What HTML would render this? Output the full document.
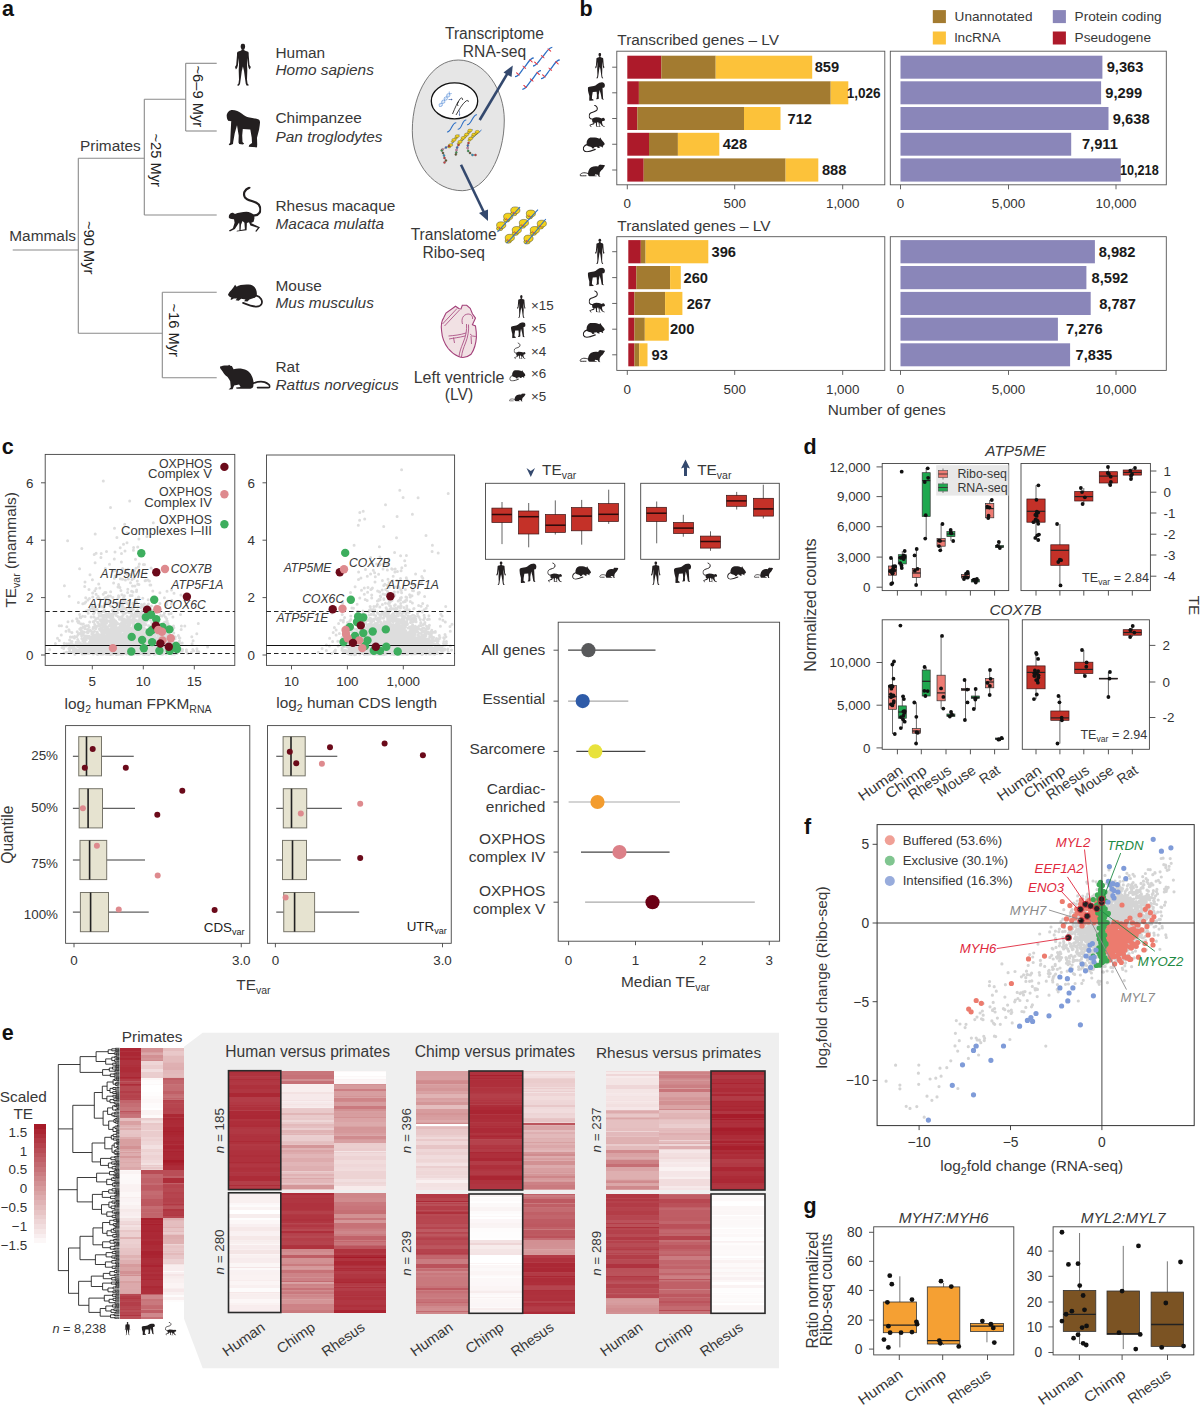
<!DOCTYPE html>
<html><head><meta charset="utf-8"><title>Figure</title>
<style>html,body{margin:0;padding:0;background:#fff;width:1200px;height:1407px;overflow:hidden}
svg{display:block;font-family:"Liberation Sans", sans-serif}</style></head>
<body><svg width="1200" height="1407" viewBox="0 0 1200 1407">
<defs><symbol id="human" viewBox="0 0 16.5 42.7" preserveAspectRatio="none"><ellipse cx="8.4" cy="3" rx="2.2" ry="3" fill="#231F20"/>
<path fill="#231F20" d="M8.4,5.5 L9.8,6 L10,7.2 L13.6,8.3 C14.2,8.8 14.3,10 14.2,11.5 L15,21.5 L16.3,23.5 L15.3,26 L14.2,24.5 L13.5,22 L12.7,14.5 L12.5,21 L12.8,27 L12.5,36 L13,40 L14.5,41.8 L12.3,42.3 L11.3,40.5 L10.5,35 L9.5,27.5 L8.4,23 L7.3,27.5 L6.3,35 L5.5,40.5 L4.3,42.3 L2.5,41.8 L4,40 L4.5,36 L4.2,27 L4.5,21 L4.2,14.5 L3.4,22 L2.6,24.5 L1.4,26 L0.5,23.5 L1.7,21.5 L2.5,11.5 C2.4,10 2.6,8.8 3.2,8.3 L6.8,7.2 L7,6 Z"/></symbol>
<symbol id="humanR" viewBox="0 0 16.5 42.7" preserveAspectRatio="none"><g transform="translate(16.5,0) scale(-1,1)"><ellipse cx="8.4" cy="3" rx="2.2" ry="3" fill="#231F20"/>
<path fill="#231F20" d="M8.4,5.5 L9.8,6 L10,7.2 L13.6,8.3 C14.2,8.8 14.3,10 14.2,11.5 L15,21.5 L16.3,23.5 L15.3,26 L14.2,24.5 L13.5,22 L12.7,14.5 L12.5,21 L12.8,27 L12.5,36 L13,40 L14.5,41.8 L12.3,42.3 L11.3,40.5 L10.5,35 L9.5,27.5 L8.4,23 L7.3,27.5 L6.3,35 L5.5,40.5 L4.3,42.3 L2.5,41.8 L4,40 L4.5,36 L4.2,27 L4.5,21 L4.2,14.5 L3.4,22 L2.6,24.5 L1.4,26 L0.5,23.5 L1.7,21.5 L2.5,11.5 C2.4,10 2.6,8.8 3.2,8.3 L6.8,7.2 L7,6 Z"/></g></symbol>
<symbol id="chimp" viewBox="0 0 34 38.3" preserveAspectRatio="none"><path fill="#231F20" d="M0.4,5.8 C1,2.5 3.5,0.4 5.8,0.4 C9,0.3 13,2 15.8,4.2 C18,6 20,7.3 22,7.8 C26,8.6 30,9 32.5,10 C34,11 34,13 33.5,16 L32.9,20 L30.8,28.3 L31,35 L30.8,37.9 L22.5,37.2 L23,35.5 L25.8,33.6 L25.5,28 L24.1,20 L16.6,19.6 L16,26 L16.3,32.5 L18,34.2 L16.6,35 L13,34.5 L12.3,33 L12.5,26 L10.8,15.8 L8.5,24 L7,32.4 L6.8,34.5 L3.7,35.8 L2.5,35.3 L4,33 L4.2,28.3 L5,11.6 C3.5,11.8 2,11.5 1.5,10.5 C0.8,9.5 0.5,8 0.4,5.8 Z"/></symbol>
<symbol id="chimpR" viewBox="0 0 34 38.3" preserveAspectRatio="none"><g transform="translate(34.0,0) scale(-1,1)"><path fill="#231F20" d="M0.4,5.8 C1,2.5 3.5,0.4 5.8,0.4 C9,0.3 13,2 15.8,4.2 C18,6 20,7.3 22,7.8 C26,8.6 30,9 32.5,10 C34,11 34,13 33.5,16 L32.9,20 L30.8,28.3 L31,35 L30.8,37.9 L22.5,37.2 L23,35.5 L25.8,33.6 L25.5,28 L24.1,20 L16.6,19.6 L16,26 L16.3,32.5 L18,34.2 L16.6,35 L13,34.5 L12.3,33 L12.5,26 L10.8,15.8 L8.5,24 L7,32.4 L6.8,34.5 L3.7,35.8 L2.5,35.3 L4,33 L4.2,28.3 L5,11.6 C3.5,11.8 2,11.5 1.5,10.5 C0.8,9.5 0.5,8 0.4,5.8 Z"/></g></symbol>
<symbol id="rhesus" viewBox="0 0 32.8 45.2" preserveAspectRatio="none"><path fill="#231F20" d="M0.2,30.5 C0.5,28 1.5,26.2 3.8,25.9 C5,25.9 5.8,26.5 6.5,27.2 C10,26 14,25 18,25 C21,25.2 23.5,26 26,28.6 L26,31.6 L25.2,35 L22.6,36.3 L31.6,40.4 L28,45 L26.8,44.4 L29.5,41 L22,38.8 L20.6,35.5 L18.5,36.3 L18.2,43.5 L8.2,44.8 L8.5,44 L16.5,42.5 L16,36 L14.1,34.2 L12.6,38 L12.2,43.5 L11,43.8 L11,38 L10.7,35.8 L6.5,42.2 L1.5,44.8 L0.5,43.6 L4.5,41.4 L6.2,36 L5.6,32.4 C3,32.5 1,32 0.2,30.5 Z"/>
<path fill="none" stroke="#231F20" stroke-width="2.2" stroke-linecap="round" d="M21,0.8 C16,2.5 14.5,7 16.5,10.5 C18.5,13.5 24,14 28,16 C32,18 33,23 31,26 C29.5,28.2 27.5,28.8 25.5,28.5"/></symbol>
<symbol id="rhesusR" viewBox="0 0 32.8 45.2" preserveAspectRatio="none"><g transform="translate(32.8,0) scale(-1,1)"><path fill="#231F20" d="M0.2,30.5 C0.5,28 1.5,26.2 3.8,25.9 C5,25.9 5.8,26.5 6.5,27.2 C10,26 14,25 18,25 C21,25.2 23.5,26 26,28.6 L26,31.6 L25.2,35 L22.6,36.3 L31.6,40.4 L28,45 L26.8,44.4 L29.5,41 L22,38.8 L20.6,35.5 L18.5,36.3 L18.2,43.5 L8.2,44.8 L8.5,44 L16.5,42.5 L16,36 L14.1,34.2 L12.6,38 L12.2,43.5 L11,43.8 L11,38 L10.7,35.8 L6.5,42.2 L1.5,44.8 L0.5,43.6 L4.5,41.4 L6.2,36 L5.6,32.4 C3,32.5 1,32 0.2,30.5 Z"/>
<path fill="none" stroke="#231F20" stroke-width="2.2" stroke-linecap="round" d="M21,0.8 C16,2.5 14.5,7 16.5,10.5 C18.5,13.5 24,14 28,16 C32,18 33,23 31,26 C29.5,28.2 27.5,28.8 25.5,28.5"/></g></symbol>
<symbol id="mouse" viewBox="0 0 36.5 24.5" preserveAspectRatio="none"><path fill="#231F20" d="M0.5,11 C1.5,9 2.5,7.5 4,6.2 L6.2,3.5 L7.8,0.8 L9.4,2.8 C12,1 18,0.2 24,0.9 C28,2 30.3,6 30.2,10.5 C30,12.8 28.8,14 27,14.5 L22.5,15.8 L20.5,18 L17,17.6 L18.5,16 L14,15.2 L11.5,17.2 L8.3,16.8 L9.8,15 L6.5,14.8 L4.2,16.3 L3,15.8 L4,14 C2.8,13.6 1.6,12.8 0.5,11 Z"/>
<path fill="none" stroke="#231F20" stroke-width="1.8" stroke-linecap="round" d="M29.5,12 C34,13 36.5,17 35,20.5 C33.5,24 27,24 16,19.4"/></symbol>
<symbol id="mouseR" viewBox="0 0 36.5 24.5" preserveAspectRatio="none"><g transform="translate(36.5,0) scale(-1,1)"><path fill="#231F20" d="M0.5,11 C1.5,9 2.5,7.5 4,6.2 L6.2,3.5 L7.8,0.8 L9.4,2.8 C12,1 18,0.2 24,0.9 C28,2 30.3,6 30.2,10.5 C30,12.8 28.8,14 27,14.5 L22.5,15.8 L20.5,18 L17,17.6 L18.5,16 L14,15.2 L11.5,17.2 L8.3,16.8 L9.8,15 L6.5,14.8 L4.2,16.3 L3,15.8 L4,14 C2.8,13.6 1.6,12.8 0.5,11 Z"/>
<path fill="none" stroke="#231F20" stroke-width="1.8" stroke-linecap="round" d="M29.5,12 C34,13 36.5,17 35,20.5 C33.5,24 27,24 16,19.4"/></g></symbol>
<symbol id="rat" viewBox="0 0 51 25.5" preserveAspectRatio="none"><path fill="#231F20" d="M0.5,2 C2.5,0.8 6,0.6 8.8,0.9 L9.4,0 L10.6,1.1 L12.3,1.4 C13,2.5 13.5,4 14,4.6 C18,3.6 23,3.6 27.5,6 C31.5,8.5 33.5,13 34.1,18.5 L33.6,22.2 C33,23.6 31.5,24.2 29.5,24.2 L17,24.2 L16.4,23 L21,22.5 L19.5,20 L14.5,21 L13,24.6 L9,24.8 L11.2,23 L10.6,16.6 C9.5,14.5 8.5,13 7.4,12 C5.5,10.5 4,9 3.2,7.2 C2.2,5.6 1.2,4.5 0.9,4.1 C0.4,3.4 0.3,2.5 0.5,2 Z"/>
<path fill="none" stroke="#231F20" stroke-width="1.8" stroke-linecap="round" d="M34,18.5 C38,17 42,16.5 45,17.5 C48,18.5 51,21 50,22.5 C49,23.5 43,23 38,23"/></symbol>
<symbol id="ratR" viewBox="0 0 51 25.5" preserveAspectRatio="none"><g transform="translate(51.0,0) scale(-1,1)"><path fill="#231F20" d="M0.5,2 C2.5,0.8 6,0.6 8.8,0.9 L9.4,0 L10.6,1.1 L12.3,1.4 C13,2.5 13.5,4 14,4.6 C18,3.6 23,3.6 27.5,6 C31.5,8.5 33.5,13 34.1,18.5 L33.6,22.2 C33,23.6 31.5,24.2 29.5,24.2 L17,24.2 L16.4,23 L21,22.5 L19.5,20 L14.5,21 L13,24.6 L9,24.8 L11.2,23 L10.6,16.6 C9.5,14.5 8.5,13 7.4,12 C5.5,10.5 4,9 3.2,7.2 C2.2,5.6 1.2,4.5 0.9,4.1 C0.4,3.4 0.3,2.5 0.5,2 Z"/>
<path fill="none" stroke="#231F20" stroke-width="1.8" stroke-linecap="round" d="M34,18.5 C38,17 42,16.5 45,17.5 C48,18.5 51,21 50,22.5 C49,23.5 43,23 38,23"/></g></symbol></defs>
<text x="2" y="16" font-size="21.5" fill="#111" font-weight="bold">a</text>
<line x1="12.7" y1="250" x2="78.3" y2="250" stroke="#8a8a8a" stroke-width="1.1"/>
<line x1="78.3" y1="158.3" x2="78.3" y2="333.3" stroke="#8a8a8a" stroke-width="1.1"/>
<line x1="78.3" y1="158.3" x2="144.3" y2="158.3" stroke="#8a8a8a" stroke-width="1.1"/>
<line x1="144.3" y1="99.3" x2="144.3" y2="215" stroke="#8a8a8a" stroke-width="1.1"/>
<line x1="144.3" y1="99.3" x2="185.7" y2="99.3" stroke="#8a8a8a" stroke-width="1.1"/>
<line x1="185.7" y1="63.3" x2="185.7" y2="131" stroke="#8a8a8a" stroke-width="1.1"/>
<line x1="185.7" y1="63.3" x2="216.7" y2="63.3" stroke="#8a8a8a" stroke-width="1.1"/>
<line x1="185.7" y1="131" x2="216.7" y2="131" stroke="#8a8a8a" stroke-width="1.1"/>
<line x1="144.3" y1="215" x2="216.7" y2="215" stroke="#8a8a8a" stroke-width="1.1"/>
<line x1="78.3" y1="333.3" x2="162.3" y2="333.3" stroke="#8a8a8a" stroke-width="1.1"/>
<line x1="162.3" y1="292.3" x2="162.3" y2="377.7" stroke="#8a8a8a" stroke-width="1.1"/>
<line x1="162.3" y1="292.3" x2="216.7" y2="292.3" stroke="#8a8a8a" stroke-width="1.1"/>
<line x1="162.3" y1="377.7" x2="216.7" y2="377.7" stroke="#8a8a8a" stroke-width="1.1"/>
<text x="9.3" y="240.5" font-size="15.4" fill="#383838">Mammals</text>
<text x="80" y="151" font-size="15.4" fill="#383838">Primates</text>
<text x="0" y="0" font-size="14.7" fill="#222" transform="translate(84,221) rotate(90)">~90 Myr</text>
<text x="0" y="0" font-size="14.7" fill="#222" transform="translate(150.5,133.5) rotate(90)">~25 Myr</text>
<text x="0" y="0" font-size="14.7" fill="#222" transform="translate(192.5,65.5) rotate(90)">~6–9 Myr</text>
<text x="0" y="0" font-size="14.7" fill="#222" transform="translate(168.5,303.5) rotate(90)">~16 Myr</text>
<use href="#human" x="234.5" y="43.4" width="16.5" height="42.7"/>
<use href="#chimp" x="226.2" y="109.5" width="34" height="38.3"/>
<use href="#rhesus" x="228.4" y="186.8" width="32.8" height="45.2"/>
<use href="#mouse" x="227.5" y="283.9" width="35.5" height="24"/>
<use href="#rat" x="219.6" y="364.6" width="51" height="25.5"/>
<text x="275.5" y="57.6" font-size="15.4" fill="#383838">Human</text>
<text x="275.5" y="75.2" font-size="15.4" fill="#383838" font-style="italic">Homo sapiens</text>
<text x="275.5" y="123.3" font-size="15.4" fill="#383838">Chimpanzee</text>
<text x="275.5" y="141.7" font-size="15.4" fill="#383838" font-style="italic">Pan troglodytes</text>
<text x="275.5" y="211" font-size="15.4" fill="#383838">Rhesus macaque</text>
<text x="275.5" y="229.3" font-size="15.4" fill="#383838" font-style="italic">Macaca mulatta</text>
<text x="275.5" y="290.7" font-size="15.4" fill="#383838">Mouse</text>
<text x="275.5" y="308.3" font-size="15.4" fill="#383838" font-style="italic">Mus musculus</text>
<text x="275.5" y="371.7" font-size="15.4" fill="#383838">Rat</text>
<text x="275.5" y="390" font-size="15.4" fill="#383838" font-style="italic">Rattus norvegicus</text>
<text x="494.5" y="38.8" font-size="15.6" fill="#383838" text-anchor="middle">Transcriptome</text>
<text x="494.5" y="56.7" font-size="15.6" fill="#383838" text-anchor="middle">RNA-seq</text>
<path d="M458.3,60 C485,60 504.3,90 504.3,120 C504.3,158 485,190.7 462.3,190.7 C435,190.7 412.3,165 412.3,130.7 C412.3,92 432,60 458.3,60 Z" fill="#E6E6E6" stroke="#6a6a6a" stroke-width="0.9"/>
<ellipse cx="454.5" cy="100.9" rx="23.2" ry="18" fill="#fff" stroke="#111" stroke-width="1.3"/>
<path d="M439.50,106.50 L440.20,106.48 L440.85,106.43 L441.41,106.30 L441.84,106.07 L442.12,105.73 L442.25,105.27 L442.26,104.70 L442.16,104.06 L442.01,103.38 L441.86,102.69 L441.75,102.04 L441.74,101.47 L441.85,100.99 L442.10,100.62 L442.50,100.37 L443.04,100.22 L443.68,100.16 L444.37,100.14 L445.08,100.13 L445.74,100.08 L446.32,99.97 L446.77,99.76 L447.08,99.43 L447.24,98.99 L447.26,98.45 L447.19,97.82 L447.04,97.14 L446.89,96.45 L446.77,95.79 L446.73,95.20 L446.82,94.70 L447.04,94.31 L447.42,94.04 L447.93,93.88 L448.55,93.80 L449.24,93.78 L449.95,93.77 L450.62,93.73 L451.22,93.63 L451.70,93.44" fill="none" stroke="#3b7bd0" stroke-width="0.6"/>
<path d="M439.50,106.50 L439.35,105.82 L439.25,105.17 L439.24,104.60 L439.36,104.13 L439.63,103.77 L440.05,103.53 L440.59,103.40 L441.24,103.34 L441.94,103.32 L442.64,103.31 L443.30,103.26 L443.86,103.13 L444.30,102.91 L444.60,102.58 L444.75,102.13 L444.76,101.58 L444.67,100.94 L444.53,100.26 L444.37,99.57 L444.26,98.92 L444.23,98.33 L444.33,97.84 L444.57,97.47 L444.96,97.21 L445.49,97.05 L446.11,96.98 L446.81,96.96 L447.51,96.95 L448.18,96.91 L448.77,96.80 L449.23,96.60 L449.56,96.29 L449.73,95.86 L449.77,95.32 L449.70,94.70 L449.56,94.02 L449.40,93.33 L449.28,92.67 L449.23,92.07 L449.30,91.56" fill="none" stroke="#3b7bd0" stroke-width="0.6"/>
<line x1="441.98" y1="105.93" x2="439.46" y2="103.96" stroke="#6a9ae0" stroke-width="0.4"/>
<line x1="442.03" y1="103.46" x2="441.86" y2="103.32" stroke="#6a9ae0" stroke-width="0.4"/>
<line x1="441.92" y1="100.85" x2="444.42" y2="102.82" stroke="#6a9ae0" stroke-width="0.4"/>
<line x1="444.21" y1="100.14" x2="444.56" y2="100.42" stroke="#6a9ae0" stroke-width="0.4"/>
<line x1="446.85" y1="99.7" x2="444.37" y2="97.75" stroke="#6a9ae0" stroke-width="0.4"/>
<line x1="447.09" y1="97.37" x2="446.57" y2="96.96" stroke="#6a9ae0" stroke-width="0.4"/>
<line x1="446.83" y1="94.65" x2="449.28" y2="96.57" stroke="#6a9ae0" stroke-width="0.4"/>
<line x1="448.93" y1="93.78" x2="449.62" y2="94.33" stroke="#6a9ae0" stroke-width="0.4"/>
<path d="M448.5,99.5 L452,99.5" fill="none" stroke="#3b5ba0" stroke-width="0.6"/>
<path d="M451.2,98.6 L452.6,99.5 L451.2,100.4 Z" fill="#3b5ba0"/>
<path d="M452.5,114 C455,108 457,103 460,99 C461,97.5 463,97.5 462.5,100 M456,115 C459,110 462,104 466,101 C467.5,100 469,100.5 468,102 M458,106 C457,104 457.5,102 459,101.5" fill="none" stroke="#111" stroke-width="0.8"/>
<path d="M459.5,110.5 L459.5,115.5" fill="none" stroke="#3b5ba0" stroke-width="0.6"/>
<path d="M458.7,114.5 L459.5,116 L460.3,114.5 Z" fill="#3b5ba0"/>
<path d="M447,132 C451.5,132.5 451.8,122.2 456.3,122.7" fill="none" stroke="#2e6fc4" stroke-width="1.1"/>
<path d="M457.7,129.3 C462.2,129.8 461.8,119.5 466.3,120" fill="none" stroke="#2e6fc4" stroke-width="1.1"/>
<path d="M467,124.7 C471.5,125.2 472.5,114.2 477,114.7" fill="none" stroke="#2e6fc4" stroke-width="1.1"/>
<path d="M449.5,147 L459,134.5" fill="none" stroke="#2e6fc4" stroke-width="0.9"/>
<ellipse cx="449.3" cy="146.9" rx="1.5" ry="1" fill="#f0d020" stroke="#5a4a10" stroke-width="0.35"/>
<ellipse cx="450.6" cy="145.1" rx="2.2" ry="1.4" fill="#f0d020" stroke="#5a4a10" stroke-width="0.35"/>
<ellipse cx="452.7" cy="141.6" rx="1.5" ry="1" fill="#f0d020" stroke="#5a4a10" stroke-width="0.35"/>
<ellipse cx="454.0" cy="139.8" rx="2.2" ry="1.4" fill="#f0d020" stroke="#5a4a10" stroke-width="0.35"/>
<ellipse cx="456.0" cy="137.9" rx="1.5" ry="1" fill="#f0d020" stroke="#5a4a10" stroke-width="0.35"/>
<ellipse cx="457.3" cy="136.1" rx="2.2" ry="1.4" fill="#f0d020" stroke="#5a4a10" stroke-width="0.35"/>
<path d="M449,146 L446,147.5 L442.5,149.5 L441.7,150.5 L443,153 L444,155.5 L444.5,158 L446,160.5 L444.5,162.5" fill="none" stroke="#555" stroke-width="0.4"/>
<circle cx="449" cy="146" r="1.05" fill="#d43a3a" stroke="#333" stroke-width="0.3"/>
<circle cx="446" cy="147.5" r="1.05" fill="#3a6fd0" stroke="#333" stroke-width="0.3"/>
<circle cx="442.5" cy="149.5" r="1.05" fill="#e67fb0" stroke="#333" stroke-width="0.3"/>
<circle cx="441.7" cy="150.5" r="1.05" fill="#3aa050" stroke="#333" stroke-width="0.3"/>
<circle cx="443" cy="153" r="1.05" fill="#6b5a2a" stroke="#333" stroke-width="0.3"/>
<circle cx="444" cy="155.5" r="1.05" fill="#2a9fd0" stroke="#333" stroke-width="0.3"/>
<circle cx="444.5" cy="158" r="1.05" fill="#d43a3a" stroke="#333" stroke-width="0.3"/>
<circle cx="446" cy="160.5" r="1.05" fill="#6b5a2a" stroke="#333" stroke-width="0.3"/>
<circle cx="444.5" cy="162.5" r="1.05" fill="#d43a3a" stroke="#333" stroke-width="0.3"/>
<path d="M458.5,144.5 L472.5,129.5" fill="none" stroke="#2e6fc4" stroke-width="0.9"/>
<ellipse cx="458.7" cy="143.6" rx="1.5" ry="1" fill="#f0d020" stroke="#5a4a10" stroke-width="0.35"/>
<ellipse cx="460.0" cy="141.8" rx="2.2" ry="1.4" fill="#f0d020" stroke="#5a4a10" stroke-width="0.35"/>
<ellipse cx="462.0" cy="139.6" rx="1.5" ry="1" fill="#f0d020" stroke="#5a4a10" stroke-width="0.35"/>
<ellipse cx="463.3" cy="137.8" rx="2.2" ry="1.4" fill="#f0d020" stroke="#5a4a10" stroke-width="0.35"/>
<ellipse cx="465.3" cy="136.3" rx="1.5" ry="1" fill="#f0d020" stroke="#5a4a10" stroke-width="0.35"/>
<ellipse cx="466.6" cy="134.5" rx="2.2" ry="1.4" fill="#f0d020" stroke="#5a4a10" stroke-width="0.35"/>
<ellipse cx="468.7" cy="132.3" rx="1.5" ry="1" fill="#f0d020" stroke="#5a4a10" stroke-width="0.35"/>
<ellipse cx="470.0" cy="130.5" rx="2.2" ry="1.4" fill="#f0d020" stroke="#5a4a10" stroke-width="0.35"/>
<path d="M458.5,145 L457.2,147.5 L456.5,150 L456.3,152.5 L455.8,154.5" fill="none" stroke="#555" stroke-width="0.4"/>
<circle cx="458.5" cy="145" r="1.05" fill="#d43a3a" stroke="#333" stroke-width="0.3"/>
<circle cx="457.2" cy="147.5" r="1.05" fill="#3a6fd0" stroke="#333" stroke-width="0.3"/>
<circle cx="456.5" cy="150" r="1.05" fill="#e67fb0" stroke="#333" stroke-width="0.3"/>
<circle cx="456.3" cy="152.5" r="1.05" fill="#3aa050" stroke="#333" stroke-width="0.3"/>
<circle cx="455.8" cy="154.5" r="1.05" fill="#6b5a2a" stroke="#333" stroke-width="0.3"/>
<path d="M469,141 L481.5,130" fill="none" stroke="#2e6fc4" stroke-width="0.9"/>
<ellipse cx="469.3" cy="140.3" rx="1.5" ry="1" fill="#f0d020" stroke="#5a4a10" stroke-width="0.35"/>
<ellipse cx="470.6" cy="138.5" rx="2.2" ry="1.4" fill="#f0d020" stroke="#5a4a10" stroke-width="0.35"/>
<ellipse cx="472.7" cy="136.3" rx="1.5" ry="1" fill="#f0d020" stroke="#5a4a10" stroke-width="0.35"/>
<ellipse cx="474.0" cy="134.5" rx="2.2" ry="1.4" fill="#f0d020" stroke="#5a4a10" stroke-width="0.35"/>
<ellipse cx="476.0" cy="133.6" rx="1.5" ry="1" fill="#f0d020" stroke="#5a4a10" stroke-width="0.35"/>
<ellipse cx="477.3" cy="131.8" rx="2.2" ry="1.4" fill="#f0d020" stroke="#5a4a10" stroke-width="0.35"/>
<path d="M468.5,143 L467.8,145.5 L467.6,148 L468.2,151 L470,153 L472.5,155 L475.5,155" fill="none" stroke="#555" stroke-width="0.4"/>
<circle cx="468.5" cy="143" r="1.05" fill="#d43a3a" stroke="#333" stroke-width="0.3"/>
<circle cx="467.8" cy="145.5" r="1.05" fill="#3a6fd0" stroke="#333" stroke-width="0.3"/>
<circle cx="467.6" cy="148" r="1.05" fill="#e67fb0" stroke="#333" stroke-width="0.3"/>
<circle cx="468.2" cy="151" r="1.05" fill="#3aa050" stroke="#333" stroke-width="0.3"/>
<circle cx="470" cy="153" r="1.05" fill="#6b5a2a" stroke="#333" stroke-width="0.3"/>
<circle cx="472.5" cy="155" r="1.05" fill="#2a9fd0" stroke="#333" stroke-width="0.3"/>
<circle cx="475.5" cy="155" r="1.05" fill="#d43a3a" stroke="#333" stroke-width="0.3"/>
<line x1="479.7" y1="120" x2="509" y2="71" stroke="#34496E" stroke-width="2.6"/>
<path d="M512.8,65.5 L503.5,72.5 L511.5,77 Z" fill="#34496E"/>
<line x1="461" y1="164.7" x2="484.5" y2="213.5" stroke="#34496E" stroke-width="2.6"/>
<path d="M488,221 L479,213 L488,209.5 Z" fill="#34496E"/>
<path d="M515,76.7 C519,76.7 521.35,70.35 524.35,67.35 C527.35,64.35 529.7,58 533.7,58" fill="none" stroke="#2e6fc4" stroke-width="1.3"/>
<line x1="516.11" y1="72.8" x2="519.51" y2="74.99" stroke="#e8404a" stroke-width="1"/>
<line x1="516.71" y1="72.39" x2="518.91" y2="75.39" stroke="#e8404a" stroke-width="0.8"/>
<line x1="522.65" y1="66.25" x2="526.05" y2="68.45" stroke="#e8404a" stroke-width="1"/>
<line x1="523.25" y1="65.85" x2="525.45" y2="68.85" stroke="#e8404a" stroke-width="0.8"/>
<line x1="529.19" y1="59.7" x2="532.6" y2="61.91" stroke="#e8404a" stroke-width="1"/>
<line x1="529.79" y1="59.3" x2="532" y2="62.3" stroke="#e8404a" stroke-width="0.8"/>
<path d="M533,66 C537,66 539.65,59.65 542.65,56.65 C545.65,53.65 548.3,47.3 552.3,47.3" fill="none" stroke="#2e6fc4" stroke-width="1.3"/>
<line x1="534.19" y1="62.09" x2="537.6" y2="64.3" stroke="#e8404a" stroke-width="1"/>
<line x1="534.79" y1="61.7" x2="537" y2="64.69" stroke="#e8404a" stroke-width="0.8"/>
<line x1="540.95" y1="55.55" x2="544.35" y2="57.75" stroke="#e8404a" stroke-width="1"/>
<line x1="541.55" y1="55.15" x2="543.75" y2="58.15" stroke="#e8404a" stroke-width="0.8"/>
<line x1="547.7" y1="49" x2="551.11" y2="51.2" stroke="#e8404a" stroke-width="1"/>
<line x1="548.3" y1="48.6" x2="550.5" y2="51.6" stroke="#e8404a" stroke-width="0.8"/>
<path d="M522.3,89.3 C526.3,89.3 528.65,83.0 531.65,80.0 C534.65,77.0 537,70.7 541,70.7" fill="none" stroke="#2e6fc4" stroke-width="1.3"/>
<line x1="523.4" y1="85.41" x2="526.81" y2="87.61" stroke="#e8404a" stroke-width="1"/>
<line x1="524" y1="85.01" x2="526.21" y2="88.01" stroke="#e8404a" stroke-width="0.8"/>
<line x1="529.95" y1="78.9" x2="533.35" y2="81.1" stroke="#e8404a" stroke-width="1"/>
<line x1="530.55" y1="78.5" x2="532.75" y2="81.5" stroke="#e8404a" stroke-width="0.8"/>
<line x1="536.49" y1="72.39" x2="539.89" y2="74.59" stroke="#e8404a" stroke-width="1"/>
<line x1="537.09" y1="71.99" x2="539.29" y2="74.99" stroke="#e8404a" stroke-width="0.8"/>
<path d="M541,78.7 C545,78.7 547.35,72.35 550.35,69.35 C553.35,66.35 555.7,60 559.7,60" fill="none" stroke="#2e6fc4" stroke-width="1.3"/>
<line x1="542.11" y1="74.8" x2="545.51" y2="76.99" stroke="#e8404a" stroke-width="1"/>
<line x1="542.71" y1="74.39" x2="544.91" y2="77.39" stroke="#e8404a" stroke-width="0.8"/>
<line x1="548.65" y1="68.25" x2="552.05" y2="70.45" stroke="#e8404a" stroke-width="1"/>
<line x1="549.25" y1="67.85" x2="551.45" y2="70.85" stroke="#e8404a" stroke-width="0.8"/>
<line x1="555.19" y1="61.7" x2="558.6" y2="63.91" stroke="#e8404a" stroke-width="1"/>
<line x1="555.79" y1="61.3" x2="558" y2="64.31" stroke="#e8404a" stroke-width="0.8"/>
<text x="453.7" y="240.3" font-size="15.6" fill="#383838" text-anchor="middle">Translatome</text>
<text x="453.7" y="258.2" font-size="15.6" fill="#383838" text-anchor="middle">Ribo-seq</text>
<ellipse cx="499.7" cy="228.5" rx="3.2" ry="2.2" fill="#F3D21C" stroke="#4a4a2a" stroke-width="0.5"/>
<ellipse cx="501.2" cy="225.2" rx="4.6" ry="3.4" fill="#F3D21C" stroke="#4a4a2a" stroke-width="0.5"/>
<ellipse cx="506.7" cy="219.9" rx="3.2" ry="2.2" fill="#F3D21C" stroke="#4a4a2a" stroke-width="0.5"/>
<ellipse cx="508.2" cy="216.6" rx="4.6" ry="3.4" fill="#F3D21C" stroke="#4a4a2a" stroke-width="0.5"/>
<ellipse cx="513.8" cy="213.6" rx="3.2" ry="2.2" fill="#F3D21C" stroke="#4a4a2a" stroke-width="0.5"/>
<ellipse cx="515.3" cy="210.3" rx="4.6" ry="3.4" fill="#F3D21C" stroke="#4a4a2a" stroke-width="0.5"/>
<path d="M497.5,232 L520,207" fill="none" stroke="#2e6fc4" stroke-width="1.1"/>
<line x1="498.7" y1="226.7" x2="500.7" y2="228.5" stroke="#e8404a" stroke-width="1"/>
<line x1="505.7" y1="218.1" x2="507.7" y2="219.9" stroke="#e8404a" stroke-width="1"/>
<line x1="512.8" y1="211.8" x2="514.8" y2="213.6" stroke="#e8404a" stroke-width="1"/>
<ellipse cx="508.3" cy="241.0" rx="3.2" ry="2.2" fill="#F3D21C" stroke="#4a4a2a" stroke-width="0.5"/>
<ellipse cx="509.8" cy="237.7" rx="4.6" ry="3.4" fill="#F3D21C" stroke="#4a4a2a" stroke-width="0.5"/>
<ellipse cx="515.3" cy="233.2" rx="3.2" ry="2.2" fill="#F3D21C" stroke="#4a4a2a" stroke-width="0.5"/>
<ellipse cx="516.8" cy="229.9" rx="4.6" ry="3.4" fill="#F3D21C" stroke="#4a4a2a" stroke-width="0.5"/>
<ellipse cx="522.4" cy="226.1" rx="3.2" ry="2.2" fill="#F3D21C" stroke="#4a4a2a" stroke-width="0.5"/>
<ellipse cx="523.9" cy="222.8" rx="4.6" ry="3.4" fill="#F3D21C" stroke="#4a4a2a" stroke-width="0.5"/>
<ellipse cx="529.4" cy="216.8" rx="3.2" ry="2.2" fill="#F3D21C" stroke="#4a4a2a" stroke-width="0.5"/>
<ellipse cx="530.9" cy="213.5" rx="4.6" ry="3.4" fill="#F3D21C" stroke="#4a4a2a" stroke-width="0.5"/>
<path d="M506.6,243.2 L538,209.6" fill="none" stroke="#2e6fc4" stroke-width="1.1"/>
<line x1="507.3" y1="239.2" x2="509.3" y2="241" stroke="#e8404a" stroke-width="1"/>
<line x1="514.3" y1="231.4" x2="516.3" y2="233.2" stroke="#e8404a" stroke-width="1"/>
<line x1="521.4" y1="224.3" x2="523.4" y2="226.1" stroke="#e8404a" stroke-width="1"/>
<line x1="528.4" y1="215" x2="530.4" y2="216.8" stroke="#e8404a" stroke-width="1"/>
<ellipse cx="527.0" cy="241.8" rx="3.2" ry="2.2" fill="#F3D21C" stroke="#4a4a2a" stroke-width="0.5"/>
<ellipse cx="528.5" cy="238.5" rx="4.6" ry="3.4" fill="#F3D21C" stroke="#4a4a2a" stroke-width="0.5"/>
<ellipse cx="533.3" cy="233.2" rx="3.2" ry="2.2" fill="#F3D21C" stroke="#4a4a2a" stroke-width="0.5"/>
<ellipse cx="534.8" cy="229.9" rx="4.6" ry="3.4" fill="#F3D21C" stroke="#4a4a2a" stroke-width="0.5"/>
<ellipse cx="540.3" cy="226.9" rx="3.2" ry="2.2" fill="#F3D21C" stroke="#4a4a2a" stroke-width="0.5"/>
<ellipse cx="541.8" cy="223.6" rx="4.6" ry="3.4" fill="#F3D21C" stroke="#4a4a2a" stroke-width="0.5"/>
<path d="M525.4,244 L545.8,219" fill="none" stroke="#2e6fc4" stroke-width="1.1"/>
<line x1="526" y1="240" x2="528" y2="241.8" stroke="#e8404a" stroke-width="1"/>
<line x1="532.3" y1="231.4" x2="534.3" y2="233.2" stroke="#e8404a" stroke-width="1"/>
<line x1="539.3" y1="225.1" x2="541.3" y2="226.9" stroke="#e8404a" stroke-width="1"/>
<path d="M443.8,317.6 C441.5,321 441,327 441.6,331 C442,337 444,343 448.2,348.5 C451,352 455,355 458.5,356.5 C462,358 467,357.5 471.1,354.2 C474,350 476,343 476.4,337.4 C476.6,333 476,329 475.5,326 L472.4,324.7 L475.5,318.1 L472.4,313.7 L470.2,308.4 L466.7,305.3 L462.3,305.3 L461,309 L459.2,308.8 L455.5,306.2 L446,313 Z" fill="#F1E1E4" stroke="#A3407A" stroke-width="1.1"/>
<path d="M442.5,324 L457,308.5 M444.5,326 L459.5,310 M462.5,324 C461,319 463,314.5 468,314 C471,314 473,316 472.5,319 M466.5,324 C467,330 466,336 463,343 C461,348 459.5,352 459,356.5 M468.5,324.5 C469,330 468,337 465.5,343 C463.5,348 462,352 461.5,357 M448.5,336 C454,335.5 460,335 466,333 M449,339 C454,338 459,337.5 465,336 M453.5,337.5 L454.5,343 M470,334 L472.5,336 L475.8,336.5 M471,336 L471.5,344" fill="none" stroke="#A3407A" stroke-width="0.8"/>
<text x="459" y="383" font-size="16" fill="#383838" text-anchor="middle">Left ventricle</text>
<text x="459" y="399.8" font-size="15.6" fill="#383838" text-anchor="middle">(LV)</text>
<use href="#human" x="516.8" y="295.1" width="8.9" height="23"/>
<use href="#chimpR" x="510.9" y="322.2" width="14.8" height="16.1"/>
<use href="#rhesusR" x="513.7" y="342.5" width="12" height="16.7"/>
<use href="#mouseR" x="509.3" y="369.9" width="16.4" height="11.7"/>
<use href="#ratR" x="509" y="393.3" width="16.7" height="8.4"/>
<text x="531" y="310.4" font-size="13.4" fill="#383838">×15</text>
<text x="531" y="333.1" font-size="13.4" fill="#383838">×5</text>
<text x="531" y="355.5" font-size="13.4" fill="#383838">×4</text>
<text x="531" y="377.7" font-size="13.4" fill="#383838">×6</text>
<text x="531" y="401.2" font-size="13.4" fill="#383838">×5</text>
<text x="579.5" y="16" font-size="21.5" fill="#111" font-weight="bold">b</text>
<rect x="932.8" y="10.1" width="13.1" height="13" fill="#A37B30"/>
<text x="954.6" y="20.6" font-size="13.6" fill="#383838">Unannotated</text>
<rect x="932.8" y="31.5" width="13.1" height="13" fill="#FCC23A"/>
<text x="954.6" y="42" font-size="13.6" fill="#383838">lncRNA</text>
<rect x="1052.8" y="10.1" width="13.1" height="13" fill="#8A86B9"/>
<text x="1074.6" y="20.6" font-size="13.6" fill="#383838">Protein coding</text>
<rect x="1052.8" y="31.5" width="13.1" height="13" fill="#AD1A2A"/>
<text x="1074.6" y="42" font-size="13.6" fill="#383838">Pseudogene</text>
<text x="617.3" y="45.3" font-size="15.4" fill="#383838">Transcribed genes – LV</text>
<rect x="616.8" y="51.2" width="268" height="133.6" fill="none" stroke="#555" stroke-width="0.9"/>
<rect x="890.3" y="51.2" width="276" height="133.6" fill="none" stroke="#555" stroke-width="0.9"/>
<rect x="627.3" y="55.7" width="34" height="23" fill="#AD1A2A"/>
<rect x="661.3" y="55.7" width="54.4" height="23" fill="#A37B30"/>
<rect x="715.7" y="55.7" width="96.5" height="23" fill="#FCC23A"/>
<rect x="900.5" y="55.7" width="201.9" height="23" fill="#8A86B9"/>
<text x="814.7" y="72.3" font-size="14.7" fill="#1a1a1a" font-weight="bold">859</text>
<text x="1106.7" y="72.3" font-size="14.7" fill="#1a1a1a" font-weight="bold">9,363</text>
<line x1="612.2" y1="67.2" x2="616.8" y2="67.2" stroke="#555" stroke-width="0.9"/>
<rect x="627.3" y="81.3" width="11.6" height="23" fill="#AD1A2A"/>
<rect x="638.9" y="81.3" width="191.8" height="23" fill="#A37B30"/>
<rect x="830.7" y="81.3" width="17.6" height="23" fill="#FCC23A"/>
<rect x="900.5" y="81.3" width="200.6" height="23" fill="#8A86B9"/>
<text x="846.7" y="97.9" font-size="14.7" fill="#1a1a1a" font-weight="bold" textLength="34" lengthAdjust="spacingAndGlyphs">1,026</text>
<text x="1105.3" y="97.9" font-size="14.7" fill="#1a1a1a" font-weight="bold">9,299</text>
<line x1="612.2" y1="92.8" x2="616.8" y2="92.8" stroke="#555" stroke-width="0.9"/>
<rect x="627.3" y="107" width="10" height="23" fill="#AD1A2A"/>
<rect x="637.3" y="107" width="106.7" height="23" fill="#A37B30"/>
<rect x="744" y="107" width="36.5" height="23" fill="#FCC23A"/>
<rect x="900.5" y="107" width="208" height="23" fill="#8A86B9"/>
<text x="787.5" y="123.6" font-size="14.7" fill="#1a1a1a" font-weight="bold">712</text>
<text x="1112.8" y="123.6" font-size="14.7" fill="#1a1a1a" font-weight="bold">9,638</text>
<line x1="612.2" y1="118.5" x2="616.8" y2="118.5" stroke="#555" stroke-width="0.9"/>
<rect x="627.3" y="132.8" width="21.7" height="22.9" fill="#AD1A2A"/>
<rect x="649" y="132.8" width="28.9" height="22.9" fill="#A37B30"/>
<rect x="677.9" y="132.8" width="41.4" height="22.9" fill="#FCC23A"/>
<rect x="900.5" y="132.8" width="170.7" height="22.9" fill="#8A86B9"/>
<text x="722.7" y="149.4" font-size="14.7" fill="#1a1a1a" font-weight="bold">428</text>
<text x="1081.9" y="149.4" font-size="14.7" fill="#1a1a1a" font-weight="bold">7,911</text>
<line x1="612.2" y1="144.25" x2="616.8" y2="144.25" stroke="#555" stroke-width="0.9"/>
<rect x="627.3" y="158.4" width="16.4" height="23.2" fill="#AD1A2A"/>
<rect x="643.7" y="158.4" width="141.9" height="23.2" fill="#A37B30"/>
<rect x="785.6" y="158.4" width="32.7" height="23.2" fill="#FCC23A"/>
<rect x="900.5" y="158.4" width="220.3" height="23.2" fill="#8A86B9"/>
<text x="821.9" y="175" font-size="14.7" fill="#1a1a1a" font-weight="bold">888</text>
<text x="1120" y="175" font-size="14.7" fill="#1a1a1a" font-weight="bold" textLength="38.7" lengthAdjust="spacingAndGlyphs">10,218</text>
<line x1="612.2" y1="170" x2="616.8" y2="170" stroke="#555" stroke-width="0.9"/>
<line x1="627.3" y1="184.8" x2="627.3" y2="189.3" stroke="#555" stroke-width="0.9"/>
<text x="627.3" y="208.3" font-size="13.4" fill="#333" text-anchor="middle">0</text>
<line x1="734.7" y1="184.8" x2="734.7" y2="189.3" stroke="#555" stroke-width="0.9"/>
<text x="734.7" y="208.3" font-size="13.4" fill="#333" text-anchor="middle">500</text>
<line x1="842.7" y1="184.8" x2="842.7" y2="189.3" stroke="#555" stroke-width="0.9"/>
<text x="842.7" y="208.3" font-size="13.4" fill="#333" text-anchor="middle">1,000</text>
<line x1="900.5" y1="184.8" x2="900.5" y2="189.3" stroke="#555" stroke-width="0.9"/>
<text x="900.5" y="208.3" font-size="13.4" fill="#333" text-anchor="middle">0</text>
<line x1="1008.5" y1="184.8" x2="1008.5" y2="189.3" stroke="#555" stroke-width="0.9"/>
<text x="1008.5" y="208.3" font-size="13.4" fill="#333" text-anchor="middle">5,000</text>
<line x1="1116" y1="184.8" x2="1116" y2="189.3" stroke="#555" stroke-width="0.9"/>
<text x="1116" y="208.3" font-size="13.4" fill="#333" text-anchor="middle">10,000</text>
<use href="#humanR" x="595" y="52.9" width="9.8" height="25.8"/>
<use href="#chimpR" x="587.7" y="82.1" width="17.4" height="18.9"/>
<use href="#rhesusR" x="588.7" y="104.9" width="16.4" height="22.4"/>
<use href="#mouseR" x="582.7" y="137" width="22.4" height="15.6"/>
<use href="#ratR" x="579.5" y="164.3" width="25.6" height="12.7"/>
<text x="617.3" y="231.3" font-size="15.4" fill="#383838">Translated genes – LV</text>
<rect x="616.8" y="236.7" width="268" height="133.7" fill="none" stroke="#555" stroke-width="0.9"/>
<rect x="890.3" y="236.7" width="276" height="133.7" fill="none" stroke="#555" stroke-width="0.9"/>
<rect x="628.3" y="240.1" width="12.5" height="23.2" fill="#AD1A2A"/>
<rect x="640.8" y="240.1" width="4.8" height="23.2" fill="#A37B30"/>
<rect x="645.6" y="240.1" width="62.7" height="23.2" fill="#FCC23A"/>
<rect x="900.5" y="240.1" width="194.4" height="23.2" fill="#8A86B9"/>
<text x="711.5" y="256.7" font-size="14.7" fill="#1a1a1a" font-weight="bold">396</text>
<text x="1098.7" y="256.7" font-size="14.7" fill="#1a1a1a" font-weight="bold">8,982</text>
<line x1="612.2" y1="251.7" x2="616.8" y2="251.7" stroke="#555" stroke-width="0.9"/>
<rect x="628.3" y="266" width="8" height="23.2" fill="#AD1A2A"/>
<rect x="636.3" y="266" width="33.8" height="23.2" fill="#A37B30"/>
<rect x="670.1" y="266" width="10.7" height="23.2" fill="#FCC23A"/>
<rect x="900.5" y="266" width="185.9" height="23.2" fill="#8A86B9"/>
<text x="683.5" y="282.6" font-size="14.7" fill="#1a1a1a" font-weight="bold">260</text>
<text x="1091.5" y="282.6" font-size="14.7" fill="#1a1a1a" font-weight="bold">8,592</text>
<line x1="612.2" y1="277.6" x2="616.8" y2="277.6" stroke="#555" stroke-width="0.9"/>
<rect x="628.3" y="291.9" width="6.1" height="23.1" fill="#AD1A2A"/>
<rect x="634.4" y="291.9" width="30.7" height="23.1" fill="#A37B30"/>
<rect x="665.1" y="291.9" width="17.3" height="23.1" fill="#FCC23A"/>
<rect x="900.5" y="291.9" width="190.2" height="23.1" fill="#8A86B9"/>
<text x="686.7" y="308.5" font-size="14.7" fill="#1a1a1a" font-weight="bold">267</text>
<text x="1099.2" y="308.5" font-size="14.7" fill="#1a1a1a" font-weight="bold">8,787</text>
<line x1="612.2" y1="303.45" x2="616.8" y2="303.45" stroke="#555" stroke-width="0.9"/>
<rect x="628.3" y="317.7" width="6.1" height="23" fill="#AD1A2A"/>
<rect x="634.4" y="317.7" width="10.4" height="23" fill="#A37B30"/>
<rect x="644.8" y="317.7" width="24" height="23" fill="#FCC23A"/>
<rect x="900.5" y="317.7" width="157.4" height="23" fill="#8A86B9"/>
<text x="669.9" y="334.3" font-size="14.7" fill="#1a1a1a" font-weight="bold">200</text>
<text x="1065.9" y="334.3" font-size="14.7" fill="#1a1a1a" font-weight="bold">7,276</text>
<line x1="612.2" y1="329.2" x2="616.8" y2="329.2" stroke="#555" stroke-width="0.9"/>
<rect x="628.3" y="343.3" width="6.1" height="23" fill="#AD1A2A"/>
<rect x="634.4" y="343.3" width="4.8" height="23" fill="#A37B30"/>
<rect x="639.2" y="343.3" width="8.3" height="23" fill="#FCC23A"/>
<rect x="900.5" y="343.3" width="169.6" height="23" fill="#8A86B9"/>
<text x="651.5" y="359.9" font-size="14.7" fill="#1a1a1a" font-weight="bold">93</text>
<text x="1075.5" y="359.9" font-size="14.7" fill="#1a1a1a" font-weight="bold">7,835</text>
<line x1="612.2" y1="354.8" x2="616.8" y2="354.8" stroke="#555" stroke-width="0.9"/>
<line x1="627.3" y1="370.4" x2="627.3" y2="374.9" stroke="#555" stroke-width="0.9"/>
<text x="627.3" y="393.9" font-size="13.4" fill="#333" text-anchor="middle">0</text>
<line x1="734.7" y1="370.4" x2="734.7" y2="374.9" stroke="#555" stroke-width="0.9"/>
<text x="734.7" y="393.9" font-size="13.4" fill="#333" text-anchor="middle">500</text>
<line x1="842.7" y1="370.4" x2="842.7" y2="374.9" stroke="#555" stroke-width="0.9"/>
<text x="842.7" y="393.9" font-size="13.4" fill="#333" text-anchor="middle">1,000</text>
<line x1="900.5" y1="370.4" x2="900.5" y2="374.9" stroke="#555" stroke-width="0.9"/>
<text x="900.5" y="393.9" font-size="13.4" fill="#333" text-anchor="middle">0</text>
<line x1="1008.5" y1="370.4" x2="1008.5" y2="374.9" stroke="#555" stroke-width="0.9"/>
<text x="1008.5" y="393.9" font-size="13.4" fill="#333" text-anchor="middle">5,000</text>
<line x1="1116" y1="370.4" x2="1116" y2="374.9" stroke="#555" stroke-width="0.9"/>
<text x="1116" y="393.9" font-size="13.4" fill="#333" text-anchor="middle">10,000</text>
<use href="#humanR" x="595" y="238.4" width="9.8" height="25.8"/>
<use href="#chimpR" x="587.7" y="267.6" width="17.4" height="18.9"/>
<use href="#rhesusR" x="588.7" y="290.4" width="16.4" height="22.4"/>
<use href="#mouseR" x="582.7" y="322.5" width="22.4" height="15.6"/>
<use href="#ratR" x="579.5" y="349.8" width="25.6" height="12.7"/>
<text x="886.7" y="415" font-size="15.4" fill="#383838" text-anchor="middle">Number of genes</text>
<text x="1.8" y="454" font-size="21.5" fill="#111" font-weight="bold">c</text>
<path d="M119.2 638.8h0M119.9 647.5h0M104.1 646.8h0M149.9 640.1h0M148.2 642.3h0M133.8 643.1h0M87.6 632.8h0M136.3 639.0h0M87.0 653.0h0M105.0 648.5h0M131.8 645.4h0M136.6 649.5h0M131.9 640.5h0M110.1 605.4h0M137.4 624.4h0M111.0 650.0h0M117.2 645.9h0M139.1 642.3h0M114.9 650.9h0M113.3 623.7h0M106.8 642.4h0M134.5 652.5h0M126.0 621.2h0M79.7 647.6h0M122.6 650.3h0M136.1 645.5h0M92.1 633.3h0M140.0 630.8h0M157.3 640.9h0M127.6 652.0h0M138.8 649.3h0M114.8 651.9h0M103.2 648.9h0M153.9 653.5h0M92.2 642.5h0M157.3 637.8h0M82.3 654.0h0M133.0 649.9h0M99.8 630.1h0M149.7 643.4h0M130.5 640.0h0M160.7 637.1h0M136.6 638.3h0M89.7 621.9h0M146.4 638.6h0M80.6 649.4h0M143.8 653.1h0M120.8 629.1h0M95.5 610.1h0M137.3 646.3h0M132.2 636.6h0M127.6 625.9h0M110.1 648.2h0M148.3 644.7h0M105.2 630.8h0M157.8 648.4h0M94.0 646.1h0M121.6 647.4h0M156.5 651.1h0M153.2 651.9h0M107.3 636.9h0M150.3 632.7h0M132.7 643.5h0M128.4 637.9h0M121.0 642.0h0M137.8 644.9h0M142.1 638.0h0M170.1 641.4h0M115.3 647.9h0M124.6 631.3h0M117.4 640.6h0M166.2 654.1h0M99.7 642.4h0M133.9 642.5h0M115.3 636.5h0M131.3 648.8h0M179.5 641.0h0M112.5 645.8h0M119.9 645.5h0M63.7 648.6h0M147.6 651.6h0M123.4 630.6h0M144.2 614.8h0M86.8 647.8h0M117.3 637.1h0M149.4 654.2h0M149.4 652.4h0M140.3 652.5h0M128.9 624.5h0M121.6 643.0h0M142.8 643.5h0M123.0 613.2h0M148.5 647.4h0M186.5 651.5h0M145.5 647.2h0M127.9 635.7h0M129.9 636.8h0M90.7 652.5h0M138.7 650.9h0M101.9 652.4h0M153.4 634.9h0M158.0 650.8h0M125.0 651.5h0M142.1 611.0h0M105.0 612.1h0M147.1 646.5h0M80.7 617.8h0M122.8 649.3h0M133.9 640.3h0M158.6 651.1h0M150.4 614.9h0M157.5 646.5h0M108.2 629.1h0M127.5 643.7h0M156.9 647.1h0M73.4 648.0h0M83.3 633.5h0M132.1 649.3h0M124.7 633.2h0M126.7 620.5h0M123.6 628.6h0M158.4 610.1h0M109.9 632.2h0M82.8 651.3h0M80.9 627.9h0M97.3 645.1h0M120.6 645.2h0M111.7 642.5h0M165.1 644.5h0M136.9 629.5h0M120.5 651.9h0M112.5 627.7h0M88.0 649.2h0M147.5 634.0h0M125.1 633.8h0M128.7 651.6h0M89.8 649.5h0M145.6 649.1h0M104.7 650.1h0M90.6 646.0h0M98.5 640.9h0M72.0 641.4h0M110.5 653.4h0M141.2 647.2h0M74.9 650.5h0M131.5 648.4h0M142.4 634.9h0M139.9 641.4h0M154.9 636.4h0M135.1 653.6h0M145.1 621.1h0M118.3 648.5h0M168.5 653.0h0M135.5 559.3h0M104.1 635.9h0M167.3 646.0h0M137.5 631.8h0M104.6 645.8h0M131.5 633.4h0M124.2 646.6h0M102.1 647.8h0M144.9 644.0h0M105.8 650.4h0M184.8 626.0h0M139.2 654.1h0M138.9 639.3h0M162.7 640.0h0M123.4 638.7h0M81.3 628.7h0M132.2 649.8h0M154.7 601.0h0M93.5 649.6h0M131.5 643.1h0M116.0 650.9h0M172.5 628.6h0M98.1 652.1h0M163.2 629.8h0M165.8 633.7h0M105.4 642.2h0M76.5 650.0h0M123.6 638.7h0M108.6 646.1h0M135.2 640.7h0M139.3 642.8h0M117.7 634.1h0M126.0 650.3h0M110.9 645.0h0M122.5 643.4h0M124.9 643.2h0M121.9 651.9h0M134.4 628.2h0M134.7 646.6h0M135.0 650.9h0M82.4 644.4h0M104.1 635.0h0M100.6 654.1h0M101.6 611.4h0M116.4 652.2h0M107.8 638.7h0M136.1 643.2h0M158.2 635.6h0M124.5 637.5h0M162.1 630.2h0M147.9 651.3h0M121.6 635.2h0M118.3 627.9h0M138.3 631.6h0M120.2 547.8h0M152.8 646.8h0M127.0 542.8h0M117.2 632.4h0M146.9 644.9h0M98.7 643.0h0M133.0 626.3h0M142.5 644.7h0M144.1 638.4h0M129.6 644.4h0M119.5 636.0h0M101.3 649.4h0M125.1 652.4h0M115.2 653.4h0M109.6 638.0h0M137.6 645.5h0M119.7 652.3h0M166.0 638.8h0M149.5 650.6h0M120.8 653.2h0M142.5 631.0h0M82.4 645.4h0M139.1 653.0h0M84.0 651.3h0M110.8 652.3h0M125.6 642.3h0M139.2 635.7h0M158.7 625.3h0M95.5 648.7h0M101.2 651.3h0M123.1 644.9h0M135.9 652.7h0M97.2 645.2h0M120.5 647.5h0M123.5 650.0h0M140.7 641.0h0M123.0 649.6h0M121.0 654.2h0M102.9 644.6h0M91.2 642.9h0M128.2 652.2h0M119.3 647.5h0M135.3 637.3h0M124.1 650.4h0M121.7 645.5h0M141.4 641.8h0M108.7 652.2h0M116.6 650.0h0M100.0 646.0h0M113.9 643.9h0M136.7 648.2h0M177.1 647.6h0M149.7 643.8h0M150.0 653.9h0M108.1 642.4h0M138.5 566.8h0M132.2 622.0h0M142.1 630.8h0M136.4 646.3h0M136.4 651.3h0M151.4 651.1h0M130.5 582.8h0M119.9 644.8h0M151.0 644.7h0M106.8 642.2h0M138.0 635.6h0M107.6 603.7h0M162.3 644.8h0M131.0 648.3h0M156.7 649.8h0M140.1 648.6h0M109.4 635.4h0M154.9 645.1h0M109.7 633.6h0M123.8 641.6h0M159.1 626.2h0M113.3 571.0h0M125.0 634.1h0M110.4 645.4h0M85.7 602.1h0M155.6 651.8h0M91.2 652.8h0M151.3 648.4h0M123.6 647.5h0M122.2 651.3h0M125.5 652.4h0M123.3 641.6h0M135.4 646.9h0M104.7 643.4h0M114.1 611.9h0M142.2 646.0h0M114.4 649.8h0M103.9 647.8h0M131.6 638.8h0M137.7 584.3h0M109.1 644.8h0M187.7 653.2h0M113.2 643.2h0M128.4 640.3h0M119.6 640.9h0M126.1 634.4h0M82.5 650.6h0M124.9 651.2h0M101.5 637.0h0M110.4 636.9h0M141.7 641.6h0M136.3 645.9h0M93.3 645.2h0M135.1 648.9h0M122.7 634.8h0M105.2 636.8h0M166.7 649.0h0M128.2 646.3h0M159.5 641.5h0M145.1 649.7h0M124.6 645.0h0M85.1 616.6h0M145.1 653.0h0M141.6 646.1h0M135.0 640.9h0M91.3 646.8h0M158.4 649.1h0M102.0 652.2h0M97.5 641.3h0M162.9 640.0h0M130.4 574.8h0M113.3 649.6h0M136.8 638.3h0M102.2 651.6h0M131.5 642.4h0M95.6 646.7h0M112.8 639.6h0M122.3 645.7h0M117.0 628.2h0M156.1 647.9h0M143.9 650.0h0M126.6 634.8h0M158.9 648.0h0M123.3 642.9h0M91.3 644.8h0M109.8 640.8h0M99.6 653.4h0M125.8 642.2h0M112.6 632.0h0M118.8 649.3h0M135.7 652.7h0M109.7 645.1h0M144.0 646.4h0M131.9 649.5h0M131.7 607.8h0M109.5 564.3h0M110.5 644.8h0M128.8 629.0h0M97.2 653.6h0M138.5 634.0h0M138.9 539.0h0M129.5 642.3h0M145.8 640.8h0M162.3 651.8h0M116.5 654.6h0M143.2 647.9h0M145.7 580.5h0M124.8 647.1h0M113.7 650.4h0M110.8 636.8h0M125.8 644.3h0M121.1 631.5h0M136.0 646.2h0M139.9 646.3h0M99.1 616.1h0M135.4 650.9h0M149.1 641.2h0M89.8 610.1h0M132.4 632.0h0M129.4 646.3h0M90.2 630.2h0M125.6 647.3h0M132.8 644.2h0M140.1 647.9h0M124.1 653.6h0M115.4 636.2h0M154.9 647.8h0M122.2 611.2h0M117.6 635.1h0M162.6 644.6h0M152.5 649.8h0M129.6 645.7h0M127.5 626.3h0M178.6 649.6h0M112.0 639.0h0M101.3 639.1h0M137.8 647.2h0M136.9 652.6h0M142.0 652.6h0M109.3 649.0h0M115.9 632.7h0M126.8 648.1h0M137.1 611.3h0M125.1 640.9h0M152.8 642.1h0M96.1 553.2h0M174.5 653.4h0M124.1 640.2h0M146.6 636.3h0M118.8 651.2h0M127.3 628.7h0M100.5 651.1h0M124.4 653.3h0M119.1 648.3h0M135.1 649.8h0M105.1 648.0h0M123.8 649.6h0M125.2 634.8h0M151.5 606.0h0M107.4 648.2h0M69.2 596.3h0M108.7 645.3h0M136.7 652.2h0M135.4 645.2h0M84.0 641.8h0M151.7 653.2h0M143.1 642.8h0M135.6 639.9h0M154.2 646.8h0M144.5 648.1h0M141.3 650.3h0M122.5 604.8h0M134.9 646.3h0M99.3 650.2h0M129.3 630.9h0M134.5 638.6h0M124.0 619.7h0M116.2 649.0h0M144.9 644.3h0M118.7 649.1h0M119.2 637.1h0M132.9 651.7h0M134.5 643.1h0M102.5 634.4h0M118.6 647.6h0M142.8 620.7h0M109.5 639.9h0M105.3 568.6h0M113.9 624.5h0M110.4 633.6h0M174.7 654.1h0M115.2 639.0h0M122.9 649.6h0M173.2 644.2h0M88.0 632.8h0M86.3 625.7h0M112.0 643.5h0M153.2 643.8h0M93.7 652.9h0M151.5 635.0h0M106.6 632.7h0M136.1 636.7h0M74.3 647.4h0M145.1 635.1h0M144.7 654.0h0M128.7 639.1h0M182.2 650.9h0M117.6 644.6h0M144.8 648.4h0M150.7 650.2h0M130.9 648.9h0M128.5 649.7h0M89.1 627.2h0M131.7 649.0h0M129.4 629.8h0M103.0 645.9h0M137.0 638.6h0M117.4 653.6h0M152.8 641.4h0M125.2 647.2h0M130.9 648.2h0M101.9 650.0h0M111.5 649.3h0M98.9 636.8h0M95.5 636.5h0M102.2 641.1h0M155.8 642.9h0M108.5 644.5h0M128.3 653.0h0M111.3 643.3h0M114.4 644.2h0M141.4 634.5h0M145.3 637.6h0M118.5 645.1h0M118.9 647.5h0M120.9 653.0h0M117.5 645.2h0M103.1 645.2h0M136.5 646.4h0M171.5 654.1h0M120.3 653.2h0M146.9 536.5h0M68.8 643.7h0M136.6 647.4h0M137.3 653.8h0M144.1 640.8h0M125.5 649.2h0M139.3 648.6h0M129.9 648.8h0M74.5 645.2h0M129.5 634.7h0M105.3 645.3h0M138.8 643.5h0M152.8 591.0h0M104.6 653.3h0M144.2 613.4h0M145.6 633.6h0M111.1 649.8h0M144.9 650.7h0M84.2 651.0h0M180.9 594.9h0M109.5 649.9h0M130.1 650.0h0M154.3 645.7h0M100.6 621.1h0M111.9 642.7h0M124.7 647.5h0M132.2 649.7h0M83.5 653.7h0M96.5 650.0h0M124.4 644.4h0M137.4 643.8h0M107.1 649.8h0M77.4 646.4h0M135.8 638.6h0M122.2 646.5h0M146.0 644.8h0M141.5 637.7h0M129.7 621.2h0M112.1 647.8h0M106.8 650.2h0M159.9 603.4h0M125.5 638.0h0M151.3 633.7h0M152.0 651.9h0M110.6 639.7h0M157.1 643.9h0M105.7 647.8h0M110.1 650.5h0M158.6 649.4h0M125.4 580.0h0M151.5 641.3h0M111.2 640.3h0M161.3 637.1h0M153.2 644.0h0M136.5 646.7h0M134.5 621.3h0M92.8 645.5h0M130.3 649.1h0M118.0 634.1h0M169.9 637.0h0M132.3 652.6h0M168.2 644.2h0M124.2 651.5h0M123.7 651.4h0M126.5 639.5h0M125.6 642.0h0M105.8 617.0h0M110.3 653.1h0M120.7 650.1h0M102.3 647.8h0M131.5 651.7h0M121.9 617.1h0M140.3 646.3h0M127.8 646.0h0M123.9 635.2h0M122.9 653.9h0M124.5 650.6h0M139.6 649.3h0M128.3 578.9h0M101.4 651.5h0M93.3 653.9h0M82.8 640.9h0M110.6 653.2h0M91.7 637.2h0M107.5 647.9h0M132.4 619.5h0M168.5 628.8h0M128.2 643.1h0M165.4 617.1h0M118.0 639.6h0M131.4 644.5h0M113.7 652.1h0M113.0 652.6h0M152.4 638.5h0M97.9 618.2h0M145.0 653.3h0M166.3 633.7h0M171.3 651.8h0M136.8 640.1h0M129.5 643.2h0M148.6 652.5h0M97.1 652.3h0M112.4 649.3h0M133.2 642.1h0M125.6 649.6h0M115.0 630.6h0M142.1 644.0h0M117.7 612.4h0M111.6 636.6h0M150.8 647.2h0M143.5 651.4h0M147.7 642.9h0M89.3 636.3h0M104.9 621.9h0M109.7 646.4h0M131.3 647.6h0M130.8 649.0h0M140.0 644.9h0M129.7 654.2h0M151.0 644.7h0M84.9 644.0h0M135.4 627.8h0M100.6 612.7h0M121.4 561.9h0M121.7 636.1h0M116.7 651.4h0M149.5 631.7h0M159.5 632.7h0M112.1 652.9h0M110.3 649.6h0M106.6 637.7h0M132.3 647.2h0M128.8 646.2h0M129.7 634.8h0M146.5 649.7h0M91.1 617.1h0M127.5 626.9h0M88.1 647.6h0M125.5 652.4h0M113.4 635.3h0M149.1 610.8h0M105.6 652.3h0M136.6 630.9h0M129.3 652.0h0M142.5 634.0h0M137.4 648.6h0M131.8 634.0h0M112.4 653.2h0M132.3 639.3h0M125.2 632.0h0M111.8 645.7h0M118.1 637.9h0M160.7 647.0h0M171.1 613.4h0M142.7 637.7h0M164.7 646.5h0M122.4 651.3h0M135.6 619.9h0M136.9 640.1h0M120.4 643.2h0M93.0 628.4h0M115.7 651.4h0M108.1 650.3h0M144.1 628.1h0M94.5 631.2h0M144.9 649.1h0M91.6 650.0h0M110.7 641.2h0M116.9 653.5h0M130.2 652.6h0M145.3 651.7h0M109.4 650.5h0M112.8 621.4h0M144.1 637.4h0M132.1 652.6h0M113.3 649.0h0M103.0 638.9h0M108.3 649.8h0M101.5 653.5h0M138.3 620.4h0M128.9 651.0h0M64.2 643.2h0M152.2 641.8h0M145.7 615.3h0M150.2 648.3h0M148.6 634.3h0M90.4 648.1h0M93.0 645.9h0M137.9 651.3h0M78.8 621.4h0M133.4 615.5h0M95.2 628.1h0M171.5 590.1h0M120.2 642.1h0M121.5 629.6h0M148.2 644.1h0M94.4 635.0h0M114.4 637.0h0M130.8 609.5h0M150.5 648.4h0M132.8 603.2h0M112.9 640.0h0M151.7 622.7h0M136.6 652.1h0M96.6 642.4h0M133.6 547.6h0M105.6 626.1h0M142.2 652.9h0M106.6 643.3h0M113.9 646.3h0M135.5 650.3h0M135.4 649.4h0M112.7 638.5h0M112.1 641.9h0M160.8 644.7h0M121.7 635.1h0M116.7 627.5h0M96.2 637.1h0M113.4 650.2h0M164.7 650.4h0M164.4 636.5h0M157.5 651.0h0M151.8 616.1h0M122.3 646.1h0M180.1 643.2h0M115.5 649.4h0M134.9 641.3h0M128.9 605.2h0M117.6 639.4h0M157.7 651.1h0M148.2 599.8h0M94.5 651.4h0M101.6 653.2h0M135.1 653.2h0M136.1 616.2h0M88.7 647.5h0M81.9 634.3h0M108.4 647.2h0M126.2 638.3h0M117.2 644.8h0M112.7 643.8h0M98.6 644.3h0M81.6 648.6h0M167.9 644.2h0M96.7 642.2h0M103.1 652.8h0M108.4 635.1h0M133.6 645.8h0M104.1 651.3h0M155.2 642.4h0M103.6 653.6h0M94.2 554.6h0M99.2 645.6h0M129.7 646.3h0M118.7 652.2h0M101.4 606.7h0M108.0 633.0h0M86.9 647.2h0M130.8 628.7h0M99.7 637.5h0M133.6 649.9h0M135.6 650.6h0M107.1 645.1h0M64.0 645.9h0M102.5 652.4h0M115.4 634.6h0M115.9 622.4h0M98.9 652.0h0M159.7 640.4h0M146.1 650.3h0M143.0 642.2h0M139.5 644.7h0M152.0 649.5h0M103.3 652.5h0M151.0 649.9h0M101.5 650.8h0M115.0 651.9h0M118.4 649.4h0M112.6 650.9h0M125.8 648.5h0M127.5 642.3h0M132.6 653.7h0M112.9 650.2h0M142.3 652.7h0M108.9 647.4h0M117.4 629.8h0M115.0 630.4h0M92.1 653.1h0M152.3 639.9h0M135.9 643.7h0M135.8 651.8h0M146.2 648.9h0M147.1 644.1h0M80.6 652.0h0M150.2 646.2h0M116.1 642.4h0M115.4 648.9h0M127.2 643.5h0M159.0 644.5h0M167.1 601.3h0M163.5 628.0h0M127.9 643.6h0M121.7 649.9h0M123.4 649.5h0M161.7 638.5h0M114.9 653.3h0M123.7 648.2h0M100.6 651.5h0M74.4 638.0h0M123.5 544.3h0M124.2 646.3h0M157.3 643.6h0M128.7 647.9h0M111.4 614.5h0M147.4 605.5h0M117.1 644.7h0M105.2 630.3h0M93.7 638.0h0M149.5 617.7h0M103.9 627.3h0M108.9 650.0h0M95.3 625.6h0M161.9 649.2h0M107.9 647.7h0M181.2 629.4h0M112.8 653.1h0M109.8 624.7h0M166.9 647.2h0M109.4 648.7h0M82.6 631.6h0M100.6 628.0h0M86.6 651.9h0M131.4 650.1h0M142.5 644.9h0M98.6 637.1h0M143.8 653.3h0M165.9 639.1h0M142.0 653.2h0M108.8 647.7h0M149.1 652.4h0M105.1 653.5h0M119.5 641.1h0M87.1 649.2h0M136.4 611.1h0M139.8 647.4h0M98.5 650.8h0M110.0 643.5h0M123.8 607.7h0M131.4 651.3h0M159.6 630.7h0M127.2 649.9h0M83.0 651.1h0M145.4 650.2h0M95.3 643.0h0M130.4 637.3h0M139.7 617.8h0M106.1 630.0h0M102.8 635.9h0M129.0 642.4h0M146.7 645.1h0M149.9 632.3h0M128.0 649.1h0M108.0 648.9h0M120.4 645.2h0M191.8 636.8h0M142.2 650.5h0M109.0 647.5h0M129.3 651.2h0M161.1 649.1h0M149.1 653.9h0M124.8 642.0h0M129.2 637.4h0M131.2 643.3h0M82.5 649.8h0M72.4 637.0h0M131.8 646.6h0M106.5 649.2h0M166.4 604.8h0M123.6 621.7h0M89.3 653.3h0M114.1 650.5h0M112.4 643.0h0M192.8 649.6h0M126.1 642.0h0M124.2 631.1h0M164.8 651.8h0M128.6 647.2h0M132.9 652.6h0M85.5 653.8h0M136.7 643.0h0M126.6 653.9h0M116.6 650.0h0M93.2 650.7h0M140.6 638.3h0M124.4 638.8h0M111.4 644.3h0M125.8 638.2h0M123.4 646.2h0M121.9 649.5h0M175.1 638.8h0M134.6 570.4h0M156.4 652.6h0M140.5 633.1h0M167.2 620.9h0M142.2 651.6h0M105.4 642.1h0M136.3 651.1h0M116.3 648.1h0M126.3 641.3h0M118.5 651.8h0M152.8 610.7h0M122.6 629.0h0M134.9 636.5h0M135.7 650.1h0M137.8 629.3h0M104.8 592.5h0M171.8 600.3h0M169.6 635.0h0M117.3 649.3h0M106.7 643.8h0M124.2 636.3h0M79.6 568.8h0M176.0 645.2h0M140.1 639.4h0M131.1 646.7h0M122.2 650.3h0M128.9 645.2h0M132.1 650.5h0M125.8 644.5h0M138.5 651.3h0M134.4 629.9h0M138.3 647.9h0M113.9 646.9h0M141.3 612.4h0M121.4 649.5h0M133.4 642.9h0M104.6 649.9h0M122.7 636.2h0M98.2 651.1h0M136.1 651.8h0M127.4 641.1h0M122.4 651.1h0M123.6 647.6h0M132.5 650.4h0M149.4 652.9h0M121.0 644.9h0M146.5 649.3h0M137.2 649.1h0M141.5 604.5h0M115.9 639.8h0M104.1 630.2h0M152.1 644.6h0M99.5 640.4h0M150.7 627.3h0M143.2 653.2h0M109.7 617.3h0M97.4 626.2h0M167.2 634.6h0M150.1 647.6h0M97.4 645.9h0M120.5 645.4h0M140.6 646.2h0M129.2 640.1h0M124.8 599.2h0M134.9 644.1h0M120.3 649.4h0M155.1 643.5h0M100.7 649.0h0M121.9 648.4h0M149.3 651.6h0M136.0 643.5h0M98.5 644.5h0M122.8 639.0h0M114.8 641.7h0M87.6 651.3h0M142.6 628.5h0M124.7 649.2h0M149.2 653.6h0M107.0 636.2h0M139.6 651.2h0M82.6 616.2h0M128.4 650.6h0M126.2 631.8h0M66.8 626.8h0M141.5 653.6h0M142.2 653.1h0M150.5 640.5h0M175.5 649.3h0M125.0 628.4h0M110.6 649.8h0M116.6 645.6h0M100.7 639.2h0M137.1 644.3h0M163.1 647.6h0M154.3 649.0h0M141.9 653.3h0M129.4 646.5h0M113.8 649.3h0M117.1 649.9h0M75.7 649.2h0M112.6 648.8h0M101.2 646.1h0M142.5 647.0h0M113.9 619.5h0M146.9 631.3h0M150.9 647.6h0M122.0 626.7h0M112.5 646.0h0M133.4 640.8h0M118.7 629.9h0M120.9 635.3h0M149.0 636.5h0M141.4 651.6h0M95.5 649.4h0M135.6 614.4h0M97.5 641.6h0M105.8 649.9h0M118.7 635.9h0M129.7 624.9h0M102.8 632.0h0M145.8 644.3h0M135.6 649.1h0M100.5 648.1h0M110.5 507.4h0M114.1 608.4h0M129.5 641.6h0M141.6 650.1h0M145.5 640.7h0M90.9 637.4h0M137.3 639.7h0M160.5 648.2h0M136.4 634.9h0M104.7 624.3h0M92.4 652.0h0M136.7 651.4h0M122.3 652.8h0M126.5 651.5h0M132.6 652.6h0M135.0 647.2h0M126.4 645.6h0M127.9 652.1h0M67.4 644.6h0M103.9 648.4h0M134.5 653.4h0M107.8 649.3h0M101.2 641.4h0M121.8 650.3h0M102.8 633.7h0M110.1 637.7h0M135.0 653.3h0M100.6 644.9h0M132.6 634.3h0M142.9 628.7h0M116.5 646.7h0M142.3 648.2h0M148.7 652.7h0M139.6 646.5h0M80.8 630.0h0M131.9 644.8h0M100.8 648.5h0M158.9 650.3h0M98.0 646.1h0M116.1 650.7h0M106.1 628.4h0M92.6 593.0h0M112.7 651.4h0M142.6 638.0h0M101.5 634.8h0M83.7 650.7h0M150.2 647.1h0M95.7 638.8h0M145.5 645.2h0M84.4 647.7h0M134.3 634.5h0M166.5 647.1h0M114.1 645.3h0M152.0 650.8h0M154.2 654.2h0M142.8 649.6h0M135.2 635.9h0M98.4 645.7h0M130.3 637.7h0M104.1 651.0h0M81.8 548.5h0M120.6 646.8h0M91.4 631.2h0M112.9 616.8h0M144.1 644.8h0M141.3 651.4h0M117.6 649.1h0M96.5 644.8h0M121.7 616.8h0M49.7 649.6h0M104.3 648.5h0M134.4 640.4h0M125.6 648.5h0M136.0 641.0h0M83.6 647.1h0M94.1 651.7h0M128.2 644.4h0M127.5 650.6h0M120.4 650.7h0M133.5 635.9h0M164.3 622.4h0M106.9 648.4h0M103.9 641.7h0M169.4 635.6h0M75.6 651.9h0M95.9 638.8h0M125.0 641.7h0M164.9 650.3h0M105.9 592.5h0M132.6 650.1h0M79.4 652.6h0M70.1 644.3h0M125.9 629.7h0M121.8 649.7h0M108.3 596.1h0M85.3 643.2h0M125.5 637.2h0M115.9 639.0h0M143.2 646.2h0M114.7 646.6h0M103.3 646.7h0M118.2 642.8h0M154.9 621.1h0M114.9 637.4h0M131.6 634.6h0M125.4 642.1h0M114.4 650.2h0M144.5 621.4h0M139.8 639.9h0M130.9 648.4h0M84.9 636.4h0M129.4 649.0h0M103.3 622.0h0M84.5 603.3h0M139.3 563.9h0M108.8 645.2h0M113.6 643.4h0M120.2 650.0h0M149.1 650.2h0M113.5 638.2h0M112.9 648.3h0M132.9 647.9h0M97.0 645.9h0M120.0 606.0h0M100.3 630.3h0M107.3 647.8h0M117.6 642.1h0M144.3 603.9h0M110.7 620.4h0M147.3 633.6h0M107.9 631.8h0M122.5 641.0h0M118.9 636.4h0M150.0 626.2h0M120.3 629.7h0M157.5 650.8h0M158.0 652.1h0M137.1 637.6h0M158.2 642.0h0M114.2 650.2h0M96.9 634.5h0M119.6 649.8h0M136.9 650.1h0M115.1 648.4h0M162.1 615.9h0M121.4 652.7h0M131.1 644.3h0M132.8 638.0h0M117.7 631.3h0M143.7 642.8h0M115.8 648.6h0M140.5 651.4h0M121.4 650.0h0M93.7 637.4h0M124.4 644.6h0M144.6 652.5h0M123.4 641.9h0M143.6 651.3h0M141.0 642.7h0M155.4 626.0h0M137.3 580.9h0M124.9 648.2h0M117.3 650.8h0M124.3 653.2h0M123.0 640.1h0M147.2 647.7h0M156.1 649.5h0M121.9 653.2h0M107.9 650.2h0M157.7 638.7h0M100.7 638.7h0M135.5 646.9h0M125.4 647.4h0M113.1 653.0h0M123.0 622.8h0M156.3 647.2h0M108.6 646.7h0M144.6 641.2h0M112.2 641.0h0M120.4 639.0h0M116.0 652.4h0M126.2 635.0h0M100.7 645.9h0M144.1 647.8h0M110.7 591.7h0M143.1 629.5h0M104.3 610.9h0M88.7 648.7h0M141.1 621.5h0M104.6 649.5h0M129.2 653.2h0M138.9 638.3h0M115.2 638.7h0M141.9 641.7h0M136.3 615.6h0M114.5 643.4h0M113.6 629.5h0M116.1 639.6h0M127.9 644.3h0M162.3 645.7h0M155.8 633.9h0M153.6 646.3h0M145.1 635.2h0M111.6 642.2h0M122.1 645.3h0M153.2 649.7h0M88.5 652.9h0M115.1 649.4h0M125.2 638.3h0M163.1 641.7h0M135.0 649.8h0M137.5 621.0h0M154.0 653.3h0M144.2 613.4h0M142.8 652.4h0M118.3 638.0h0M133.9 650.1h0M105.7 631.1h0M96.1 618.7h0M125.4 641.9h0M96.1 649.1h0M139.8 652.3h0M169.7 652.1h0M98.6 644.6h0M135.3 635.6h0M116.9 646.7h0M119.8 649.0h0M69.3 631.3h0M130.4 643.4h0M111.4 642.4h0M124.7 645.6h0M148.8 652.8h0M130.4 651.1h0M118.1 616.7h0M101.6 645.8h0M112.2 631.5h0M103.8 652.8h0M136.0 647.7h0M118.1 628.6h0M105.8 647.8h0M128.1 640.5h0M113.8 629.7h0M173.2 648.0h0M165.2 653.5h0M155.3 647.6h0M127.9 647.6h0M111.2 651.8h0M116.4 623.0h0M149.5 647.6h0M113.6 649.6h0M99.1 604.7h0M139.2 643.8h0M114.4 651.0h0M153.3 634.8h0M104.4 630.7h0M101.1 637.2h0M104.2 648.1h0M135.6 640.2h0M146.7 650.2h0M159.0 621.6h0M124.7 639.8h0M108.2 646.2h0M96.5 644.1h0M129.2 621.7h0M145.4 634.2h0M117.1 646.8h0M117.6 642.8h0M83.4 635.0h0M91.2 648.7h0M125.4 648.7h0M160.8 645.8h0M158.8 626.4h0M114.2 640.6h0M152.9 647.5h0M126.8 648.9h0M126.2 647.7h0M126.7 630.4h0M154.9 643.7h0M129.3 633.4h0M118.7 651.1h0M148.9 650.6h0M145.0 650.8h0M164.4 651.0h0M143.2 616.7h0M104.2 617.2h0M107.2 652.9h0M140.5 636.2h0M120.6 653.9h0M123.8 647.4h0M116.8 647.2h0M86.4 648.9h0M163.7 615.0h0M117.2 649.7h0M133.5 629.1h0M140.5 651.5h0M128.4 643.6h0M155.9 625.8h0M136.2 625.3h0M116.4 615.4h0M115.8 640.7h0M144.7 650.6h0M109.8 652.9h0M128.5 645.4h0M117.9 639.3h0M79.4 645.2h0M126.8 647.1h0M142.0 607.0h0M115.3 650.7h0M111.9 644.1h0M137.6 650.3h0M146.5 651.0h0M142.8 640.3h0M134.9 586.1h0M119.3 646.3h0M135.2 633.3h0M96.1 642.2h0M109.0 637.4h0M154.4 644.5h0M122.6 643.2h0M61.3 635.0h0M137.0 643.4h0M116.4 649.8h0M121.1 625.3h0M122.7 621.6h0M69.5 648.3h0M130.8 645.1h0M89.2 649.5h0M151.9 651.8h0M103.6 651.2h0M113.1 637.2h0M137.7 653.4h0M156.4 649.1h0M112.3 610.5h0M123.2 651.7h0M111.2 649.8h0M103.2 647.5h0M143.8 641.3h0M95.2 534.0h0M103.6 643.9h0M125.6 635.2h0M117.9 639.9h0M170.3 644.1h0M101.6 641.5h0M107.6 647.8h0M129.0 641.4h0M118.8 633.6h0M120.8 651.9h0M143.9 647.7h0M151.1 649.4h0M137.3 641.7h0M66.8 652.4h0M100.8 619.7h0M84.3 632.3h0M148.5 639.4h0M139.5 648.5h0M124.7 642.7h0M134.0 636.1h0M120.5 649.6h0M112.8 640.5h0M89.2 651.7h0M116.1 648.9h0M119.1 654.1h0M117.6 647.0h0M141.7 653.3h0M118.3 639.7h0M135.5 625.8h0M147.7 651.1h0M138.7 647.6h0M107.6 615.5h0M111.4 650.3h0M116.1 650.3h0M146.7 640.9h0M155.1 640.5h0M111.7 629.4h0M110.8 648.4h0M121.3 644.6h0M150.7 649.2h0M132.5 645.2h0M97.8 651.2h0M120.2 640.6h0M131.9 639.6h0M126.0 648.3h0M134.2 650.9h0M95.9 647.5h0M94.0 648.7h0M108.8 648.9h0M124.0 650.1h0M115.8 652.8h0M128.1 650.4h0M133.7 654.2h0M107.6 642.5h0M72.1 647.7h0M127.0 644.0h0M92.6 642.7h0M128.2 650.8h0M141.1 645.4h0M125.3 648.3h0M136.8 644.0h0M149.6 639.9h0M111.6 646.8h0M144.8 647.8h0M133.2 639.0h0M121.0 653.8h0M127.8 642.8h0M127.9 649.9h0M151.2 646.1h0M111.4 649.7h0M132.7 651.2h0M103.2 594.3h0M153.4 629.1h0M154.6 637.8h0M88.4 625.6h0M151.8 639.4h0M82.5 624.3h0M154.6 648.6h0M127.7 634.8h0M123.1 628.0h0M126.7 636.3h0M126.8 652.3h0M103.3 480.9h0M131.0 622.3h0M149.7 607.9h0M137.0 649.1h0M125.3 653.2h0M120.8 632.3h0M77.9 643.0h0M142.9 621.7h0M104.8 649.4h0M84.1 651.0h0M136.6 590.0h0M100.0 620.1h0M134.2 648.6h0M172.7 654.0h0M123.5 642.8h0M171.4 604.1h0M174.3 643.7h0M146.3 620.6h0M136.1 641.1h0M120.9 648.1h0M98.1 596.5h0M115.2 653.5h0M130.7 645.3h0M128.8 603.2h0M122.6 647.1h0M108.7 645.2h0M115.4 642.9h0M193.1 640.7h0M106.2 597.5h0M143.8 634.0h0M140.5 633.9h0M139.7 619.0h0M146.9 621.0h0M114.0 645.0h0M109.0 631.1h0M143.1 648.4h0M137.7 546.9h0M152.0 651.3h0M122.9 637.2h0M124.2 640.7h0M150.7 641.5h0M101.0 635.8h0M122.8 643.9h0M112.6 652.1h0M97.7 647.7h0M101.6 654.1h0M150.0 651.5h0M109.1 638.7h0M72.3 621.1h0M108.1 636.7h0M114.4 641.8h0M127.2 645.0h0M85.0 652.3h0M124.0 619.0h0M113.0 638.7h0M128.5 639.4h0M146.6 652.4h0M130.9 646.5h0M118.1 650.4h0M107.8 651.0h0M100.9 557.4h0M162.1 644.9h0M141.2 650.9h0M64.1 653.1h0M128.0 618.0h0M124.0 650.9h0M119.7 650.9h0M94.4 646.9h0M116.2 650.2h0M105.6 650.7h0M130.1 619.5h0M120.3 578.8h0M89.6 642.1h0M99.6 646.3h0M127.2 638.3h0M149.6 648.9h0M97.8 646.5h0M131.4 649.7h0M144.5 608.8h0M93.8 641.1h0M147.2 653.2h0M129.4 646.8h0M93.8 621.9h0M129.7 648.5h0M134.6 637.0h0M141.8 638.0h0M133.9 651.5h0M115.7 643.7h0M64.4 585.7h0M116.6 651.1h0M85.2 642.4h0M125.6 649.1h0M115.8 650.5h0M108.5 645.8h0M110.9 636.4h0M121.8 643.7h0M133.8 623.2h0M138.1 642.6h0M121.4 650.2h0M117.5 636.4h0M129.9 647.9h0M95.8 652.5h0M132.0 629.5h0M133.1 652.1h0M120.3 642.7h0M104.9 641.2h0M120.6 650.3h0M97.8 634.1h0M132.7 650.5h0M102.8 632.5h0M138.0 647.4h0M159.8 647.3h0M101.8 628.0h0M120.8 641.3h0M125.8 650.9h0M99.0 646.6h0M155.7 651.0h0M154.6 642.7h0M100.6 642.2h0M137.3 650.6h0M78.4 641.1h0M100.7 640.0h0M83.2 646.2h0M107.3 652.4h0M119.7 643.3h0M112.8 651.6h0M129.6 652.9h0M136.6 639.3h0M161.6 632.7h0M132.7 642.3h0M125.5 652.0h0M156.9 638.8h0M118.7 651.4h0M157.3 638.8h0M99.1 636.6h0M166.3 645.2h0M133.7 648.1h0M111.2 628.5h0M192.1 643.8h0M122.2 634.4h0M118.3 635.6h0M143.0 651.0h0M101.6 645.6h0M143.1 642.1h0M152.0 652.1h0M135.7 649.3h0M127.1 641.6h0M103.8 646.8h0M99.6 642.2h0M106.4 648.6h0M129.7 649.4h0M149.9 649.3h0M143.4 642.0h0M102.4 646.8h0M106.7 647.8h0M119.0 603.2h0M115.8 613.7h0M134.7 651.9h0M74.6 636.5h0M81.6 635.8h0M147.3 640.7h0M120.4 647.0h0M130.6 647.4h0M113.3 647.8h0M150.4 649.3h0M133.2 651.4h0M109.5 652.1h0M120.6 636.4h0M131.6 648.6h0M138.2 647.7h0M133.0 642.2h0M136.7 653.9h0M96.6 634.8h0M122.6 579.3h0M119.8 648.9h0M157.4 638.4h0M166.2 639.1h0M120.5 635.7h0M107.8 648.3h0M112.9 646.8h0M141.8 648.5h0M131.9 648.6h0M144.1 654.2h0M120.4 643.3h0M101.5 630.0h0M129.6 623.2h0M145.8 637.1h0M121.7 651.2h0M120.2 648.4h0M130.4 648.4h0M191.2 652.6h0M150.4 648.4h0M119.7 631.9h0M125.0 651.6h0M133.9 646.6h0M80.3 643.0h0M102.1 649.9h0M135.4 641.9h0M118.6 584.5h0M134.0 649.2h0M130.1 646.0h0M77.2 652.6h0M94.8 590.8h0M121.0 647.2h0M112.7 630.8h0M125.5 608.6h0M142.0 611.0h0M122.4 640.9h0M115.6 646.4h0M87.5 649.0h0M104.3 649.4h0M151.3 642.3h0M151.5 633.3h0M144.9 630.3h0M111.8 634.4h0M118.0 648.8h0M150.8 585.1h0M103.8 607.3h0M142.9 650.3h0M130.8 641.0h0M133.1 647.7h0M97.1 644.7h0M143.6 634.7h0M139.2 628.0h0M103.5 645.3h0M132.3 630.4h0M128.3 639.0h0M127.8 589.2h0M77.7 645.2h0M178.5 642.6h0M85.3 643.7h0M93.9 649.5h0M129.8 608.4h0M134.9 636.7h0M147.0 643.0h0M106.4 645.8h0M132.2 647.2h0M110.5 647.7h0M92.5 651.0h0M123.0 647.7h0M125.8 619.7h0M131.4 645.2h0M99.6 651.2h0M133.1 650.4h0M134.2 651.2h0M127.8 645.6h0M146.5 647.9h0M116.9 642.5h0M126.1 609.4h0M119.4 648.8h0M118.0 639.6h0M130.0 636.3h0M95.1 562.8h0M164.7 645.2h0M98.8 643.5h0M133.9 653.6h0M125.2 652.3h0M134.8 620.4h0M147.3 652.4h0M154.8 632.4h0M117.1 639.3h0M157.7 647.5h0M124.6 648.9h0M149.9 653.5h0M155.6 650.8h0M144.9 652.7h0M104.7 649.1h0M142.8 652.6h0M138.0 649.3h0M151.8 647.4h0M135.4 646.4h0M163.7 647.7h0M124.4 595.7h0M126.6 636.4h0M109.0 643.0h0M76.0 644.0h0M111.0 652.4h0M94.4 627.1h0M134.1 652.4h0M164.1 649.6h0M117.0 642.5h0M100.4 652.6h0M108.8 626.1h0M145.5 652.6h0M150.9 644.6h0M135.7 644.5h0M133.9 650.9h0M105.3 649.6h0M117.0 637.5h0M98.7 613.2h0M111.3 649.1h0M140.1 640.2h0M117.6 651.1h0M103.3 652.6h0M149.6 628.5h0M165.3 639.3h0M132.1 635.2h0M145.5 647.0h0M132.5 586.0h0M88.4 652.1h0M104.1 635.3h0M150.6 647.6h0M139.4 645.4h0M131.4 648.8h0M124.4 645.0h0M149.4 580.9h0M85.7 638.8h0M124.8 631.1h0M147.9 634.8h0M142.4 650.7h0M88.1 610.2h0M151.1 650.7h0M152.8 636.8h0M71.9 632.5h0M103.6 626.5h0M110.2 649.8h0M91.6 646.7h0M146.9 649.5h0M84.7 586.4h0M164.8 636.4h0M113.3 651.6h0M89.5 638.4h0M153.0 651.1h0M124.9 647.2h0M119.4 639.3h0M170.2 649.3h0M143.3 628.4h0M118.8 646.2h0M95.9 628.6h0M113.5 649.4h0M126.4 650.3h0M102.4 647.3h0M157.1 646.6h0M136.3 652.3h0M82.8 603.8h0M116.3 652.5h0M122.6 637.7h0M87.6 650.4h0M130.6 650.6h0M142.2 631.2h0M134.5 648.2h0M123.9 649.3h0M122.1 641.6h0M118.4 630.9h0M181.1 648.9h0M132.4 634.0h0M138.9 646.9h0M114.6 630.3h0M138.5 639.2h0M107.5 637.3h0M142.2 646.5h0M138.9 584.4h0M84.3 637.7h0M99.6 652.1h0M119.8 638.6h0M126.1 651.5h0M93.7 648.9h0M125.2 650.2h0M92.3 606.4h0M106.7 646.3h0M113.0 649.1h0M125.8 647.3h0M138.4 651.5h0M92.7 597.0h0M123.3 635.0h0M150.6 638.5h0M125.7 652.5h0M90.2 630.8h0M139.6 638.2h0M88.9 653.5h0M102.0 651.5h0M128.4 651.0h0M159.3 649.3h0M112.7 633.1h0M132.1 650.5h0M142.8 598.2h0M98.2 647.0h0M101.5 653.3h0M138.6 636.2h0M146.1 640.2h0M81.1 645.2h0M110.4 651.5h0M100.8 635.0h0M118.5 595.7h0M135.2 653.2h0M144.4 624.0h0M125.6 651.6h0M163.5 651.9h0M123.1 653.2h0M97.6 652.8h0M148.7 625.8h0M116.1 652.1h0M123.6 640.8h0M91.6 651.5h0M122.7 636.0h0M126.6 639.9h0M97.6 653.9h0M131.8 650.6h0M122.2 647.9h0M135.5 650.0h0M156.5 644.7h0M136.5 637.2h0M147.7 640.5h0M86.6 649.3h0M165.7 639.6h0M137.2 639.6h0M110.9 649.6h0M110.8 626.2h0M132.9 604.3h0M135.9 598.9h0M135.0 651.6h0M163.2 641.3h0M151.1 642.8h0M117.7 643.3h0M100.3 651.6h0M105.4 648.8h0M95.1 645.9h0M131.6 591.2h0M165.4 645.4h0M144.4 646.8h0M133.5 645.3h0M113.0 644.2h0M92.4 640.0h0M118.6 651.3h0M117.0 638.3h0M110.0 639.5h0M137.5 613.2h0M101.0 645.9h0M136.2 615.4h0M130.7 635.0h0M92.5 649.1h0M161.6 647.3h0M172.7 649.8h0M118.8 652.7h0M139.0 642.2h0M169.6 643.3h0M119.4 652.2h0M123.1 631.1h0M141.3 624.0h0M144.1 645.4h0M138.3 643.2h0M95.4 606.7h0M133.2 651.2h0M133.5 641.9h0M147.0 617.1h0M57.5 638.3h0M158.9 650.8h0M83.7 642.0h0M132.4 641.1h0M100.3 648.5h0M129.3 635.1h0M173.6 641.8h0M111.6 653.9h0M148.8 646.1h0M122.5 651.0h0M141.3 653.1h0M127.3 643.8h0M131.6 621.6h0M122.7 644.0h0M144.0 652.6h0M118.4 644.3h0M146.2 650.2h0M142.8 640.7h0M91.8 652.4h0M93.0 643.6h0M129.5 635.4h0M143.2 649.0h0M148.8 633.6h0M135.5 639.4h0M96.3 641.0h0M101.9 651.7h0M117.1 643.6h0M123.7 647.6h0M102.6 643.1h0M108.4 652.3h0M127.0 616.5h0M115.9 651.2h0M155.8 606.1h0M118.4 646.7h0M129.7 501.0h0M127.9 629.8h0M134.8 653.1h0M100.3 651.8h0M134.6 643.9h0M164.9 647.2h0M131.8 644.2h0M128.0 569.2h0M131.3 615.7h0M153.9 649.3h0M140.3 647.9h0M127.4 643.4h0M125.4 648.5h0M159.7 647.1h0M140.7 607.4h0M138.9 629.0h0M156.0 627.5h0M163.4 652.3h0M168.8 644.7h0M85.8 649.5h0M93.7 645.2h0M91.6 651.1h0M131.6 643.4h0M107.1 646.9h0M122.7 644.2h0M124.8 646.8h0M144.6 652.7h0M113.9 643.6h0M116.0 649.0h0M115.1 642.8h0M152.8 646.5h0M119.0 641.0h0M119.5 653.3h0M131.0 647.9h0M112.1 637.0h0M125.9 649.1h0M76.1 653.0h0M125.3 646.0h0M134.8 642.6h0M114.2 651.9h0M100.4 646.2h0M99.2 634.7h0M95.2 653.1h0M120.6 653.1h0M161.4 651.0h0M123.8 647.0h0M106.5 653.1h0M83.2 632.6h0M147.8 579.9h0M92.1 638.1h0M124.6 633.0h0M113.4 635.4h0M145.0 637.3h0M157.4 646.5h0M159.6 649.8h0M162.3 654.2h0M125.2 650.2h0M125.0 628.8h0M141.1 644.0h0M163.1 652.5h0M106.7 614.1h0M132.3 653.5h0M132.6 651.7h0M158.1 625.9h0M112.7 621.6h0M106.2 631.4h0M137.9 646.1h0M93.0 647.3h0M73.6 649.1h0M83.4 623.9h0M103.3 654.0h0M138.1 640.8h0M113.6 583.0h0M142.3 644.3h0M110.5 654.4h0M135.7 630.5h0M111.7 652.3h0M124.0 652.9h0M125.1 634.4h0M158.8 642.1h0M129.3 634.8h0M156.4 647.5h0M97.4 650.2h0M96.7 650.6h0M122.2 641.2h0M128.4 644.3h0M116.9 640.1h0M144.8 634.6h0M158.5 647.3h0M119.3 606.4h0M129.5 640.3h0M117.4 630.3h0M115.9 651.1h0M123.6 648.3h0M143.7 647.9h0M127.7 646.8h0M132.6 649.4h0M149.7 652.3h0M116.3 649.8h0M139.5 644.6h0M135.8 647.6h0M108.8 651.5h0M117.4 648.9h0M131.2 641.0h0M146.9 645.9h0M108.1 651.3h0M126.3 641.0h0M168.7 643.1h0M164.4 597.7h0M101.4 624.0h0M150.4 619.9h0M124.7 630.6h0M114.1 645.6h0M125.4 602.3h0M120.1 630.6h0M126.4 649.8h0M130.4 636.4h0M109.0 636.9h0M109.0 650.6h0M129.9 646.9h0M102.9 652.8h0M125.5 642.4h0M114.6 643.0h0M90.7 640.5h0M134.3 642.0h0M111.2 644.2h0M127.9 627.8h0M131.1 642.3h0M108.7 632.6h0M151.3 648.7h0M139.3 641.6h0M123.9 652.0h0M164.4 653.2h0M131.7 647.9h0M150.6 648.2h0M125.8 637.3h0M135.2 648.8h0M140.2 640.5h0M147.1 648.8h0M123.9 648.0h0M106.2 642.3h0M134.1 617.5h0M117.6 640.6h0M150.5 646.0h0M126.4 643.6h0M109.5 651.0h0M149.9 643.2h0M123.3 651.8h0M127.6 625.2h0M99.2 650.6h0M149.7 617.2h0M159.7 649.0h0M138.4 650.0h0M136.6 647.8h0M129.3 620.2h0M132.5 647.0h0M126.2 642.2h0M113.5 642.8h0M138.3 612.5h0M78.9 651.7h0M97.3 632.4h0M179.4 643.0h0M127.6 626.2h0M70.5 646.5h0M55.4 643.4h0M113.6 648.6h0M132.5 649.1h0M149.7 645.0h0M133.4 550.3h0M114.9 631.4h0M106.5 623.2h0M146.4 643.6h0M147.0 610.6h0M155.6 644.9h0M123.7 627.1h0M92.2 649.2h0M135.7 638.0h0M166.4 604.1h0M132.2 639.9h0M95.6 646.5h0M130.8 646.8h0M126.3 637.4h0M103.8 649.0h0M85.4 626.2h0M101.5 652.9h0M142.1 646.8h0M146.4 647.8h0M172.1 635.6h0M128.3 643.8h0M120.4 633.9h0M169.3 648.2h0M100.8 637.6h0M148.6 652.5h0M109.6 651.0h0M137.4 639.0h0M108.7 651.4h0M140.1 653.5h0M139.2 646.3h0M167.5 630.0h0M112.1 647.2h0M118.8 649.8h0M126.7 630.7h0M91.6 646.9h0M158.0 635.2h0M106.9 650.2h0M106.0 652.7h0M150.4 644.3h0M109.5 652.3h0M116.4 648.7h0M163.0 648.4h0M127.5 628.2h0M139.7 646.5h0M76.7 618.8h0M138.2 648.3h0M123.0 650.8h0M105.1 652.4h0M136.0 638.9h0M128.8 634.5h0M136.8 643.8h0M105.4 637.8h0M151.1 637.1h0M152.5 648.5h0M103.3 623.5h0M112.1 642.5h0M120.7 644.8h0M119.0 648.9h0M85.7 597.8h0M129.4 653.3h0M105.0 651.4h0M108.6 654.0h0M137.6 610.2h0M119.5 635.2h0M138.2 651.8h0M151.8 652.8h0M112.3 647.8h0M152.6 643.8h0M122.2 650.2h0M126.9 644.6h0M141.0 619.2h0M141.2 644.8h0M121.6 611.8h0M129.4 645.1h0M164.4 613.1h0M137.4 645.9h0M111.0 628.5h0M115.0 630.9h0M107.7 644.0h0M133.8 643.5h0M130.1 640.8h0M100.3 651.3h0M121.7 603.1h0M122.2 650.7h0M110.5 644.6h0M150.9 649.0h0M137.2 643.1h0M117.1 650.7h0M121.6 649.8h0M136.7 653.0h0M149.7 635.0h0M137.6 615.8h0M138.2 652.9h0M126.1 639.9h0M110.0 651.4h0M134.4 639.0h0M115.6 646.9h0M113.8 649.0h0M123.7 628.4h0M89.7 647.6h0M160.3 641.6h0M128.3 633.6h0M103.0 651.6h0M88.6 652.3h0M130.4 633.3h0M115.8 649.6h0M133.8 637.5h0M130.6 653.2h0M113.0 654.0h0M130.3 650.3h0M110.6 615.8h0M153.8 639.5h0M131.0 643.3h0M112.1 645.4h0M166.7 650.5h0M110.5 643.4h0M144.4 633.6h0M103.8 646.1h0M119.2 651.7h0M126.6 648.5h0M145.0 640.1h0M107.9 644.2h0M117.2 649.3h0M114.3 628.7h0M115.9 652.9h0M108.0 634.2h0M171.9 651.1h0M117.2 647.5h0M94.2 640.6h0M123.8 642.1h0M173.8 647.1h0M142.3 633.6h0M111.1 649.1h0M158.9 635.8h0M128.1 651.3h0M144.2 638.8h0M172.9 616.9h0M142.5 642.2h0M126.3 648.9h0M131.7 642.5h0M139.2 628.2h0M131.8 648.9h0M142.6 614.1h0M106.7 640.3h0M136.9 638.7h0M136.0 645.7h0M122.7 608.8h0M162.7 652.2h0M69.6 640.1h0M110.2 648.7h0M90.2 641.2h0M123.8 648.8h0M144.5 564.5h0M157.1 626.0h0M116.0 636.8h0M124.1 626.4h0M137.6 645.3h0M137.0 649.7h0M142.2 615.9h0M117.1 638.4h0M88.6 631.6h0M144.1 651.0h0M163.0 643.9h0M87.2 652.1h0M144.0 647.1h0M149.0 652.5h0M122.8 630.7h0M110.2 636.4h0M117.1 641.3h0M132.0 579.5h0M97.9 634.7h0M153.6 651.4h0M126.7 574.1h0M147.8 654.3h0M119.8 652.9h0M131.6 649.8h0M112.7 650.3h0M131.4 648.4h0M105.2 646.8h0M133.8 650.4h0M149.2 652.8h0M133.8 647.9h0M159.2 649.4h0M110.5 652.0h0M168.2 637.4h0M101.3 647.6h0M104.1 615.2h0M134.1 653.4h0M129.5 632.0h0M125.0 639.6h0M122.5 642.9h0M129.6 649.7h0M132.5 643.3h0M124.1 649.6h0M102.8 642.5h0M142.9 653.9h0M113.3 620.9h0M144.9 649.7h0M154.4 650.9h0M107.7 597.0h0M115.4 646.7h0M89.0 651.0h0M99.3 646.1h0M84.9 628.7h0M117.2 649.2h0M111.1 635.3h0M158.4 648.1h0M160.1 611.9h0M154.2 641.8h0M92.4 636.5h0M116.0 643.0h0M83.8 647.2h0M130.0 650.7h0M131.4 609.4h0M130.0 649.6h0M177.0 653.6h0M104.9 640.5h0M112.0 653.7h0M130.6 633.7h0M107.6 617.1h0M135.9 625.5h0M91.6 645.0h0M159.9 592.7h0M153.7 645.0h0M128.9 649.3h0M148.9 649.6h0M127.6 653.5h0M92.0 604.6h0M126.2 642.8h0M76.9 645.3h0M170.2 652.4h0M72.9 646.3h0M113.3 646.7h0M97.4 652.1h0M97.9 637.0h0M123.9 633.8h0M101.3 637.8h0M115.3 644.1h0M145.4 644.6h0M117.2 652.8h0M126.3 634.5h0M111.1 645.5h0M86.2 652.0h0M133.8 622.4h0M118.1 652.8h0M116.6 652.6h0M118.9 596.8h0M131.5 646.3h0M147.7 647.9h0M132.2 642.9h0M134.7 652.4h0M140.6 632.6h0M74.8 654.2h0M105.2 615.9h0M125.4 636.3h0M137.1 632.4h0M110.9 649.1h0M133.2 637.5h0M137.6 641.3h0M114.3 627.4h0M135.3 628.5h0M68.9 629.7h0M71.1 642.8h0M110.3 643.8h0M114.4 647.4h0M129.2 641.2h0M107.3 654.0h0M107.7 638.5h0M106.3 640.1h0M116.8 650.8h0M150.8 609.1h0M122.7 645.4h0M146.1 652.0h0M105.6 626.6h0M144.9 648.6h0M107.7 641.1h0M93.8 648.6h0M119.8 654.0h0M138.0 634.7h0M148.6 652.3h0M96.4 650.3h0M96.0 588.5h0M103.3 647.5h0M129.5 639.7h0M157.2 651.3h0M144.5 643.5h0M98.9 643.5h0M93.8 610.2h0M108.7 629.6h0M153.9 649.3h0M105.0 643.7h0M101.6 632.0h0M128.8 650.0h0M109.7 635.4h0M92.7 607.2h0M107.4 646.6h0M104.3 610.0h0M143.3 621.6h0M139.5 644.1h0M162.7 636.4h0M134.7 637.9h0M141.4 642.0h0M121.2 652.7h0M170.9 652.0h0M76.8 649.8h0M168.1 623.9h0M111.5 642.2h0M124.4 653.4h0M117.5 641.8h0M151.1 651.7h0M74.5 652.7h0M132.3 644.2h0M128.3 643.5h0M116.7 652.2h0M135.1 640.6h0M137.9 623.1h0M97.2 653.9h0M85.0 581.9h0M104.5 640.5h0M124.6 635.2h0M196.9 648.8h0M121.1 649.2h0M130.4 638.7h0M103.2 620.8h0M150.7 639.8h0M122.5 646.9h0M88.1 636.5h0M103.1 648.7h0M147.3 650.7h0M113.2 632.7h0M166.6 649.7h0M149.7 649.5h0M133.6 639.2h0M99.4 628.9h0M165.3 644.5h0M131.0 651.6h0M165.1 644.4h0M96.3 634.6h0M92.1 649.7h0M77.1 618.9h0M174.5 649.4h0M110.3 649.1h0M112.3 638.2h0M157.7 651.1h0M134.8 653.1h0M159.1 645.7h0M109.2 613.3h0M122.6 619.1h0M149.0 608.1h0M107.0 644.4h0M133.2 646.6h0M159.1 649.8h0M147.4 619.3h0M81.1 650.9h0M104.7 649.0h0M133.7 646.5h0M126.7 648.4h0M123.1 639.2h0M141.7 650.1h0M122.4 650.1h0M120.9 652.4h0M146.4 636.2h0M122.2 649.7h0M114.7 649.6h0M90.3 609.1h0M198.8 651.8h0M98.8 637.8h0M138.5 652.7h0M81.8 638.4h0M80.2 617.3h0M113.8 644.1h0M124.9 649.0h0M121.8 647.4h0M152.9 645.8h0M124.2 648.9h0M110.7 649.9h0M125.2 599.6h0M150.0 642.5h0M162.4 629.2h0M129.6 646.4h0M100.3 642.3h0M117.9 652.7h0M96.1 594.2h0M129.7 639.0h0M129.4 648.5h0M135.3 627.5h0M118.0 638.8h0M147.9 648.6h0M128.7 650.0h0M138.5 647.9h0M150.7 650.1h0M162.8 647.5h0M106.1 650.7h0M139.8 650.5h0M165.4 621.9h0M136.6 652.3h0M124.4 649.9h0M84.3 640.1h0M174.3 648.9h0M143.1 621.9h0M103.4 647.7h0M131.0 639.4h0M99.2 642.7h0M122.5 630.7h0M89.1 649.1h0M113.6 647.5h0M141.2 649.4h0M186.4 649.8h0M143.8 629.1h0M146.6 646.7h0M106.3 647.1h0M139.9 643.8h0M138.0 637.9h0M105.1 650.8h0M157.3 648.6h0M89.4 598.4h0M106.2 650.8h0M146.6 651.5h0M105.4 628.4h0M106.5 551.5h0M127.1 533.1h0M127.8 644.4h0M110.5 646.8h0M113.7 645.2h0M142.3 651.9h0M104.3 653.6h0M158.7 645.6h0M124.6 645.5h0M147.5 641.5h0M144.0 646.4h0M122.2 645.5h0M83.1 627.3h0M89.5 651.0h0M140.0 644.4h0M143.2 605.9h0M166.7 618.7h0M119.9 587.5h0M105.2 645.7h0M147.3 646.8h0M122.2 647.8h0M155.6 654.0h0M153.5 628.1h0M123.3 638.1h0M103.2 626.8h0M193.6 650.7h0M156.3 645.5h0M117.4 648.6h0M120.7 651.9h0M94.5 607.9h0M124.5 638.2h0M131.9 639.4h0M90.7 650.8h0M139.1 629.6h0M99.3 649.1h0M101.0 636.6h0M132.7 644.6h0M110.4 641.2h0M125.7 650.0h0M132.4 649.6h0M146.3 637.0h0M109.5 637.7h0M126.4 649.8h0M104.4 652.9h0M99.6 641.1h0M152.0 649.4h0M128.5 641.2h0M142.5 639.8h0M152.5 634.5h0M107.8 640.5h0M72.4 646.5h0M125.4 637.8h0M118.2 633.2h0M154.6 650.4h0M112.7 642.2h0M135.9 643.5h0M143.6 651.7h0M142.4 625.3h0M149.8 640.1h0M119.6 640.4h0M123.3 652.7h0M111.4 645.3h0M113.4 650.8h0M119.7 647.9h0M126.5 645.4h0M128.8 629.7h0M128.0 640.3h0M97.5 654.4h0M116.0 636.1h0M117.3 649.4h0M97.1 632.0h0M113.1 642.4h0M150.3 638.5h0M175.3 646.1h0M146.4 635.9h0M110.2 644.5h0M112.3 651.1h0M131.7 650.1h0M162.6 650.0h0M112.7 644.1h0M113.3 644.4h0M111.3 652.3h0M70.8 652.0h0M159.1 639.8h0M128.4 648.5h0M121.7 641.7h0M93.8 650.2h0M105.0 622.6h0M101.2 625.1h0M114.5 528.3h0M123.2 644.7h0M155.3 632.3h0M146.0 651.3h0M150.4 607.1h0M122.6 648.6h0M100.4 629.1h0M131.5 644.9h0M97.2 609.6h0M144.6 645.1h0M158.1 650.9h0M144.7 651.0h0M156.6 647.2h0M152.4 648.2h0M133.9 626.0h0M104.7 644.0h0M106.1 632.8h0M111.4 647.9h0M120.4 625.3h0M101.6 645.2h0M117.6 649.0h0M107.3 646.3h0M129.3 652.6h0M130.2 651.7h0M125.3 571.3h0M103.2 645.6h0M119.2 630.0h0M114.3 653.1h0M88.8 643.2h0M130.6 627.9h0M112.9 636.3h0M101.1 621.5h0M123.3 649.7h0M128.9 604.2h0M105.9 651.8h0M102.2 651.6h0M123.8 641.1h0M121.3 642.9h0M151.5 647.3h0M96.8 653.8h0M130.4 649.7h0M119.4 640.3h0M135.3 652.7h0M103.5 644.2h0M121.7 625.8h0M113.7 653.5h0M151.2 652.8h0M103.2 640.6h0M101.2 553.4h0M130.3 638.5h0M115.1 576.1h0M137.1 649.8h0M153.1 652.9h0M111.8 641.9h0M128.0 650.9h0M160.4 615.5h0M104.0 640.8h0M110.7 648.3h0M147.1 643.7h0M122.5 644.0h0M98.6 623.7h0M108.1 621.1h0M114.7 648.4h0M158.3 643.0h0M110.6 648.9h0M138.5 597.8h0M138.7 648.0h0M99.8 649.6h0M122.3 642.4h0M110.2 622.0h0M103.4 649.8h0M136.1 639.3h0M116.2 630.4h0M93.3 609.1h0M174.0 593.3h0M127.6 592.4h0M126.1 620.4h0M120.5 643.0h0M136.7 653.0h0M120.3 605.4h0M59.4 640.6h0M145.6 641.4h0M129.3 618.5h0M132.5 653.3h0M103.7 647.4h0M128.2 648.4h0M122.6 607.6h0M59.2 625.7h0M146.0 637.4h0M125.3 644.3h0M133.1 642.4h0M108.7 634.2h0M106.4 645.3h0M116.9 651.6h0M138.5 645.6h0M98.8 645.7h0M94.0 616.9h0M136.5 591.5h0M112.2 635.7h0M103.2 650.4h0M122.9 640.3h0M145.6 647.2h0M149.6 630.4h0M105.4 646.5h0M104.4 606.1h0M112.6 632.2h0M145.4 647.1h0M114.0 641.2h0M107.6 651.9h0M103.3 641.3h0M129.2 603.6h0M84.1 639.0h0M99.1 625.7h0M140.5 643.7h0M157.9 647.9h0M113.1 651.2h0M110.3 643.8h0M140.0 622.1h0M118.9 649.9h0M117.5 648.2h0M114.5 648.1h0M105.5 645.4h0M113.5 646.4h0M94.0 643.5h0M137.7 636.7h0M112.7 651.5h0M95.9 651.6h0M110.6 647.5h0M85.4 636.4h0M90.7 649.7h0M108.9 633.4h0M165.9 647.8h0M118.8 648.0h0M120.5 646.4h0M179.9 651.3h0M122.5 650.1h0M132.9 648.8h0M137.7 651.3h0M171.9 642.8h0M85.6 635.9h0M114.5 651.5h0M134.8 648.8h0M141.3 648.9h0M145.0 643.5h0M132.9 643.4h0M116.8 647.8h0M135.0 635.7h0M115.9 576.5h0M162.5 651.5h0M149.1 645.6h0M130.1 650.1h0M161.6 650.3h0M123.1 649.8h0M167.8 623.2h0M95.7 648.3h0M133.0 648.2h0M117.1 651.3h0M130.5 651.3h0M143.4 564.5h0M117.7 609.6h0M133.2 649.6h0M117.3 650.8h0M127.5 635.9h0M145.6 647.2h0M98.5 645.6h0M162.0 642.0h0M123.5 653.5h0M115.4 638.5h0M104.0 620.5h0M112.4 650.5h0M112.1 645.8h0M147.0 649.0h0M85.5 645.6h0M136.5 613.9h0M100.1 616.0h0M139.9 639.8h0M108.0 650.5h0M103.8 631.4h0M129.8 628.3h0M165.1 644.8h0M123.9 597.1h0M96.1 648.3h0M116.8 647.9h0M128.1 650.3h0M150.6 652.1h0M107.0 652.8h0M94.0 637.8h0M138.8 646.6h0M143.6 637.3h0M112.2 645.3h0M133.0 592.0h0M115.2 640.9h0M137.0 624.4h0M134.3 628.2h0M101.5 647.1h0M82.2 645.4h0M176.4 642.4h0M126.9 642.1h0M128.1 652.0h0M109.7 646.4h0M128.7 650.4h0M122.6 649.8h0M95.8 649.5h0M107.2 633.4h0M154.5 637.9h0M120.3 648.9h0M90.3 648.7h0M159.5 626.2h0M129.9 646.9h0M125.0 640.2h0M124.8 640.1h0M107.9 644.5h0M117.2 628.1h0M97.6 622.2h0M123.1 648.6h0M125.4 643.7h0M119.8 640.2h0M112.2 652.8h0M140.3 645.1h0M161.7 640.6h0M80.8 623.8h0M109.8 638.4h0M173.9 627.8h0M100.8 645.7h0M89.5 636.5h0M137.3 651.0h0M134.9 631.4h0M142.8 649.5h0M109.7 651.3h0M96.5 641.5h0M125.8 622.1h0M131.0 647.4h0M93.5 614.0h0M128.6 645.2h0M102.8 651.1h0M138.9 650.8h0M137.8 637.1h0M116.5 652.7h0M134.0 618.9h0M106.8 651.8h0M148.9 643.5h0M111.2 624.3h0M118.8 639.8h0M116.1 649.9h0M129.8 650.3h0M85.8 648.8h0M152.1 627.7h0M172.8 630.1h0M160.5 642.3h0M115.4 639.6h0M104.0 635.3h0M115.1 642.2h0M106.2 646.0h0M146.5 646.7h0M110.1 641.9h0M144.3 646.4h0M99.2 652.5h0M95.5 628.5h0M123.0 639.4h0M148.6 641.9h0M135.6 648.6h0M89.5 637.1h0M122.8 638.0h0M101.5 646.1h0M169.3 650.2h0M127.1 622.0h0M119.8 643.6h0M78.1 634.6h0M115.2 622.7h0M122.9 647.7h0M134.5 646.8h0M113.6 614.3h0M146.6 643.8h0M142.7 633.7h0M137.7 644.4h0M126.5 640.3h0M137.4 641.0h0M112.8 645.5h0M135.0 650.8h0M124.7 635.0h0M128.7 647.1h0M124.4 648.4h0M146.5 647.7h0M88.3 651.5h0M131.5 642.7h0M114.6 651.9h0M121.7 650.2h0M110.5 644.8h0M108.1 641.6h0M108.7 648.3h0M119.9 617.5h0M159.6 631.4h0M108.8 644.8h0M145.0 634.1h0M89.2 645.3h0M108.7 635.1h0M139.0 648.7h0M172.0 647.0h0M178.6 646.2h0M123.1 599.8h0M113.4 648.3h0M157.3 645.2h0M135.4 651.7h0M164.2 630.6h0M132.8 635.9h0M114.0 648.3h0M90.4 640.8h0M152.1 633.2h0M145.1 635.9h0M104.7 651.8h0M139.0 643.2h0M146.6 647.0h0M105.6 639.9h0M112.7 652.6h0M111.6 650.3h0M100.5 648.7h0M145.8 572.9h0M162.9 647.9h0M150.0 645.4h0M133.8 649.4h0M123.3 652.7h0M164.3 649.8h0M137.8 648.9h0M130.9 651.4h0M116.7 632.1h0M138.0 653.2h0M143.6 651.8h0M131.2 638.9h0M110.8 647.3h0M119.5 640.5h0M145.0 620.9h0M132.1 595.4h0M104.1 605.8h0M119.2 634.9h0M122.2 644.0h0M104.8 640.6h0M169.4 643.4h0M124.5 644.8h0M140.6 646.5h0M124.8 642.7h0M153.6 631.4h0M101.8 649.2h0M125.4 633.4h0M146.2 646.5h0M171.7 646.2h0M155.8 619.1h0M160.0 642.8h0M137.6 652.4h0M85.9 649.1h0M140.7 628.9h0M122.7 629.4h0M137.6 615.8h0M90.0 650.1h0M103.9 650.9h0M161.2 650.5h0M106.7 647.8h0M144.4 648.2h0M141.1 638.4h0M110.9 653.7h0M104.8 651.6h0M160.9 649.6h0M101.4 640.8h0M126.1 650.5h0M149.0 632.1h0M131.1 649.8h0M105.8 653.3h0M133.4 640.6h0M104.7 644.6h0M197.0 651.2h0M87.4 637.5h0M115.6 648.4h0M138.6 645.9h0M146.8 638.9h0M150.5 643.7h0M77.5 621.2h0M87.5 629.4h0M130.5 652.0h0M126.4 632.9h0M102.5 644.4h0M108.7 650.8h0M111.4 623.6h0M140.0 645.1h0M123.1 643.6h0M131.2 643.0h0M87.1 632.1h0M106.1 654.0h0M140.4 651.5h0M121.8 645.6h0M111.9 638.7h0M118.9 647.1h0M103.9 647.1h0M102.1 644.5h0M154.1 630.2h0M134.4 652.0h0M147.6 631.8h0M170.4 653.6h0M125.3 647.4h0M148.9 651.1h0M116.6 576.1h0M146.9 653.3h0M125.4 621.0h0M111.3 637.8h0M127.1 652.2h0M111.1 627.3h0M151.1 649.0h0M149.8 649.6h0M130.4 645.1h0M97.4 641.5h0M116.4 654.1h0M106.7 650.2h0M106.5 650.7h0M109.8 653.8h0M144.6 644.2h0M130.6 647.0h0M126.3 647.0h0M100.9 652.4h0M126.6 630.1h0M130.1 612.7h0M94.8 647.0h0M111.3 624.8h0M162.4 648.6h0M141.1 646.9h0M102.9 645.8h0M102.0 615.0h0M138.0 626.0h0M132.9 653.8h0M142.6 644.1h0M72.3 644.0h0M147.3 608.9h0M102.4 634.7h0M132.3 646.3h0M118.7 638.8h0M137.7 636.9h0M115.9 651.9h0M154.0 623.0h0M112.5 645.2h0M142.8 652.9h0M136.0 568.3h0M130.9 649.6h0M170.0 644.8h0M129.6 648.1h0M128.9 653.0h0M96.6 652.3h0M144.8 645.7h0M150.4 653.4h0M111.7 618.2h0M107.5 653.1h0M108.5 647.6h0M124.6 622.9h0M154.3 614.9h0M137.8 648.6h0M114.0 652.3h0M153.0 624.3h0M126.9 650.4h0M139.8 639.4h0M128.3 651.4h0M130.2 648.9h0M141.2 637.9h0M134.7 648.1h0M158.5 634.9h0M152.9 633.8h0M139.6 640.7h0M101.4 653.0h0M104.3 637.6h0M145.0 643.2h0M126.9 603.3h0M116.2 652.9h0M90.8 647.5h0M140.4 635.6h0M120.1 634.2h0M123.9 649.7h0M116.6 635.3h0M146.0 651.3h0M103.2 643.8h0M171.8 651.5h0M97.4 640.4h0M136.2 649.2h0M124.4 639.5h0M86.6 645.2h0M138.2 632.1h0M150.6 645.6h0M93.2 621.7h0M141.9 649.3h0M147.7 629.6h0M121.9 653.8h0M114.6 649.9h0M106.5 645.7h0M101.2 640.8h0M166.5 651.5h0M147.8 648.7h0M136.9 646.0h0M153.2 649.7h0M141.1 650.0h0M130.0 645.1h0M148.9 652.5h0M95.3 620.2h0M133.4 609.4h0M102.3 642.9h0M138.2 606.5h0M123.8 648.3h0M140.7 645.8h0M108.5 635.2h0M83.1 650.9h0M154.9 648.6h0M117.8 641.0h0M149.6 638.9h0M103.8 648.9h0M148.0 646.0h0M111.1 633.1h0M150.0 585.1h0M101.3 649.6h0M109.7 641.2h0M114.5 627.8h0M66.0 631.3h0M110.8 647.1h0M137.4 643.0h0M102.7 616.7h0M137.6 648.5h0M129.5 651.3h0M98.0 647.3h0M132.9 644.0h0M108.0 652.1h0M88.2 613.3h0M133.0 650.1h0M150.9 638.7h0M115.9 649.2h0M149.9 641.5h0M160.8 641.1h0M112.1 649.1h0M109.5 642.4h0M130.5 637.7h0M134.8 651.1h0M120.5 650.7h0M135.5 651.9h0M112.2 650.3h0M111.4 647.0h0M158.0 647.0h0M93.6 647.3h0M141.3 638.5h0M130.2 595.6h0M149.2 644.1h0M151.5 652.0h0M121.2 650.4h0M128.8 612.5h0M114.1 613.4h0M102.6 619.2h0M88.0 650.3h0M146.7 645.7h0M128.1 645.1h0M128.9 646.4h0M103.6 647.2h0M127.4 650.5h0M135.1 606.6h0M89.1 648.8h0M118.8 644.8h0M127.0 649.7h0M124.2 644.9h0M123.1 615.3h0M127.8 652.3h0M90.8 638.0h0M117.5 649.2h0M95.4 647.4h0M123.0 649.6h0M117.3 632.8h0M142.1 638.6h0M121.2 652.0h0M141.9 616.8h0M152.7 626.6h0M131.0 641.0h0M124.6 624.3h0M119.1 586.8h0M141.9 647.5h0M124.9 652.6h0M109.0 647.3h0M178.3 650.1h0M145.0 644.2h0M118.5 637.5h0M81.5 631.7h0M167.1 641.9h0M123.6 643.4h0M139.4 648.5h0M127.6 639.2h0M117.3 640.8h0M132.2 636.0h0M103.4 648.8h0M115.6 625.7h0M130.4 652.7h0M97.1 598.3h0M132.3 651.8h0M105.1 643.6h0M156.0 612.4h0M117.0 647.3h0M166.8 650.8h0M159.0 641.4h0M127.0 623.3h0M135.5 650.2h0M91.7 644.8h0M136.1 621.0h0M68.0 621.7h0M138.4 616.1h0M142.3 642.8h0M134.4 640.7h0M111.3 645.9h0M127.7 648.3h0M93.0 652.2h0M135.9 639.0h0M127.3 651.5h0M143.5 647.9h0M79.7 614.4h0M92.4 579.8h0M136.6 648.2h0M73.7 649.6h0M157.2 621.1h0M130.6 652.8h0M116.6 647.2h0M135.0 646.0h0M132.5 652.7h0M110.9 618.6h0M93.3 632.1h0M175.3 637.0h0M94.7 624.4h0M84.5 641.4h0M116.0 624.6h0M150.6 643.1h0M164.0 630.8h0M114.5 650.8h0M178.6 648.0h0M133.9 645.9h0M114.6 652.6h0M121.8 645.9h0M146.3 648.7h0M90.9 651.2h0M124.1 642.4h0M140.7 647.9h0M136.7 643.6h0M161.7 645.4h0M128.1 638.3h0M151.5 650.6h0M114.6 647.1h0M78.5 622.8h0M148.3 644.8h0M198.3 623.6h0M169.0 614.0h0M144.7 652.2h0M158.3 640.4h0M98.9 644.5h0M141.4 630.8h0M128.8 648.7h0M141.6 649.9h0M123.3 635.1h0M93.6 640.9h0M82.3 650.6h0M98.1 645.7h0M140.5 645.4h0M144.9 644.1h0M120.5 639.4h0M119.8 643.7h0M147.6 649.0h0M150.1 651.3h0M120.2 652.9h0M113.4 613.3h0M132.7 623.6h0M92.9 650.9h0M135.1 633.9h0M143.2 652.8h0M136.1 645.6h0M127.6 639.6h0M118.8 652.8h0M101.6 652.3h0M96.2 646.1h0M153.5 649.7h0M108.3 651.4h0M87.2 644.3h0M114.4 646.9h0M104.0 639.5h0M98.7 638.6h0M110.5 634.6h0M105.6 640.1h0M134.6 645.6h0M160.6 643.2h0M105.6 636.3h0M107.0 648.8h0M125.2 643.2h0M162.2 652.9h0M119.3 627.3h0M121.5 641.6h0M158.3 651.7h0M125.9 634.5h0M112.1 652.9h0M103.1 643.0h0M129.1 602.4h0M154.0 652.5h0M147.6 632.2h0M160.4 646.2h0M112.8 643.5h0M158.7 637.4h0M162.0 634.6h0M112.1 651.0h0M165.4 652.4h0M117.3 647.4h0M105.0 649.0h0M125.1 569.9h0M123.5 648.7h0M127.7 631.6h0M107.1 648.0h0M86.7 636.1h0M139.8 616.3h0M98.7 584.0h0M144.0 647.2h0M116.4 647.4h0M98.4 634.9h0M111.7 649.8h0M136.2 643.9h0M112.2 646.9h0M114.2 621.3h0M146.9 649.8h0M124.1 620.5h0M118.7 605.1h0M134.7 636.7h0M79.5 633.4h0M132.4 638.0h0M135.5 638.9h0M113.8 632.4h0M126.3 651.1h0M102.7 643.4h0M132.3 653.6h0M79.8 629.1h0M124.7 524.2h0M91.4 647.0h0M111.8 638.4h0M155.8 612.1h0M102.9 624.5h0M98.3 641.7h0M128.7 637.4h0M107.4 621.5h0M123.4 645.1h0M119.1 651.2h0M140.7 641.4h0M134.9 601.1h0M106.0 647.2h0M125.1 633.3h0M121.0 631.7h0M134.9 652.9h0M110.0 653.4h0M118.7 648.1h0M137.9 643.3h0M123.5 623.6h0M138.0 651.7h0M109.8 641.5h0M162.2 646.6h0M121.2 642.2h0M142.1 645.7h0M131.4 648.1h0M112.9 650.1h0M139.4 648.9h0M137.0 640.5h0M146.3 654.1h0M103.8 651.7h0M121.4 634.2h0M180.5 614.5h0M154.7 640.8h0M116.5 638.7h0M77.2 631.7h0M125.1 637.5h0M102.4 651.3h0M110.9 645.3h0M132.6 647.7h0M132.6 636.4h0M99.5 645.8h0M90.8 648.9h0M144.8 649.7h0M165.8 639.1h0M144.4 644.0h0M143.9 628.0h0M127.3 648.8h0M112.9 597.5h0M120.9 648.4h0M109.4 652.8h0M114.0 641.5h0M114.3 649.9h0M133.9 639.8h0M115.4 641.7h0M103.6 633.1h0M103.3 647.6h0M127.9 648.1h0M99.8 588.0h0M158.2 652.9h0M127.6 651.8h0M131.8 651.9h0M137.7 638.8h0M162.4 625.1h0M114.9 631.4h0M114.9 645.9h0M114.0 653.0h0M138.2 653.4h0M119.8 638.8h0M127.4 652.6h0M110.7 636.4h0M149.1 612.4h0M85.2 639.8h0M114.4 634.9h0M87.9 646.2h0M140.5 649.4h0M117.0 650.9h0M149.4 652.0h0M104.9 647.6h0M118.0 587.0h0M131.0 650.3h0M137.7 641.3h0M131.1 645.5h0M135.1 651.5h0M98.6 648.2h0M100.7 636.1h0M167.5 624.2h0M134.7 641.4h0M109.9 651.9h0M137.0 652.4h0M131.6 646.2h0M141.4 644.5h0M127.3 649.1h0M87.2 647.6h0M140.2 629.1h0M155.2 650.9h0M104.4 636.0h0M115.0 551.9h0M131.8 652.5h0M112.8 613.4h0M84.9 643.5h0M94.5 612.2h0M115.1 651.1h0M87.5 649.7h0M68.9 648.5h0M172.8 644.0h0M119.1 651.5h0M132.4 648.4h0M106.4 619.8h0M134.6 650.5h0M157.4 645.4h0M136.0 643.5h0M150.8 637.5h0M117.3 635.7h0M116.4 643.7h0M160.9 651.2h0M102.2 648.0h0M114.0 622.3h0M90.0 574.7h0M159.7 648.3h0M129.0 647.8h0M139.7 636.7h0M141.4 634.9h0M167.3 646.4h0M140.3 646.5h0M125.8 642.7h0M123.8 641.3h0M106.3 646.3h0M111.7 651.5h0M109.4 648.6h0M121.7 652.6h0M119.3 651.4h0M107.0 643.1h0M149.3 642.0h0M114.2 648.3h0M154.3 652.7h0M150.0 652.4h0M111.0 644.5h0M120.1 609.6h0M135.8 645.4h0M145.9 644.6h0M107.3 627.2h0M157.9 622.9h0M99.1 598.3h0M115.8 634.8h0M151.1 568.1h0M89.5 651.0h0M150.8 639.3h0M118.1 654.3h0M134.6 646.5h0M67.6 540.8h0M70.0 649.0h0M124.8 642.6h0M141.5 647.1h0M105.2 647.8h0M78.7 651.4h0M168.3 649.6h0M123.2 598.7h0M148.1 643.8h0M141.1 647.1h0M105.0 630.1h0M127.9 612.0h0M119.2 647.9h0M132.5 646.5h0M118.1 650.5h0M130.5 641.5h0M165.2 645.2h0M86.3 639.7h0M175.3 648.3h0M107.3 646.4h0M62.0 647.6h0M120.8 652.5h0M137.6 650.5h0M84.3 649.8h0M138.9 597.4h0M152.5 643.0h0M113.7 647.1h0M146.2 648.7h0M134.1 630.8h0M105.0 649.1h0M134.8 644.9h0M122.2 648.8h0M123.5 600.7h0M154.8 652.7h0M126.0 644.1h0M125.8 652.1h0M122.1 643.5h0M109.9 641.6h0M71.3 652.5h0M127.2 640.7h0M121.3 648.4h0M129.0 628.1h0M144.7 645.7h0M114.7 628.6h0M136.9 632.6h0M118.8 650.4h0M129.1 649.3h0M150.3 633.1h0M76.9 636.6h0M154.3 629.2h0M114.5 650.4h0M146.3 629.7h0M126.3 651.5h0M91.3 642.2h0M106.7 649.6h0M134.7 628.9h0M79.5 649.5h0M153.6 645.3h0M117.4 637.0h0M99.9 651.7h0M125.4 613.3h0M147.3 645.0h0M147.2 648.1h0M99.0 652.8h0M130.9 632.2h0M133.1 645.3h0M116.1 627.9h0M123.9 652.3h0M155.1 649.4h0M133.6 644.9h0M148.2 642.4h0M152.0 642.8h0M114.8 648.7h0M139.3 650.3h0M145.4 646.9h0M104.5 650.5h0M121.8 604.6h0M141.9 644.8h0M105.0 598.0h0M118.8 645.0h0M115.6 621.1h0M128.8 648.4h0M129.0 651.0h0M101.7 646.3h0M61.5 625.7h0M168.8 651.4h0M121.8 652.6h0M128.7 642.8h0M141.3 652.0h0M111.7 649.4h0M119.5 574.4h0M120.5 645.3h0M113.7 634.2h0M181.4 626.0h0M158.7 651.2h0M148.3 644.7h0M152.5 628.6h0M139.4 652.8h0M127.9 648.6h0M134.8 644.6h0M148.1 652.7h0M108.6 645.6h0M132.0 648.1h0M124.3 644.4h0M148.0 645.9h0M130.3 653.1h0M67.2 652.4h0M132.8 653.8h0M134.0 645.8h0M125.0 649.8h0M115.7 633.6h0M132.8 645.2h0M114.2 642.8h0M151.2 645.1h0M116.8 651.6h0M127.1 650.7h0M93.2 632.8h0M111.2 653.4h0M109.1 601.0h0M122.6 652.0h0M100.6 635.6h0M133.9 642.8h0M120.6 639.4h0M158.9 639.3h0M121.3 652.2h0M134.8 613.0h0M139.2 651.8h0M129.0 622.1h0M110.9 639.2h0M151.7 610.2h0M89.8 653.0h0M133.2 635.9h0M117.1 645.1h0M115.9 624.9h0M76.1 642.3h0M96.7 649.6h0M91.1 650.6h0M124.4 644.7h0M164.4 646.8h0M132.6 641.1h0M130.6 616.6h0M128.0 643.5h0M122.5 644.9h0M123.7 630.0h0M125.4 644.3h0M123.9 634.9h0M114.5 631.3h0M112.3 636.1h0M167.4 642.6h0M123.0 651.6h0M141.3 644.8h0M145.1 649.5h0M136.5 602.5h0M133.8 647.6h0M96.1 645.0h0M139.5 637.6h0M100.2 651.1h0M103.3 651.1h0M118.8 642.2h0M167.5 643.0h0M157.1 652.8h0M159.1 634.1h0M134.7 633.6h0M138.6 596.9h0M142.8 653.0h0M86.2 611.0h0M123.1 621.2h0M117.4 649.5h0M117.3 641.6h0M129.1 649.3h0M136.8 637.3h0M104.6 651.4h0M81.5 647.4h0M125.2 649.7h0M111.6 646.1h0M125.6 638.0h0M143.4 640.0h0M149.7 650.9h0M138.4 640.9h0M101.8 649.6h0M134.8 644.2h0M97.1 649.0h0M158.8 633.2h0M126.8 620.4h0M104.8 646.4h0M146.2 647.6h0M100.2 637.8h0M160.5 654.0h0M128.4 651.8h0M118.3 652.3h0M182.6 649.6h0M125.9 649.7h0M103.0 648.4h0M129.5 604.7h0M131.3 612.7h0M101.3 644.3h0M115.2 652.6h0M207.6 647.0h0M130.4 650.0h0M112.2 651.1h0M147.7 648.1h0M121.7 643.1h0M97.8 642.6h0M121.2 639.9h0M116.4 644.6h0M136.4 630.6h0M109.7 630.5h0M103.1 646.6h0M127.8 643.5h0M69.6 650.9h0M120.9 631.5h0M109.3 614.7h0M85.0 644.2h0M136.9 644.8h0M130.8 631.3h0M107.1 637.7h0M148.5 646.9h0M73.6 651.6h0M106.0 651.2h0M134.5 650.2h0M179.9 638.0h0M96.0 647.3h0M158.8 636.2h0M102.3 629.0h0M114.4 578.2h0M112.7 637.6h0M137.5 648.3h0M121.5 625.9h0M136.0 645.5h0M134.8 604.9h0M145.6 639.4h0M132.2 652.6h0M127.9 648.6h0M141.2 649.2h0M134.9 651.2h0M144.8 649.9h0M124.3 637.9h0M117.8 644.9h0M148.5 604.0h0M84.9 650.6h0M139.9 631.2h0M114.4 644.0h0M120.7 573.6h0M120.5 651.6h0M90.5 651.9h0M153.8 648.0h0M168.2 636.9h0M133.4 636.8h0M142.5 631.6h0M103.3 649.0h0M112.8 643.9h0M119.4 651.8h0M109.6 603.1h0M172.0 650.4h0M133.4 645.3h0M106.2 635.7h0M123.4 608.5h0M135.1 647.5h0M66.2 645.9h0M143.7 649.8h0M144.5 636.2h0M85.8 646.6h0M132.0 634.9h0M128.4 645.1h0M117.3 647.3h0M125.0 651.2h0M139.2 647.5h0M136.5 648.7h0M134.0 643.7h0M144.7 639.6h0M145.6 646.4h0M123.7 647.1h0M97.1 646.0h0M149.1 634.6h0M106.1 641.8h0M141.6 652.1h0M132.7 641.4h0M141.5 642.3h0M86.4 653.4h0M168.9 648.0h0M153.2 622.9h0M126.9 651.5h0M155.3 645.3h0M136.5 639.4h0M146.1 629.6h0M93.4 652.2h0M128.1 644.9h0M142.2 646.1h0M120.9 590.5h0M155.4 625.9h0M147.9 650.1h0M123.0 645.6h0M100.7 650.5h0M128.5 651.7h0M137.0 639.5h0M119.7 647.6h0M138.3 639.4h0M133.0 651.7h0M89.0 589.5h0M110.5 647.8h0M84.5 650.2h0M108.7 634.2h0M66.4 652.2h0M115.8 648.6h0M107.8 648.3h0M90.0 642.2h0M151.4 643.4h0M113.0 623.1h0M135.8 651.1h0M112.2 649.3h0M123.9 624.5h0M109.3 646.2h0M127.4 651.6h0M114.4 637.4h0M150.0 653.2h0M140.6 647.3h0M153.5 637.3h0M168.6 641.7h0M116.2 650.3h0M93.2 638.3h0M136.4 633.8h0M132.7 652.4h0M115.9 647.0h0M128.5 634.8h0M156.4 642.0h0M79.2 651.0h0M77.6 650.0h0M98.4 642.5h0M120.0 627.2h0M148.9 648.4h0M145.9 644.8h0M135.0 620.6h0M99.5 645.6h0M159.1 650.0h0M129.7 643.7h0M115.7 652.0h0M109.7 650.9h0M148.9 642.4h0M140.5 651.6h0M136.1 643.5h0M148.2 649.8h0M142.9 619.9h0M164.9 650.7h0M100.1 652.4h0M146.3 637.7h0M132.5 650.4h0M152.7 611.6h0M124.2 646.0h0M151.3 639.1h0M154.8 648.0h0M132.5 647.6h0M112.3 647.3h0M118.7 639.1h0M118.2 644.3h0M107.0 651.7h0M156.6 650.9h0M165.2 631.3h0M74.2 649.4h0M115.7 644.8h0M121.0 649.2h0M152.7 646.1h0M146.3 649.6h0M109.7 621.1h0M118.7 651.3h0M121.2 628.8h0M121.4 649.8h0M139.1 630.4h0M120.4 647.5h0M116.9 537.5h0M120.8 605.8h0M121.7 640.5h0M79.8 643.2h0M126.1 647.5h0M115.9 652.1h0M92.0 643.3h0M110.8 645.7h0M121.0 648.7h0M108.8 600.6h0M100.5 648.7h0M118.4 651.5h0M103.7 633.0h0M145.6 643.7h0M196.8 633.7h0M152.3 650.2h0M149.0 608.5h0M116.6 603.0h0M107.1 651.4h0M124.0 650.2h0M139.1 651.3h0M126.8 653.3h0M124.3 628.9h0M119.1 641.7h0M149.2 651.3h0M96.8 644.2h0M131.2 647.1h0M103.5 624.7h0M99.2 647.1h0M124.1 635.6h0M115.1 650.2h0M169.6 650.3h0M142.7 646.3h0M114.4 645.3h0M119.3 641.7h0M68.7 645.2h0M126.6 650.8h0M116.4 571.0h0M165.9 637.0h0M130.2 647.4h0M155.8 648.3h0M106.8 636.2h0M103.6 650.1h0M157.1 652.7h0M123.6 643.8h0M130.7 652.3h0M120.0 647.6h0M167.6 630.0h0M108.3 632.8h0M139.5 645.9h0M119.7 647.2h0M90.9 649.3h0M145.8 617.7h0M166.1 647.9h0M138.7 653.9h0M119.1 651.8h0M143.3 652.8h0M102.0 651.3h0M133.8 633.5h0M104.7 603.4h0M128.6 650.3h0M132.8 645.1h0M143.5 641.3h0M173.5 626.0h0M110.9 634.5h0M141.9 650.9h0M108.5 650.2h0M70.4 637.1h0M120.3 624.3h0M112.7 644.2h0M141.1 630.8h0M132.1 651.1h0M173.8 632.9h0M155.2 611.4h0M156.1 640.4h0M135.5 637.2h0M91.8 634.0h0M103.5 640.3h0M102.7 635.8h0M114.3 559.0h0M129.3 639.1h0M105.0 647.3h0M123.8 647.3h0M115.4 650.5h0M142.0 647.9h0M107.0 641.0h0M107.1 646.4h0M113.8 650.7h0M120.1 650.2h0M97.4 641.2h0M118.5 652.3h0M116.4 643.1h0M134.6 640.9h0M130.7 637.7h0M114.2 650.1h0M138.7 648.1h0M125.3 636.9h0M145.9 624.5h0M109.9 647.8h0M137.4 652.3h0M97.3 637.6h0M111.5 650.6h0M142.9 638.7h0M145.4 647.6h0M118.7 647.6h0M131.7 653.4h0M109.8 635.9h0M107.9 645.5h0M127.9 638.9h0M114.6 651.4h0M180.3 649.7h0M162.9 653.0h0M127.6 646.6h0M167.0 591.3h0M146.7 651.0h0M107.4 649.9h0M113.7 642.3h0M107.8 647.0h0M157.6 618.0h0M84.0 650.7h0M116.9 622.5h0M117.8 598.5h0M133.2 618.2h0M106.2 647.4h0M147.6 638.1h0M83.9 647.2h0M129.1 637.2h0M111.1 606.5h0M128.5 617.8h0M134.0 644.2h0M118.1 651.5h0M144.2 635.1h0M145.8 647.8h0M103.0 647.9h0M118.3 645.1h0M146.8 650.6h0M114.4 636.3h0M145.1 580.8h0M136.8 650.3h0M102.3 650.1h0M126.7 642.4h0M123.7 649.2h0M121.1 645.6h0M138.3 644.2h0M107.3 651.5h0M157.9 645.7h0M121.3 645.2h0M150.0 647.4h0M129.1 646.9h0M137.9 651.0h0M129.7 629.6h0M151.3 637.5h0M131.7 613.5h0M140.8 619.5h0M98.8 651.3h0M142.8 647.1h0M115.7 650.7h0M157.9 651.6h0M127.5 652.1h0M121.4 578.9h0M178.8 648.6h0M103.0 611.4h0M106.4 653.0h0M132.9 651.2h0M93.3 627.3h0M109.2 651.1h0M128.9 646.5h0M149.9 644.0h0M160.2 627.0h0M164.4 627.4h0M126.8 638.6h0M125.7 652.5h0M99.4 635.4h0M73.3 650.2h0M97.0 645.5h0M102.5 642.4h0M120.9 648.4h0M106.7 653.6h0M126.9 651.9h0M118.8 641.0h0M148.3 636.1h0M157.8 652.2h0M140.1 613.7h0M134.0 651.3h0M134.0 648.7h0M111.1 628.8h0M121.4 651.3h0M110.4 596.1h0M106.7 636.5h0M129.2 626.2h0M119.2 650.7h0M111.2 651.0h0M182.2 643.0h0M118.3 623.8h0M139.7 646.5h0M138.9 642.1h0M150.0 610.5h0M118.4 645.2h0M121.3 624.8h0M133.7 634.6h0M145.0 649.3h0M128.1 620.0h0M145.6 634.1h0M119.1 647.7h0M106.5 647.1h0M123.9 652.2h0M150.8 649.9h0M130.8 637.7h0M113.2 653.0h0M146.5 640.5h0M119.8 627.1h0M144.9 650.7h0M123.5 652.9h0M119.5 619.2h0M106.9 633.8h0M92.3 647.3h0M146.0 607.8h0M135.3 635.1h0M163.0 653.9h0M87.9 599.9h0M179.3 637.8h0M126.8 642.3h0M125.9 649.2h0M125.0 646.0h0M140.0 636.4h0M146.8 637.9h0M104.1 619.8h0M66.8 643.8h0M132.6 648.7h0M166.3 651.2h0M99.7 648.6h0M134.5 634.4h0M127.7 636.6h0M110.0 649.2h0M128.2 652.0h0M129.4 647.9h0M140.3 650.9h0M113.8 648.9h0M117.3 650.9h0M119.6 652.0h0M137.0 636.6h0M125.0 646.5h0M105.9 650.8h0M120.5 650.5h0M99.7 643.3h0M124.9 648.0h0M107.6 645.4h0M110.2 648.2h0M129.4 635.8h0M141.8 649.2h0M151.6 651.4h0M121.6 622.5h0M177.0 643.7h0M117.5 647.8h0M98.9 646.2h0M116.1 649.9h0M151.4 650.0h0M162.2 633.6h0M139.2 649.1h0M114.2 653.3h0M131.3 647.1h0M133.7 649.5h0M135.9 652.4h0M77.7 639.6h0M148.7 654.4h0M153.2 647.6h0M121.8 652.5h0M103.6 635.9h0M109.3 645.3h0M121.9 594.8h0M144.6 651.9h0M114.8 651.4h0M95.1 649.5h0M149.2 644.5h0M139.9 646.1h0M116.1 644.2h0M123.6 598.2h0M164.3 640.9h0M138.4 653.3h0M122.6 568.6h0M107.9 634.1h0M151.7 648.0h0M120.4 648.3h0M142.5 644.7h0M157.9 625.8h0M125.0 550.9h0M118.6 649.2h0M120.1 650.4h0M116.2 645.6h0M144.6 652.6h0M94.9 650.0h0M118.7 639.9h0M108.2 615.9h0M113.8 646.7h0M126.4 626.2h0M131.7 644.7h0M113.5 643.3h0M134.0 647.7h0M124.8 653.1h0M113.7 625.9h0M156.0 645.6h0M78.4 602.5h0M121.5 553.4h0M116.3 630.2h0M111.9 620.4h0M150.3 651.1h0M153.3 522.8h0M120.4 651.6h0M131.2 648.0h0M92.8 651.1h0M130.5 652.5h0M148.6 639.9h0M121.3 619.5h0M105.2 636.3h0M95.9 647.5h0M139.0 648.8h0M122.7 636.9h0M158.1 622.5h0M135.1 647.0h0M93.9 607.7h0M165.7 653.6h0M144.0 645.3h0M140.5 641.6h0M121.0 645.0h0M124.4 626.2h0M119.5 648.8h0M139.3 637.0h0M134.6 642.0h0M157.0 627.5h0M129.7 646.7h0M139.4 653.1h0M113.9 649.7h0M128.9 647.9h0M178.4 635.4h0M133.9 578.3h0M125.1 647.5h0M151.8 633.7h0M145.1 625.0h0M117.3 649.5h0M109.6 644.0h0M146.8 651.1h0M113.6 652.0h0M168.3 634.3h0M129.9 651.7h0M102.9 649.4h0M125.9 651.8h0M120.3 624.7h0M125.4 644.0h0M80.0 647.1h0M122.0 649.6h0M95.3 645.6h0M103.1 648.9h0M90.7 645.8h0M144.8 650.3h0" stroke="#bcbcbc" stroke-width="3" stroke-linecap="round" stroke-opacity="0.5" fill="none"/>
<rect x="45.2" y="454.4" width="189.6" height="211" fill="none" stroke="#444" stroke-width="0.9"/>
<line x1="45.2" y1="611.5" x2="234.8" y2="611.5" stroke="#222" stroke-width="1.2" stroke-dasharray="4.5,3"/>
<line x1="45.2" y1="653.5" x2="234.8" y2="653.5" stroke="#222" stroke-width="1.2" stroke-dasharray="4.5,3"/>
<line x1="45.2" y1="645.5" x2="234.8" y2="645.5" stroke="#111" stroke-width="1.2"/>
<circle cx="141.3" cy="553.3" r="4.2" fill="#3DAE5E"/>
<circle cx="156.3" cy="572.3" r="4.2" fill="#6B0A1A"/>
<circle cx="165" cy="569" r="4.2" fill="#DE8A8E"/>
<circle cx="186.9" cy="596.7" r="4.2" fill="#6B0A1A"/>
<circle cx="154.2" cy="599.8" r="4.2" fill="#3DAE5E"/>
<circle cx="147.1" cy="609.6" r="4.2" fill="#6B0A1A"/>
<circle cx="157.3" cy="609.2" r="4.2" fill="#DE8A8E"/>
<circle cx="145.8" cy="617.1" r="4.2" fill="#3DAE5E"/>
<circle cx="151" cy="614.8" r="4.2" fill="#3DAE5E"/>
<circle cx="156.3" cy="619.2" r="4.2" fill="#3DAE5E"/>
<circle cx="138.1" cy="626.9" r="4.2" fill="#3DAE5E"/>
<circle cx="162.5" cy="626.9" r="4.2" fill="#3DAE5E"/>
<circle cx="169.4" cy="629.4" r="4.2" fill="#3DAE5E"/>
<circle cx="149.6" cy="632.1" r="4.2" fill="#3DAE5E"/>
<circle cx="152" cy="630" r="4.2" fill="#3DAE5E"/>
<circle cx="131.7" cy="636.9" r="4.2" fill="#3DAE5E"/>
<circle cx="142.1" cy="640" r="4.2" fill="#3DAE5E"/>
<circle cx="152.1" cy="642.1" r="4.2" fill="#3DAE5E"/>
<circle cx="143.8" cy="648.3" r="4.2" fill="#3DAE5E"/>
<circle cx="131.3" cy="651.5" r="4.2" fill="#3DAE5E"/>
<circle cx="159.4" cy="650.8" r="4.2" fill="#3DAE5E"/>
<circle cx="169.8" cy="650.8" r="4.2" fill="#3DAE5E"/>
<circle cx="176" cy="646" r="4.2" fill="#3DAE5E"/>
<circle cx="177" cy="649" r="4.2" fill="#3DAE5E"/>
<circle cx="155.8" cy="625.8" r="4.2" fill="#6B0A1A"/>
<circle cx="158.3" cy="630" r="4.2" fill="#DE8A8E"/>
<circle cx="162" cy="631.7" r="4.2" fill="#DE8A8E"/>
<circle cx="162.5" cy="640.4" r="4.2" fill="#DE8A8E"/>
<circle cx="170.8" cy="638.3" r="4.2" fill="#DE8A8E"/>
<circle cx="160.4" cy="643.5" r="4.2" fill="#6B0A1A"/>
<circle cx="168.8" cy="646.7" r="4.2" fill="#6B0A1A"/>
<circle cx="112.9" cy="648.1" r="4.2" fill="#DE8A8E"/>
<circle cx="224.4" cy="466.9" r="4.2" fill="#6B0A1A"/>
<circle cx="224.4" cy="494.2" r="4.2" fill="#DE8A8E"/>
<circle cx="224.4" cy="524.2" r="4.2" fill="#3DAE5E"/>
<text x="212" y="467.5" font-size="12.4" fill="#383838" text-anchor="end">OXPHOS</text>
<text x="212" y="478.3" font-size="13.1" fill="#383838" text-anchor="end">Complex V</text>
<text x="212" y="496.3" font-size="12.4" fill="#383838" text-anchor="end">OXPHOS</text>
<text x="212" y="507" font-size="13.1" fill="#383838" text-anchor="end">Complex IV</text>
<text x="212" y="524.2" font-size="12.4" fill="#383838" text-anchor="end">OXPHOS</text>
<text x="212" y="535.2" font-size="13.1" fill="#383838" text-anchor="end">Complexes I–III</text>
<text x="148.3" y="577.9" font-size="12.2" fill="#383838" text-anchor="end" font-style="italic">ATP5ME</text>
<text x="212" y="572.7" font-size="12.2" fill="#383838" text-anchor="end" font-style="italic">COX7B</text>
<text x="223.3" y="589.4" font-size="12.2" fill="#383838" text-anchor="end" font-style="italic">ATP5F1A</text>
<text x="140.6" y="607.7" font-size="12.2" fill="#383838" text-anchor="end" font-style="italic">ATP5F1E</text>
<text x="205.8" y="608.5" font-size="12.2" fill="#383838" text-anchor="end" font-style="italic">COX6C</text>
<line x1="41" y1="655" x2="45.2" y2="655" stroke="#444" stroke-width="0.9"/>
<text x="33.5" y="659.7" font-size="13.4" fill="#333" text-anchor="end">0</text>
<line x1="41" y1="597.6" x2="45.2" y2="597.6" stroke="#444" stroke-width="0.9"/>
<text x="33.5" y="602.3" font-size="13.4" fill="#333" text-anchor="end">2</text>
<line x1="41" y1="540.2" x2="45.2" y2="540.2" stroke="#444" stroke-width="0.9"/>
<text x="33.5" y="544.9" font-size="13.4" fill="#333" text-anchor="end">4</text>
<line x1="41" y1="482.8" x2="45.2" y2="482.8" stroke="#444" stroke-width="0.9"/>
<text x="33.5" y="487.5" font-size="13.4" fill="#333" text-anchor="end">6</text>
<line x1="92.3" y1="665.4" x2="92.3" y2="669.4" stroke="#444" stroke-width="0.9"/>
<text x="92.3" y="686.3" font-size="13.4" fill="#333" text-anchor="middle">5</text>
<line x1="143.3" y1="665.4" x2="143.3" y2="669.4" stroke="#444" stroke-width="0.9"/>
<text x="143.3" y="686.3" font-size="13.4" fill="#333" text-anchor="middle">10</text>
<line x1="194.3" y1="665.4" x2="194.3" y2="669.4" stroke="#444" stroke-width="0.9"/>
<text x="194.3" y="686.3" font-size="13.4" fill="#333" text-anchor="middle">15</text>
<text font-size="15.4" fill="#383838" transform="translate(15.6,549.8) rotate(-90)" text-anchor="middle">TE<tspan font-size="10.5" dy="4">var</tspan><tspan dy="-4"> (mammals)</tspan></text>
<text x="64.6" y="709" font-size="15.4" fill="#383838">log<tspan font-size="10.5" dy="4">2</tspan><tspan dy="-4"> human FPKM</tspan><tspan font-size="10.5" dy="4">RNA</tspan></text>
<path d="M398.8 652.5h0M403.8 638.6h0M384.6 632.6h0M374.9 644.5h0M425.8 645.2h0M370.0 626.5h0M403.0 647.2h0M356.2 653.2h0M362.1 616.5h0M398.1 650.4h0M415.2 617.1h0M375.6 639.5h0M359.6 640.9h0M428.4 652.2h0M393.4 649.3h0M390.5 644.1h0M397.9 632.5h0M402.5 629.1h0M412.5 627.8h0M378.9 640.4h0M384.9 650.3h0M431.2 641.9h0M393.2 653.5h0M387.7 634.8h0M388.3 648.9h0M421.6 647.4h0M385.7 645.8h0M387.6 628.9h0M403.6 645.6h0M385.1 646.8h0M425.9 647.4h0M405.3 652.6h0M398.7 636.2h0M417.5 641.6h0M403.8 641.5h0M413.5 590.7h0M396.3 650.2h0M404.1 645.9h0M405.0 634.7h0M395.3 648.3h0M398.4 651.8h0M397.7 650.5h0M401.2 643.8h0M388.0 651.6h0M393.3 649.6h0M389.5 636.1h0M411.2 651.9h0M410.8 620.4h0M414.6 642.1h0M390.5 606.2h0M386.0 652.5h0M394.1 642.0h0M371.8 651.7h0M431.5 643.9h0M407.8 649.1h0M362.3 646.5h0M418.9 649.5h0M356.9 646.4h0M386.8 644.8h0M371.7 647.4h0M381.6 632.6h0M395.3 632.8h0M391.3 653.6h0M353.6 638.7h0M409.7 632.8h0M390.9 653.0h0M382.6 640.5h0M419.6 647.6h0M381.2 650.0h0M412.5 632.9h0M356.2 624.8h0M374.1 652.4h0M360.8 649.8h0M438.2 553.0h0M367.7 649.5h0M395.5 640.3h0M382.9 652.6h0M384.2 649.6h0M356.9 643.5h0M363.3 652.9h0M422.4 631.4h0M421.0 643.8h0M384.2 645.7h0M365.3 635.3h0M397.7 647.4h0M355.3 645.9h0M424.6 617.5h0M409.7 647.7h0M395.1 638.4h0M396.2 629.0h0M379.2 653.8h0M344.4 650.6h0M365.0 636.6h0M413.7 644.9h0M403.0 644.2h0M395.8 648.5h0M384.4 625.4h0M387.0 645.3h0M416.0 630.4h0M384.6 642.4h0M372.3 643.7h0M398.6 645.0h0M395.6 641.0h0M342.2 650.2h0M393.9 648.6h0M373.2 646.9h0M424.2 646.8h0M379.5 648.5h0M368.8 639.4h0M372.8 632.0h0M410.4 638.1h0M412.9 645.7h0M357.5 645.5h0M405.0 652.5h0M368.2 627.8h0M401.0 620.8h0M405.6 644.3h0M400.9 633.3h0M391.8 646.7h0M398.6 647.5h0M440.1 650.0h0M362.3 651.9h0M413.1 648.0h0M395.5 646.7h0M397.9 652.3h0M394.1 649.0h0M413.9 637.3h0M367.4 650.8h0M403.7 625.2h0M407.6 646.3h0M414.5 653.8h0M381.7 650.9h0M371.9 638.2h0M397.9 642.0h0M389.7 637.3h0M408.0 649.0h0M411.0 650.7h0M427.4 651.9h0M386.7 651.2h0M393.2 621.7h0M377.4 604.4h0M420.5 640.7h0M380.7 632.1h0M335.4 650.0h0M411.5 645.3h0M441.9 649.6h0M365.8 646.7h0M403.9 607.6h0M357.2 643.4h0M417.6 649.6h0M383.3 651.7h0M407.7 633.6h0M404.2 642.4h0M412.2 646.0h0M406.7 633.8h0M418.4 639.0h0M394.1 635.9h0M361.4 653.0h0M424.8 643.6h0M371.3 649.1h0M389.4 644.3h0M377.1 630.1h0M358.3 525.3h0M370.7 609.2h0M405.8 652.8h0M367.8 644.4h0M397.9 648.2h0M392.6 643.4h0M369.4 644.4h0M438.1 649.4h0M372.0 636.6h0M419.5 628.9h0M379.7 645.6h0M396.5 646.7h0M400.4 627.9h0M403.4 645.1h0M388.3 603.4h0M367.6 592.2h0M407.3 644.1h0M377.4 601.1h0M416.9 631.9h0M434.5 653.1h0M394.4 647.4h0M377.7 644.2h0M403.2 638.7h0M389.6 652.0h0M403.7 637.5h0M435.3 631.4h0M392.7 651.5h0M447.6 649.6h0M396.4 635.1h0M402.6 621.0h0M371.4 649.7h0M395.9 651.8h0M380.0 619.3h0M398.4 645.9h0M380.8 644.5h0M391.7 651.3h0M408.4 651.9h0M418.5 647.6h0M345.9 652.6h0M398.3 650.5h0M429.3 619.2h0M435.3 632.2h0M419.9 649.2h0M419.0 648.3h0M391.4 652.1h0M393.6 640.4h0M391.1 651.4h0M410.9 631.7h0M390.6 634.3h0M412.6 650.9h0M391.7 653.2h0M371.2 640.1h0M374.4 640.6h0M399.8 653.5h0M382.4 614.3h0M392.7 643.7h0M377.9 652.7h0M359.8 512.4h0M388.6 650.5h0M394.7 653.3h0M421.1 606.2h0M376.9 641.5h0M373.9 632.8h0M375.1 646.2h0M419.3 638.7h0M385.7 652.5h0M359.6 624.5h0M402.9 644.4h0M418.2 643.5h0M377.4 645.9h0M390.4 645.1h0M443.7 637.8h0M398.0 647.0h0M378.4 651.0h0M353.6 648.4h0M361.1 653.2h0M373.0 653.5h0M420.7 623.1h0M372.4 588.0h0M406.0 654.0h0M392.8 651.0h0M356.4 647.1h0M416.2 639.8h0M362.2 649.6h0M376.7 625.9h0M390.3 651.0h0M373.5 653.4h0M374.9 631.9h0M352.8 643.0h0M390.0 633.6h0M368.7 631.6h0M424.5 570.8h0M358.6 645.2h0M388.0 643.7h0M371.9 632.7h0M440.9 614.3h0M372.5 649.1h0M407.4 643.6h0M376.5 623.3h0M403.1 629.0h0M388.7 622.0h0M382.6 651.4h0M392.2 652.3h0M418.3 635.1h0M357.4 643.2h0M409.9 647.8h0M400.9 649.2h0M390.8 645.7h0M402.3 650.9h0M368.8 641.4h0M381.7 638.7h0M381.8 652.0h0M407.6 642.1h0M407.5 647.7h0M384.8 622.4h0M357.1 604.2h0M402.9 645.5h0M394.1 637.4h0M376.2 642.0h0M372.4 653.2h0M396.4 644.0h0M405.7 638.1h0M406.8 634.0h0M370.3 623.8h0M447.9 649.1h0M366.1 636.0h0M411.3 629.2h0M424.1 652.2h0M400.1 639.5h0M418.2 650.6h0M392.7 647.9h0M388.8 646.2h0M389.1 653.1h0M391.4 644.3h0M384.2 654.6h0M377.8 649.5h0M374.1 610.2h0M411.5 646.6h0M372.0 639.4h0M379.7 614.8h0M415.3 646.0h0M404.9 650.2h0M359.3 632.9h0M426.2 647.4h0M381.2 653.1h0M436.9 651.7h0M372.0 646.6h0M417.4 644.4h0M391.8 644.8h0M409.8 645.3h0M395.5 645.6h0M369.1 619.8h0M377.8 652.1h0M383.1 644.6h0M409.2 652.5h0M365.8 643.1h0M400.1 651.4h0M368.6 643.2h0M389.2 652.8h0M373.9 614.8h0M370.2 628.2h0M360.3 614.8h0M425.5 649.4h0M378.0 636.9h0M366.4 638.2h0M417.5 642.2h0M398.9 646.3h0M413.0 650.3h0M425.3 645.2h0M385.4 652.8h0M383.0 642.5h0M418.0 652.8h0M389.5 649.7h0M367.3 644.9h0M376.4 632.4h0M336.1 635.0h0M352.6 653.4h0M403.0 647.7h0M394.8 650.9h0M370.3 649.9h0M391.0 650.4h0M383.4 650.5h0M397.0 651.5h0M348.9 654.1h0M391.7 644.0h0M412.1 650.0h0M368.5 652.5h0M407.9 649.4h0M412.6 645.7h0M386.4 653.2h0M378.1 634.0h0M379.5 636.1h0M358.0 629.1h0M450.0 626.5h0M398.8 651.8h0M381.2 649.6h0M396.0 653.5h0M374.2 634.0h0M395.2 634.9h0M409.9 651.5h0M364.2 639.5h0M392.8 644.2h0M375.2 629.0h0M402.4 625.9h0M384.8 635.8h0M390.9 650.8h0M390.5 652.9h0M388.4 643.1h0M406.5 651.2h0M364.6 649.9h0M349.1 649.5h0M446.4 643.5h0M376.4 649.7h0M428.8 651.6h0M389.8 645.7h0M376.9 649.9h0M357.3 650.4h0M419.1 617.3h0M386.3 635.6h0M401.7 643.9h0M389.3 623.8h0M403.9 646.9h0M387.3 631.0h0M379.8 649.9h0M386.4 648.7h0M418.3 641.0h0M390.3 648.9h0M421.5 639.8h0M435.3 631.5h0M387.7 649.0h0M386.2 643.1h0M408.5 639.2h0M424.7 652.6h0M392.7 652.3h0M370.8 649.3h0M378.6 650.9h0M360.6 626.0h0M385.5 630.3h0M369.2 653.8h0M379.8 632.2h0M380.5 640.5h0M369.8 618.2h0M401.1 628.2h0M386.4 621.9h0M393.6 648.6h0M378.8 644.4h0M373.3 651.7h0M394.8 635.5h0M386.1 633.0h0M425.0 651.9h0M397.4 650.9h0M378.8 643.1h0M342.9 637.3h0M409.5 638.4h0M405.6 600.5h0M384.5 627.2h0M422.1 639.1h0M355.1 646.3h0M386.0 652.8h0M390.9 634.7h0M386.7 646.5h0M422.6 649.3h0M372.5 644.6h0M415.4 637.5h0M393.6 648.7h0M417.7 632.1h0M356.1 641.3h0M342.2 614.5h0M404.8 649.4h0M365.3 647.4h0M355.8 638.0h0M381.5 653.1h0M391.7 624.8h0M365.8 647.8h0M429.8 643.1h0M380.6 643.0h0M408.3 651.1h0M390.1 652.8h0M359.3 652.6h0M409.6 641.6h0M407.3 623.8h0M393.1 642.5h0M400.5 639.5h0M370.0 647.2h0M389.0 644.6h0M376.6 646.1h0M398.1 643.1h0M404.3 633.4h0M403.7 630.3h0M409.5 618.2h0M405.1 649.4h0M440.4 626.3h0M418.0 635.2h0M393.1 651.5h0M401.2 647.8h0M383.8 653.6h0M424.2 651.6h0M369.3 639.5h0M403.9 650.2h0M391.9 642.3h0M395.4 638.6h0M408.2 647.9h0M358.5 579.6h0M384.1 651.0h0M407.7 637.7h0M379.3 565.2h0M343.3 621.9h0M391.3 641.6h0M398.7 646.9h0M398.7 652.0h0M383.8 598.7h0M338.6 623.4h0M345.8 650.5h0M410.3 648.1h0M380.1 652.5h0M389.6 646.5h0M378.8 652.7h0M395.3 640.2h0M415.8 638.8h0M423.7 624.3h0M333.5 607.6h0M389.9 651.2h0M401.1 630.4h0M360.0 651.8h0M406.4 649.0h0M422.4 642.7h0M380.7 652.1h0M404.5 653.0h0M365.1 652.0h0M427.4 605.7h0M387.5 648.0h0M406.6 622.9h0M375.3 576.7h0M387.8 626.2h0M343.1 645.4h0M377.6 591.0h0M387.6 651.9h0M432.6 649.7h0M392.0 651.9h0M406.2 643.0h0M386.1 648.1h0M380.2 649.9h0M362.9 624.1h0M410.6 652.3h0M367.9 640.3h0M439.1 646.7h0M385.6 647.1h0M397.3 646.5h0M414.6 629.9h0M403.6 611.4h0M387.3 649.0h0M359.7 653.9h0M399.5 651.3h0M414.1 653.6h0M389.2 648.0h0M369.7 626.5h0M383.8 639.7h0M381.1 643.5h0M382.8 644.3h0M390.0 649.7h0M401.2 646.6h0M372.0 651.2h0M401.3 620.3h0M364.9 648.2h0M401.5 628.5h0M406.9 651.7h0M392.9 631.8h0M397.1 646.9h0M367.5 643.3h0M390.8 644.7h0M423.3 624.6h0M375.6 642.5h0M385.6 644.0h0M426.0 631.4h0M393.0 649.6h0M388.7 640.9h0M381.7 626.9h0M392.5 651.7h0M434.6 654.3h0M386.5 646.0h0M412.6 626.6h0M422.4 612.0h0M398.7 643.8h0M413.2 645.2h0M365.9 648.4h0M405.9 637.2h0M369.1 624.3h0M398.5 652.5h0M401.8 629.3h0M403.2 647.5h0M375.5 626.4h0M396.8 645.0h0M383.8 651.2h0M353.1 647.7h0M415.1 634.5h0M377.9 613.3h0M387.4 651.1h0M412.4 618.5h0M384.0 651.8h0M390.8 654.0h0M393.2 613.4h0M397.8 649.9h0M406.8 648.7h0M418.4 647.8h0M434.5 647.8h0M396.1 650.8h0M365.5 641.2h0M399.4 650.9h0M403.8 648.2h0M380.6 645.6h0M400.3 635.2h0M417.8 640.7h0M377.0 649.7h0M399.8 651.7h0M388.6 648.0h0M390.1 643.1h0M413.7 608.7h0M410.5 629.2h0M369.9 628.6h0M419.0 652.2h0M444.6 649.1h0M342.7 602.9h0M393.4 650.2h0M380.2 627.8h0M397.5 647.9h0M416.0 650.8h0M374.5 649.1h0M376.6 635.9h0M387.3 651.2h0M382.6 653.4h0M395.6 644.0h0M404.8 646.9h0M400.4 650.8h0M392.6 643.4h0M366.9 637.7h0M395.1 644.5h0M382.2 590.1h0M392.1 650.1h0M374.5 637.6h0M387.8 650.2h0M377.1 631.0h0M393.9 628.2h0M391.8 651.7h0M410.1 641.5h0M378.5 647.5h0M372.0 633.3h0M383.5 639.3h0M397.5 647.1h0M399.8 647.0h0M367.6 648.2h0M367.7 634.7h0M405.6 649.2h0M405.0 642.4h0M412.3 650.8h0M392.6 651.0h0M378.0 619.1h0M350.5 650.7h0M402.2 634.3h0M375.9 653.5h0M356.5 640.9h0M414.9 631.6h0M376.9 619.7h0M388.2 637.2h0M388.1 610.9h0M381.4 653.6h0M385.6 643.0h0M397.9 649.8h0M387.3 651.5h0M387.3 644.1h0M397.1 608.7h0M350.7 638.8h0M401.1 651.6h0M393.6 645.0h0M371.4 635.4h0M431.6 636.2h0M408.2 628.0h0M389.4 630.2h0M375.4 643.1h0M406.7 621.2h0M386.2 647.3h0M401.8 645.7h0M394.9 633.8h0M376.3 632.4h0M400.0 647.1h0M366.3 649.4h0M391.2 631.0h0M351.5 635.6h0M396.1 651.5h0M409.8 640.5h0M401.1 650.9h0M369.3 631.7h0M421.0 640.9h0M388.1 648.4h0M356.8 630.0h0M390.2 623.6h0M377.3 628.4h0M377.4 637.8h0M420.4 649.8h0M410.8 645.0h0M372.8 642.9h0M405.4 649.8h0M386.6 649.1h0M376.3 646.7h0M409.0 648.7h0M417.7 647.9h0M377.9 628.0h0M421.0 649.5h0M404.2 651.6h0M383.8 647.9h0M406.7 651.8h0M381.6 649.7h0M394.2 651.8h0M364.7 519.0h0M396.5 652.5h0M409.2 652.0h0M353.5 608.3h0M417.7 650.4h0M369.8 639.5h0M433.7 637.6h0M405.6 651.6h0M355.6 640.7h0M412.8 643.6h0M392.0 619.1h0M374.9 627.5h0M409.1 649.3h0M394.6 643.9h0M404.0 650.9h0M387.4 644.1h0M392.7 644.8h0M397.2 646.6h0M381.9 629.1h0M379.0 647.5h0M374.1 651.5h0M401.2 645.3h0M389.4 639.8h0M388.6 636.3h0M429.0 641.2h0M386.7 609.2h0M406.5 652.8h0M419.3 642.8h0M409.5 651.5h0M374.8 649.5h0M403.4 651.4h0M377.7 631.0h0M379.0 643.8h0M373.8 652.9h0M390.4 646.0h0M362.9 630.5h0M408.8 632.4h0M381.7 651.5h0M390.3 643.3h0M388.6 649.1h0M371.8 649.9h0M390.4 648.6h0M426.0 647.2h0M401.3 648.4h0M388.4 650.9h0M382.3 652.4h0M349.9 620.8h0M370.6 640.1h0M389.5 649.0h0M406.9 649.0h0M400.9 647.8h0M411.8 631.0h0M393.4 627.7h0M402.3 613.4h0M389.6 652.6h0M396.4 642.5h0M384.7 646.7h0M386.6 651.8h0M426.9 650.1h0M370.4 652.6h0M375.0 645.3h0M422.0 637.7h0M377.3 651.8h0M369.4 645.7h0M409.7 648.5h0M424.6 596.6h0M395.3 653.6h0M414.2 645.8h0M405.6 630.4h0M371.7 644.4h0M395.7 649.9h0M406.2 646.1h0M383.9 599.4h0M395.5 610.6h0M389.0 629.2h0M376.8 643.5h0M414.0 653.6h0M403.0 647.2h0M414.1 643.2h0M390.5 651.9h0M451.5 649.9h0M385.5 649.8h0M385.9 642.8h0M365.0 628.8h0M386.8 637.7h0M349.4 648.8h0M386.0 648.0h0M378.6 641.7h0M400.3 650.9h0M352.4 635.5h0M385.6 628.5h0M409.7 645.9h0M363.1 647.8h0M377.3 624.0h0M357.8 631.9h0M360.9 649.0h0M363.5 649.7h0M383.1 641.0h0M380.1 636.3h0M427.4 643.4h0M368.7 646.5h0M390.0 647.8h0M415.3 626.3h0M432.5 638.9h0M338.2 646.1h0M405.5 650.2h0M379.9 632.1h0M394.9 651.4h0M380.2 654.4h0M391.9 651.7h0M390.9 651.6h0M373.2 648.7h0M448.2 651.6h0M368.0 648.9h0M413.4 634.3h0M406.0 647.5h0M394.6 650.0h0M388.3 650.2h0M362.6 650.9h0M430.9 640.6h0M376.8 645.9h0M382.9 624.6h0M391.4 649.4h0M405.7 641.6h0M378.2 650.0h0M394.8 652.7h0M373.5 629.9h0M409.4 627.4h0M383.0 649.2h0M386.5 648.5h0M417.8 646.8h0M419.3 649.8h0M399.5 611.2h0M377.0 649.5h0M379.8 652.7h0M385.9 649.4h0M436.4 648.5h0M348.8 631.4h0M411.1 645.3h0M397.7 635.8h0M380.6 644.6h0M394.8 609.8h0M420.4 643.3h0M364.9 632.6h0M390.8 626.0h0M393.0 643.2h0M405.1 649.9h0M378.6 574.2h0M374.4 631.6h0M405.6 633.9h0M419.5 652.0h0M411.1 653.5h0M392.9 641.4h0M412.6 628.1h0M373.1 647.2h0M388.7 649.7h0M375.4 649.5h0M415.0 620.5h0M407.0 608.7h0M393.7 651.3h0M378.7 643.0h0M412.6 624.7h0M373.8 631.1h0M381.1 637.8h0M410.3 616.4h0M381.3 642.5h0M400.5 648.2h0M393.7 637.8h0M358.7 649.4h0M438.3 639.9h0M380.6 653.1h0M372.6 638.9h0M405.5 640.0h0M403.8 649.2h0M423.9 651.4h0M402.1 647.1h0M357.5 632.2h0M386.3 635.8h0M417.4 643.4h0M378.6 646.8h0M390.5 617.6h0M409.1 612.4h0M407.1 650.0h0M410.5 630.7h0M389.4 639.7h0M385.4 651.8h0M390.0 634.9h0M384.6 653.7h0M375.8 628.0h0M396.4 627.1h0M376.7 648.2h0M371.7 650.1h0M402.1 643.6h0M382.1 641.8h0M365.5 648.0h0M361.7 652.4h0M364.5 651.3h0M423.6 619.8h0M417.1 649.1h0M404.4 651.4h0M380.9 642.5h0M359.7 643.0h0M404.2 653.5h0M342.6 647.2h0M389.3 643.6h0M369.0 638.1h0M394.3 649.9h0M424.8 642.3h0M406.7 600.3h0M381.9 646.8h0M356.8 646.9h0M400.6 555.7h0M403.1 642.9h0M366.4 650.4h0M354.6 652.2h0M394.0 641.8h0M373.4 646.8h0M375.6 637.3h0M404.6 649.0h0M382.6 651.7h0M382.4 580.6h0M391.5 633.0h0M403.5 616.2h0M385.2 650.6h0M412.7 631.7h0M378.5 627.6h0M391.5 645.4h0M428.8 638.7h0M398.1 647.5h0M395.8 628.6h0M401.0 650.0h0M400.8 646.0h0M398.0 646.6h0M347.8 652.7h0M384.0 653.7h0M361.5 590.3h0M405.7 648.4h0M398.4 653.7h0M396.8 630.2h0M395.6 652.0h0M411.3 648.8h0M380.3 643.0h0M385.7 589.6h0M389.0 582.6h0M400.9 651.8h0M391.8 644.5h0M420.8 622.4h0M443.3 649.6h0M383.0 569.1h0M373.7 641.1h0M424.3 651.1h0M384.8 650.0h0M402.4 640.5h0M391.0 636.6h0M375.9 647.9h0M401.2 590.5h0M391.0 644.4h0M418.3 644.2h0M418.1 642.5h0M415.1 643.1h0M373.2 650.4h0M400.5 598.0h0M429.5 647.5h0M442.4 651.4h0M374.7 631.3h0M361.0 631.7h0M399.4 637.1h0M367.4 640.7h0M410.8 645.4h0M412.6 644.7h0M398.8 647.5h0M364.3 646.3h0M401.9 650.0h0M352.2 652.6h0M418.4 646.8h0M376.3 623.4h0M388.3 652.5h0M382.9 650.6h0M388.1 650.7h0M393.2 639.7h0M380.2 646.7h0M388.6 633.4h0M377.2 634.9h0M417.1 646.6h0M372.2 647.5h0M355.9 648.9h0M367.6 646.4h0M384.3 638.8h0M394.2 640.1h0M390.8 642.0h0M368.8 636.5h0M418.2 626.9h0M364.5 640.2h0M358.8 634.7h0M387.6 648.4h0M376.7 646.9h0M391.7 650.9h0M393.0 642.2h0M402.5 645.4h0M391.7 568.8h0M412.3 641.4h0M363.6 637.1h0M403.4 654.1h0M388.5 640.7h0M392.6 644.0h0M388.7 618.7h0M399.6 647.3h0M387.2 585.2h0M374.3 648.8h0M398.4 643.5h0M398.0 619.6h0M415.0 640.1h0M392.7 645.5h0M387.1 629.4h0M366.1 651.2h0M382.5 650.9h0M376.9 624.5h0M346.0 637.8h0M365.1 647.0h0M380.2 651.0h0M361.6 644.3h0M331.5 653.6h0M383.9 627.1h0M429.6 647.3h0M375.5 647.3h0M401.4 631.1h0M372.4 639.4h0M391.2 625.9h0M383.5 646.7h0M374.5 652.1h0M397.4 635.5h0M414.8 642.1h0M382.5 650.7h0M368.2 649.9h0M398.7 644.1h0M345.1 645.9h0M386.0 651.2h0M391.5 638.5h0M370.8 652.1h0M385.3 642.2h0M386.6 612.8h0M394.9 651.0h0M407.7 649.5h0M406.0 644.0h0M417.1 651.0h0M406.7 640.1h0M373.4 635.7h0M438.2 641.0h0M376.2 646.3h0M418.5 642.3h0M422.2 649.5h0M418.7 652.7h0M388.5 647.4h0M381.9 623.6h0M379.6 641.1h0M429.9 633.3h0M383.4 649.9h0M350.9 640.7h0M410.1 626.9h0M396.9 580.4h0M407.8 653.8h0M373.9 633.9h0M383.8 633.1h0M444.5 650.1h0M437.3 645.7h0M361.8 644.0h0M410.5 649.1h0M424.4 650.5h0M388.0 631.3h0M387.6 649.0h0M391.6 636.5h0M427.5 619.5h0M430.4 645.2h0M357.9 645.3h0M383.5 651.0h0M381.4 645.6h0M393.1 631.4h0M373.2 625.8h0M392.9 635.1h0M417.6 651.8h0M424.8 649.8h0M400.2 627.4h0M411.0 652.7h0M395.4 626.1h0M389.5 645.7h0M393.5 608.7h0M380.9 650.8h0M369.3 648.9h0M387.2 641.1h0M390.3 653.0h0M359.6 636.1h0M407.0 652.2h0M411.4 654.0h0M439.9 637.6h0M357.9 638.8h0M391.4 648.4h0M384.5 646.8h0M390.0 650.7h0M380.3 638.1h0M403.0 652.1h0M381.9 611.8h0M406.8 608.3h0M364.2 651.2h0M347.3 653.3h0M384.3 651.2h0M369.6 649.7h0M388.2 633.2h0M403.7 653.0h0M422.9 647.6h0M371.4 645.2h0M383.8 652.2h0M424.3 649.1h0M379.7 638.4h0M426.7 639.2h0M373.5 639.9h0M415.0 640.7h0M405.5 648.6h0M390.7 652.9h0M377.2 651.5h0M392.2 614.5h0M345.6 652.1h0M372.9 645.8h0M416.2 650.1h0M375.8 623.9h0M399.8 638.6h0M409.3 650.0h0M396.7 649.6h0M377.2 643.6h0M401.1 651.9h0M376.1 637.3h0M395.5 636.3h0M385.6 650.3h0M408.3 637.4h0M333.2 632.5h0M376.3 636.3h0M424.7 647.3h0M372.0 642.2h0M394.0 638.0h0M363.0 642.4h0M410.6 635.7h0M405.1 624.3h0M375.0 623.6h0M396.4 651.0h0M385.9 642.1h0M399.0 619.6h0M396.1 648.8h0M437.4 647.6h0M375.0 631.1h0M383.5 650.2h0M370.0 624.6h0M370.1 643.9h0M382.6 646.6h0M375.1 643.4h0M404.6 628.1h0M384.7 651.6h0M361.3 644.9h0M340.6 620.2h0M392.7 643.7h0M363.1 649.5h0M376.7 636.1h0M383.6 637.1h0M402.8 653.3h0M387.3 622.3h0M381.5 643.6h0M389.5 651.8h0M437.4 646.1h0M405.4 648.4h0M421.2 625.5h0M416.6 630.5h0M406.7 618.2h0M400.5 643.5h0M408.9 650.6h0M339.4 633.5h0M395.3 649.8h0M386.5 650.8h0M374.7 643.0h0M394.6 633.1h0M390.2 636.8h0M406.3 649.7h0M357.1 649.7h0M386.9 648.8h0M438.0 649.6h0M402.0 650.0h0M406.5 651.9h0M411.9 643.0h0M383.8 651.7h0M426.7 649.1h0M422.0 653.9h0M367.2 600.4h0M429.1 644.7h0M412.8 637.2h0M384.7 643.6h0M368.3 652.1h0M394.7 635.0h0M395.4 651.8h0M409.7 644.0h0M407.7 647.2h0M386.6 628.0h0M420.6 651.7h0M369.1 630.0h0M399.6 644.3h0M371.8 629.0h0M396.0 642.6h0M400.1 648.8h0M400.4 643.5h0M407.0 640.6h0M365.5 649.7h0M386.6 625.1h0M378.6 625.9h0M414.5 632.1h0M438.9 644.9h0M398.8 623.5h0M400.6 629.4h0M389.4 617.2h0M399.4 653.3h0M414.6 646.5h0M373.8 647.3h0M386.3 625.5h0M399.0 645.5h0M391.8 650.6h0M378.8 648.4h0M387.4 651.5h0M383.8 629.2h0M401.5 644.8h0M399.3 646.9h0M367.5 632.0h0M438.7 638.7h0M406.4 555.5h0M367.0 638.4h0M385.0 647.1h0M357.7 645.5h0M400.4 652.7h0M387.5 648.5h0M371.4 636.7h0M426.2 640.0h0M413.5 634.4h0M390.8 637.6h0M419.6 648.1h0M389.1 652.2h0M353.5 650.2h0M410.7 640.7h0M397.5 620.7h0M355.4 618.5h0M393.9 634.1h0M420.8 650.2h0M374.1 640.2h0M390.9 649.1h0M389.5 649.8h0M394.9 647.9h0M427.4 651.1h0M404.2 644.1h0M425.0 650.8h0M382.4 604.6h0M378.5 647.8h0M384.0 650.9h0M417.5 613.7h0M389.0 649.9h0M364.0 636.3h0M381.1 638.1h0M342.1 648.1h0M405.2 640.0h0M332.6 641.6h0M394.8 645.0h0M385.0 648.2h0M395.1 638.7h0M326.4 644.9h0M411.5 646.7h0M417.5 650.7h0M431.8 630.3h0M383.7 526.4h0M422.0 611.2h0M367.3 645.8h0M401.9 628.2h0M393.7 651.9h0M417.5 646.3h0M401.2 647.4h0M389.8 652.1h0M406.0 649.3h0M355.3 640.1h0M391.4 630.4h0M409.2 651.7h0M388.5 644.8h0M394.0 651.2h0M393.7 629.9h0M417.9 616.1h0M407.9 654.0h0M386.5 648.8h0M331.9 613.0h0M411.0 644.9h0M399.6 639.1h0M387.6 619.0h0M430.0 633.4h0M380.6 642.2h0M412.4 635.3h0M377.9 630.5h0M407.2 637.7h0M383.4 645.1h0M352.5 645.1h0M382.9 647.3h0M386.3 647.4h0M393.9 643.9h0M379.4 646.0h0M390.2 639.0h0M401.3 647.7h0M375.0 652.8h0M366.2 640.2h0M373.0 610.5h0M388.8 647.9h0M388.9 648.9h0M379.0 644.2h0M362.1 643.5h0M390.2 650.6h0M413.4 640.9h0M414.6 649.5h0M366.4 651.6h0M359.5 653.2h0M424.6 648.5h0M396.1 648.8h0M389.1 611.8h0M356.1 650.9h0M394.9 650.6h0M406.5 621.7h0M410.7 634.8h0M388.8 629.6h0M375.5 651.6h0M386.7 646.9h0M417.5 650.9h0M415.9 650.0h0M365.9 652.9h0M391.4 652.3h0M396.5 644.4h0M383.8 653.3h0M381.4 639.7h0M355.1 635.9h0M392.5 648.9h0M396.3 636.6h0M391.7 650.0h0M408.4 649.6h0M399.6 630.2h0M419.3 611.2h0M413.4 643.4h0M387.9 643.0h0M403.1 497.5h0M405.8 650.3h0M423.7 652.7h0M412.9 651.9h0M369.5 648.6h0M386.2 652.1h0M405.0 645.9h0M420.0 651.0h0M354.6 636.0h0M387.5 630.2h0M343.6 651.8h0M394.0 594.2h0M366.6 653.2h0M382.7 617.9h0M424.9 652.1h0M379.5 653.1h0M374.7 650.8h0M401.0 626.3h0M441.6 647.7h0M409.1 642.7h0M394.8 595.3h0M406.7 612.5h0M398.4 632.7h0M402.7 645.8h0M377.7 648.0h0M392.4 647.9h0M385.1 649.7h0M409.9 646.9h0M389.7 646.7h0M419.3 648.8h0M421.4 650.4h0M423.8 637.3h0M382.0 639.7h0M415.7 650.8h0M387.5 641.6h0M387.8 647.3h0M392.6 641.5h0M408.2 615.8h0M385.5 504.8h0M385.4 603.3h0M389.5 652.3h0M383.1 647.7h0M414.3 653.4h0M379.1 646.1h0M405.8 640.5h0M409.9 646.3h0M387.3 624.4h0M427.8 640.7h0M395.4 650.4h0M435.7 640.4h0M405.0 652.7h0M404.7 560.8h0M388.8 646.6h0M423.9 646.5h0M409.6 594.8h0M368.0 650.3h0M406.2 643.8h0M393.0 646.4h0M394.8 641.0h0M382.3 647.2h0M397.0 651.3h0M401.3 653.7h0M405.4 646.0h0M367.9 620.2h0M368.0 587.5h0M377.2 624.3h0M390.9 610.5h0M387.6 629.0h0M385.6 653.2h0M400.2 639.4h0M400.5 608.0h0M377.0 652.3h0M397.5 649.7h0M390.1 644.9h0M375.3 627.4h0M389.7 602.6h0M397.4 628.3h0M386.2 649.5h0M381.3 650.5h0M401.4 643.5h0M370.0 652.6h0M374.5 653.1h0M374.0 652.5h0M406.7 651.5h0M380.1 646.0h0M392.9 640.1h0M407.9 636.8h0M385.1 623.1h0M399.9 649.8h0M423.0 651.6h0M401.9 623.0h0M394.6 641.1h0M394.7 636.4h0M396.8 644.9h0M406.7 653.2h0M397.4 647.4h0M432.5 641.8h0M378.7 636.6h0M384.4 651.6h0M386.5 639.0h0M416.6 628.5h0M396.9 646.3h0M396.3 624.3h0M389.6 625.7h0M375.9 645.0h0M408.1 635.7h0M396.3 648.7h0M355.5 648.3h0M374.9 648.0h0M424.6 650.0h0M409.6 645.1h0M369.6 643.9h0M407.6 651.6h0M368.5 647.9h0M407.1 649.2h0M400.9 639.6h0M392.5 639.8h0M418.2 646.6h0M398.9 651.2h0M377.5 645.8h0M408.8 649.6h0M363.8 631.4h0M440.6 654.1h0M370.5 643.7h0M402.1 650.8h0M399.1 627.3h0M386.6 635.3h0M394.8 650.7h0M379.7 649.3h0M419.3 625.8h0M397.1 652.6h0M382.3 648.0h0M353.0 645.1h0M398.0 652.0h0M383.5 648.4h0M429.7 636.5h0M407.8 644.1h0M366.2 631.5h0M378.5 653.3h0M407.0 647.7h0M392.2 638.9h0M387.5 640.3h0M418.4 647.5h0M385.0 644.8h0M405.3 648.0h0M393.8 649.6h0M390.7 638.4h0M375.6 646.5h0M362.6 649.7h0M393.8 638.6h0M371.3 645.8h0M373.4 641.5h0M397.5 639.9h0M387.9 652.3h0M380.9 652.1h0M378.5 645.5h0M414.0 649.4h0M376.6 642.9h0M350.5 592.6h0M361.1 629.5h0M412.0 630.7h0M390.1 635.3h0M385.2 630.7h0M379.0 650.2h0M399.8 648.4h0M405.7 650.4h0M397.6 650.9h0M390.1 583.0h0M370.5 651.7h0M359.9 646.8h0M424.8 648.3h0M410.9 646.5h0M379.4 591.7h0M413.9 653.1h0M372.5 640.3h0M405.3 646.8h0M398.5 638.5h0M385.1 629.9h0M375.1 634.9h0M410.6 642.9h0M385.2 645.1h0M347.5 642.3h0M363.6 653.4h0M407.5 650.6h0M399.3 644.5h0M356.8 650.6h0M386.7 639.6h0M393.6 651.8h0M381.5 643.9h0M366.6 648.3h0M381.2 653.6h0M426.8 632.6h0M382.8 631.1h0M371.2 614.2h0M384.7 643.6h0M380.6 644.1h0M398.8 644.7h0M375.6 634.9h0M403.3 644.9h0M413.3 649.9h0M417.8 646.3h0M422.5 648.3h0M387.1 642.8h0M414.1 617.4h0M383.0 649.8h0M407.4 623.7h0M406.3 647.6h0M417.7 645.2h0M395.5 637.2h0M380.8 653.7h0M396.5 635.6h0M400.9 638.5h0M395.4 628.9h0M394.5 615.6h0M393.2 634.2h0M381.1 641.8h0M400.7 643.6h0M423.1 644.5h0M414.6 641.1h0M414.0 650.6h0M384.9 630.7h0M375.8 640.6h0M403.5 643.0h0M400.9 638.5h0M387.4 640.3h0M381.8 648.4h0M360.4 645.9h0M358.1 644.7h0M396.4 651.3h0M393.6 641.9h0M385.2 650.6h0M389.9 640.4h0M410.7 595.8h0M352.6 641.2h0M400.8 649.4h0M398.6 586.6h0M394.4 619.9h0M413.5 648.3h0M345.8 625.9h0M423.0 653.0h0M388.2 649.7h0M396.2 644.4h0M415.0 649.2h0M430.7 652.9h0M396.5 537.8h0M390.2 637.1h0M410.0 647.7h0M353.8 642.8h0M406.8 653.5h0M382.4 638.2h0M344.0 646.6h0M360.3 652.1h0M400.3 626.5h0M415.5 649.5h0M402.3 653.0h0M362.5 638.4h0M384.2 651.1h0M354.7 646.9h0M436.9 653.4h0M371.2 626.8h0M353.7 649.3h0M393.5 626.6h0M390.7 601.3h0M391.5 645.9h0M401.0 641.1h0M362.1 650.8h0M387.4 641.2h0M367.6 649.8h0M377.2 641.3h0M383.5 637.5h0M399.9 650.7h0M386.2 651.8h0M394.3 633.8h0M372.3 653.0h0M402.5 647.3h0M391.6 639.6h0M399.7 631.4h0M383.0 653.7h0M382.4 647.4h0M383.9 640.6h0M387.1 621.8h0M379.4 645.0h0M384.9 584.2h0M373.0 651.0h0M384.5 634.7h0M392.4 646.5h0M362.7 653.5h0M387.8 646.9h0M427.6 640.8h0M400.7 630.4h0M374.1 651.8h0M384.7 615.5h0M412.0 649.1h0M367.1 631.3h0M414.2 651.4h0M424.5 650.1h0M407.2 646.7h0M385.5 649.3h0M406.1 637.2h0M408.4 647.3h0M375.0 582.0h0M426.7 646.6h0M369.0 614.9h0M394.8 644.4h0M409.3 641.1h0M394.4 591.9h0M354.0 636.8h0M372.2 644.2h0M388.7 642.2h0M343.4 635.9h0M439.3 648.1h0M410.4 637.1h0M398.1 648.7h0M405.0 642.1h0M421.4 633.3h0M377.7 654.3h0M422.7 639.2h0M395.6 649.3h0M442.9 620.3h0M394.1 647.9h0M403.8 619.6h0M402.7 630.9h0M397.5 641.0h0M366.4 643.7h0M393.2 645.6h0M387.2 641.7h0M380.4 646.6h0M365.5 569.4h0M374.0 651.7h0M381.2 648.2h0M370.3 654.0h0M425.6 629.1h0M384.4 638.1h0M369.5 652.8h0M398.9 637.9h0M378.1 645.0h0M329.4 646.1h0M413.7 643.2h0M395.8 637.8h0M349.5 652.0h0M366.1 642.4h0M379.3 653.3h0M410.3 646.6h0M412.5 590.5h0M358.3 651.9h0M414.2 617.9h0M400.2 641.0h0M406.3 636.6h0M366.0 635.0h0M412.4 648.1h0M373.4 648.6h0M380.1 638.6h0M408.0 644.7h0M385.8 653.1h0M383.4 651.0h0M380.8 641.2h0M374.2 648.9h0M368.6 647.1h0M386.3 629.5h0M352.1 631.7h0M405.3 648.8h0M378.0 643.0h0M402.8 646.3h0M388.9 644.8h0M369.9 642.1h0M403.9 644.5h0M368.7 644.9h0M389.8 641.5h0M383.5 633.4h0M414.4 633.5h0M396.9 624.1h0M391.2 646.4h0M362.7 644.8h0M417.0 650.8h0M408.1 651.9h0M398.2 601.0h0M393.0 651.6h0M398.0 646.2h0M408.4 648.8h0M356.5 648.5h0M404.2 629.2h0M397.7 644.7h0M406.1 646.6h0M382.7 642.6h0M414.5 648.6h0M402.2 649.4h0M377.0 643.2h0M364.7 650.4h0M367.6 649.2h0M373.3 570.2h0M404.5 644.2h0M364.6 653.9h0M401.1 649.3h0M413.5 648.0h0M365.2 649.4h0M360.6 652.2h0M406.6 648.8h0M406.2 649.0h0M387.2 648.9h0M380.8 649.5h0M422.7 645.4h0M351.9 607.9h0M417.8 627.1h0M389.8 646.3h0M382.2 643.7h0M401.6 645.0h0M375.1 650.8h0M426.2 608.3h0M366.5 649.4h0M391.1 637.8h0M389.6 642.5h0M399.4 626.6h0M365.1 627.8h0M401.0 638.6h0M360.9 646.8h0M386.6 637.0h0M406.0 636.2h0M365.3 623.5h0M393.3 631.6h0M391.7 649.7h0M445.9 636.7h0M407.6 648.4h0M387.3 627.4h0M401.1 606.1h0M416.6 651.2h0M360.2 626.3h0M404.3 647.0h0M385.9 648.9h0M428.8 646.3h0M363.4 632.2h0M390.1 641.1h0M384.0 645.3h0M353.1 638.6h0M377.7 647.9h0M398.4 623.1h0M347.5 646.1h0M403.1 629.9h0M373.1 641.6h0M400.1 631.7h0M379.0 646.5h0M381.3 626.9h0M414.2 648.2h0M389.0 642.7h0M373.2 645.9h0M409.6 634.8h0M377.8 649.4h0M389.4 652.3h0M398.2 643.7h0M364.3 646.8h0M378.1 647.1h0M373.7 620.8h0M371.9 635.0h0M396.1 618.2h0M390.6 644.9h0M393.2 653.1h0M441.4 646.6h0M385.3 651.3h0M388.9 612.5h0M376.2 640.0h0M413.1 631.5h0M383.4 652.9h0M400.2 638.2h0M385.0 648.1h0M427.9 652.5h0M381.2 649.1h0M359.5 649.5h0M375.3 624.4h0M355.7 652.0h0M397.1 652.4h0M350.4 649.2h0M366.9 650.7h0M388.5 639.8h0M378.4 647.1h0M406.5 646.1h0M406.9 649.0h0M401.8 623.6h0M363.2 511.3h0M385.1 647.5h0M388.4 639.7h0M366.8 644.5h0M379.7 619.1h0M356.1 637.0h0M385.2 649.8h0M394.6 646.8h0M392.6 642.5h0M416.6 647.9h0M426.2 654.1h0M429.4 625.3h0M424.0 642.9h0M397.6 650.8h0M419.3 651.3h0M375.3 644.8h0M396.6 641.3h0M367.7 647.5h0M401.8 626.1h0M407.5 640.4h0M386.4 648.7h0M381.2 645.7h0M402.6 648.5h0M434.2 650.8h0M408.6 646.5h0M388.8 647.7h0M423.4 647.2h0M403.1 643.7h0M407.2 637.9h0M425.8 649.7h0M374.8 609.8h0M418.0 644.1h0M385.8 642.3h0M418.6 649.8h0M421.7 645.3h0M384.3 647.8h0M348.5 641.5h0M364.6 648.8h0M373.3 642.5h0M406.6 644.5h0M395.6 640.4h0M424.8 638.1h0M424.1 645.4h0M399.0 649.3h0M404.0 650.2h0M401.4 649.2h0M384.5 625.3h0M394.8 634.6h0M386.8 653.0h0M422.1 646.3h0M378.4 631.6h0M368.3 649.7h0M415.4 649.5h0M415.0 647.2h0M387.4 644.2h0M381.5 628.9h0M414.3 644.2h0M404.3 638.6h0M426.4 652.5h0M412.8 632.3h0M385.3 644.7h0M384.6 624.9h0M368.2 637.7h0M418.2 638.2h0M381.9 648.2h0M348.1 650.9h0M414.3 650.6h0M358.0 646.8h0M361.1 639.8h0M373.8 631.5h0M389.3 652.1h0M375.9 649.2h0M374.4 624.9h0M371.1 641.0h0M379.7 637.9h0M362.3 652.4h0M402.3 619.3h0M363.2 647.3h0M381.3 650.5h0M411.7 644.4h0M363.2 646.6h0M419.3 649.5h0M381.1 650.1h0M395.1 648.7h0M410.1 650.1h0M361.7 639.8h0M326.3 650.6h0M397.6 642.3h0M379.9 648.1h0M375.2 646.3h0M382.4 638.4h0M392.0 638.4h0M425.5 647.0h0M385.8 640.8h0M435.1 647.5h0M426.6 626.2h0M335.3 650.7h0M371.5 640.6h0M419.2 644.3h0M395.1 586.9h0M399.1 587.8h0M373.3 611.8h0M381.3 653.8h0M374.7 648.3h0M390.9 635.2h0M406.0 638.9h0M376.4 606.3h0M416.5 644.5h0M380.0 645.2h0M387.2 649.5h0M391.6 649.3h0M405.0 649.2h0M401.9 641.5h0M395.2 638.9h0M370.6 557.4h0M377.5 635.6h0M392.3 648.0h0M427.7 628.2h0M386.2 638.3h0M405.9 614.2h0M412.8 646.2h0M386.6 651.3h0M397.3 633.2h0M383.8 636.7h0M394.6 648.2h0M366.7 627.9h0M444.2 638.5h0M369.6 650.9h0M397.1 637.0h0M423.2 653.8h0M430.1 643.2h0M394.7 640.7h0M384.5 647.1h0M413.7 652.8h0M389.5 638.3h0M357.8 646.1h0M423.5 640.9h0M406.5 636.0h0M396.5 641.0h0M375.1 646.5h0M430.1 651.5h0M388.4 651.7h0M380.9 649.8h0M366.6 642.4h0M372.4 638.8h0M429.3 653.9h0M388.5 653.4h0M389.4 640.8h0M396.3 625.5h0M395.2 652.8h0M423.1 650.6h0M390.0 641.5h0M373.7 644.0h0M422.8 652.7h0M357.5 648.1h0M388.5 651.7h0M344.3 632.2h0M400.0 651.8h0M403.8 645.4h0M395.3 651.9h0M387.4 639.5h0M355.7 651.0h0M412.0 595.7h0M405.7 645.4h0M369.6 647.9h0M386.8 640.0h0M386.7 564.1h0M419.4 653.5h0M367.8 644.9h0M412.3 640.5h0M335.0 652.6h0M419.9 637.9h0M445.0 634.4h0M401.6 615.6h0M382.8 648.7h0M371.0 642.3h0M401.1 631.7h0M422.0 637.3h0M417.5 646.9h0M372.1 635.6h0M413.0 621.7h0M388.6 648.3h0M384.5 641.0h0M391.0 646.4h0M397.3 647.2h0M399.0 649.0h0M360.0 647.3h0M431.2 650.1h0M411.0 621.5h0M380.8 642.2h0M344.8 638.1h0M423.9 643.0h0M350.8 648.9h0M376.7 643.8h0M398.0 648.0h0M385.6 650.1h0M403.9 642.9h0M399.2 648.5h0M402.3 647.2h0M398.2 646.2h0M378.3 651.2h0M353.4 652.0h0M401.6 469.7h0M358.0 650.1h0M387.8 651.4h0M400.8 589.8h0M334.1 651.4h0M417.7 651.4h0M389.9 649.2h0M407.9 652.2h0M398.5 642.7h0M403.8 640.2h0M395.3 652.9h0M385.4 650.7h0M403.1 646.8h0M395.2 627.9h0M389.9 609.3h0M409.4 652.3h0M380.0 624.9h0M381.8 625.5h0M380.4 645.9h0M413.4 652.5h0M393.7 648.3h0M395.6 608.2h0M402.3 652.0h0M412.0 648.3h0M395.5 626.5h0M385.7 631.2h0M395.8 650.5h0M385.7 652.0h0M416.6 643.3h0M412.2 651.3h0M409.7 651.5h0M397.9 645.0h0M379.9 641.7h0M392.8 650.4h0M376.7 651.9h0M420.5 643.5h0M384.6 636.3h0M374.3 651.5h0M399.5 613.1h0M398.3 643.4h0M428.2 652.5h0M390.6 652.0h0M367.0 646.9h0M442.7 650.7h0M379.3 642.2h0M371.0 647.0h0M409.1 653.6h0M385.9 647.3h0M381.5 646.0h0M354.9 648.2h0M381.3 651.0h0M418.3 594.1h0M408.7 650.4h0M421.5 639.2h0M375.2 637.7h0M380.1 638.2h0M411.2 626.5h0M370.3 646.0h0M392.2 651.7h0M400.7 636.2h0M363.5 648.9h0M369.2 651.8h0M370.0 620.4h0M378.4 648.0h0M412.6 629.7h0M421.2 653.5h0M407.8 652.9h0M379.0 648.1h0M380.3 595.9h0M388.7 626.0h0M388.4 645.5h0M402.7 640.0h0M402.5 652.9h0M402.6 641.6h0M404.5 645.4h0M400.6 651.9h0M415.6 651.6h0M421.1 629.9h0M390.8 647.3h0M408.2 647.4h0M367.5 642.1h0M366.9 648.3h0M429.3 634.1h0M382.8 645.6h0M378.7 645.1h0M362.1 636.4h0M392.4 649.2h0M379.4 546.8h0M383.0 648.5h0M380.1 648.6h0M419.2 636.5h0M400.8 641.0h0M368.6 653.9h0M423.4 635.8h0M396.6 642.1h0M396.3 644.8h0M386.7 653.7h0M403.9 644.5h0M412.3 641.7h0M386.2 637.7h0M396.0 648.3h0M384.4 648.1h0M385.9 648.3h0M412.4 514.3h0M389.8 627.3h0M351.3 654.5h0M382.3 646.3h0M376.8 652.1h0M374.5 648.7h0M395.3 647.6h0M367.3 647.8h0M423.4 650.5h0M393.5 630.0h0M375.5 649.0h0M452.0 624.2h0M381.2 643.4h0M394.2 643.5h0M401.7 647.3h0M346.2 650.8h0M395.2 652.1h0M385.4 615.9h0M397.0 649.5h0M395.0 629.1h0M356.7 651.8h0M378.4 648.2h0M390.3 649.1h0M394.3 644.1h0M368.0 649.3h0M366.5 642.0h0M397.5 636.9h0M374.0 648.8h0M346.2 644.9h0M358.7 641.3h0M414.4 640.0h0M405.1 642.7h0M399.8 631.5h0M418.2 592.7h0M386.6 633.7h0M410.0 640.2h0M397.7 651.8h0M414.6 650.5h0M378.6 650.4h0M403.7 650.8h0M401.6 638.3h0M394.2 647.6h0M404.4 622.2h0M382.6 651.1h0M379.7 650.5h0M387.2 646.3h0M344.6 617.5h0M375.3 648.2h0M351.7 653.3h0M371.2 642.6h0M409.7 653.0h0M396.7 615.6h0M386.3 632.0h0M398.5 650.6h0M412.6 649.2h0M399.4 648.0h0M387.6 643.5h0M419.4 652.8h0M369.1 644.0h0M412.2 646.5h0M388.2 638.9h0M424.6 650.6h0M359.2 647.2h0M407.9 651.9h0M415.4 631.6h0M408.4 650.3h0M365.4 636.9h0M397.5 636.4h0M364.3 654.3h0M415.2 630.3h0M386.4 645.0h0M401.4 635.3h0M388.2 648.7h0M372.0 629.7h0M394.1 654.5h0M399.2 649.0h0M365.8 648.7h0M365.7 648.3h0M380.8 639.1h0M371.2 653.1h0M379.6 652.1h0M407.4 646.7h0M357.6 650.4h0M391.5 645.3h0M354.1 646.1h0M398.2 630.6h0M414.7 646.0h0M365.2 647.8h0M405.5 650.6h0M418.1 650.8h0M368.9 633.8h0M390.0 641.6h0M385.8 644.7h0M380.1 599.7h0M405.6 646.0h0M401.9 633.7h0M381.2 643.2h0M396.3 649.0h0M376.1 646.6h0M385.9 648.0h0M352.0 644.3h0M405.6 644.3h0M427.5 633.2h0M384.8 649.5h0M402.4 647.8h0M358.7 643.8h0M386.0 646.8h0M404.7 643.1h0M433.8 649.8h0M390.1 641.8h0M383.0 648.7h0M428.2 652.3h0M399.3 652.9h0M399.1 653.2h0M368.0 627.1h0M423.9 643.7h0M336.1 630.0h0M397.1 651.3h0M384.8 651.9h0M390.2 645.7h0M394.6 634.6h0M378.8 653.6h0M368.0 651.8h0M384.5 648.2h0M391.2 620.7h0M392.7 651.2h0M385.8 650.4h0M387.1 638.1h0M368.8 636.1h0M428.9 615.7h0M425.6 644.1h0M364.3 594.3h0M391.0 642.7h0M384.8 650.7h0M404.8 652.1h0M363.8 638.5h0M384.4 650.3h0M402.3 619.1h0M386.3 646.1h0M403.7 631.7h0M413.4 636.6h0M378.4 638.8h0M392.3 652.8h0M417.6 638.2h0M420.3 645.5h0M407.1 645.6h0M395.5 632.3h0M393.3 637.7h0M391.4 624.9h0M405.6 652.7h0M426.3 640.1h0M381.6 649.3h0M433.1 644.1h0M402.6 637.9h0M379.8 607.0h0M435.4 650.0h0M415.5 652.7h0M385.2 644.4h0M393.2 638.3h0M400.4 641.0h0M389.3 641.8h0M380.7 596.9h0M393.4 624.6h0M394.3 646.2h0M388.4 651.8h0M434.9 640.5h0M394.8 648.4h0M418.5 647.5h0M382.7 648.8h0M423.9 641.7h0M389.1 649.3h0M418.5 642.0h0M385.4 632.7h0M410.2 650.9h0M415.8 628.4h0M387.2 651.9h0M414.6 647.6h0M388.0 647.2h0M386.6 633.8h0M369.7 638.8h0M415.9 629.3h0M407.0 642.3h0M388.2 646.0h0M374.2 610.4h0M389.8 650.9h0M409.3 616.5h0M397.9 647.4h0M369.4 637.2h0M387.3 649.4h0M404.5 651.8h0M407.3 653.8h0M379.6 652.2h0M387.3 634.6h0M365.7 621.3h0M378.4 648.4h0M412.5 649.7h0M422.0 646.6h0M390.3 650.7h0M415.7 645.5h0M382.4 650.7h0M379.4 645.8h0M377.7 634.6h0M391.6 649.2h0M401.7 619.4h0M350.0 641.2h0M414.3 643.6h0M409.1 652.4h0M377.1 630.4h0M390.5 644.4h0M405.1 641.1h0M401.5 648.5h0M386.3 623.0h0M382.4 652.2h0M385.3 632.8h0M428.8 643.5h0M379.8 637.8h0M398.5 626.4h0M402.9 635.4h0M402.7 640.4h0M374.0 646.3h0M424.9 622.4h0M412.0 640.7h0M390.2 641.3h0M385.8 628.7h0M386.1 649.9h0M359.8 615.3h0M377.2 650.3h0M400.7 605.9h0M406.0 647.5h0M404.0 650.1h0M387.4 644.7h0M392.8 635.0h0M403.4 602.0h0M409.4 647.2h0M397.8 650.2h0M380.2 647.5h0M413.1 649.5h0M361.1 650.9h0M368.4 646.4h0M386.5 651.4h0M376.7 648.0h0M400.6 637.7h0M419.3 647.0h0M405.4 644.2h0M370.7 649.2h0M436.7 646.3h0M425.9 634.2h0M426.2 646.5h0M411.5 647.3h0M370.5 651.4h0M401.6 652.6h0M400.1 650.3h0M399.9 652.0h0M409.9 646.8h0M362.1 652.2h0M394.1 652.6h0M399.4 639.6h0M379.7 620.7h0M421.8 641.7h0M402.0 639.8h0M387.6 623.1h0M382.2 653.9h0M393.3 640.2h0M409.4 651.2h0M420.8 650.1h0M405.5 635.9h0M396.5 627.7h0M383.0 594.0h0M402.7 648.0h0M445.1 645.0h0M360.5 620.0h0M423.9 648.9h0M373.1 627.9h0M394.1 650.7h0M383.3 644.3h0M412.6 615.2h0M380.5 616.2h0M362.7 636.2h0M390.2 640.2h0M384.2 649.6h0M398.6 627.8h0M348.6 644.5h0M384.9 651.1h0M366.0 639.1h0M404.1 637.3h0M353.2 652.4h0M380.7 648.1h0M428.2 647.8h0M395.5 630.8h0M426.4 641.0h0M399.8 599.7h0M384.9 652.9h0M377.9 647.4h0M419.2 641.7h0M417.1 644.0h0M393.8 648.9h0M368.3 639.3h0M400.2 638.3h0M382.3 648.0h0M400.5 637.8h0M432.8 650.3h0M412.8 633.1h0M387.7 643.6h0M391.9 616.3h0M443.9 641.6h0M387.9 631.8h0M402.9 646.4h0M408.1 633.3h0M385.1 633.7h0M348.2 651.8h0M386.8 643.4h0M363.9 618.0h0M385.4 643.5h0M392.2 635.4h0M381.4 635.6h0M376.4 652.3h0M403.3 643.4h0M410.6 653.2h0M395.2 649.3h0M389.2 647.9h0M385.5 649.4h0M413.4 652.8h0M359.6 641.4h0M433.2 649.9h0M374.9 651.4h0M372.6 624.7h0M406.6 632.7h0M399.9 642.6h0M381.3 650.7h0M405.4 565.5h0M385.6 624.2h0M378.9 644.6h0M427.0 645.6h0M405.7 648.9h0M430.6 651.6h0M404.2 646.8h0M396.9 641.1h0M419.3 633.2h0M414.1 641.1h0M371.6 622.1h0M423.8 639.6h0M408.9 646.8h0M364.2 631.0h0M378.5 600.5h0M406.8 645.1h0M380.7 643.9h0M372.8 647.8h0M424.9 647.2h0M429.8 645.8h0M401.3 650.6h0M387.0 648.2h0M365.2 599.4h0M404.8 645.7h0M371.1 644.6h0M371.9 650.7h0M389.2 587.2h0M358.1 638.5h0M382.0 654.2h0M364.7 646.1h0M394.2 649.8h0M428.5 638.8h0M380.3 652.7h0M396.4 649.4h0M413.4 651.0h0M416.9 648.3h0M396.8 647.1h0M405.4 627.2h0M382.0 650.5h0M430.9 631.6h0M431.2 631.5h0M395.6 612.3h0M379.5 648.1h0M384.9 636.5h0M375.8 646.4h0M375.9 646.8h0M415.4 628.1h0M388.4 558.8h0M378.8 639.9h0M383.3 653.6h0M369.1 624.8h0M359.6 520.3h0M390.4 642.2h0M418.0 644.7h0M380.1 649.1h0M373.9 638.6h0M383.4 639.1h0M362.7 648.1h0M434.2 641.1h0M390.7 626.2h0M398.3 615.8h0M369.4 635.1h0M371.5 636.6h0M442.1 615.9h0M375.6 640.4h0M402.0 649.7h0M397.7 651.1h0M412.2 632.4h0M389.5 636.5h0M440.7 646.3h0M355.2 641.4h0M383.6 650.0h0M410.9 630.5h0M404.7 612.1h0M380.1 648.0h0M401.2 654.1h0M337.8 641.3h0M388.4 644.4h0M373.4 642.7h0M414.0 649.3h0M404.1 646.2h0M389.5 643.8h0M423.0 639.0h0M406.5 643.5h0M349.4 631.7h0M392.3 644.0h0M382.5 652.4h0M422.7 603.6h0M424.3 653.0h0M403.7 651.5h0M388.9 648.6h0M380.1 649.9h0M382.9 634.9h0M425.1 632.0h0M392.4 646.2h0M387.7 645.1h0M380.1 646.4h0M409.7 646.8h0M376.2 646.0h0M394.3 645.6h0M387.3 636.2h0M391.7 650.9h0M404.0 649.7h0M408.1 634.2h0M402.3 641.8h0M365.4 646.6h0M395.1 637.2h0M369.9 646.2h0M361.5 643.2h0M394.1 643.8h0M425.9 635.7h0M388.6 649.0h0M383.5 634.8h0M411.0 648.6h0M390.2 648.2h0M406.4 643.1h0M377.9 650.4h0M418.8 652.1h0M355.8 654.3h0M433.6 648.8h0M409.8 638.4h0M409.5 627.3h0M383.0 645.1h0M412.4 638.5h0M377.2 649.9h0M363.2 642.3h0M381.7 652.5h0M381.2 641.6h0M396.2 646.7h0M395.8 637.0h0M368.2 650.1h0M412.2 635.6h0M364.0 649.7h0M421.9 635.3h0M389.5 630.1h0M420.3 619.6h0M364.2 651.8h0M382.2 645.4h0M385.3 642.5h0M422.6 628.3h0M412.7 645.0h0M426.1 639.9h0M397.4 645.1h0M355.1 586.8h0M392.0 632.6h0M438.6 646.5h0M368.8 630.1h0M397.4 650.7h0M412.1 644.8h0M373.2 653.9h0M372.3 640.8h0M371.4 631.1h0M437.4 641.6h0M397.1 645.6h0M410.1 644.6h0M413.7 619.4h0M409.9 650.7h0M406.1 647.0h0M398.9 631.2h0M379.0 642.9h0M422.4 650.2h0M388.6 635.8h0M387.8 630.0h0M371.9 652.3h0M400.2 646.1h0M398.9 631.3h0M414.0 647.6h0M384.6 653.2h0M372.6 642.5h0M396.9 652.3h0M408.5 645.3h0M415.0 647.6h0M412.2 651.2h0M354.7 650.1h0M406.8 640.5h0M354.0 643.5h0M406.2 610.5h0M408.4 639.2h0M360.2 641.0h0M352.3 647.2h0M384.9 650.7h0M371.8 646.1h0M404.4 649.3h0M398.7 636.1h0M392.0 600.4h0M386.1 649.7h0M353.7 629.0h0M406.4 646.4h0M398.8 646.0h0M410.3 645.0h0M397.1 645.6h0M374.4 653.6h0M403.6 651.6h0M400.6 637.3h0M431.0 649.8h0M395.5 631.7h0M378.8 649.0h0M401.6 592.7h0M414.5 631.6h0M372.8 637.0h0M415.8 651.7h0M392.7 646.5h0M405.7 652.8h0M406.9 644.9h0M387.0 653.4h0M350.1 648.8h0M405.8 640.3h0M407.8 652.7h0M396.6 622.0h0M360.8 637.1h0M377.6 638.7h0M394.5 652.6h0M371.0 624.1h0M390.2 625.0h0M399.4 632.9h0M384.4 642.8h0M384.8 632.6h0M380.7 628.3h0M424.6 651.5h0M389.0 638.8h0M428.8 627.3h0M394.2 652.8h0M409.7 649.0h0M396.4 640.6h0M363.6 629.3h0M411.2 638.3h0M404.6 641.2h0M363.8 648.6h0M409.1 647.5h0M392.9 641.0h0M394.2 642.4h0M402.4 644.9h0M369.9 647.1h0M412.0 649.4h0M402.0 641.8h0M374.4 654.2h0M392.1 649.9h0M379.6 632.1h0M376.7 641.3h0M394.8 643.0h0M433.1 653.2h0M412.2 646.1h0M386.7 649.4h0M393.2 644.5h0M373.7 612.6h0M377.3 646.1h0M366.5 643.5h0M399.7 628.9h0M412.5 648.5h0M425.2 645.8h0M424.1 609.7h0M384.2 651.1h0M403.5 619.5h0M400.5 628.7h0M404.5 633.1h0M419.5 647.2h0M363.5 645.9h0M376.3 651.5h0M389.0 636.2h0M354.8 652.3h0M408.7 650.4h0M384.4 622.0h0M415.3 641.2h0M403.4 654.1h0M403.7 640.9h0M364.0 643.2h0M401.7 645.9h0M408.6 633.2h0M393.5 646.9h0M368.3 627.7h0M380.7 641.7h0M423.7 635.2h0M366.5 645.7h0M377.9 652.6h0M376.0 638.2h0M399.3 646.6h0M396.0 651.4h0M376.7 646.3h0M408.6 647.4h0M389.0 641.5h0M422.3 651.7h0M403.2 643.2h0M390.9 642.5h0M352.0 644.7h0M387.5 651.6h0M409.6 645.9h0M385.4 635.5h0M373.6 649.6h0M409.2 633.4h0M433.5 648.3h0M362.7 652.3h0M368.0 644.0h0M387.5 649.4h0M371.8 649.5h0M384.9 626.5h0M405.1 621.7h0M409.0 635.4h0M416.3 640.1h0M423.7 627.9h0M429.4 642.8h0M376.6 564.1h0M386.6 639.1h0M384.6 649.5h0M401.2 651.2h0M389.1 620.4h0M394.9 634.4h0M405.4 640.9h0M394.5 637.8h0M372.6 638.3h0M370.4 649.8h0M380.4 651.9h0M352.2 641.0h0M402.6 637.1h0M437.4 643.3h0M407.6 649.8h0M406.7 651.3h0M432.5 650.7h0M383.9 635.6h0M347.5 622.5h0M372.9 643.0h0M412.3 643.5h0M411.3 648.5h0M404.4 653.5h0M423.1 649.4h0M374.7 644.8h0M426.9 649.6h0M391.8 647.7h0M373.2 651.8h0M404.3 636.3h0M376.9 642.7h0M401.4 641.0h0M388.9 644.5h0M397.9 651.0h0M389.3 634.9h0M380.8 623.3h0M387.3 651.2h0M386.2 651.9h0M404.7 652.5h0M392.6 646.8h0M386.0 640.4h0M398.1 648.8h0M408.9 648.2h0M410.5 622.5h0M399.9 632.4h0M364.9 638.5h0M361.8 646.4h0M406.4 654.0h0M376.3 649.9h0M373.0 644.8h0M405.2 651.3h0M379.5 653.0h0M377.8 653.4h0M361.5 639.9h0M410.1 650.1h0M399.3 649.9h0M414.0 608.6h0M342.0 650.3h0M379.1 648.4h0M424.1 615.2h0M391.9 637.4h0M359.7 647.3h0M386.3 646.2h0M398.2 652.4h0M370.9 589.6h0M356.8 644.4h0M407.0 639.5h0M393.3 652.5h0M382.6 652.4h0M432.2 641.2h0M407.0 643.0h0M384.2 626.7h0M410.2 637.5h0M404.0 635.8h0M386.4 640.3h0M393.8 646.9h0M405.4 589.6h0M350.8 619.6h0M383.3 626.2h0M371.4 646.5h0M413.1 645.6h0M399.3 651.5h0M368.8 611.7h0M395.4 645.7h0M363.9 650.9h0M371.1 645.4h0M389.8 649.1h0M378.5 643.9h0M416.0 652.1h0M363.2 628.0h0M363.0 648.0h0M394.5 605.5h0M350.5 654.2h0M390.5 629.3h0M395.0 650.1h0M396.0 653.3h0M408.9 618.3h0M388.0 634.4h0M370.6 618.4h0M379.0 650.0h0M376.6 652.9h0M405.9 596.9h0M363.0 646.6h0M401.3 648.9h0M360.3 641.5h0M412.6 644.0h0M370.3 647.3h0M352.7 645.5h0M417.0 628.4h0M390.4 640.3h0M381.6 643.7h0M380.0 643.4h0M381.6 643.1h0M406.3 645.1h0M365.7 639.4h0M387.1 648.5h0M403.6 650.2h0M411.2 638.6h0M378.0 649.6h0M389.7 650.5h0M411.5 653.6h0M395.1 647.6h0M369.8 637.5h0M382.3 640.0h0M383.3 647.2h0M402.8 631.7h0M412.5 645.1h0M422.3 647.5h0M364.4 653.1h0M362.7 650.3h0M355.8 641.6h0M392.8 645.3h0M397.0 645.9h0M387.0 647.4h0M393.0 651.3h0M418.1 616.1h0M392.8 580.8h0M372.4 632.8h0M359.2 637.9h0M377.0 630.7h0M394.5 631.8h0M404.5 639.0h0M386.6 614.3h0M399.4 639.6h0M421.3 647.0h0M427.6 628.9h0M393.8 652.2h0M416.9 647.4h0M394.1 643.8h0M411.6 637.5h0M355.1 649.4h0M399.3 643.3h0M408.3 638.5h0M425.3 649.7h0M418.7 640.9h0M398.3 636.7h0M385.4 636.1h0M387.9 636.0h0M376.7 626.8h0M361.2 649.3h0M391.2 642.6h0M376.0 647.9h0M397.4 629.7h0M418.5 648.4h0M390.8 647.4h0M361.2 648.2h0M415.2 651.9h0M450.3 631.2h0M427.4 643.2h0M345.4 640.2h0M424.5 648.9h0M418.0 635.4h0M408.2 635.6h0M404.1 637.2h0M416.5 640.4h0M405.1 640.3h0M395.1 650.3h0M355.8 650.9h0M367.1 652.3h0M406.3 647.5h0M418.1 497.7h0M408.0 648.3h0M400.0 646.6h0M398.0 592.0h0M424.7 624.0h0M398.1 606.7h0M409.1 632.9h0M368.5 649.1h0M395.7 646.7h0M381.7 653.3h0M377.1 645.8h0M398.5 651.1h0M389.6 605.4h0M395.5 653.2h0M388.5 644.9h0M418.0 643.0h0M420.2 641.5h0M416.1 621.8h0M423.5 643.0h0M367.5 643.0h0M402.0 649.6h0M409.1 646.3h0M408.4 643.1h0M373.4 629.6h0M433.1 632.2h0M398.0 652.8h0M398.9 645.2h0M376.2 653.1h0M401.4 631.2h0M406.8 579.6h0M353.8 641.2h0M391.7 619.5h0M391.7 650.7h0M391.1 640.2h0M377.4 650.0h0M397.7 633.1h0M387.6 639.5h0M382.1 647.5h0M396.2 631.3h0M424.5 646.0h0M401.4 597.5h0M409.3 647.7h0M400.7 652.1h0M349.8 649.9h0M377.8 651.9h0M413.2 648.2h0M394.1 644.2h0M388.2 651.4h0M431.6 653.3h0M391.7 636.3h0M388.3 645.8h0M398.7 642.5h0M385.6 628.8h0M402.6 616.7h0M394.3 653.3h0M358.9 648.6h0M401.6 652.6h0M381.0 624.5h0M399.2 649.6h0M390.2 643.8h0M383.9 647.4h0M379.6 642.7h0M424.4 618.4h0M367.3 576.3h0M390.1 652.1h0M362.3 643.5h0M397.1 649.3h0M376.3 646.7h0M397.7 636.7h0M403.7 653.8h0M380.4 642.3h0M400.0 634.5h0M362.4 614.5h0M368.4 646.6h0M383.1 648.4h0M376.8 634.2h0M408.3 641.2h0M366.8 649.2h0M391.3 640.6h0M381.3 647.0h0M445.3 644.3h0M386.5 653.9h0M377.3 612.2h0M409.5 651.5h0M408.3 643.3h0M376.5 634.6h0M380.2 647.3h0M392.9 642.8h0M383.7 641.9h0M392.5 643.0h0M400.3 649.3h0M365.0 645.5h0M417.3 641.5h0M397.0 649.8h0M369.5 651.6h0M374.1 647.7h0M361.5 645.9h0M360.9 637.0h0M392.0 652.9h0M381.5 642.6h0M400.1 634.9h0M385.4 646.1h0M387.8 638.6h0M378.6 646.2h0M395.4 647.6h0M370.8 621.4h0M402.5 650.5h0M431.9 649.9h0M375.0 647.7h0M403.2 617.0h0M420.0 638.5h0M393.8 636.8h0M376.8 649.6h0M403.1 642.9h0M397.2 650.9h0M397.5 652.2h0M411.0 644.8h0M379.6 648.3h0M448.2 493.5h0M378.5 621.1h0M334.4 627.6h0M392.9 642.3h0M373.3 651.8h0M397.2 648.2h0M402.6 629.2h0M390.2 638.7h0M396.0 642.6h0M382.1 642.5h0M401.2 644.2h0M383.4 652.2h0M371.2 614.6h0M412.8 641.9h0M398.4 646.1h0M406.1 631.4h0M387.5 641.7h0M411.6 652.5h0M373.7 648.9h0M369.3 648.1h0M375.6 647.9h0M402.1 651.4h0M394.5 620.7h0M396.3 651.6h0M380.4 626.6h0M387.3 649.2h0M408.2 649.6h0M370.3 637.6h0M392.9 649.3h0M401.8 628.1h0M414.1 643.9h0M401.7 639.3h0M362.9 610.9h0M379.3 648.8h0M376.1 650.7h0M414.4 644.8h0M381.0 653.0h0M395.9 645.3h0M372.0 645.7h0M356.1 637.0h0M368.2 639.3h0M394.5 653.5h0M370.2 649.3h0M408.3 637.8h0M405.1 610.4h0M386.8 648.5h0M355.1 650.9h0M403.8 650.2h0M375.1 631.5h0M343.4 620.3h0M418.2 652.9h0M401.9 645.0h0M410.6 647.5h0M390.1 619.7h0M380.7 640.3h0M405.1 645.8h0M410.0 639.0h0M409.1 652.8h0M371.9 641.9h0M415.8 619.0h0M392.8 649.8h0M370.8 653.2h0M382.6 638.1h0M391.1 652.3h0M390.6 644.4h0M377.7 618.2h0M401.2 628.2h0M394.5 650.7h0M414.0 628.0h0M380.9 651.9h0M408.8 648.9h0M369.5 645.6h0M403.5 649.8h0M393.3 630.5h0M407.4 652.4h0M406.8 606.1h0M410.8 645.6h0M399.9 652.5h0M380.9 648.6h0M433.8 644.8h0M373.2 609.6h0M417.0 652.7h0M388.6 652.7h0M413.2 653.7h0M429.4 651.0h0M371.8 588.8h0M403.2 641.1h0M409.6 650.8h0M409.9 647.1h0M402.9 642.6h0M420.0 651.8h0M365.0 636.9h0M439.5 638.6h0M389.3 636.6h0M368.6 644.0h0M359.3 643.7h0M406.9 609.2h0M382.6 631.8h0M419.2 651.0h0M387.1 653.0h0M375.2 640.0h0M352.4 647.2h0M406.9 618.7h0M343.0 640.7h0M380.4 653.7h0M372.4 637.8h0M392.2 636.1h0M386.6 636.8h0M373.3 650.7h0M389.3 652.9h0M417.0 646.9h0M373.1 650.3h0M373.4 643.7h0M385.3 633.1h0M369.7 645.5h0M362.7 648.3h0M419.4 645.9h0M410.1 645.4h0M370.9 650.4h0M370.3 641.3h0M397.1 516.5h0M425.5 633.4h0M373.2 643.8h0M374.6 572.7h0M378.2 626.3h0M365.8 635.0h0M368.3 648.3h0M395.9 643.5h0M391.3 645.4h0M375.5 645.8h0M391.1 650.6h0M403.7 643.2h0M377.6 622.7h0M381.2 653.1h0M417.5 647.8h0M421.4 640.1h0M374.9 627.5h0M401.6 631.9h0M393.3 614.3h0M410.8 647.5h0M362.7 645.3h0M393.8 650.8h0M388.7 616.4h0M383.1 627.3h0M374.0 650.8h0M411.0 646.3h0M396.8 629.6h0M424.7 651.6h0M404.0 642.6h0M395.3 604.7h0M387.7 649.0h0M402.5 653.3h0M399.7 650.4h0M398.9 649.8h0M402.5 646.9h0M378.3 638.6h0M407.2 652.6h0M366.9 647.0h0M384.9 621.9h0M423.8 639.5h0M414.1 647.4h0M365.4 641.7h0M357.6 611.5h0M397.5 626.4h0M379.7 652.6h0M388.4 639.3h0M388.2 648.6h0M394.0 646.5h0M419.9 651.9h0M348.7 645.7h0M397.7 652.4h0M391.6 640.0h0M399.0 641.7h0M377.5 652.2h0M411.3 647.6h0M365.3 614.4h0M407.0 654.2h0M443.5 643.5h0M360.5 631.2h0M398.9 624.2h0M392.6 652.7h0M389.1 648.1h0M398.1 646.4h0M403.5 651.6h0M381.5 648.6h0M400.6 652.8h0M392.4 569.3h0M356.7 629.5h0M394.3 630.4h0M393.4 642.2h0M399.6 639.8h0M368.5 646.0h0M428.4 618.9h0M375.6 650.7h0M388.9 628.9h0M410.5 649.0h0M345.4 645.3h0M359.5 625.5h0M421.7 636.6h0M404.1 638.2h0M428.8 628.2h0M420.9 651.4h0M382.1 644.9h0M348.2 647.2h0M391.9 645.5h0M442.4 646.6h0M388.4 645.9h0M385.5 652.2h0M414.5 644.7h0M399.5 644.6h0M376.9 652.6h0M386.6 638.7h0M389.9 635.5h0M376.6 647.2h0M395.2 645.8h0M395.8 618.5h0M384.0 643.6h0M379.4 638.6h0M396.7 649.8h0M372.3 651.6h0M386.7 643.4h0M382.5 645.9h0M394.9 572.0h0M415.6 574.1h0M395.0 642.8h0M430.9 640.8h0M405.2 648.6h0M381.5 634.7h0M380.4 649.4h0M362.7 641.9h0M390.4 638.5h0M375.0 651.7h0M414.1 644.7h0M407.9 651.4h0M366.5 654.0h0M398.2 630.5h0M418.6 605.6h0M356.1 651.2h0M381.8 650.1h0M388.0 650.1h0M363.1 645.3h0M394.7 650.0h0M392.8 651.9h0M385.7 647.6h0M383.1 645.6h0M367.0 652.0h0M375.7 635.5h0M373.3 650.7h0M431.5 647.0h0M384.6 650.5h0M421.4 638.9h0M397.4 612.9h0M368.5 652.8h0M414.2 640.2h0M382.0 634.4h0M390.3 596.8h0M367.0 641.1h0M411.6 632.7h0M385.0 648.0h0M383.5 636.3h0M384.2 646.1h0M412.5 645.9h0M397.0 646.0h0M392.3 653.6h0M373.5 641.0h0M379.4 649.2h0M393.2 576.3h0M377.0 650.7h0M356.4 639.8h0M391.0 650.3h0M384.0 630.7h0M412.4 641.0h0M415.1 630.0h0M383.0 634.4h0M395.2 634.9h0M397.7 586.4h0M367.2 641.1h0M370.6 573.9h0M381.8 647.8h0M391.7 645.3h0M426.1 645.4h0M397.1 628.8h0M422.2 650.8h0M398.2 652.0h0M401.9 619.0h0M381.7 647.2h0M415.8 640.1h0M408.1 648.3h0M385.8 647.8h0M423.3 652.4h0M381.8 614.0h0M390.7 651.3h0M396.8 646.7h0M389.7 639.2h0M407.8 652.4h0M396.1 616.1h0M365.4 645.8h0M369.0 636.7h0M375.3 647.6h0M383.8 639.8h0M366.0 652.2h0M395.8 620.7h0M382.0 640.4h0M397.4 643.9h0M391.7 648.9h0M387.2 625.2h0M400.9 623.0h0M377.6 643.8h0M379.3 652.0h0M409.9 647.2h0M396.9 652.2h0M387.0 646.0h0M384.3 629.8h0M401.2 643.7h0M396.6 648.3h0M377.9 647.2h0M371.8 646.4h0M389.8 627.1h0M383.4 564.1h0M381.7 643.7h0M391.5 649.2h0M390.8 653.0h0M414.2 649.1h0M391.5 653.1h0M403.3 651.9h0M419.0 651.1h0M377.5 636.7h0M417.5 653.3h0M358.5 611.4h0M400.8 652.5h0M383.4 636.1h0M384.3 615.4h0M377.8 643.3h0M415.0 616.3h0M396.7 637.9h0M385.3 645.5h0M380.6 640.7h0M408.7 651.0h0M368.9 644.5h0M431.7 642.7h0M394.6 645.4h0M358.8 649.7h0M421.9 653.5h0M427.6 651.6h0M432.4 545.2h0M421.7 646.2h0M403.7 648.9h0M383.1 642.9h0M329.6 638.3h0M385.8 651.3h0M386.4 636.9h0M376.7 641.1h0M365.3 644.1h0M369.1 634.8h0M371.3 637.4h0M352.5 643.2h0M413.8 650.3h0M393.0 650.4h0M401.5 635.0h0M414.7 621.2h0M417.8 649.9h0M394.3 638.7h0M395.7 652.0h0M432.1 551.6h0M393.2 654.1h0M428.1 646.5h0M436.8 651.2h0M402.4 634.3h0M363.4 647.6h0M401.7 636.6h0M399.6 654.1h0M344.7 641.0h0M423.6 652.6h0M399.7 631.5h0M372.6 652.7h0M397.3 648.3h0M390.0 646.7h0M389.6 641.7h0M381.4 645.3h0M380.7 650.5h0M398.8 650.3h0M402.5 645.2h0M413.3 637.8h0M352.2 645.2h0M405.0 643.9h0M392.7 627.9h0M405.3 652.1h0M393.8 629.8h0M395.0 651.9h0M407.3 637.6h0M414.7 643.3h0M394.2 633.0h0M370.1 606.5h0M399.9 642.7h0M406.9 634.3h0M348.2 631.5h0M389.7 650.2h0M409.8 631.2h0M399.4 649.4h0M394.0 650.8h0M441.9 649.6h0M409.3 610.1h0M374.9 648.9h0M347.5 647.0h0M365.6 643.4h0M387.5 644.9h0M392.7 648.5h0M394.1 645.6h0M377.7 647.5h0M380.6 652.0h0M391.3 653.2h0M402.4 645.3h0M395.2 626.0h0M410.8 648.3h0M398.8 625.0h0M388.8 640.8h0M400.2 651.2h0M397.5 648.0h0M386.7 640.1h0M404.8 650.6h0M386.9 646.7h0M373.0 640.9h0M387.8 649.8h0M410.5 645.7h0M368.9 645.8h0M388.2 641.9h0M436.5 638.4h0M420.4 646.5h0M401.2 639.2h0M389.8 642.5h0M382.9 636.1h0M373.9 606.5h0M318.2 652.2h0M389.4 641.0h0M394.7 652.8h0M400.3 650.6h0M395.9 648.2h0M386.5 652.5h0M366.0 649.0h0M370.8 642.5h0M364.2 642.8h0M402.8 650.0h0M372.9 647.7h0M407.4 618.9h0M434.5 644.2h0M404.1 643.1h0M391.5 651.3h0M384.8 627.0h0M419.2 649.3h0M359.8 598.0h0M392.5 639.8h0M388.4 653.1h0M398.0 650.9h0M386.2 649.4h0M386.6 563.7h0M421.7 653.3h0M361.3 648.7h0M378.6 634.5h0M422.8 649.9h0M403.1 646.8h0M352.6 625.5h0M426.4 650.3h0M404.3 648.8h0M389.9 648.5h0M389.0 644.6h0M379.7 642.1h0M366.2 633.8h0M372.9 653.2h0M408.3 647.7h0M381.3 631.8h0M391.2 594.8h0M400.3 652.3h0M381.9 649.6h0M386.1 607.7h0M445.7 606.4h0M400.8 638.4h0M395.1 653.7h0M419.4 592.4h0M381.5 645.3h0M377.7 646.7h0M374.7 651.5h0M415.8 653.3h0M412.2 651.5h0M386.8 653.4h0M404.7 651.0h0M441.3 650.8h0M396.8 636.6h0M372.6 650.3h0M370.7 638.3h0M397.7 629.5h0M363.3 650.8h0M389.5 648.4h0M398.1 626.7h0M394.5 650.2h0M391.0 649.9h0M378.9 599.4h0M405.3 601.0h0M387.6 645.6h0M366.8 642.5h0M406.3 636.0h0M368.8 643.9h0M410.1 648.5h0M405.8 648.7h0M391.8 649.1h0M362.5 650.4h0M395.3 647.3h0M391.7 649.1h0M409.3 646.5h0M399.6 648.6h0M417.7 645.9h0M400.5 578.5h0M400.4 652.6h0M378.6 641.5h0M365.8 652.4h0M389.5 652.7h0M413.4 640.1h0M385.6 624.5h0M378.4 651.6h0M409.8 644.8h0M387.4 629.0h0M389.2 636.8h0M396.2 625.9h0M402.8 648.5h0M421.7 647.8h0M426.3 651.9h0M393.0 653.7h0M402.2 620.5h0M384.1 639.5h0M387.5 617.2h0M398.6 641.1h0M413.7 652.5h0M405.7 643.7h0M417.6 644.7h0M403.9 645.5h0M372.4 648.7h0M388.4 652.1h0M391.0 648.5h0M428.0 647.0h0M394.4 644.1h0M405.7 652.7h0M357.4 611.8h0M375.4 650.6h0M415.2 641.8h0M376.0 635.1h0M369.5 610.1h0M385.8 641.3h0M391.8 596.1h0M373.0 645.8h0M434.4 653.5h0M382.3 642.1h0M387.7 639.9h0M415.0 651.5h0M379.1 621.3h0M430.6 654.1h0M402.7 629.9h0M378.6 650.5h0M369.6 646.7h0M369.4 635.7h0M378.4 638.8h0M361.0 632.3h0M405.3 631.0h0M397.4 571.4h0M411.2 644.5h0M423.9 647.8h0M395.1 609.5h0M382.9 645.0h0M397.0 643.1h0M387.5 629.5h0M434.8 648.0h0M363.0 648.5h0M364.7 651.9h0M371.6 628.3h0M395.2 635.7h0M389.9 629.3h0M384.1 621.6h0M409.6 642.7h0M363.0 651.4h0M397.3 651.2h0M388.8 646.3h0M419.4 649.6h0M394.7 648.4h0M377.2 640.0h0M411.3 652.3h0M421.8 576.5h0M395.2 638.8h0M371.5 648.1h0M398.2 645.7h0M419.4 650.5h0M387.2 638.7h0M390.7 647.0h0M389.8 640.4h0M354.1 545.3h0M406.9 651.2h0M374.2 651.4h0M400.7 653.2h0M440.7 648.9h0M364.3 588.0h0M392.1 639.1h0M388.4 647.1h0M432.9 653.4h0M397.2 649.9h0M385.4 645.5h0M355.8 637.2h0M396.1 638.2h0M380.3 635.1h0M383.0 634.5h0M418.9 637.2h0M363.7 644.2h0M371.7 594.9h0M396.1 651.9h0M362.0 621.1h0M372.3 640.3h0M385.7 646.2h0M383.5 644.9h0M424.1 650.5h0M402.4 639.3h0M378.9 651.3h0M374.6 637.9h0M395.4 629.2h0M399.4 643.8h0M392.6 642.5h0M393.1 636.4h0M375.2 628.1h0M424.4 645.7h0M403.4 651.6h0M394.2 652.3h0M411.9 644.5h0M413.6 626.7h0M377.6 633.8h0M422.8 578.3h0M390.2 638.4h0M379.6 636.9h0M404.1 617.0h0M389.3 644.3h0M402.1 646.4h0M433.2 653.7h0M358.3 648.6h0M406.0 644.7h0M400.6 652.5h0M404.0 638.4h0M424.7 633.6h0M380.0 649.9h0M369.8 648.5h0M390.3 623.3h0M425.0 644.2h0M404.1 646.3h0M366.6 638.6h0M377.8 652.7h0M375.7 615.7h0M369.3 620.0h0M365.2 645.5h0M402.3 648.0h0M373.0 644.9h0M425.4 636.6h0M396.2 638.0h0M415.8 621.1h0M386.9 650.5h0M372.7 644.3h0M386.3 644.8h0M380.0 557.0h0M378.4 617.9h0M375.2 650.1h0M369.0 651.3h0M359.8 650.2h0M387.5 636.0h0M356.8 639.9h0M390.0 644.9h0M349.3 639.3h0M405.5 626.3h0M386.5 623.8h0M393.6 650.6h0M402.7 630.4h0M396.9 645.2h0M387.3 636.4h0M356.3 641.7h0M366.6 648.7h0M396.3 623.9h0M392.0 650.6h0M446.4 641.5h0M338.4 645.7h0M377.6 649.2h0M413.2 584.7h0M394.2 652.0h0M409.5 644.0h0M384.1 642.8h0M369.2 642.9h0M399.3 625.2h0M432.3 649.3h0M399.8 650.1h0M394.7 626.2h0M405.2 647.3h0M428.1 632.3h0M416.8 644.1h0M419.0 646.2h0M409.7 644.5h0M392.2 652.5h0M411.9 637.9h0M379.8 644.3h0M404.3 636.9h0M350.8 615.9h0M371.7 597.9h0M415.1 643.5h0M396.4 641.9h0M384.1 614.8h0M378.8 648.8h0M387.6 652.6h0M413.1 651.5h0M422.6 631.0h0M432.8 649.1h0M386.2 648.3h0M408.2 650.5h0M385.8 653.8h0M393.2 642.8h0M432.3 650.3h0M411.8 638.0h0M410.0 651.3h0M322.1 648.5h0M411.7 643.2h0M421.4 582.2h0M378.2 648.0h0M423.2 652.8h0M341.7 642.0h0M399.0 614.6h0M407.1 645.2h0M380.8 653.1h0M402.9 649.2h0M384.5 641.4h0M351.0 645.6h0M379.7 592.1h0M389.9 626.5h0M372.2 652.6h0M410.2 647.7h0M365.1 627.9h0M402.6 652.9h0M387.6 591.5h0M394.6 652.1h0M375.3 618.6h0M422.9 635.9h0M361.6 633.2h0M375.5 648.7h0M382.1 627.6h0M402.7 637.7h0M383.3 648.7h0M414.3 649.2h0M386.6 638.1h0M388.7 629.8h0M403.8 636.6h0M439.5 648.9h0M435.1 651.9h0M376.3 654.0h0M378.6 650.2h0M406.8 622.3h0M439.7 648.8h0M414.2 646.5h0M354.5 654.8h0M385.0 653.3h0M410.1 650.8h0M405.7 649.6h0M402.2 650.8h0M400.5 599.9h0M400.0 652.2h0M376.3 643.5h0M408.9 651.8h0M373.6 652.8h0M428.4 641.8h0M399.0 648.3h0M431.7 637.7h0M390.3 623.4h0M404.4 647.3h0M384.9 644.8h0M420.7 652.3h0M358.3 635.9h0M414.0 615.5h0M404.1 652.5h0M409.1 643.2h0M371.6 652.8h0M360.6 644.3h0M365.8 640.9h0M389.1 636.5h0M410.2 650.7h0M384.6 634.8h0M379.1 628.8h0M404.5 631.5h0M380.0 633.9h0M387.9 642.6h0M405.3 649.1h0M391.4 653.9h0M378.1 636.9h0M370.1 653.6h0M362.9 647.4h0M406.0 638.3h0M363.3 640.3h0M367.2 626.8h0M400.3 649.5h0M382.7 645.6h0M380.5 624.7h0M398.5 649.1h0M401.6 652.3h0M395.5 647.6h0M380.6 645.5h0M396.9 652.5h0M399.8 490.3h0M408.5 649.3h0M399.6 606.8h0M370.3 606.8h0M385.1 594.6h0M375.5 628.0h0M380.7 622.1h0M410.4 641.2h0M375.4 628.0h0M399.9 651.4h0M403.6 646.4h0M389.9 651.0h0M396.5 632.3h0M375.3 633.4h0M355.5 643.9h0M397.6 650.9h0M395.4 652.1h0M430.0 640.4h0M414.2 650.8h0M346.9 645.7h0M419.2 646.4h0M415.6 640.3h0M398.9 627.8h0M380.4 648.2h0M414.3 639.5h0M381.4 651.4h0M422.0 654.5h0M410.6 646.3h0M366.3 640.2h0M401.8 567.8h0M398.1 654.1h0M373.7 634.3h0M382.6 645.5h0M390.6 615.9h0M398.8 646.4h0M379.5 628.9h0M378.5 640.1h0M400.5 634.6h0M407.9 641.9h0M431.4 633.9h0M377.3 650.8h0M378.5 619.6h0M370.5 610.6h0M400.7 649.3h0M372.6 645.9h0M407.2 645.7h0M406.4 643.2h0M419.0 648.7h0M389.7 651.6h0M386.0 651.1h0M362.5 646.9h0M405.6 653.8h0M367.2 652.3h0M399.5 637.9h0M398.6 646.6h0M377.2 643.0h0M375.3 646.9h0M400.1 647.1h0M415.7 653.7h0M361.1 629.2h0M381.2 648.6h0M381.4 645.5h0M389.2 640.9h0M410.3 597.0h0M350.8 646.0h0M374.9 642.7h0M372.6 644.3h0M397.6 645.3h0M396.8 636.3h0M371.6 645.4h0M412.7 630.8h0M411.3 650.4h0M379.3 629.6h0M392.3 641.8h0M385.4 631.2h0M395.6 651.1h0M399.4 647.8h0M387.1 637.9h0M395.1 649.2h0M369.5 648.4h0M389.6 651.8h0M380.1 564.5h0M379.8 644.4h0M368.2 647.6h0M397.0 643.3h0M359.3 644.6h0M373.2 626.9h0M390.2 610.2h0M399.2 651.7h0M410.7 648.7h0M390.1 644.0h0M367.0 624.7h0M395.1 651.2h0M365.5 639.5h0M415.8 640.3h0M398.3 648.2h0M413.5 638.2h0M376.6 649.4h0M350.2 625.2h0M450.4 646.0h0M400.7 634.4h0M388.0 579.2h0M372.5 650.5h0M423.6 631.2h0M406.9 645.9h0M391.3 643.5h0M400.5 649.3h0M412.4 602.9h0M381.9 650.9h0M394.6 552.5h0M373.5 619.2h0M379.1 650.1h0M413.3 646.4h0M391.4 635.4h0M414.2 642.4h0M422.4 649.7h0M382.1 635.8h0M404.9 653.0h0M386.1 635.7h0M389.1 600.3h0M361.4 642.8h0M375.8 652.7h0M387.6 645.5h0M384.1 649.4h0M408.9 651.2h0M380.1 652.3h0M414.8 652.5h0M425.7 650.7h0M391.3 608.2h0M371.5 620.0h0M366.8 648.5h0M403.0 641.1h0M398.6 641.4h0M422.7 652.8h0M378.7 632.0h0M363.6 649.7h0M439.8 619.1h0M402.1 644.0h0M389.0 650.6h0M375.1 651.0h0M367.3 643.5h0M400.4 650.8h0M394.8 652.1h0M399.5 647.5h0M390.8 642.8h0M417.6 642.6h0M379.5 643.2h0M399.9 638.2h0M412.7 650.3h0M368.9 636.7h0M370.1 639.4h0M445.3 622.1h0M363.5 650.3h0M399.8 647.2h0M405.8 642.2h0M398.6 637.8h0M361.6 625.1h0M364.5 650.6h0M345.0 644.8h0M400.0 647.8h0M368.8 653.7h0M403.1 651.6h0M385.0 642.2h0M390.9 640.0h0M424.6 635.1h0M372.3 645.2h0M387.7 650.4h0M405.0 647.9h0M396.8 636.3h0M433.3 649.2h0M406.3 577.7h0M423.4 641.4h0M377.8 643.1h0M380.0 648.1h0M358.4 647.2h0M352.9 629.0h0M402.5 648.0h0M392.9 643.5h0M387.2 641.5h0M388.7 639.3h0M376.3 644.1h0M425.2 650.2h0M376.4 630.0h0M398.5 643.1h0M395.9 648.0h0M381.9 638.4h0M395.7 636.1h0M401.1 570.7h0M394.0 616.4h0M395.2 569.1h0M411.6 649.9h0M423.4 648.9h0M412.2 649.9h0M399.3 643.0h0M420.4 653.6h0M354.4 628.9h0M407.1 648.6h0M394.2 653.0h0M384.8 649.4h0M409.7 641.9h0M389.2 624.1h0M379.5 633.7h0M387.7 639.0h0M386.5 616.1h0M383.7 585.6h0M408.0 650.2h0M383.5 618.2h0M421.3 651.7h0M395.6 636.2h0M439.3 635.4h0M388.3 630.0h0M393.9 650.3h0M391.5 646.5h0M388.1 643.7h0M399.4 650.0h0M405.7 652.6h0M405.5 638.4h0M400.7 652.4h0M382.5 642.3h0M401.5 633.7h0M362.1 644.3h0M413.7 651.5h0M368.3 648.2h0M387.0 646.8h0M417.1 641.2h0M354.6 632.8h0M394.2 631.4h0M391.8 616.1h0M395.2 648.3h0M368.6 629.7h0M389.6 653.0h0M409.0 619.0h0M351.0 636.9h0M405.3 601.4h0M416.6 649.7h0M401.4 633.7h0M363.2 613.7h0M402.1 631.5h0M374.8 631.8h0M391.4 647.0h0M393.0 640.3h0M362.3 644.3h0M399.6 652.7h0M426.0 535.6h0M405.7 644.3h0M371.8 651.2h0M368.0 630.4h0M375.0 642.2h0M383.6 630.1h0M417.6 629.6h0M405.4 625.8h0M426.1 650.3h0M397.6 649.2h0M393.2 646.3h0M394.6 634.0h0M366.5 654.1h0M397.7 625.9h0M384.5 612.1h0M437.0 643.5h0M388.1 637.5h0M407.5 652.4h0M402.2 653.4h0M371.1 641.7h0M398.5 651.5h0M393.2 618.8h0M359.7 636.7h0M417.5 651.9h0M415.9 638.5h0M386.1 644.0h0M391.5 643.8h0M388.2 649.6h0M410.3 601.4h0M388.4 614.0h0M377.0 651.8h0M404.9 641.4h0M401.3 650.6h0M384.4 626.8h0M423.9 641.2h0M399.9 654.1h0M379.4 618.0h0M430.1 650.0h0M342.0 637.6h0M366.4 647.7h0M380.3 647.4h0M373.1 634.9h0M398.2 651.9h0M360.9 577.9h0M403.5 641.8h0M358.6 572.1h0M371.6 642.8h0M398.8 649.5h0M394.7 647.9h0M351.4 652.1h0M379.8 648.4h0M400.7 603.4h0M387.4 570.1h0M383.5 642.9h0M387.7 652.8h0M390.7 646.1h0M375.6 633.0h0M400.0 646.9h0M374.7 640.6h0M376.1 650.1h0M382.2 628.5h0M386.4 645.7h0M385.4 635.9h0M388.8 631.2h0M388.9 630.8h0M386.1 649.6h0M400.1 646.0h0M382.9 612.7h0M382.1 649.8h0M385.2 612.6h0M365.5 622.3h0M402.0 647.5h0M385.2 649.5h0M351.8 650.4h0M364.2 652.6h0M383.1 635.9h0M373.3 647.0h0M376.5 646.0h0M399.5 620.6h0M403.5 639.5h0M418.8 633.4h0M401.2 636.3h0M407.7 650.9h0M374.1 643.1h0M356.5 646.5h0M384.9 640.2h0M405.1 617.3h0M344.8 641.6h0M398.1 612.4h0M379.2 638.7h0M388.4 650.5h0M396.2 627.7h0M384.4 643.0h0M412.9 645.8h0M385.1 640.5h0M400.0 638.9h0M415.6 638.3h0M367.7 652.6h0M389.4 601.4h0M392.0 647.7h0M396.6 636.9h0M415.7 651.7h0M406.3 641.9h0M407.4 624.5h0M347.3 628.8h0M401.0 649.8h0M388.7 625.2h0M361.6 629.7h0M406.8 597.4h0M374.6 648.9h0M410.9 646.6h0M399.2 654.1h0M438.2 653.1h0M358.7 637.3h0M400.9 649.9h0M347.6 636.5h0M395.6 650.4h0M393.7 648.6h0M370.9 633.7h0M391.1 643.6h0M366.6 649.4h0M385.6 648.8h0M397.8 643.7h0M386.6 645.6h0M399.0 626.4h0" stroke="#bcbcbc" stroke-width="3" stroke-linecap="round" stroke-opacity="0.5" fill="none"/>
<rect x="266.5" y="455" width="188.1" height="210.4" fill="none" stroke="#444" stroke-width="0.9"/>
<line x1="266.5" y1="611.5" x2="454.6" y2="611.5" stroke="#222" stroke-width="1.2" stroke-dasharray="4.5,3"/>
<line x1="266.5" y1="653.5" x2="454.6" y2="653.5" stroke="#222" stroke-width="1.2" stroke-dasharray="4.5,3"/>
<line x1="266.5" y1="645.5" x2="454.6" y2="645.5" stroke="#111" stroke-width="1.2"/>
<circle cx="345.2" cy="552.9" r="4.2" fill="#3DAE5E"/>
<circle cx="339.8" cy="572.3" r="4.2" fill="#6B0A1A"/>
<circle cx="344" cy="569.2" r="4.2" fill="#DE8A8E"/>
<circle cx="390.4" cy="596.3" r="4.2" fill="#6B0A1A"/>
<circle cx="350.8" cy="599.8" r="4.2" fill="#3DAE5E"/>
<circle cx="332.7" cy="609.2" r="4.2" fill="#6B0A1A"/>
<circle cx="342.5" cy="608.8" r="4.2" fill="#DE8A8E"/>
<circle cx="358.1" cy="616.5" r="4.2" fill="#3DAE5E"/>
<circle cx="363.3" cy="617.5" r="4.2" fill="#3DAE5E"/>
<circle cx="349.8" cy="626.9" r="4.2" fill="#3DAE5E"/>
<circle cx="363.3" cy="633.1" r="4.2" fill="#3DAE5E"/>
<circle cx="367.5" cy="640.4" r="4.2" fill="#3DAE5E"/>
<circle cx="380" cy="650.8" r="4.2" fill="#3DAE5E"/>
<circle cx="373.8" cy="650.8" r="4.2" fill="#3DAE5E"/>
<circle cx="385.8" cy="629.4" r="4.2" fill="#3DAE5E"/>
<circle cx="372.7" cy="631.5" r="4.2" fill="#3DAE5E"/>
<circle cx="397.7" cy="651.5" r="4.2" fill="#3DAE5E"/>
<circle cx="386.3" cy="646.7" r="4.2" fill="#3DAE5E"/>
<circle cx="343.5" cy="642" r="4.2" fill="#3DAE5E"/>
<circle cx="357" cy="622" r="4.2" fill="#3DAE5E"/>
<circle cx="355" cy="636" r="4.2" fill="#3DAE5E"/>
<circle cx="365" cy="646" r="4.2" fill="#3DAE5E"/>
<circle cx="345.6" cy="630" r="4.2" fill="#DE8A8E"/>
<circle cx="347.7" cy="638.3" r="4.2" fill="#DE8A8E"/>
<circle cx="359.2" cy="640.4" r="4.2" fill="#DE8A8E"/>
<circle cx="362.3" cy="648.1" r="4.2" fill="#DE8A8E"/>
<circle cx="346" cy="634" r="4.2" fill="#DE8A8E"/>
<circle cx="360.8" cy="625.4" r="4.2" fill="#6B0A1A"/>
<circle cx="352.9" cy="642.9" r="4.2" fill="#6B0A1A"/>
<circle cx="375.8" cy="646.7" r="4.2" fill="#6B0A1A"/>
<text x="331.5" y="571.7" font-size="12.2" fill="#383838" text-anchor="end" font-style="italic">ATP5ME</text>
<text x="390.4" y="566.5" font-size="12.2" fill="#383838" text-anchor="end" font-style="italic">COX7B</text>
<text x="439" y="588.8" font-size="12.2" fill="#383838" text-anchor="end" font-style="italic">ATP5F1A</text>
<text x="344.2" y="603.3" font-size="12.2" fill="#383838" text-anchor="end" font-style="italic">COX6C</text>
<text x="328.5" y="621.7" font-size="12.2" fill="#383838" text-anchor="end" font-style="italic">ATP5F1E</text>
<line x1="262.5" y1="655" x2="266.5" y2="655" stroke="#444" stroke-width="0.9"/>
<text x="255" y="659.7" font-size="13.4" fill="#333" text-anchor="end">0</text>
<line x1="262.5" y1="597.6" x2="266.5" y2="597.6" stroke="#444" stroke-width="0.9"/>
<text x="255" y="602.3" font-size="13.4" fill="#333" text-anchor="end">2</text>
<line x1="262.5" y1="540.2" x2="266.5" y2="540.2" stroke="#444" stroke-width="0.9"/>
<text x="255" y="544.9" font-size="13.4" fill="#333" text-anchor="end">4</text>
<line x1="262.5" y1="482.8" x2="266.5" y2="482.8" stroke="#444" stroke-width="0.9"/>
<text x="255" y="487.5" font-size="13.4" fill="#333" text-anchor="end">6</text>
<line x1="291.5" y1="665.4" x2="291.5" y2="669.4" stroke="#444" stroke-width="0.9"/>
<text x="291.5" y="686.3" font-size="13.4" fill="#333" text-anchor="middle">10</text>
<line x1="347.4" y1="665.4" x2="347.4" y2="669.4" stroke="#444" stroke-width="0.9"/>
<text x="347.4" y="686.3" font-size="13.4" fill="#333" text-anchor="middle">100</text>
<line x1="403.3" y1="665.4" x2="403.3" y2="669.4" stroke="#444" stroke-width="0.9"/>
<text x="403.3" y="686.3" font-size="13.4" fill="#333" text-anchor="middle">1,000</text>
<text x="276.3" y="708.1" font-size="15.4" fill="#383838">log<tspan font-size="10.5" dy="4">2</tspan><tspan dy="-4"> human CDS length</tspan></text>
<rect x="65.6" y="725.6" width="184.2" height="217.7" fill="none" stroke="#444" stroke-width="0.9"/>
<line x1="72.9" y1="756.25" x2="78.75" y2="756.25" stroke="#3a3a3a" stroke-width="1"/>
<line x1="101.5" y1="756.25" x2="133.75" y2="756.25" stroke="#3a3a3a" stroke-width="1"/>
<rect x="78.75" y="736.65" width="22.75" height="39.2" fill="#E6E3D0" stroke="#77756a" stroke-width="1"/>
<line x1="86.5" y1="736.65" x2="86.5" y2="775.85" stroke="#222" stroke-width="1.6"/>
<line x1="72.9" y1="808.3" x2="79.2" y2="808.3" stroke="#3a3a3a" stroke-width="1"/>
<line x1="102.5" y1="808.3" x2="135" y2="808.3" stroke="#3a3a3a" stroke-width="1"/>
<rect x="79.2" y="788.7" width="23.3" height="39.2" fill="#E6E3D0" stroke="#77756a" stroke-width="1"/>
<line x1="88.1" y1="788.7" x2="88.1" y2="827.9" stroke="#222" stroke-width="1.6"/>
<line x1="72.9" y1="860" x2="80" y2="860" stroke="#3a3a3a" stroke-width="1"/>
<line x1="106.7" y1="860" x2="145" y2="860" stroke="#3a3a3a" stroke-width="1"/>
<rect x="80" y="840.4" width="26.7" height="39.2" fill="#E6E3D0" stroke="#77756a" stroke-width="1"/>
<line x1="89.6" y1="840.4" x2="89.6" y2="879.6" stroke="#222" stroke-width="1.6"/>
<line x1="72.9" y1="912.1" x2="80.4" y2="912.1" stroke="#3a3a3a" stroke-width="1"/>
<line x1="108.5" y1="912.1" x2="148.75" y2="912.1" stroke="#3a3a3a" stroke-width="1"/>
<rect x="80.4" y="892.5" width="28.1" height="39.2" fill="#E6E3D0" stroke="#77756a" stroke-width="1"/>
<line x1="90.6" y1="892.5" x2="90.6" y2="931.7" stroke="#222" stroke-width="1.6"/>
<circle cx="92.7" cy="749" r="3" fill="#6B0A1A"/>
<circle cx="84.8" cy="767.7" r="3" fill="#6B0A1A"/>
<circle cx="125.8" cy="767.7" r="3" fill="#6B0A1A"/>
<circle cx="182.3" cy="790.8" r="3" fill="#6B0A1A"/>
<circle cx="82.9" cy="808.3" r="3" fill="#DE8A8E"/>
<circle cx="157.3" cy="814.8" r="3" fill="#6B0A1A"/>
<circle cx="96.9" cy="845.8" r="3" fill="#DE8A8E"/>
<circle cx="157.7" cy="875.6" r="3" fill="#DE8A8E"/>
<circle cx="118.75" cy="909.6" r="3" fill="#DE8A8E"/>
<circle cx="214.6" cy="910" r="3" fill="#6B0A1A"/>
<line x1="74" y1="943.3" x2="74" y2="947.3" stroke="#444" stroke-width="0.9"/>
<text x="74" y="965.2" font-size="13.4" fill="#333" text-anchor="middle">0</text>
<line x1="241.25" y1="943.3" x2="241.25" y2="947.3" stroke="#444" stroke-width="0.9"/>
<text x="241.25" y="965.2" font-size="13.4" fill="#333" text-anchor="middle">3.0</text>
<text x="203.75" y="931.9" font-size="13.4" fill="#222">CDS<tspan font-size="9" dy="3">var</tspan></text>
<rect x="267.5" y="725.6" width="183.75" height="217.7" fill="none" stroke="#444" stroke-width="0.9"/>
<line x1="276.25" y1="756.25" x2="283.1" y2="756.25" stroke="#3a3a3a" stroke-width="1"/>
<line x1="305.2" y1="756.25" x2="337.3" y2="756.25" stroke="#3a3a3a" stroke-width="1"/>
<rect x="283.1" y="736.65" width="22.1" height="39.2" fill="#E6E3D0" stroke="#77756a" stroke-width="1"/>
<line x1="291" y1="736.65" x2="291" y2="775.85" stroke="#222" stroke-width="1.6"/>
<line x1="276.25" y1="808.3" x2="283.3" y2="808.3" stroke="#3a3a3a" stroke-width="1"/>
<line x1="306.7" y1="808.3" x2="341.9" y2="808.3" stroke="#3a3a3a" stroke-width="1"/>
<rect x="283.3" y="788.7" width="23.4" height="39.2" fill="#E6E3D0" stroke="#77756a" stroke-width="1"/>
<line x1="291.5" y1="788.7" x2="291.5" y2="827.9" stroke="#222" stroke-width="1.6"/>
<line x1="276.25" y1="860" x2="282.5" y2="860" stroke="#3a3a3a" stroke-width="1"/>
<line x1="306.5" y1="860" x2="340.8" y2="860" stroke="#3a3a3a" stroke-width="1"/>
<rect x="282.5" y="840.4" width="24" height="39.2" fill="#E6E3D0" stroke="#77756a" stroke-width="1"/>
<line x1="292.5" y1="840.4" x2="292.5" y2="879.6" stroke="#222" stroke-width="1.6"/>
<line x1="276.25" y1="912.1" x2="283.75" y2="912.1" stroke="#3a3a3a" stroke-width="1"/>
<line x1="314.6" y1="912.1" x2="359.2" y2="912.1" stroke="#3a3a3a" stroke-width="1"/>
<rect x="283.75" y="892.5" width="30.85" height="39.2" fill="#E6E3D0" stroke="#77756a" stroke-width="1"/>
<line x1="294.6" y1="892.5" x2="294.6" y2="931.7" stroke="#222" stroke-width="1.6"/>
<circle cx="289.8" cy="751.7" r="3" fill="#6B0A1A"/>
<circle cx="296.25" cy="763.3" r="3" fill="#6B0A1A"/>
<circle cx="330" cy="747.3" r="3" fill="#6B0A1A"/>
<circle cx="384.6" cy="743.5" r="3" fill="#6B0A1A"/>
<circle cx="422.9" cy="755.2" r="3" fill="#6B0A1A"/>
<circle cx="321.9" cy="763.75" r="3" fill="#DE8A8E"/>
<circle cx="360.2" cy="803.75" r="3" fill="#DE8A8E"/>
<circle cx="300.8" cy="813.5" r="3" fill="#DE8A8E"/>
<circle cx="360.2" cy="857.9" r="3" fill="#6B0A1A"/>
<circle cx="285.6" cy="897.5" r="3" fill="#DE8A8E"/>
<line x1="275.4" y1="943.3" x2="275.4" y2="947.3" stroke="#444" stroke-width="0.9"/>
<text x="275.4" y="965.2" font-size="13.4" fill="#333" text-anchor="middle">0</text>
<line x1="442.5" y1="943.3" x2="442.5" y2="947.3" stroke="#444" stroke-width="0.9"/>
<text x="442.5" y="965.2" font-size="13.4" fill="#333" text-anchor="middle">3.0</text>
<text x="406.7" y="930.8" font-size="13.4" fill="#222">UTR<tspan font-size="9" dy="3">var</tspan></text>
<text x="58" y="760" font-size="13.4" fill="#333" text-anchor="end">25%</text>
<text x="58" y="812" font-size="13.4" fill="#333" text-anchor="end">50%</text>
<text x="58" y="867.7" font-size="13.4" fill="#333" text-anchor="end">75%</text>
<text x="58" y="919.4" font-size="13.4" fill="#333" text-anchor="end">100%</text>
<text font-size="15.6" fill="#383838" transform="translate(12.6,834.7) rotate(-90)" text-anchor="middle">Quantile</text>
<text x="236.3" y="990" font-size="15.4" fill="#383838">TE<tspan font-size="10.5" dy="4">var</tspan></text>
<rect x="485.5" y="483.3" width="139.2" height="76" fill="none" stroke="#444" stroke-width="0.9"/>
<line x1="502" y1="502" x2="502" y2="544.1" stroke="#555" stroke-width="0.9"/>
<rect x="491.9" y="508.1" width="20" height="14.4" fill="#C43128" stroke="#3a1515" stroke-width="0.7"/>
<line x1="491.9" y1="514.5" x2="511.9" y2="514.5" stroke="#2a0a0a" stroke-width="1.5"/>
<line x1="528.7" y1="503" x2="528.7" y2="547.3" stroke="#555" stroke-width="0.9"/>
<rect x="518.5" y="511" width="20.3" height="23" fill="#C43128" stroke="#3a1515" stroke-width="0.7"/>
<line x1="518.5" y1="516.7" x2="538.8" y2="516.7" stroke="#2a0a0a" stroke-width="1.5"/>
<line x1="555.3" y1="500.4" x2="555.3" y2="534.5" stroke="#555" stroke-width="0.9"/>
<rect x="545.5" y="514.5" width="20" height="17.9" fill="#C43128" stroke="#3a1515" stroke-width="0.7"/>
<line x1="545.5" y1="525.2" x2="565.5" y2="525.2" stroke="#2a0a0a" stroke-width="1.5"/>
<line x1="581.7" y1="499.9" x2="581.7" y2="544.7" stroke="#555" stroke-width="0.9"/>
<rect x="571.6" y="507.6" width="20.3" height="23.2" fill="#C43128" stroke="#3a1515" stroke-width="0.7"/>
<line x1="571.6" y1="516.1" x2="591.9" y2="516.1" stroke="#2a0a0a" stroke-width="1.5"/>
<line x1="608.7" y1="489.7" x2="608.7" y2="523.9" stroke="#555" stroke-width="0.9"/>
<rect x="598.5" y="503.6" width="20" height="17.9" fill="#C43128" stroke="#3a1515" stroke-width="0.7"/>
<line x1="598.5" y1="514.3" x2="618.5" y2="514.3" stroke="#2a0a0a" stroke-width="1.5"/>
<use href="#human" x="496" y="561.2" width="10" height="24"/>
<use href="#chimpR" x="519.3" y="563.3" width="17.4" height="20"/>
<use href="#rhesusR" x="547.35" y="562.5" width="14.7" height="20"/>
<use href="#mouseR" x="572.1" y="565.9" width="19.2" height="14"/>
<use href="#ratR" x="599.3" y="567.3" width="19.2" height="11"/>
<rect x="640.7" y="483.3" width="138.6" height="76" fill="none" stroke="#444" stroke-width="0.9"/>
<line x1="656.7" y1="501.5" x2="656.7" y2="543.3" stroke="#555" stroke-width="0.9"/>
<rect x="646.5" y="507.3" width="20" height="14.2" fill="#C43128" stroke="#3a1515" stroke-width="0.7"/>
<line x1="646.5" y1="513.2" x2="666.5" y2="513.2" stroke="#2a0a0a" stroke-width="1.5"/>
<line x1="683.3" y1="514.8" x2="683.3" y2="536.7" stroke="#555" stroke-width="0.9"/>
<rect x="673.5" y="522.5" width="20" height="11" fill="#C43128" stroke="#3a1515" stroke-width="0.7"/>
<line x1="673.5" y1="528.1" x2="693.5" y2="528.1" stroke="#2a0a0a" stroke-width="1.5"/>
<line x1="710.5" y1="531.3" x2="710.5" y2="550.8" stroke="#555" stroke-width="0.9"/>
<rect x="700.4" y="536.1" width="20" height="12" fill="#C43128" stroke="#3a1515" stroke-width="0.7"/>
<line x1="700.4" y1="541.5" x2="720.4" y2="541.5" stroke="#2a0a0a" stroke-width="1.5"/>
<line x1="736.7" y1="491.9" x2="736.7" y2="509.5" stroke="#555" stroke-width="0.9"/>
<rect x="726.5" y="495.3" width="20" height="11" fill="#C43128" stroke="#3a1515" stroke-width="0.7"/>
<line x1="726.5" y1="500.9" x2="746.5" y2="500.9" stroke="#2a0a0a" stroke-width="1.5"/>
<line x1="763.3" y1="484.7" x2="763.3" y2="518.5" stroke="#555" stroke-width="0.9"/>
<rect x="753.5" y="498.3" width="20" height="17.8" fill="#C43128" stroke="#3a1515" stroke-width="0.7"/>
<line x1="753.5" y1="508.9" x2="773.5" y2="508.9" stroke="#2a0a0a" stroke-width="1.5"/>
<use href="#human" x="650.7" y="561.2" width="10" height="24"/>
<use href="#chimpR" x="673.9" y="563.3" width="17.4" height="20"/>
<use href="#rhesusR" x="702.55" y="562.5" width="14.7" height="20"/>
<use href="#mouseR" x="727.1" y="565.9" width="19.2" height="14"/>
<use href="#ratR" x="753.9" y="567.3" width="19.2" height="11"/>
<path d="M526.5,468 L530.8,477 L535,468 L530.8,471 Z" fill="#34496E"/>
<text x="542" y="475.3" font-size="15.4" fill="#383838">TE<tspan font-size="10.5" dy="4">var</tspan></text>
<path d="M681,468.5 L685.5,459.5 L690,468.5 L687,467.5 L687,476 L684,476 L684,467.5 Z" fill="#34496E"/>
<text x="697.2" y="475.3" font-size="15.4" fill="#383838">TE<tspan font-size="10.5" dy="4">var</tspan></text>
<rect x="558.2" y="622.2" width="221.4" height="319" fill="none" stroke="#444" stroke-width="0.9"/>
<line x1="553.5" y1="650.2" x2="558.2" y2="650.2" stroke="#444" stroke-width="0.9"/>
<line x1="568.1" y1="650.2" x2="655.5" y2="650.2" stroke="#444" stroke-width="1.2"/>
<circle cx="588.4" cy="650.2" r="7.1" fill="#58595B"/>
<line x1="553.5" y1="701.1" x2="558.2" y2="701.1" stroke="#444" stroke-width="0.9"/>
<line x1="568.1" y1="701.1" x2="628.3" y2="701.1" stroke="#aaa" stroke-width="1.2"/>
<circle cx="582.7" cy="701.1" r="7.1" fill="#2E5BA8"/>
<line x1="553.5" y1="751.4" x2="558.2" y2="751.4" stroke="#444" stroke-width="0.9"/>
<line x1="576.3" y1="751.4" x2="645.4" y2="751.4" stroke="#444" stroke-width="1.2"/>
<circle cx="595.3" cy="751.4" r="7.1" fill="#E8E23C"/>
<line x1="553.5" y1="802" x2="558.2" y2="802" stroke="#444" stroke-width="0.9"/>
<line x1="568.6" y1="802" x2="680" y2="802" stroke="#aaa" stroke-width="1.2"/>
<circle cx="597.5" cy="802" r="7.1" fill="#F39C2E"/>
<line x1="553.5" y1="852.1" x2="558.2" y2="852.1" stroke="#444" stroke-width="0.9"/>
<line x1="581" y1="852.1" x2="669.6" y2="852.1" stroke="#444" stroke-width="1.2"/>
<circle cx="619.5" cy="852.1" r="7.1" fill="#DC8088"/>
<line x1="553.5" y1="902.2" x2="558.2" y2="902.2" stroke="#444" stroke-width="0.9"/>
<line x1="585.1" y1="902.2" x2="754.8" y2="902.2" stroke="#aaa" stroke-width="1.2"/>
<circle cx="652.5" cy="902.2" r="7.1" fill="#6B0015"/>
<text x="545.3" y="654.6" font-size="15.5" fill="#383838" text-anchor="end">All genes</text>
<text x="545.3" y="704.1" font-size="15.5" fill="#383838" text-anchor="end">Essential</text>
<text x="545.3" y="753.6" font-size="15.5" fill="#383838" text-anchor="end">Sarcomere</text>
<text x="545.3" y="794.3" font-size="15.5" fill="#383838" text-anchor="end">Cardiac-</text>
<text x="545.3" y="811.7" font-size="15.5" fill="#383838" text-anchor="end">enriched</text>
<text x="545.3" y="843.6" font-size="15.5" fill="#383838" text-anchor="end">OXPHOS</text>
<text x="545.3" y="861.5" font-size="15.5" fill="#383838" text-anchor="end">complex IV</text>
<text x="545.3" y="896.1" font-size="15.5" fill="#383838" text-anchor="end">OXPHOS</text>
<text x="545.3" y="914" font-size="15.5" fill="#383838" text-anchor="end">complex V</text>
<line x1="568.6" y1="941.2" x2="568.6" y2="945.2" stroke="#444" stroke-width="0.9"/>
<text x="568.6" y="964.5" font-size="13.4" fill="#333" text-anchor="middle">0</text>
<line x1="635.5" y1="941.2" x2="635.5" y2="945.2" stroke="#444" stroke-width="0.9"/>
<text x="635.5" y="964.5" font-size="13.4" fill="#333" text-anchor="middle">1</text>
<line x1="702.4" y1="941.2" x2="702.4" y2="945.2" stroke="#444" stroke-width="0.9"/>
<text x="702.4" y="964.5" font-size="13.4" fill="#333" text-anchor="middle">2</text>
<line x1="769.3" y1="941.2" x2="769.3" y2="945.2" stroke="#444" stroke-width="0.9"/>
<text x="769.3" y="964.5" font-size="13.4" fill="#333" text-anchor="middle">3</text>
<text x="621" y="987" font-size="15.4" fill="#383838">Median TE<tspan font-size="10.5" dy="4">var</tspan></text>
<text x="803.5" y="454" font-size="21.5" fill="#111" font-weight="bold">d</text>
<text x="1015.5" y="455.6" font-size="15.4" fill="#383838" text-anchor="middle" font-style="italic">ATP5ME</text>
<rect x="882.2" y="463.5" width="126.5" height="127.1" fill="none" stroke="#444" stroke-width="0.9"/>
<line x1="897.4" y1="590.6" x2="897.4" y2="595.6" stroke="#444" stroke-width="0.9"/>
<line x1="921.3" y1="590.6" x2="921.3" y2="595.6" stroke="#444" stroke-width="0.9"/>
<line x1="946" y1="590.6" x2="946" y2="595.6" stroke="#444" stroke-width="0.9"/>
<line x1="970.4" y1="590.6" x2="970.4" y2="595.6" stroke="#444" stroke-width="0.9"/>
<line x1="994.6" y1="590.6" x2="994.6" y2="595.6" stroke="#444" stroke-width="0.9"/>
<rect x="1021" y="463.5" width="129.4" height="127.1" fill="none" stroke="#444" stroke-width="0.9"/>
<line x1="1036" y1="590.6" x2="1036" y2="595.6" stroke="#444" stroke-width="0.9"/>
<line x1="1059.9" y1="590.6" x2="1059.9" y2="595.6" stroke="#444" stroke-width="0.9"/>
<line x1="1083.8" y1="590.6" x2="1083.8" y2="595.6" stroke="#444" stroke-width="0.9"/>
<line x1="1108.4" y1="590.6" x2="1108.4" y2="595.6" stroke="#444" stroke-width="0.9"/>
<line x1="1132.3" y1="590.6" x2="1132.3" y2="595.6" stroke="#444" stroke-width="0.9"/>
<line x1="876.5" y1="466.9" x2="882.2" y2="466.9" stroke="#444" stroke-width="0.9"/>
<text x="870.5" y="471.5" font-size="13.4" fill="#333" text-anchor="end">12,000</text>
<line x1="876.5" y1="496.6" x2="882.2" y2="496.6" stroke="#444" stroke-width="0.9"/>
<text x="870.5" y="501.2" font-size="13.4" fill="#333" text-anchor="end">9,000</text>
<line x1="876.5" y1="526.7" x2="882.2" y2="526.7" stroke="#444" stroke-width="0.9"/>
<text x="870.5" y="531.3" font-size="13.4" fill="#333" text-anchor="end">6,000</text>
<line x1="876.5" y1="557.1" x2="882.2" y2="557.1" stroke="#444" stroke-width="0.9"/>
<text x="870.5" y="561.7" font-size="13.4" fill="#333" text-anchor="end">3,000</text>
<line x1="876.5" y1="587.2" x2="882.2" y2="587.2" stroke="#444" stroke-width="0.9"/>
<text x="870.5" y="591.8" font-size="13.4" fill="#333" text-anchor="end">0</text>
<line x1="1150.4" y1="471" x2="1156.4" y2="471" stroke="#444" stroke-width="0.9"/>
<text x="1163.5" y="475.6" font-size="13.4" fill="#333">1</text>
<line x1="1150.4" y1="492.2" x2="1156.4" y2="492.2" stroke="#444" stroke-width="0.9"/>
<text x="1163.5" y="496.8" font-size="13.4" fill="#333">0</text>
<line x1="1150.4" y1="513" x2="1156.4" y2="513" stroke="#444" stroke-width="0.9"/>
<text x="1163.5" y="517.6" font-size="13.4" fill="#333">-1</text>
<line x1="1150.4" y1="534.2" x2="1156.4" y2="534.2" stroke="#444" stroke-width="0.9"/>
<text x="1163.5" y="538.8" font-size="13.4" fill="#333">-2</text>
<line x1="1150.4" y1="555" x2="1156.4" y2="555" stroke="#444" stroke-width="0.9"/>
<text x="1163.5" y="559.6" font-size="13.4" fill="#333">-3</text>
<line x1="1150.4" y1="576.2" x2="1156.4" y2="576.2" stroke="#444" stroke-width="0.9"/>
<text x="1163.5" y="580.8" font-size="13.4" fill="#333">-4</text>
<rect x="936.2" y="465.2" width="72.3" height="30.4" fill="#E8E8E8"/>
<line x1="943" y1="468.5" x2="943" y2="479.5" stroke="#666" stroke-width="0.8"/>
<rect x="938.3" y="470.4" width="9.4" height="7.2" fill="#EE7B73" stroke="#555" stroke-width="0.6"/>
<line x1="938.3" y1="474" x2="947.7" y2="474" stroke="#333" stroke-width="0.9"/>
<text x="957.4" y="478.4" font-size="12.4" fill="#383838">Ribo-seq</text>
<line x1="943" y1="482" x2="943" y2="493" stroke="#666" stroke-width="0.8"/>
<rect x="938.3" y="483.9" width="9.4" height="7.2" fill="#1FA84F" stroke="#555" stroke-width="0.6"/>
<line x1="938.3" y1="487.5" x2="947.7" y2="487.5" stroke="#333" stroke-width="0.9"/>
<text x="957.4" y="491.9" font-size="12.4" fill="#383838">RNA-seq</text>
<line x1="892.5" y1="558" x2="892.5" y2="584" stroke="#444" stroke-width="0.8"/>
<rect x="888.4" y="566" width="8.2" height="9.2" fill="#EE7B73" stroke="#333" stroke-width="0.7"/>
<line x1="888.4" y1="570" x2="896.6" y2="570" stroke="#222" stroke-width="1.2"/>
<line x1="902.3" y1="551" x2="902.3" y2="568" stroke="#444" stroke-width="0.8"/>
<rect x="898.3" y="554.7" width="8" height="9.2" fill="#1FA84F" stroke="#333" stroke-width="0.7"/>
<line x1="898.3" y1="558.1" x2="906.3" y2="558.1" stroke="#222" stroke-width="1.2"/>
<line x1="916.4" y1="549" x2="916.4" y2="585" stroke="#444" stroke-width="0.8"/>
<rect x="912.3" y="568.4" width="8.2" height="9.2" fill="#EE7B73" stroke="#333" stroke-width="0.7"/>
<line x1="912.3" y1="573" x2="920.5" y2="573" stroke="#222" stroke-width="1.2"/>
<line x1="926.2" y1="468.3" x2="926.2" y2="538.6" stroke="#444" stroke-width="0.8"/>
<rect x="922.2" y="472.7" width="8" height="43.7" fill="#1FA84F" stroke="#333" stroke-width="0.7"/>
<line x1="922.2" y1="480.6" x2="930.2" y2="480.6" stroke="#222" stroke-width="1.2"/>
<line x1="941.1" y1="524" x2="941.1" y2="550.3" stroke="#444" stroke-width="0.8"/>
<rect x="937" y="538.6" width="8.2" height="7.6" fill="#EE7B73" stroke="#333" stroke-width="0.7"/>
<line x1="937" y1="541" x2="945.2" y2="541" stroke="#222" stroke-width="1.2"/>
<line x1="950.9" y1="530" x2="950.9" y2="541" stroke="#444" stroke-width="0.8"/>
<rect x="946.9" y="531.5" width="8" height="5.1" fill="#1FA84F" stroke="#333" stroke-width="0.7"/>
<line x1="946.9" y1="534" x2="954.9" y2="534" stroke="#222" stroke-width="1.2"/>
<line x1="965.5" y1="572" x2="965.5" y2="579" stroke="#444" stroke-width="0.8"/>
<rect x="961.4" y="574.5" width="8.2" height="3.5" fill="#EE7B73" stroke="#333" stroke-width="0.7"/>
<line x1="961.4" y1="576.5" x2="969.6" y2="576.5" stroke="#222" stroke-width="1.2"/>
<line x1="975.3" y1="579" x2="975.3" y2="582.5" stroke="#444" stroke-width="0.8"/>
<rect x="971.3" y="579.5" width="8" height="2.5" fill="#1FA84F" stroke="#333" stroke-width="0.7"/>
<line x1="971.3" y1="581" x2="979.3" y2="581" stroke="#222" stroke-width="1.2"/>
<line x1="989.7" y1="500" x2="989.7" y2="518" stroke="#444" stroke-width="0.8"/>
<rect x="985.6" y="503.5" width="8.2" height="14.3" fill="#EE7B73" stroke="#333" stroke-width="0.7"/>
<line x1="985.6" y1="508.6" x2="993.8" y2="508.6" stroke="#222" stroke-width="1.2"/>
<line x1="999.5" y1="542" x2="999.5" y2="548" stroke="#444" stroke-width="0.8"/>
<rect x="995.5" y="545.5" width="8" height="2" fill="#1FA84F" stroke="#333" stroke-width="0.7"/>
<line x1="995.5" y1="546.8" x2="1003.5" y2="546.8" stroke="#222" stroke-width="1.2"/>
<circle cx="890.95" cy="558" r="1.9" fill="#111"/>
<circle cx="891.21" cy="584" r="1.9" fill="#111"/>
<circle cx="890.15" cy="571.15" r="1.9" fill="#111"/>
<circle cx="892.32" cy="570.11" r="1.9" fill="#111"/>
<circle cx="892.2" cy="571.4" r="1.9" fill="#111"/>
<circle cx="894.21" cy="570.71" r="1.9" fill="#111"/>
<circle cx="892.6" cy="573.3" r="1.9" fill="#111"/>
<circle cx="893.2" cy="568.79" r="1.9" fill="#111"/>
<circle cx="892.5" cy="573.45" r="1.9" fill="#111"/>
<circle cx="893.31" cy="566.39" r="1.9" fill="#111"/>
<circle cx="892.29" cy="583.08" r="1.9" fill="#111"/>
<circle cx="891.39" cy="571.66" r="1.9" fill="#111"/>
<circle cx="894.99" cy="566.14" r="1.9" fill="#111"/>
<circle cx="894.98" cy="566.55" r="1.9" fill="#111"/>
<circle cx="904.7" cy="551" r="1.9" fill="#111"/>
<circle cx="901.79" cy="568" r="1.9" fill="#111"/>
<circle cx="900.17" cy="563.03" r="1.9" fill="#111"/>
<circle cx="902.95" cy="556.81" r="1.9" fill="#111"/>
<circle cx="903.69" cy="555.35" r="1.9" fill="#111"/>
<circle cx="901.15" cy="557.81" r="1.9" fill="#111"/>
<circle cx="900.24" cy="557.57" r="1.9" fill="#111"/>
<circle cx="901.46" cy="565.4" r="1.9" fill="#111"/>
<circle cx="904.62" cy="556.63" r="1.9" fill="#111"/>
<circle cx="903.59" cy="558.99" r="1.9" fill="#111"/>
<circle cx="916.7" cy="549" r="1.9" fill="#111"/>
<circle cx="916.14" cy="585" r="1.9" fill="#111"/>
<circle cx="914.85" cy="570.67" r="1.9" fill="#111"/>
<circle cx="917.56" cy="568.95" r="1.9" fill="#111"/>
<circle cx="914.55" cy="555.4" r="1.9" fill="#111"/>
<circle cx="927.72" cy="468.3" r="1.9" fill="#111"/>
<circle cx="925.22" cy="538.6" r="1.9" fill="#111"/>
<circle cx="928.12" cy="477.79" r="1.9" fill="#111"/>
<circle cx="924.75" cy="482" r="1.9" fill="#111"/>
<circle cx="925.67" cy="515.13" r="1.9" fill="#111"/>
<circle cx="942.46" cy="524" r="1.9" fill="#111"/>
<circle cx="940.24" cy="550.3" r="1.9" fill="#111"/>
<circle cx="940.08" cy="540.88" r="1.9" fill="#111"/>
<circle cx="938.97" cy="546.12" r="1.9" fill="#111"/>
<circle cx="939.05" cy="540.56" r="1.9" fill="#111"/>
<circle cx="950.67" cy="530" r="1.9" fill="#111"/>
<circle cx="953.2" cy="541" r="1.9" fill="#111"/>
<circle cx="950.82" cy="532.74" r="1.9" fill="#111"/>
<circle cx="951.27" cy="533.4" r="1.9" fill="#111"/>
<circle cx="967.7" cy="572" r="1.9" fill="#111"/>
<circle cx="963.98" cy="579" r="1.9" fill="#111"/>
<circle cx="967.75" cy="573.28" r="1.9" fill="#111"/>
<circle cx="967.41" cy="577.68" r="1.9" fill="#111"/>
<circle cx="966.02" cy="573.75" r="1.9" fill="#111"/>
<circle cx="965.11" cy="577.09" r="1.9" fill="#111"/>
<circle cx="976.92" cy="579" r="1.9" fill="#111"/>
<circle cx="975.78" cy="582.5" r="1.9" fill="#111"/>
<circle cx="974.27" cy="579.6" r="1.9" fill="#111"/>
<circle cx="973.68" cy="579.83" r="1.9" fill="#111"/>
<circle cx="976.4" cy="579.9" r="1.9" fill="#111"/>
<circle cx="991.79" cy="500" r="1.9" fill="#111"/>
<circle cx="988.22" cy="518" r="1.9" fill="#111"/>
<circle cx="987.28" cy="506.77" r="1.9" fill="#111"/>
<circle cx="988.55" cy="515.69" r="1.9" fill="#111"/>
<circle cx="989.43" cy="507.51" r="1.9" fill="#111"/>
<circle cx="998.84" cy="542" r="1.9" fill="#111"/>
<circle cx="999.86" cy="548" r="1.9" fill="#111"/>
<circle cx="997.66" cy="545.85" r="1.9" fill="#111"/>
<circle cx="901.7" cy="471.7" r="1.9" fill="#111"/>
<line x1="1036" y1="485.3" x2="1036" y2="540" stroke="#444" stroke-width="0.8"/>
<rect x="1026.9" y="499" width="18.2" height="23.2" fill="#C43128" stroke="#3a1515" stroke-width="0.7"/>
<line x1="1026.9" y1="511.3" x2="1045.1" y2="511.3" stroke="#222" stroke-width="1.2"/>
<circle cx="1038.41" cy="485.3" r="1.9" fill="#111"/>
<circle cx="1038.23" cy="540" r="1.9" fill="#111"/>
<circle cx="1035.5" cy="519.67" r="1.9" fill="#111"/>
<circle cx="1037.74" cy="521.23" r="1.9" fill="#111"/>
<circle cx="1038.18" cy="512.56" r="1.9" fill="#111"/>
<circle cx="1036.44" cy="499.81" r="1.9" fill="#111"/>
<circle cx="1036.75" cy="520.12" r="1.9" fill="#111"/>
<circle cx="1035.29" cy="537.96" r="1.9" fill="#111"/>
<circle cx="1036.5" cy="513.76" r="1.9" fill="#111"/>
<circle cx="1036.65" cy="515.95" r="1.9" fill="#111"/>
<circle cx="1033.48" cy="522.19" r="1.9" fill="#111"/>
<circle cx="1036.84" cy="511.67" r="1.9" fill="#111"/>
<circle cx="1038.96" cy="534.54" r="1.9" fill="#111"/>
<circle cx="1038.28" cy="523.79" r="1.9" fill="#111"/>
<circle cx="1037.37" cy="535.35" r="1.9" fill="#111"/>
<circle cx="1035.33" cy="514.9" r="1.9" fill="#111"/>
<line x1="1059.9" y1="524" x2="1059.9" y2="585.4" stroke="#444" stroke-width="0.8"/>
<rect x="1050.8" y="544.8" width="18.2" height="20.5" fill="#C43128" stroke="#3a1515" stroke-width="0.7"/>
<line x1="1050.8" y1="550.3" x2="1069" y2="550.3" stroke="#222" stroke-width="1.2"/>
<circle cx="1057.08" cy="524" r="1.9" fill="#111"/>
<circle cx="1060.51" cy="585.4" r="1.9" fill="#111"/>
<circle cx="1059.79" cy="559.67" r="1.9" fill="#111"/>
<circle cx="1058.28" cy="561.99" r="1.9" fill="#111"/>
<circle cx="1061.09" cy="560.18" r="1.9" fill="#111"/>
<line x1="1083.8" y1="488" x2="1083.8" y2="504" stroke="#444" stroke-width="0.8"/>
<rect x="1074.7" y="491.5" width="18.2" height="9.5" fill="#C43128" stroke="#3a1515" stroke-width="0.7"/>
<line x1="1074.7" y1="496.6" x2="1092.9" y2="496.6" stroke="#222" stroke-width="1.2"/>
<circle cx="1080.87" cy="488" r="1.9" fill="#111"/>
<circle cx="1082.61" cy="504" r="1.9" fill="#111"/>
<circle cx="1084.87" cy="497.34" r="1.9" fill="#111"/>
<circle cx="1082.02" cy="492.09" r="1.9" fill="#111"/>
<line x1="1108.4" y1="467" x2="1108.4" y2="485" stroke="#444" stroke-width="0.8"/>
<rect x="1099.3" y="471.7" width="18.2" height="11.3" fill="#C43128" stroke="#3a1515" stroke-width="0.7"/>
<line x1="1099.3" y1="476.1" x2="1117.5" y2="476.1" stroke="#222" stroke-width="1.2"/>
<circle cx="1107.99" cy="467" r="1.9" fill="#111"/>
<circle cx="1110.24" cy="485" r="1.9" fill="#111"/>
<circle cx="1110.89" cy="481.93" r="1.9" fill="#111"/>
<circle cx="1110.68" cy="476.69" r="1.9" fill="#111"/>
<circle cx="1107.71" cy="472.89" r="1.9" fill="#111"/>
<circle cx="1108.9" cy="473.94" r="1.9" fill="#111"/>
<line x1="1132.3" y1="468" x2="1132.3" y2="479" stroke="#444" stroke-width="0.8"/>
<rect x="1123.2" y="470" width="18.2" height="5.1" fill="#C43128" stroke="#3a1515" stroke-width="0.7"/>
<line x1="1123.2" y1="472.4" x2="1141.4" y2="472.4" stroke="#222" stroke-width="1.2"/>
<circle cx="1135" cy="468" r="1.9" fill="#111"/>
<circle cx="1130.96" cy="479" r="1.9" fill="#111"/>
<circle cx="1130.31" cy="470.69" r="1.9" fill="#111"/>
<circle cx="1132" cy="474.27" r="1.9" fill="#111"/>
<circle cx="1130.95" cy="475.82" r="1.9" fill="#111"/>
<text x="1082.1" y="582" font-size="12.6" fill="#383838">TE<tspan font-size="8.6" dy="3">var</tspan><tspan dy="-3"> = 2.84</tspan></text>
<text x="1015.5" y="615.4" font-size="15.4" fill="#383838" text-anchor="middle" font-style="italic">COX7B</text>
<rect x="882.2" y="619.8" width="126.5" height="129.5" fill="none" stroke="#444" stroke-width="0.9"/>
<line x1="897.4" y1="749.3" x2="897.4" y2="754.3" stroke="#444" stroke-width="0.9"/>
<line x1="921.3" y1="749.3" x2="921.3" y2="754.3" stroke="#444" stroke-width="0.9"/>
<line x1="946" y1="749.3" x2="946" y2="754.3" stroke="#444" stroke-width="0.9"/>
<line x1="970.4" y1="749.3" x2="970.4" y2="754.3" stroke="#444" stroke-width="0.9"/>
<line x1="994.6" y1="749.3" x2="994.6" y2="754.3" stroke="#444" stroke-width="0.9"/>
<rect x="1022.3" y="619.8" width="127.1" height="129.5" fill="none" stroke="#444" stroke-width="0.9"/>
<line x1="1036" y1="749.3" x2="1036" y2="754.3" stroke="#444" stroke-width="0.9"/>
<line x1="1059.9" y1="749.3" x2="1059.9" y2="754.3" stroke="#444" stroke-width="0.9"/>
<line x1="1083.8" y1="749.3" x2="1083.8" y2="754.3" stroke="#444" stroke-width="0.9"/>
<line x1="1108.4" y1="749.3" x2="1108.4" y2="754.3" stroke="#444" stroke-width="0.9"/>
<line x1="1132.3" y1="749.3" x2="1132.3" y2="754.3" stroke="#444" stroke-width="0.9"/>
<line x1="876.5" y1="662.5" x2="882.2" y2="662.5" stroke="#444" stroke-width="0.9"/>
<text x="870.5" y="667.1" font-size="13.4" fill="#333" text-anchor="end">10,000</text>
<line x1="876.5" y1="705.2" x2="882.2" y2="705.2" stroke="#444" stroke-width="0.9"/>
<text x="870.5" y="709.8" font-size="13.4" fill="#333" text-anchor="end">5,000</text>
<line x1="876.5" y1="747.9" x2="882.2" y2="747.9" stroke="#444" stroke-width="0.9"/>
<text x="870.5" y="752.5" font-size="13.4" fill="#333" text-anchor="end">0</text>
<line x1="1149.4" y1="645.4" x2="1155.4" y2="645.4" stroke="#444" stroke-width="0.9"/>
<text x="1162.5" y="650" font-size="13.4" fill="#333">2</text>
<line x1="1149.4" y1="682" x2="1155.4" y2="682" stroke="#444" stroke-width="0.9"/>
<text x="1162.5" y="686.6" font-size="13.4" fill="#333">0</text>
<line x1="1149.4" y1="717.5" x2="1155.4" y2="717.5" stroke="#444" stroke-width="0.9"/>
<text x="1162.5" y="722.1" font-size="13.4" fill="#333">-2</text>
<line x1="892.5" y1="661.5" x2="892.5" y2="734" stroke="#444" stroke-width="0.8"/>
<rect x="888.4" y="685.4" width="8.2" height="23.9" fill="#EE7B73" stroke="#333" stroke-width="0.7"/>
<line x1="888.4" y1="696.7" x2="896.6" y2="696.7" stroke="#222" stroke-width="1.2"/>
<line x1="902.3" y1="696.3" x2="902.3" y2="728.1" stroke="#444" stroke-width="0.8"/>
<rect x="898.3" y="705.9" width="8" height="12.3" fill="#1FA84F" stroke="#333" stroke-width="0.7"/>
<line x1="898.3" y1="712" x2="906.3" y2="712" stroke="#222" stroke-width="1.2"/>
<line x1="916.4" y1="702.5" x2="916.4" y2="743.5" stroke="#444" stroke-width="0.8"/>
<rect x="912.3" y="728.5" width="8.2" height="4.7" fill="#EE7B73" stroke="#333" stroke-width="0.7"/>
<line x1="912.3" y1="731" x2="920.5" y2="731" stroke="#222" stroke-width="1.2"/>
<line x1="926.2" y1="667" x2="926.2" y2="696" stroke="#444" stroke-width="0.8"/>
<rect x="922.2" y="670" width="8" height="26" fill="#1FA84F" stroke="#333" stroke-width="0.7"/>
<line x1="922.2" y1="681.3" x2="930.2" y2="681.3" stroke="#222" stroke-width="1.2"/>
<line x1="941.1" y1="635.9" x2="941.1" y2="708.6" stroke="#444" stroke-width="0.8"/>
<rect x="937" y="675.2" width="8.2" height="25.6" fill="#EE7B73" stroke="#333" stroke-width="0.7"/>
<line x1="937" y1="692.9" x2="945.2" y2="692.9" stroke="#222" stroke-width="1.2"/>
<line x1="950.9" y1="712" x2="950.9" y2="716.5" stroke="#444" stroke-width="0.8"/>
<rect x="946.9" y="714" width="8" height="2.5" fill="#1FA84F" stroke="#333" stroke-width="0.7"/>
<line x1="946.9" y1="715.5" x2="954.9" y2="715.5" stroke="#222" stroke-width="1.2"/>
<line x1="965.5" y1="680" x2="965.5" y2="720" stroke="#444" stroke-width="0.8"/>
<rect x="961.4" y="688.5" width="8.2" height="2" fill="#EE7B73" stroke="#333" stroke-width="0.7"/>
<line x1="961.4" y1="689.5" x2="969.6" y2="689.5" stroke="#222" stroke-width="1.2"/>
<line x1="975.3" y1="689" x2="975.3" y2="709" stroke="#444" stroke-width="0.8"/>
<rect x="971.3" y="696" width="8" height="2.5" fill="#1FA84F" stroke="#333" stroke-width="0.7"/>
<line x1="971.3" y1="697.4" x2="979.3" y2="697.4" stroke="#222" stroke-width="1.2"/>
<line x1="989.7" y1="670" x2="989.7" y2="695" stroke="#444" stroke-width="0.8"/>
<rect x="985.6" y="678.6" width="8.2" height="9.2" fill="#EE7B73" stroke="#333" stroke-width="0.7"/>
<line x1="985.6" y1="682" x2="993.8" y2="682" stroke="#222" stroke-width="1.2"/>
<line x1="999.5" y1="738" x2="999.5" y2="739.5" stroke="#444" stroke-width="0.8"/>
<rect x="995.5" y="738" width="8" height="1.5" fill="#1FA84F" stroke="#333" stroke-width="0.7"/>
<line x1="995.5" y1="738.7" x2="1003.5" y2="738.7" stroke="#222" stroke-width="1.2"/>
<circle cx="894.04" cy="661.5" r="1.9" fill="#111"/>
<circle cx="894.79" cy="734" r="1.9" fill="#111"/>
<circle cx="893.42" cy="695.29" r="1.9" fill="#111"/>
<circle cx="891" cy="697.2" r="1.9" fill="#111"/>
<circle cx="892.38" cy="705.45" r="1.9" fill="#111"/>
<circle cx="890.89" cy="694.3" r="1.9" fill="#111"/>
<circle cx="890.05" cy="686.15" r="1.9" fill="#111"/>
<circle cx="892.36" cy="664.51" r="1.9" fill="#111"/>
<circle cx="893.57" cy="702.87" r="1.9" fill="#111"/>
<circle cx="890.9" cy="704.32" r="1.9" fill="#111"/>
<circle cx="891.36" cy="688.65" r="1.9" fill="#111"/>
<circle cx="891.73" cy="685.99" r="1.9" fill="#111"/>
<circle cx="893.49" cy="678.71" r="1.9" fill="#111"/>
<circle cx="892.6" cy="686.52" r="1.9" fill="#111"/>
<circle cx="893.07" cy="696.07" r="1.9" fill="#111"/>
<circle cx="893.78" cy="701.06" r="1.9" fill="#111"/>
<circle cx="903.06" cy="696.3" r="1.9" fill="#111"/>
<circle cx="900.82" cy="728.1" r="1.9" fill="#111"/>
<circle cx="903.41" cy="715.64" r="1.9" fill="#111"/>
<circle cx="903.89" cy="699.07" r="1.9" fill="#111"/>
<circle cx="903.01" cy="719.27" r="1.9" fill="#111"/>
<circle cx="903.39" cy="711.48" r="1.9" fill="#111"/>
<circle cx="900.87" cy="717.09" r="1.9" fill="#111"/>
<circle cx="904.3" cy="712.9" r="1.9" fill="#111"/>
<circle cx="904.7" cy="721.64" r="1.9" fill="#111"/>
<circle cx="904.69" cy="711.05" r="1.9" fill="#111"/>
<circle cx="914.31" cy="702.5" r="1.9" fill="#111"/>
<circle cx="916.1" cy="743.5" r="1.9" fill="#111"/>
<circle cx="916.65" cy="732.22" r="1.9" fill="#111"/>
<circle cx="917.74" cy="732.78" r="1.9" fill="#111"/>
<circle cx="916.34" cy="716.79" r="1.9" fill="#111"/>
<circle cx="924.56" cy="667" r="1.9" fill="#111"/>
<circle cx="925.38" cy="696" r="1.9" fill="#111"/>
<circle cx="927.64" cy="691.04" r="1.9" fill="#111"/>
<circle cx="924.4" cy="690.8" r="1.9" fill="#111"/>
<circle cx="942.05" cy="635.9" r="1.9" fill="#111"/>
<circle cx="943.33" cy="708.6" r="1.9" fill="#111"/>
<circle cx="941.06" cy="688.42" r="1.9" fill="#111"/>
<circle cx="943.35" cy="696.97" r="1.9" fill="#111"/>
<circle cx="951.03" cy="712" r="1.9" fill="#111"/>
<circle cx="949.85" cy="716.5" r="1.9" fill="#111"/>
<circle cx="952.04" cy="714.55" r="1.9" fill="#111"/>
<circle cx="964.56" cy="680" r="1.9" fill="#111"/>
<circle cx="964.91" cy="720" r="1.9" fill="#111"/>
<circle cx="967.23" cy="689.55" r="1.9" fill="#111"/>
<circle cx="967.5" cy="702.4" r="1.9" fill="#111"/>
<circle cx="975.66" cy="689" r="1.9" fill="#111"/>
<circle cx="973.8" cy="709" r="1.9" fill="#111"/>
<circle cx="975.48" cy="698.13" r="1.9" fill="#111"/>
<circle cx="975.32" cy="699.48" r="1.9" fill="#111"/>
<circle cx="990.01" cy="670" r="1.9" fill="#111"/>
<circle cx="989.66" cy="695" r="1.9" fill="#111"/>
<circle cx="990.65" cy="678.86" r="1.9" fill="#111"/>
<circle cx="987.53" cy="682.9" r="1.9" fill="#111"/>
<circle cx="989.89" cy="685.97" r="1.9" fill="#111"/>
<circle cx="1001.62" cy="738" r="1.9" fill="#111"/>
<circle cx="998.35" cy="739.5" r="1.9" fill="#111"/>
<circle cx="999.37" cy="739.44" r="1.9" fill="#111"/>
<circle cx="900.4" cy="625.6" r="1.9" fill="#111"/>
<line x1="1036" y1="653" x2="1036" y2="699.1" stroke="#444" stroke-width="0.8"/>
<rect x="1026.9" y="665.9" width="18.2" height="22.9" fill="#C43128" stroke="#3a1515" stroke-width="0.7"/>
<line x1="1026.9" y1="672.4" x2="1045.1" y2="672.4" stroke="#222" stroke-width="1.2"/>
<circle cx="1036.18" cy="653" r="1.9" fill="#111"/>
<circle cx="1033.96" cy="699.1" r="1.9" fill="#111"/>
<circle cx="1034.23" cy="675.83" r="1.9" fill="#111"/>
<circle cx="1036.79" cy="694.52" r="1.9" fill="#111"/>
<circle cx="1036.83" cy="673.16" r="1.9" fill="#111"/>
<circle cx="1036.18" cy="680.05" r="1.9" fill="#111"/>
<circle cx="1038.11" cy="658.97" r="1.9" fill="#111"/>
<circle cx="1036.67" cy="654.05" r="1.9" fill="#111"/>
<circle cx="1038.14" cy="671.1" r="1.9" fill="#111"/>
<circle cx="1034.4" cy="673.28" r="1.9" fill="#111"/>
<circle cx="1037.44" cy="680.09" r="1.9" fill="#111"/>
<circle cx="1037.86" cy="682.64" r="1.9" fill="#111"/>
<circle cx="1038.42" cy="677.59" r="1.9" fill="#111"/>
<circle cx="1034.9" cy="670.43" r="1.9" fill="#111"/>
<circle cx="1034.89" cy="675.9" r="1.9" fill="#111"/>
<circle cx="1038.54" cy="675.37" r="1.9" fill="#111"/>
<line x1="1059.9" y1="696" x2="1059.9" y2="743.5" stroke="#444" stroke-width="0.8"/>
<rect x="1050.8" y="711" width="18.2" height="9.3" fill="#C43128" stroke="#3a1515" stroke-width="0.7"/>
<line x1="1050.8" y1="717.9" x2="1069" y2="717.9" stroke="#222" stroke-width="1.2"/>
<circle cx="1058.46" cy="696" r="1.9" fill="#111"/>
<circle cx="1057.48" cy="743.5" r="1.9" fill="#111"/>
<circle cx="1061.89" cy="720.28" r="1.9" fill="#111"/>
<circle cx="1059.43" cy="702.36" r="1.9" fill="#111"/>
<circle cx="1061.64" cy="717.76" r="1.9" fill="#111"/>
<line x1="1083.8" y1="650" x2="1083.8" y2="676" stroke="#444" stroke-width="0.8"/>
<rect x="1074.7" y="662.2" width="18.2" height="11.3" fill="#C43128" stroke="#3a1515" stroke-width="0.7"/>
<line x1="1074.7" y1="669.4" x2="1092.9" y2="669.4" stroke="#222" stroke-width="1.2"/>
<circle cx="1082.01" cy="650" r="1.9" fill="#111"/>
<circle cx="1084.89" cy="676" r="1.9" fill="#111"/>
<circle cx="1086.27" cy="666.75" r="1.9" fill="#111"/>
<circle cx="1086.61" cy="662.4" r="1.9" fill="#111"/>
<line x1="1108.4" y1="672" x2="1108.4" y2="697" stroke="#444" stroke-width="0.8"/>
<rect x="1099.3" y="678.2" width="18.2" height="0.8" fill="#C43128" stroke="#3a1515" stroke-width="0.7"/>
<line x1="1099.3" y1="678.6" x2="1117.5" y2="678.6" stroke="#222" stroke-width="1.2"/>
<circle cx="1109.95" cy="672" r="1.9" fill="#111"/>
<circle cx="1108.42" cy="697" r="1.9" fill="#111"/>
<circle cx="1109.51" cy="678.6" r="1.9" fill="#111"/>
<line x1="1132.3" y1="626" x2="1132.3" y2="637" stroke="#444" stroke-width="0.8"/>
<rect x="1123.2" y="629.7" width="18.2" height="5.5" fill="#C43128" stroke="#3a1515" stroke-width="0.7"/>
<line x1="1123.2" y1="632.5" x2="1141.4" y2="632.5" stroke="#222" stroke-width="1.2"/>
<circle cx="1132.71" cy="626" r="1.9" fill="#111"/>
<circle cx="1130.18" cy="637" r="1.9" fill="#111"/>
<circle cx="1130.41" cy="630.09" r="1.9" fill="#111"/>
<circle cx="1130.52" cy="629.91" r="1.9" fill="#111"/>
<circle cx="1134.34" cy="632.53" r="1.9" fill="#111"/>
<text x="1080.4" y="739.4" font-size="12.6" fill="#383838">TE<tspan font-size="8.6" dy="3">var</tspan><tspan dy="-3"> = 2.94</tspan></text>
<text font-size="14.3" fill="#383838" text-anchor="end" textLength="50.4" lengthAdjust="spacingAndGlyphs" transform="translate(903.9,772.5) rotate(-35)">Human</text>
<text font-size="14.3" fill="#383838" text-anchor="end" textLength="46.8" lengthAdjust="spacingAndGlyphs" transform="translate(927.8,772.5) rotate(-35)">Chimp</text>
<text font-size="14.3" fill="#383838" text-anchor="end" textLength="48.9" lengthAdjust="spacingAndGlyphs" transform="translate(952.5,772.5) rotate(-35)">Rhesus</text>
<text font-size="14.3" fill="#383838" text-anchor="end" textLength="43.7" lengthAdjust="spacingAndGlyphs" transform="translate(976.9,772.5) rotate(-35)">Mouse</text>
<text font-size="14.3" fill="#383838" text-anchor="end" textLength="21.5" lengthAdjust="spacingAndGlyphs" transform="translate(1001.1,772.5) rotate(-35)">Rat</text>
<text font-size="14.3" fill="#383838" text-anchor="end" textLength="50.4" lengthAdjust="spacingAndGlyphs" transform="translate(1042.5,772.5) rotate(-35)">Human</text>
<text font-size="14.3" fill="#383838" text-anchor="end" textLength="46.8" lengthAdjust="spacingAndGlyphs" transform="translate(1066.4,772.5) rotate(-35)">Chimp</text>
<text font-size="14.3" fill="#383838" text-anchor="end" textLength="48.9" lengthAdjust="spacingAndGlyphs" transform="translate(1090.3,772.5) rotate(-35)">Rhesus</text>
<text font-size="14.3" fill="#383838" text-anchor="end" textLength="43.7" lengthAdjust="spacingAndGlyphs" transform="translate(1114.9,772.5) rotate(-35)">Mouse</text>
<text font-size="14.3" fill="#383838" text-anchor="end" textLength="21.5" lengthAdjust="spacingAndGlyphs" transform="translate(1138.8,772.5) rotate(-35)">Rat</text>
<text font-size="16.1" fill="#383838" transform="translate(816.3,605) rotate(-90)" text-anchor="middle">Normalized counts</text>
<text font-size="15.4" fill="#383838" transform="translate(1189.3,605.5) rotate(90)" text-anchor="middle">TE</text>
<text x="1.8" y="1039.5" font-size="21.5" fill="#111" font-weight="bold">e</text>
<text x="121.8" y="1042.4" font-size="15.4" fill="#383838">Primates</text>
<g shape-rendering="crispEdges"><rect x="119.9" y="1047.8" width="21.4" height="3.0" fill="#ab2734"/><rect x="119.9" y="1050.6" width="21.4" height="1.6" fill="#af313d"/><rect x="119.9" y="1052.0" width="21.4" height="4.4" fill="#ab2734"/><rect x="119.9" y="1056.2" width="21.4" height="1.6" fill="#ad2e3a"/><rect x="119.9" y="1057.6" width="21.4" height="1.6" fill="#aa2532"/><rect x="119.9" y="1059.0" width="21.4" height="1.6" fill="#ab2733"/><rect x="119.9" y="1060.4" width="21.4" height="4.4" fill="#af333f"/><rect x="119.9" y="1064.6" width="21.4" height="1.6" fill="#ae303b"/><rect x="119.9" y="1066.0" width="21.4" height="1.6" fill="#af313d"/><rect x="119.9" y="1067.4" width="21.4" height="4.4" fill="#ad2c38"/><rect x="119.9" y="1071.6" width="21.4" height="1.6" fill="#ae303c"/><rect x="119.9" y="1073.0" width="21.4" height="4.4" fill="#af333f"/><rect x="119.9" y="1077.2" width="21.4" height="1.0" fill="#ab2633"/><rect x="119.9" y="1078.0" width="21.4" height="1.6" fill="#ae2f3b"/><rect x="119.9" y="1079.4" width="21.4" height="1.6" fill="#b33d48"/><rect x="119.9" y="1080.8" width="21.4" height="1.6" fill="#bc565e"/><rect x="119.9" y="1082.2" width="21.4" height="1.6" fill="#b74750"/><rect x="119.9" y="1083.6" width="21.4" height="1.6" fill="#ad2d3a"/><rect x="119.9" y="1085.0" width="21.4" height="1.6" fill="#b13742"/><rect x="119.9" y="1086.4" width="21.4" height="4.4" fill="#b74952"/><rect x="119.9" y="1090.6" width="21.4" height="3.0" fill="#b33d48"/><rect x="119.9" y="1093.4" width="21.4" height="1.6" fill="#b74750"/><rect x="119.9" y="1094.8" width="21.4" height="3.0" fill="#b5424c"/><rect x="119.9" y="1097.6" width="21.4" height="1.6" fill="#b74751"/><rect x="119.9" y="1099.0" width="21.4" height="1.0" fill="#b5434d"/><rect x="119.9" y="1099.8" width="21.4" height="3.0" fill="#c2656c"/><rect x="119.9" y="1102.6" width="21.4" height="4.4" fill="#c56e74"/><rect x="119.9" y="1106.8" width="21.4" height="4.4" fill="#c8767b"/><rect x="119.9" y="1111.0" width="21.4" height="1.6" fill="#bc555d"/><rect x="119.9" y="1112.4" width="21.4" height="1.6" fill="#c3686f"/><rect x="119.9" y="1113.8" width="21.4" height="3.0" fill="#c77379"/><rect x="119.9" y="1116.6" width="21.4" height="2.0" fill="#c9797e"/><rect x="119.9" y="1118.4" width="21.4" height="3.0" fill="#e4bdbe"/><rect x="119.9" y="1121.2" width="21.4" height="4.4" fill="#d9a1a3"/><rect x="119.9" y="1125.4" width="21.4" height="1.6" fill="#dfb2b3"/><rect x="119.9" y="1126.8" width="21.4" height="1.6" fill="#e3bbbd"/><rect x="119.9" y="1128.2" width="21.4" height="1.6" fill="#ddadae"/><rect x="119.9" y="1129.6" width="21.4" height="4.4" fill="#e7c5c6"/><rect x="119.9" y="1133.8" width="21.4" height="3.0" fill="#e6c2c3"/><rect x="119.9" y="1136.6" width="21.4" height="3.0" fill="#deaeaf"/><rect x="119.9" y="1139.4" width="21.4" height="4.4" fill="#d89fa0"/><rect x="119.9" y="1143.6" width="21.4" height="3.0" fill="#d8a0a2"/><rect x="119.9" y="1146.4" width="21.4" height="3.0" fill="#d39294"/><rect x="119.9" y="1149.2" width="21.4" height="1.6" fill="#daa5a6"/><rect x="119.9" y="1150.6" width="21.4" height="1.6" fill="#dfb2b3"/><rect x="119.9" y="1152.0" width="21.4" height="1.6" fill="#d79ea0"/><rect x="119.9" y="1153.4" width="21.4" height="3.0" fill="#ddacae"/><rect x="119.9" y="1156.2" width="21.4" height="1.6" fill="#d5999b"/><rect x="119.9" y="1157.6" width="21.4" height="3.0" fill="#ddacae"/><rect x="119.9" y="1160.4" width="21.4" height="1.6" fill="#dfb0b2"/><rect x="119.9" y="1161.8" width="21.4" height="1.6" fill="#dcaaab"/><rect x="119.9" y="1163.2" width="21.4" height="4.4" fill="#dfb1b2"/><rect x="119.9" y="1167.4" width="21.4" height="1.6" fill="#dba8aa"/><rect x="119.9" y="1168.8" width="21.4" height="1.3" fill="#ddabad"/><rect x="119.9" y="1169.9" width="21.4" height="1.6" fill="#fcf8f8"/><rect x="119.9" y="1171.3" width="21.4" height="3.0" fill="#faf3f3"/><rect x="119.9" y="1174.1" width="21.4" height="4.4" fill="#fdf9f9"/><rect x="119.9" y="1178.3" width="21.4" height="1.6" fill="#fcf9f9"/><rect x="119.9" y="1179.7" width="21.4" height="4.4" fill="#fcf8f8"/><rect x="119.9" y="1183.9" width="21.4" height="1.6" fill="#faf3f3"/><rect x="119.9" y="1185.3" width="21.4" height="4.4" fill="#faf2f2"/><rect x="119.9" y="1189.5" width="21.4" height="1.6" fill="#f9f1f2"/><rect x="119.9" y="1190.9" width="21.4" height="1.6" fill="#faf2f2"/><rect x="119.9" y="1192.3" width="21.4" height="4.4" fill="#fcf7f7"/><rect x="119.9" y="1196.5" width="21.4" height="1.6" fill="#f8eeee"/><rect x="119.9" y="1197.9" width="21.4" height="4.4" fill="#faf3f4"/><rect x="119.9" y="1202.1" width="21.4" height="3.0" fill="#fbf6f6"/><rect x="119.9" y="1204.9" width="21.4" height="4.4" fill="#f9f1f1"/><rect x="119.9" y="1209.1" width="21.4" height="1.6" fill="#f6e9e9"/><rect x="119.9" y="1210.5" width="21.4" height="1.6" fill="#f6eaea"/><rect x="119.9" y="1211.9" width="21.4" height="4.4" fill="#f8edee"/><rect x="119.9" y="1216.1" width="21.4" height="2.5" fill="#f9f1f1"/><rect x="119.9" y="1218.4" width="21.4" height="3.0" fill="#f3e3e3"/><rect x="119.9" y="1221.2" width="21.4" height="3.0" fill="#efd8d9"/><rect x="119.9" y="1224.0" width="21.4" height="1.6" fill="#ecd2d3"/><rect x="119.9" y="1225.4" width="21.4" height="1.6" fill="#f3e1e2"/><rect x="119.9" y="1226.8" width="21.4" height="3.0" fill="#f0dbdb"/><rect x="119.9" y="1229.6" width="21.4" height="3.0" fill="#e8c7c8"/><rect x="119.9" y="1232.4" width="21.4" height="4.4" fill="#ecd0d1"/><rect x="119.9" y="1236.6" width="21.4" height="3.0" fill="#e0b3b4"/><rect x="119.9" y="1239.4" width="21.4" height="3.0" fill="#eccfd0"/><rect x="119.9" y="1242.2" width="21.4" height="1.6" fill="#ecd0d1"/><rect x="119.9" y="1243.6" width="21.4" height="4.4" fill="#eacccd"/><rect x="119.9" y="1247.8" width="21.4" height="3.0" fill="#e7c4c5"/><rect x="119.9" y="1250.6" width="21.4" height="4.4" fill="#e6c2c4"/><rect x="119.9" y="1254.8" width="21.4" height="3.0" fill="#dfb2b3"/><rect x="119.9" y="1257.6" width="21.4" height="3.0" fill="#e3bcbd"/><rect x="119.9" y="1260.4" width="21.4" height="3.5" fill="#deafb1"/><rect x="119.9" y="1263.7" width="21.4" height="3.0" fill="#d69b9d"/><rect x="119.9" y="1266.5" width="21.4" height="4.4" fill="#d9a3a4"/><rect x="119.9" y="1270.7" width="21.4" height="3.0" fill="#d29194"/><rect x="119.9" y="1273.5" width="21.4" height="1.6" fill="#d8a0a2"/><rect x="119.9" y="1274.9" width="21.4" height="1.6" fill="#d18f91"/><rect x="119.9" y="1276.3" width="21.4" height="4.4" fill="#dfb1b3"/><rect x="119.9" y="1280.5" width="21.4" height="3.0" fill="#d8a1a2"/><rect x="119.9" y="1283.3" width="21.4" height="4.4" fill="#dca9ab"/><rect x="119.9" y="1287.5" width="21.4" height="1.6" fill="#dcaaac"/><rect x="119.9" y="1288.9" width="21.4" height="4.4" fill="#dba8aa"/><rect x="119.9" y="1293.1" width="21.4" height="0.7" fill="#d9a3a5"/><rect x="119.9" y="1293.6" width="21.4" height="3.0" fill="#b74953"/><rect x="119.9" y="1296.4" width="21.4" height="1.6" fill="#b33d48"/><rect x="119.9" y="1297.8" width="21.4" height="1.6" fill="#b13742"/><rect x="119.9" y="1299.2" width="21.4" height="1.6" fill="#b5424c"/><rect x="119.9" y="1300.6" width="21.4" height="1.6" fill="#b74852"/><rect x="119.9" y="1302.0" width="21.4" height="4.4" fill="#b33e49"/><rect x="119.9" y="1306.2" width="21.4" height="1.6" fill="#b64650"/><rect x="119.9" y="1307.6" width="21.4" height="1.6" fill="#b74852"/><rect x="119.9" y="1309.0" width="21.4" height="1.6" fill="#b5424c"/><rect x="119.9" y="1310.4" width="21.4" height="1.6" fill="#ba4f58"/><rect x="119.9" y="1311.8" width="21.4" height="1.6" fill="#b6444e"/><rect x="119.9" y="1313.2" width="21.4" height="1.6" fill="#b74751"/><rect x="119.9" y="1314.6" width="21.4" height="1.6" fill="#b03641"/><rect x="119.9" y="1316.0" width="21.4" height="3.0" fill="#ba5059"/></g>
<g shape-rendering="crispEdges"><rect x="141.3" y="1047.8" width="21.7" height="4.4" fill="#d29093"/><rect x="141.3" y="1052.0" width="21.7" height="1.6" fill="#d79ea0"/><rect x="141.3" y="1053.4" width="21.7" height="1.6" fill="#dba7a9"/><rect x="141.3" y="1054.8" width="21.7" height="3.0" fill="#d29093"/><rect x="141.3" y="1057.6" width="21.7" height="3.0" fill="#d49799"/><rect x="141.3" y="1060.4" width="21.7" height="0.4" fill="#d08c8f"/><rect x="141.3" y="1060.6" width="21.7" height="4.4" fill="#eed5d6"/><rect x="141.3" y="1064.8" width="21.7" height="4.4" fill="#ebcdce"/><rect x="141.3" y="1069.0" width="21.7" height="3.0" fill="#f1ddde"/><rect x="141.3" y="1071.8" width="21.7" height="4.4" fill="#eacdce"/><rect x="141.3" y="1076.0" width="21.7" height="2.3" fill="#eacccd"/><rect x="141.3" y="1078.1" width="21.7" height="1.6" fill="#fbf6f6"/><rect x="141.3" y="1079.5" width="21.7" height="3.0" fill="#fefcfc"/><rect x="141.3" y="1082.3" width="21.7" height="1.6" fill="#fefdfd"/><rect x="141.3" y="1083.7" width="21.7" height="1.6" fill="#fcf9f9"/><rect x="141.3" y="1085.1" width="21.7" height="3.0" fill="#ffffff"/><rect x="141.3" y="1087.9" width="21.7" height="4.4" fill="#ffffff"/><rect x="141.3" y="1092.1" width="21.7" height="4.4" fill="#fefdfd"/><rect x="141.3" y="1096.3" width="21.7" height="3.0" fill="#fdfafa"/><rect x="141.3" y="1099.1" width="21.7" height="4.4" fill="#fcf7f7"/><rect x="141.3" y="1103.3" width="21.7" height="1.6" fill="#fefbfb"/><rect x="141.3" y="1104.7" width="21.7" height="3.0" fill="#fdfbfb"/><rect x="141.3" y="1107.5" width="21.7" height="3.0" fill="#fffefe"/><rect x="141.3" y="1110.3" width="21.7" height="4.4" fill="#faf2f2"/><rect x="141.3" y="1114.5" width="21.7" height="3.0" fill="#fdfafa"/><rect x="141.3" y="1117.3" width="21.7" height="1.3" fill="#fdf9f9"/><rect x="141.3" y="1118.4" width="21.7" height="1.6" fill="#eacdce"/><rect x="141.3" y="1119.8" width="21.7" height="1.6" fill="#eed7d7"/><rect x="141.3" y="1121.2" width="21.7" height="1.6" fill="#f1dede"/><rect x="141.3" y="1122.6" width="21.7" height="3.0" fill="#e8c7c8"/><rect x="141.3" y="1125.4" width="21.7" height="4.4" fill="#eacbcc"/><rect x="141.3" y="1129.6" width="21.7" height="1.6" fill="#efd8d8"/><rect x="141.3" y="1131.0" width="21.7" height="1.6" fill="#eacccd"/><rect x="141.3" y="1132.4" width="21.7" height="4.4" fill="#eacccd"/><rect x="141.3" y="1136.6" width="21.7" height="3.0" fill="#eed4d5"/><rect x="141.3" y="1139.4" width="21.7" height="1.6" fill="#ecd0d1"/><rect x="141.3" y="1140.8" width="21.7" height="4.4" fill="#eed6d7"/><rect x="141.3" y="1145.0" width="21.7" height="4.4" fill="#f2e0e1"/><rect x="141.3" y="1149.2" width="21.7" height="1.6" fill="#edd3d3"/><rect x="141.3" y="1150.6" width="21.7" height="1.6" fill="#ecd1d1"/><rect x="141.3" y="1152.0" width="21.7" height="3.0" fill="#efd8d9"/><rect x="141.3" y="1154.8" width="21.7" height="3.0" fill="#edd2d3"/><rect x="141.3" y="1157.6" width="21.7" height="3.0" fill="#eed4d5"/><rect x="141.3" y="1160.4" width="21.7" height="3.0" fill="#f0d9da"/><rect x="141.3" y="1163.2" width="21.7" height="1.6" fill="#f3e1e1"/><rect x="141.3" y="1164.6" width="21.7" height="1.6" fill="#e9cacb"/><rect x="141.3" y="1166.0" width="21.7" height="1.6" fill="#edd4d5"/><rect x="141.3" y="1167.4" width="21.7" height="1.6" fill="#e8c7c8"/><rect x="141.3" y="1168.8" width="21.7" height="1.3" fill="#edd4d4"/><rect x="141.3" y="1169.9" width="21.7" height="4.4" fill="#b84c55"/><rect x="141.3" y="1174.1" width="21.7" height="4.4" fill="#c3686f"/><rect x="141.3" y="1178.3" width="21.7" height="4.4" fill="#c06168"/><rect x="141.3" y="1182.5" width="21.7" height="3.0" fill="#c46a71"/><rect x="141.3" y="1185.3" width="21.7" height="4.4" fill="#be5a62"/><rect x="141.3" y="1189.5" width="21.7" height="1.6" fill="#c06068"/><rect x="141.3" y="1190.9" width="21.7" height="4.4" fill="#c46b71"/><rect x="141.3" y="1195.1" width="21.7" height="4.4" fill="#c2666d"/><rect x="141.3" y="1199.3" width="21.7" height="3.0" fill="#bd5860"/><rect x="141.3" y="1202.1" width="21.7" height="4.4" fill="#bc575f"/><rect x="141.3" y="1206.3" width="21.7" height="3.0" fill="#c56c72"/><rect x="141.3" y="1209.1" width="21.7" height="1.6" fill="#c2656b"/><rect x="141.3" y="1210.5" width="21.7" height="1.6" fill="#c1636a"/><rect x="141.3" y="1211.9" width="21.7" height="1.6" fill="#c46b71"/><rect x="141.3" y="1213.3" width="21.7" height="1.6" fill="#c2646b"/><rect x="141.3" y="1214.7" width="21.7" height="3.9" fill="#c2666c"/><rect x="141.3" y="1218.4" width="21.7" height="1.6" fill="#a81e2c"/><rect x="141.3" y="1219.8" width="21.7" height="1.6" fill="#ab2733"/><rect x="141.3" y="1221.2" width="21.7" height="1.6" fill="#aa2532"/><rect x="141.3" y="1222.6" width="21.7" height="1.6" fill="#ac2a36"/><rect x="141.3" y="1224.0" width="21.7" height="1.6" fill="#a81e2c"/><rect x="141.3" y="1225.4" width="21.7" height="4.4" fill="#ab2734"/><rect x="141.3" y="1229.6" width="21.7" height="1.6" fill="#aa2633"/><rect x="141.3" y="1231.0" width="21.7" height="1.6" fill="#aa2431"/><rect x="141.3" y="1232.4" width="21.7" height="1.6" fill="#ac2936"/><rect x="141.3" y="1233.8" width="21.7" height="1.6" fill="#ac2936"/><rect x="141.3" y="1235.2" width="21.7" height="4.4" fill="#ab2835"/><rect x="141.3" y="1239.4" width="21.7" height="1.6" fill="#ad2d39"/><rect x="141.3" y="1240.8" width="21.7" height="4.4" fill="#ab2633"/><rect x="141.3" y="1245.0" width="21.7" height="4.4" fill="#ac2b37"/><rect x="141.3" y="1249.2" width="21.7" height="1.6" fill="#ad2d39"/><rect x="141.3" y="1250.6" width="21.7" height="4.4" fill="#a92230"/><rect x="141.3" y="1254.8" width="21.7" height="3.0" fill="#aa2532"/><rect x="141.3" y="1257.6" width="21.7" height="1.6" fill="#ad2c39"/><rect x="141.3" y="1259.0" width="21.7" height="1.6" fill="#ac2c38"/><rect x="141.3" y="1260.4" width="21.7" height="3.0" fill="#ad2e3a"/><rect x="141.3" y="1263.2" width="21.7" height="1.6" fill="#ac2b38"/><rect x="141.3" y="1264.6" width="21.7" height="3.0" fill="#aa2331"/><rect x="141.3" y="1267.4" width="21.7" height="3.0" fill="#ae2e3a"/><rect x="141.3" y="1270.2" width="21.7" height="1.6" fill="#ad2c38"/><rect x="141.3" y="1271.6" width="21.7" height="3.0" fill="#af313d"/><rect x="141.3" y="1274.4" width="21.7" height="1.6" fill="#ac2a37"/><rect x="141.3" y="1275.8" width="21.7" height="1.6" fill="#ad2e3a"/><rect x="141.3" y="1277.2" width="21.7" height="1.6" fill="#ae2e3a"/><rect x="141.3" y="1278.6" width="21.7" height="1.6" fill="#ab2834"/><rect x="141.3" y="1280.0" width="21.7" height="4.4" fill="#af323e"/><rect x="141.3" y="1284.2" width="21.7" height="1.6" fill="#af323e"/><rect x="141.3" y="1285.6" width="21.7" height="3.0" fill="#ab2935"/><rect x="141.3" y="1288.4" width="21.7" height="1.6" fill="#ad2d39"/><rect x="141.3" y="1289.8" width="21.7" height="4.0" fill="#ae2f3b"/><rect x="141.3" y="1293.6" width="21.7" height="1.6" fill="#c06168"/><rect x="141.3" y="1295.0" width="21.7" height="4.4" fill="#cf888c"/><rect x="141.3" y="1299.2" width="21.7" height="1.6" fill="#c77479"/><rect x="141.3" y="1300.6" width="21.7" height="4.4" fill="#c9797e"/><rect x="141.3" y="1304.8" width="21.7" height="1.6" fill="#c46c72"/><rect x="141.3" y="1306.2" width="21.7" height="3.0" fill="#c46a70"/><rect x="141.3" y="1309.0" width="21.7" height="1.6" fill="#cc7f83"/><rect x="141.3" y="1310.4" width="21.7" height="3.0" fill="#bf5e66"/><rect x="141.3" y="1313.2" width="21.7" height="4.4" fill="#cf888c"/><rect x="141.3" y="1317.4" width="21.7" height="1.6" fill="#c66f75"/></g>
<g shape-rendering="crispEdges"><rect x="163" y="1047.8" width="21.6" height="3.0" fill="#e4bdbe"/><rect x="163" y="1050.6" width="21.6" height="3.0" fill="#e9c8c9"/><rect x="163" y="1053.4" width="21.6" height="1.6" fill="#e9c8c9"/><rect x="163" y="1054.8" width="21.6" height="1.6" fill="#e7c4c5"/><rect x="163" y="1056.2" width="21.6" height="4.4" fill="#e3bbbc"/><rect x="163" y="1060.4" width="21.6" height="1.6" fill="#e3bbbc"/><rect x="163" y="1061.8" width="21.6" height="1.6" fill="#e2b7b9"/><rect x="163" y="1063.2" width="21.6" height="4.4" fill="#dfb0b2"/><rect x="163" y="1067.4" width="21.6" height="3.0" fill="#deaeb0"/><rect x="163" y="1070.2" width="21.6" height="4.4" fill="#e2b8ba"/><rect x="163" y="1074.4" width="21.6" height="3.0" fill="#e3bbbc"/><rect x="163" y="1077.2" width="21.6" height="1.1" fill="#e1b5b6"/><rect x="163" y="1078.1" width="21.6" height="1.6" fill="#be5c63"/><rect x="163" y="1079.5" width="21.6" height="4.4" fill="#c2666d"/><rect x="163" y="1083.7" width="21.6" height="1.6" fill="#c77378"/><rect x="163" y="1085.1" width="21.6" height="1.6" fill="#c56f74"/><rect x="163" y="1086.5" width="21.6" height="3.0" fill="#c56d73"/><rect x="163" y="1089.3" width="21.6" height="1.6" fill="#c56d73"/><rect x="163" y="1090.7" width="21.6" height="3.0" fill="#c06067"/><rect x="163" y="1093.5" width="21.6" height="1.6" fill="#c56d73"/><rect x="163" y="1094.9" width="21.6" height="1.6" fill="#c56d73"/><rect x="163" y="1096.3" width="21.6" height="1.6" fill="#c67277"/><rect x="163" y="1097.7" width="21.6" height="1.6" fill="#c1636a"/><rect x="163" y="1099.1" width="21.6" height="0.9" fill="#c56e74"/><rect x="163" y="1099.8" width="21.6" height="1.6" fill="#b4404a"/><rect x="163" y="1101.2" width="21.6" height="1.6" fill="#b6444e"/><rect x="163" y="1102.6" width="21.6" height="1.6" fill="#b84a53"/><rect x="163" y="1104.0" width="21.6" height="4.4" fill="#b6454e"/><rect x="163" y="1108.2" width="21.6" height="3.0" fill="#b5414c"/><rect x="163" y="1111.0" width="21.6" height="3.0" fill="#b6444e"/><rect x="163" y="1113.8" width="21.6" height="3.0" fill="#ab2834"/><rect x="163" y="1116.6" width="21.6" height="2.0" fill="#b03540"/><rect x="163" y="1118.4" width="21.6" height="1.6" fill="#aa2633"/><rect x="163" y="1119.8" width="21.6" height="1.6" fill="#ac2a36"/><rect x="163" y="1121.2" width="21.6" height="1.6" fill="#ac2a36"/><rect x="163" y="1122.6" width="21.6" height="3.0" fill="#ac2b37"/><rect x="163" y="1125.4" width="21.6" height="1.6" fill="#ad2c38"/><rect x="163" y="1126.8" width="21.6" height="4.4" fill="#aa2532"/><rect x="163" y="1131.0" width="21.6" height="1.6" fill="#a8202d"/><rect x="163" y="1132.4" width="21.6" height="3.0" fill="#aa2531"/><rect x="163" y="1135.2" width="21.6" height="1.6" fill="#ab2734"/><rect x="163" y="1136.6" width="21.6" height="4.4" fill="#ac2a37"/><rect x="163" y="1140.8" width="21.6" height="1.6" fill="#aa2532"/><rect x="163" y="1142.2" width="21.6" height="1.6" fill="#ab2734"/><rect x="163" y="1143.6" width="21.6" height="1.6" fill="#ae303c"/><rect x="163" y="1145.0" width="21.6" height="1.6" fill="#ab2633"/><rect x="163" y="1146.4" width="21.6" height="3.0" fill="#aa2331"/><rect x="163" y="1149.2" width="21.6" height="1.6" fill="#ac2b38"/><rect x="163" y="1150.6" width="21.6" height="1.6" fill="#a92330"/><rect x="163" y="1152.0" width="21.6" height="4.4" fill="#ab2734"/><rect x="163" y="1156.2" width="21.6" height="1.6" fill="#ab2935"/><rect x="163" y="1157.6" width="21.6" height="3.0" fill="#ab2734"/><rect x="163" y="1160.4" width="21.6" height="1.6" fill="#a61a28"/><rect x="163" y="1161.8" width="21.6" height="1.6" fill="#a81e2c"/><rect x="163" y="1163.2" width="21.6" height="1.6" fill="#aa2431"/><rect x="163" y="1164.6" width="21.6" height="1.6" fill="#ac2936"/><rect x="163" y="1166.0" width="21.6" height="4.1" fill="#ad2c39"/><rect x="163" y="1169.9" width="21.6" height="4.4" fill="#b94e57"/><rect x="163" y="1174.1" width="21.6" height="1.6" fill="#b94e57"/><rect x="163" y="1175.5" width="21.6" height="3.0" fill="#bf5e66"/><rect x="163" y="1178.3" width="21.6" height="4.4" fill="#ad2d39"/><rect x="163" y="1182.5" width="21.6" height="1.6" fill="#c05f66"/><rect x="163" y="1183.9" width="21.6" height="1.6" fill="#b84953"/><rect x="163" y="1185.3" width="21.6" height="3.0" fill="#b6444e"/><rect x="163" y="1188.1" width="21.6" height="4.4" fill="#b74952"/><rect x="163" y="1192.3" width="21.6" height="1.6" fill="#b5424c"/><rect x="163" y="1193.7" width="21.6" height="4.4" fill="#b6454f"/><rect x="163" y="1197.9" width="21.6" height="4.4" fill="#b4414b"/><rect x="163" y="1202.1" width="21.6" height="1.6" fill="#b6454f"/><rect x="163" y="1203.5" width="21.6" height="1.6" fill="#b23944"/><rect x="163" y="1204.9" width="21.6" height="1.6" fill="#b74751"/><rect x="163" y="1206.3" width="21.6" height="3.0" fill="#ba5159"/><rect x="163" y="1209.1" width="21.6" height="1.6" fill="#b03540"/><rect x="163" y="1210.5" width="21.6" height="4.4" fill="#b23b46"/><rect x="163" y="1214.7" width="21.6" height="1.6" fill="#b13742"/><rect x="163" y="1216.1" width="21.6" height="1.6" fill="#b74751"/><rect x="163" y="1217.5" width="21.6" height="1.1" fill="#b94d57"/><rect x="163" y="1218.4" width="21.6" height="1.6" fill="#deafb1"/><rect x="163" y="1219.8" width="21.6" height="1.6" fill="#e2b8ba"/><rect x="163" y="1221.2" width="21.6" height="4.4" fill="#e4bebf"/><rect x="163" y="1225.4" width="21.6" height="1.6" fill="#e4bcbe"/><rect x="163" y="1226.8" width="21.6" height="1.6" fill="#dfb2b3"/><rect x="163" y="1228.2" width="21.6" height="3.0" fill="#e6c3c4"/><rect x="163" y="1231.0" width="21.6" height="1.6" fill="#e3bbbd"/><rect x="163" y="1232.4" width="21.6" height="1.6" fill="#eacbcc"/><rect x="163" y="1233.8" width="21.6" height="1.6" fill="#e6c1c2"/><rect x="163" y="1235.2" width="21.6" height="1.6" fill="#ddabad"/><rect x="163" y="1236.6" width="21.6" height="3.0" fill="#ddadae"/><rect x="163" y="1239.4" width="21.6" height="4.4" fill="#dfb1b2"/><rect x="163" y="1243.6" width="21.6" height="1.6" fill="#edd3d3"/><rect x="163" y="1245.0" width="21.6" height="1.6" fill="#e8c7c8"/><rect x="163" y="1246.4" width="21.6" height="1.6" fill="#e7c3c4"/><rect x="163" y="1247.8" width="21.6" height="3.0" fill="#e8c7c8"/><rect x="163" y="1250.6" width="21.6" height="1.6" fill="#e5c0c1"/><rect x="163" y="1252.0" width="21.6" height="1.6" fill="#e8c6c8"/><rect x="163" y="1253.4" width="21.6" height="1.6" fill="#e3babb"/><rect x="163" y="1254.8" width="21.6" height="4.4" fill="#e7c5c7"/><rect x="163" y="1259.0" width="21.6" height="4.4" fill="#ecd2d3"/><rect x="163" y="1263.2" width="21.6" height="0.7" fill="#ebcfd0"/><rect x="163" y="1263.7" width="21.6" height="1.6" fill="#f4e5e5"/><rect x="163" y="1265.1" width="21.6" height="4.4" fill="#f8edee"/><rect x="163" y="1269.3" width="21.6" height="1.6" fill="#f8edee"/><rect x="163" y="1270.7" width="21.6" height="1.6" fill="#fdfafa"/><rect x="163" y="1272.1" width="21.6" height="1.6" fill="#f9eff0"/><rect x="163" y="1273.5" width="21.6" height="1.6" fill="#f4e5e6"/><rect x="163" y="1274.9" width="21.6" height="1.6" fill="#f5e5e6"/><rect x="163" y="1276.3" width="21.6" height="1.6" fill="#f7ecec"/><rect x="163" y="1277.7" width="21.6" height="1.6" fill="#f8eeee"/><rect x="163" y="1279.1" width="21.6" height="4.4" fill="#f9f0f0"/><rect x="163" y="1283.3" width="21.6" height="4.4" fill="#fbf4f4"/><rect x="163" y="1287.5" width="21.6" height="1.6" fill="#f8eeee"/><rect x="163" y="1288.9" width="21.6" height="3.0" fill="#f6e8e9"/><rect x="163" y="1291.7" width="21.6" height="3.0" fill="#f9f1f1"/><rect x="163" y="1294.5" width="21.6" height="3.0" fill="#fdfbfb"/><rect x="163" y="1297.3" width="21.6" height="3.0" fill="#f9f0f0"/><rect x="163" y="1300.1" width="21.6" height="1.6" fill="#fefcfc"/><rect x="163" y="1301.5" width="21.6" height="0.6" fill="#fbf6f7"/></g>
<path d="M117.2,1048.3H119.5M115.5,1048.3H117.2M117.3,1049.4H119.5M115.5,1049.4H117.3M115.5,1048.3V1049.4M111.8,1048.8H115.5M117.4,1050.3H119.5M115.3,1050.3H117.4M117.9,1051.0H119.5M116.9,1051.0H117.9M117.6,1051.8H119.5M116.9,1051.8H117.6M116.9,1051.0V1051.8M115.3,1051.4H116.9M115.3,1050.3V1051.4M111.8,1050.8H115.3M111.8,1048.8V1050.8M108.2,1049.8H111.8M117.2,1052.8H119.5M114.3,1052.8H117.2M117.4,1053.7H119.5M115.9,1053.7H117.4M117.4,1054.6H119.5M115.9,1054.6H117.4M115.9,1053.7V1054.6M114.3,1054.2H115.9M114.3,1052.8V1054.2M108.2,1053.5H114.3M108.2,1049.8V1053.5M96.1,1051.7H108.2M117.4,1055.7H119.5M116.2,1055.7H117.4M117.1,1056.9H119.5M116.2,1056.9H117.1M116.2,1055.7V1056.9M114.8,1056.3H116.2M118.0,1057.7H119.5M116.6,1057.7H118.0M117.4,1058.5H119.5M116.6,1058.5H117.4M116.6,1057.7V1058.5M114.8,1058.1H116.6M114.8,1056.3V1058.1M111.8,1057.2H114.8M118.0,1059.4H119.5M116.6,1059.4H118.0M117.4,1060.2H119.5M116.6,1060.2H117.4M116.6,1059.4V1060.2M114.5,1059.8H116.6M116.5,1061.4H119.5M114.5,1061.4H116.5M114.5,1059.8V1061.4M111.8,1060.6H114.5M111.8,1057.2V1060.6M105.7,1058.9H111.8M117.3,1062.7H119.5M115.2,1062.7H117.3M117.2,1063.8H119.5M115.2,1063.8H117.2M115.2,1062.7V1063.8M112.7,1063.2H115.2M117.6,1064.8H119.5M116.0,1064.8H117.6M117.7,1065.6H119.5M116.0,1065.6H117.7M116.0,1064.8V1065.6M112.7,1065.2H116.0M112.7,1063.2V1065.2M105.7,1064.2H112.7M105.7,1058.9V1064.2M96.1,1061.5H105.7M96.1,1051.7V1061.5M80.1,1056.6H96.1M117.3,1066.4H119.5M115.4,1066.4H117.3M117.0,1067.5H119.5M115.4,1067.5H117.0M115.4,1066.4V1067.5M112.5,1067.0H115.4M117.4,1068.6H119.5M115.6,1068.6H117.4M117.7,1069.6H119.5M115.6,1069.6H117.7M115.6,1068.6V1069.6M112.5,1069.1H115.6M112.5,1067.0V1069.1M109.3,1068.0H112.5M116.9,1070.5H119.5M114.8,1070.5H116.9M116.7,1071.8H119.5M114.8,1071.8H116.7M114.8,1070.5V1071.8M109.3,1071.2H114.8M109.3,1068.0V1071.2M102.6,1069.6H109.3M117.6,1072.8H119.5M115.8,1072.8H117.6M117.5,1073.7H119.5M115.8,1073.7H117.5M115.8,1072.8V1073.7M114.1,1073.3H115.8M117.0,1074.8H119.5M114.1,1074.8H117.0M114.1,1073.3V1074.8M110.3,1074.0H114.1M117.0,1075.9H119.5M114.3,1075.9H117.0M117.8,1076.8H119.5M116.5,1076.8H117.8M117.6,1077.6H119.5M116.5,1077.6H117.6M116.5,1076.8V1077.6M114.3,1077.2H116.5M114.3,1075.9V1077.2M110.3,1076.6H114.3M110.3,1074.0V1076.6M102.6,1075.3H110.3M102.6,1069.6V1075.3M80.1,1072.4H102.6M80.1,1056.6V1072.4M117.4,1078.5H119.5M116.1,1078.5H117.4M117.6,1079.4H119.5M116.1,1079.4H117.6M116.1,1078.5V1079.4M114.5,1078.9H116.1M116.4,1080.5H119.5M114.5,1080.5H116.4M114.5,1078.9V1080.5M113.1,1079.7H114.5M118.5,1081.8H119.5M117.8,1081.8H118.5M118.6,1082.7H119.5M117.8,1082.7H118.6M117.8,1081.8V1082.7M116.2,1082.2H117.8M117.2,1083.7H119.5M116.2,1083.7H117.2M116.2,1082.2V1083.7M115.4,1083.0H116.2M117.9,1084.8H119.5M116.8,1084.8H117.9M118.0,1086.0H119.5M116.8,1086.0H118.0M116.8,1084.8V1086.0M115.4,1085.4H116.8M115.4,1083.0V1085.4M113.1,1084.2H115.4M113.1,1079.7V1084.2M107.1,1082.0H113.1M116.3,1087.5H119.5M112.9,1087.5H116.3M116.8,1088.8H119.5M115.1,1088.8H116.8M117.1,1090.0H119.5M115.1,1090.0H117.1M115.1,1088.8V1090.0M112.9,1089.4H115.1M112.9,1087.5V1089.4M110.0,1088.4H112.9M117.5,1091.1H119.5M115.7,1091.1H117.5M117.6,1092.2H119.5M115.7,1092.2H117.6M115.7,1091.1V1092.2M112.7,1091.7H115.7M117.7,1093.1H119.5M116.1,1093.1H117.7M117.6,1094.0H119.5M116.1,1094.0H117.6M116.1,1093.1V1094.0M112.7,1093.5H116.1M112.7,1091.7V1093.5M110.0,1092.6H112.7M110.0,1088.4V1092.6M107.1,1090.5H110.0M107.1,1082.0V1090.5M102.3,1086.2H107.1M117.2,1094.8H119.5M115.9,1094.8H117.2M117.7,1095.7H119.5M115.9,1095.7H117.7M115.9,1094.8V1095.7M112.9,1095.3H115.9M117.1,1096.6H119.5M115.5,1096.6H117.1M117.2,1097.6H119.5M115.5,1097.6H117.2M115.5,1096.6V1097.6M112.9,1097.1H115.5M112.9,1095.3V1097.1M106.9,1096.2H112.9M118.0,1098.4H119.5M116.5,1098.4H118.0M117.7,1099.2H119.5M116.5,1099.2H117.7M116.5,1098.4V1099.2M113.6,1098.8H116.5M117.7,1100.1H119.5M116.5,1100.1H117.7M117.5,1100.9H119.5M116.5,1100.9H117.5M116.5,1100.1V1100.9M113.6,1100.5H116.5M113.6,1098.8V1100.5M110.0,1099.6H113.6M116.6,1102.0H119.5M114.1,1102.0H116.6M116.7,1103.4H119.5M114.1,1103.4H116.7M114.1,1102.0V1103.4M110.0,1102.7H114.1M110.0,1099.6V1102.7M106.9,1101.2H110.0M106.9,1096.2V1101.2M102.3,1098.7H106.9M102.3,1086.2V1098.7M94.3,1092.5H102.3M117.8,1104.6H119.5M116.0,1104.6H117.8M117.3,1105.4H119.5M116.0,1105.4H117.3M116.0,1104.6V1105.4M114.7,1105.0H116.0M117.8,1106.2H119.5M116.2,1106.2H117.8M117.3,1107.1H119.5M116.2,1107.1H117.3M116.2,1106.2V1107.1M114.7,1106.6H116.2M114.7,1105.0V1106.6M112.7,1105.8H114.7M117.9,1108.0H119.5M117.6,1108.0H117.9M118.4,1108.9H119.5M117.6,1108.9H118.4M117.6,1108.0V1108.9M117.1,1108.5H117.6M117.8,1109.7H119.5M117.1,1109.7H117.8M117.1,1108.5V1109.7M115.8,1109.1H117.1M116.9,1111.0H119.5M115.8,1111.0H116.9M115.8,1109.1V1111.0M112.7,1110.0H115.8M112.7,1105.8V1110.0M107.6,1107.9H112.7M116.6,1112.4H119.5M114.4,1112.4H116.6M116.5,1113.7H119.5M114.4,1113.7H116.5M114.4,1112.4V1113.7M111.9,1113.1H114.4M116.9,1115.0H119.5M113.9,1115.0H116.9M117.6,1116.1H119.5M116.7,1116.1H117.6M117.2,1117.1H119.5M116.7,1117.1H117.2M116.7,1116.1V1117.1M113.9,1116.6H116.7M113.9,1115.0V1116.6M111.9,1115.8H113.9M111.9,1113.1V1115.8M107.6,1114.4H111.9M107.6,1107.9V1114.4M103.1,1111.2H107.6M117.6,1118.2H119.5M116.5,1118.2H117.6M117.7,1119.2H119.5M116.5,1119.2H117.7M116.5,1118.2V1119.2M115.0,1118.7H116.5M116.7,1120.3H119.5M115.0,1120.3H116.7M115.0,1118.7V1120.3M113.9,1119.5H115.0M116.8,1121.6H119.5M115.6,1121.6H116.8M118.3,1122.7H119.5M117.3,1122.7H118.3M118.3,1123.8H119.5M117.3,1123.8H118.3M117.3,1122.7V1123.8M115.6,1123.2H117.3M115.6,1121.6V1123.2M113.9,1122.4H115.6M113.9,1119.5V1122.4M108.7,1121.0H113.9M118.3,1124.9H119.5M117.8,1124.9H118.3M118.4,1125.9H119.5M117.8,1125.9H118.4M117.8,1124.9V1125.9M117.1,1125.4H117.8M118.3,1126.8H119.5M117.1,1126.8H118.3M117.1,1125.4V1126.8M115.0,1126.1H117.1M117.2,1128.0H119.5M116.0,1128.0H117.2M116.9,1129.2H119.5M116.0,1129.2H116.9M116.0,1128.0V1129.2M115.0,1128.6H116.0M115.0,1126.1V1128.6M113.0,1127.3H115.0M117.5,1130.3H119.5M117.0,1130.3H117.5M117.7,1131.2H119.5M117.0,1131.2H117.7M117.0,1130.3V1131.2M116.3,1130.7H117.0M117.0,1132.4H119.5M116.3,1132.4H117.0M116.3,1130.7V1132.4M113.0,1131.5H116.3M113.0,1127.3V1131.5M108.7,1129.4H113.0M108.7,1121.0V1129.4M103.1,1125.2H108.7M103.1,1111.2V1125.2M94.3,1118.2H103.1M94.3,1092.5V1118.2M72.8,1105.3H94.3M117.2,1133.6H119.5M116.2,1133.6H117.2M117.1,1135.0H119.5M116.2,1135.0H117.1M116.2,1133.6V1135.0M113.2,1134.3H116.2M117.3,1136.2H119.5M116.1,1136.2H117.3M117.8,1137.0H119.5M116.1,1137.0H117.8M116.1,1136.2V1137.0M113.2,1136.6H116.1M113.2,1134.3V1136.6M111.3,1135.5H113.2M116.3,1138.1H119.5M113.4,1138.1H116.3M117.1,1139.5H119.5M116.4,1139.5H117.1M117.2,1140.7H119.5M116.4,1140.7H117.2M116.4,1139.5V1140.7M113.4,1140.1H116.4M113.4,1138.1V1140.1M111.3,1139.1H113.4M111.3,1135.5V1139.1M104.8,1137.3H111.3M118.2,1141.6H119.5M117.4,1141.6H118.2M117.8,1142.5H119.5M117.4,1142.5H117.8M117.4,1141.6V1142.5M116.2,1142.0H117.4M118.0,1143.4H119.5M117.0,1143.4H118.0M117.5,1144.6H119.5M117.0,1144.6H117.5M117.0,1143.4V1144.6M116.2,1144.0H117.0M116.2,1142.0V1144.0M114.2,1143.0H116.2M118.5,1145.8H119.5M117.6,1145.8H118.5M118.0,1146.9H119.5M117.6,1146.9H118.0M117.6,1145.8V1146.9M116.8,1146.3H117.6M118.1,1147.9H119.5M117.7,1147.9H118.1M118.3,1148.8H119.5M117.7,1148.8H118.3M117.7,1147.9V1148.8M116.8,1148.3H117.7M116.8,1146.3V1148.3M114.2,1147.3H116.8M114.2,1143.0V1147.3M112.0,1145.2H114.2M116.9,1149.9H119.5M115.2,1149.9H116.9M117.2,1151.4H119.5M115.2,1151.4H117.2M115.2,1149.9V1151.4M114.2,1150.7H115.2M118.2,1152.8H119.5M117.0,1152.8H118.2M118.2,1153.6H119.5M117.0,1153.6H118.2M117.0,1152.8V1153.6M115.7,1153.2H117.0M117.8,1154.3H119.5M117.2,1154.3H117.8M118.3,1155.3H119.5M117.2,1155.3H118.3M117.2,1154.3V1155.3M115.7,1154.8H117.2M115.7,1153.2V1154.8M114.2,1154.0H115.7M114.2,1150.7V1154.0M112.0,1152.3H114.2M112.0,1145.2V1152.3M104.8,1148.8H112.0M104.8,1137.3V1148.8M92.1,1143.0H104.8M116.9,1156.5H119.5M114.5,1156.5H116.9M116.7,1157.8H119.5M114.5,1157.8H116.7M114.5,1156.5V1157.8M110.9,1157.1H114.5M117.2,1159.0H119.5M115.0,1159.0H117.2M116.5,1160.3H119.5M115.0,1160.3H116.5M115.0,1159.0V1160.3M110.9,1159.7H115.0M110.9,1157.1V1159.7M100.5,1158.4H110.9M117.8,1161.4H119.5M116.0,1161.4H117.8M117.2,1162.3H119.5M116.0,1162.3H117.2M116.0,1161.4V1162.3M111.7,1161.9H116.0M116.8,1163.4H119.5M114.1,1163.4H116.8M117.8,1164.4H119.5M116.4,1164.4H117.8M117.6,1165.2H119.5M116.4,1165.2H117.6M116.4,1164.4V1165.2M114.1,1164.8H116.4M114.1,1163.4V1164.8M111.7,1164.1H114.1M111.7,1161.9V1164.1M108.4,1163.0H111.7M117.5,1166.1H119.5M115.5,1166.1H117.5M117.0,1167.1H119.5M115.5,1167.1H117.0M115.5,1166.1V1167.1M112.2,1166.6H115.5M116.5,1168.3H119.5M115.1,1168.3H116.5M117.5,1169.5H119.5M115.1,1169.5H117.5M115.1,1168.3V1169.5M112.2,1168.9H115.1M112.2,1166.6V1168.9M108.4,1167.8H112.2M108.4,1163.0V1167.8M100.5,1165.4H108.4M100.5,1158.4V1165.4M92.1,1161.9H100.5M92.1,1143.0V1161.9M72.8,1152.5H92.1M72.8,1105.3V1152.5M117.4,1170.3H119.5M116.1,1170.3H117.4M117.6,1171.2H119.5M116.1,1171.2H117.6M116.1,1170.3V1171.2M114.1,1170.7H116.1M116.4,1172.3H119.5M114.1,1172.3H116.4M114.1,1170.7V1172.3M109.5,1171.5H114.1M117.0,1173.6H119.5M115.5,1173.6H117.0M117.4,1174.6H119.5M115.5,1174.6H117.4M115.5,1173.6V1174.6M113.8,1174.1H115.5M116.9,1175.6H119.5M113.8,1175.6H116.9M113.8,1174.1V1175.6M109.5,1174.8H113.8M109.5,1171.5V1174.8M96.6,1173.2H109.5M117.5,1176.6H119.5M115.6,1176.6H117.5M117.0,1177.5H119.5M115.6,1177.5H117.0M115.6,1176.6V1177.5M113.7,1177.0H115.6M116.7,1178.7H119.5M113.7,1178.7H116.7M113.7,1177.0V1178.7M111.7,1177.9H113.7M116.5,1180.0H119.5M114.8,1180.0H116.5M117.2,1181.2H119.5M114.8,1181.2H117.2M114.8,1180.0V1181.2M111.7,1180.6H114.8M111.7,1177.9V1180.6M106.7,1179.3H111.7M116.8,1182.4H119.5M114.2,1182.4H116.8M117.9,1183.3H119.5M116.1,1183.3H117.9M117.2,1184.1H119.5M116.1,1184.1H117.2M116.1,1183.3V1184.1M114.2,1183.7H116.1M114.2,1182.4V1183.7M112.7,1183.0H114.2M116.4,1185.3H119.5M114.4,1185.3H116.4M116.4,1186.8H119.5M114.4,1186.8H116.4M114.4,1185.3V1186.8M112.7,1186.1H114.4M112.7,1183.0V1186.1M106.7,1184.6H112.7M106.7,1179.3V1184.6M96.6,1181.9H106.7M96.6,1173.2V1181.9M77.2,1177.5H96.6M117.0,1188.2H119.5M115.3,1188.2H117.0M117.1,1189.3H119.5M115.3,1189.3H117.1M115.3,1188.2V1189.3M112.1,1188.7H115.3M117.3,1190.4H119.5M115.6,1190.4H117.3M117.4,1191.5H119.5M115.6,1191.5H117.4M115.6,1190.4V1191.5M112.1,1190.9H115.6M112.1,1188.7V1190.9M108.7,1189.8H112.1M117.2,1192.4H119.5M114.6,1192.4H117.2M117.2,1193.4H119.5M116.1,1193.4H117.2M117.9,1194.2H119.5M116.1,1194.2H117.9M116.1,1193.4V1194.2M114.6,1193.8H116.1M114.6,1192.4V1193.8M108.7,1193.1H114.6M108.7,1189.8V1193.1M102.3,1191.5H108.7M117.7,1195.0H119.5M116.2,1195.0H117.7M117.6,1195.9H119.5M116.2,1195.9H117.6M116.2,1195.0V1195.9M114.9,1195.4H116.2M116.8,1196.9H119.5M114.9,1196.9H116.8M114.9,1195.4V1196.9M110.5,1196.1H114.9M117.4,1198.0H119.5M114.7,1198.0H117.4M116.2,1199.2H119.5M114.7,1199.2H116.2M114.7,1198.0V1199.2M110.5,1198.6H114.7M110.5,1196.1V1198.6M102.3,1197.4H110.5M102.3,1191.5V1197.4M92.4,1194.4H102.3M117.1,1200.5H119.5M115.9,1200.5H117.1M117.8,1201.4H119.5M115.9,1201.4H117.8M115.9,1200.5V1201.4M112.0,1201.0H115.9M116.8,1202.3H119.5M114.3,1202.3H116.8M117.6,1203.5H119.5M116.6,1203.5H117.6M117.8,1204.4H119.5M116.6,1204.4H117.8M116.6,1203.5V1204.4M114.3,1203.9H116.6M114.3,1202.3V1203.9M112.0,1203.1H114.3M112.0,1201.0V1203.1M108.9,1202.1H112.0M116.7,1205.4H119.5M114.7,1205.4H116.7M116.8,1206.6H119.5M114.7,1206.6H116.8M114.7,1205.4V1206.6M111.2,1206.0H114.7M116.8,1207.9H119.5M114.3,1207.9H116.8M116.8,1209.3H119.5M114.3,1209.3H116.8M114.3,1207.9V1209.3M111.2,1208.6H114.3M111.2,1206.0V1208.6M108.9,1207.3H111.2M108.9,1202.1V1207.3M101.5,1204.7H108.9M116.2,1210.8H119.5M112.3,1210.8H116.2M117.8,1211.9H119.5M116.4,1211.9H117.8M117.9,1212.7H119.5M116.4,1212.7H117.9M116.4,1211.9V1212.7M114.6,1212.3H116.4M117.4,1213.6H119.5M114.6,1213.6H117.4M114.6,1212.3V1213.6M112.3,1213.0H114.6M112.3,1210.8V1213.0M106.8,1211.9H112.3M116.7,1214.7H119.5M115.4,1214.7H116.7M117.6,1215.8H119.5M115.4,1215.8H117.6M115.4,1214.7V1215.8M112.2,1215.3H115.4M116.5,1216.9H119.5M115.1,1216.9H116.5M117.5,1218.0H119.5M115.1,1218.0H117.5M115.1,1216.9V1218.0M112.2,1217.4H115.1M112.2,1215.3V1217.4M106.8,1216.3H112.2M106.8,1211.9V1216.3M101.5,1214.1H106.8M101.5,1204.7V1214.1M92.4,1209.4H101.5M92.4,1194.4V1209.4M77.2,1201.9H92.4M77.2,1177.5V1201.9M117.3,1218.9H119.5M116.0,1218.9H117.3M117.8,1219.7H119.5M116.0,1219.7H117.8M116.0,1218.9V1219.7M113.8,1219.3H116.0M117.2,1220.6H119.5M116.1,1220.6H117.2M117.8,1221.5H119.5M116.8,1221.5H117.8M118.0,1222.3H119.5M116.8,1222.3H118.0M116.8,1221.5V1222.3M116.1,1221.9H116.8M116.1,1220.6V1221.9M113.8,1221.2H116.1M113.8,1219.3V1221.2M109.7,1220.3H113.8M117.3,1223.2H119.5M115.8,1223.2H117.3M117.5,1224.1H119.5M115.8,1224.1H117.5M115.8,1223.2V1224.1M113.3,1223.6H115.8M117.2,1225.0H119.5M114.7,1225.0H117.2M117.2,1226.0H119.5M116.0,1226.0H117.2M117.7,1226.8H119.5M116.0,1226.8H117.7M116.0,1226.0V1226.8M114.7,1226.4H116.0M114.7,1225.0V1226.4M113.3,1225.7H114.7M113.3,1223.6V1225.7M109.7,1224.7H113.3M109.7,1220.3V1224.7M102.6,1222.5H109.7M117.2,1227.7H119.5M114.9,1227.7H117.2M116.8,1228.9H119.5M114.9,1228.9H116.8M114.9,1227.7V1228.9M113.5,1228.3H114.9M116.3,1230.3H119.5M113.5,1230.3H116.3M113.5,1228.3V1230.3M111.2,1229.3H113.5M116.9,1231.7H119.5M115.0,1231.7H116.9M117.1,1232.8H119.5M115.0,1232.8H117.1M115.0,1231.7V1232.8M111.2,1232.3H115.0M111.2,1229.3V1232.3M107.0,1230.8H111.2M117.4,1233.9H119.5M116.0,1233.9H117.4M117.7,1234.8H119.5M116.0,1234.8H117.7M116.0,1233.9V1234.8M112.8,1234.4H116.0M117.6,1235.8H119.5M116.6,1235.8H117.6M117.8,1236.8H119.5M116.6,1236.8H117.8M116.6,1235.8V1236.8M114.7,1236.3H116.6M116.6,1237.9H119.5M114.7,1237.9H116.6M114.7,1236.3V1237.9M112.8,1237.1H114.7M112.8,1234.4V1237.1M107.0,1235.7H112.8M107.0,1230.8V1235.7M102.6,1233.3H107.0M102.6,1222.5V1233.3M93.0,1227.9H102.6M117.3,1239.1H119.5M116.3,1239.1H117.3M117.4,1240.0H119.5M116.3,1240.0H117.4M116.3,1239.1V1240.0M113.6,1239.5H116.3M116.6,1241.1H119.5M113.6,1241.1H116.6M113.6,1239.5V1241.1M110.0,1240.3H113.6M116.7,1242.5H119.5M114.1,1242.5H116.7M117.9,1243.5H119.5M116.5,1243.5H117.9M117.7,1244.5H119.5M116.5,1244.5H117.7M116.5,1243.5V1244.5M114.1,1244.0H116.5M114.1,1242.5V1244.0M110.0,1243.2H114.1M110.0,1240.3V1243.2M102.6,1241.8H110.0M117.0,1245.6H119.5M114.5,1245.6H117.0M116.5,1246.9H119.5M114.5,1246.9H116.5M114.5,1245.6V1246.9M110.3,1246.3H114.5M116.3,1248.4H119.5M113.9,1248.4H116.3M116.4,1249.9H119.5M113.9,1249.9H116.4M113.9,1248.4V1249.9M110.3,1249.2H113.9M110.3,1246.3V1249.2M102.6,1247.7H110.3M102.6,1241.8V1247.7M93.0,1244.8H102.6M93.0,1227.9V1244.8M80.0,1236.3H93.0M117.5,1251.1H119.5M115.5,1251.1H117.5M116.9,1252.1H119.5M115.5,1252.1H116.9M115.5,1251.1V1252.1M112.3,1251.6H115.5M117.6,1253.1H119.5M115.2,1253.1H117.6M117.1,1254.2H119.5M115.2,1254.2H117.1M115.2,1253.1V1254.2M112.3,1253.6H115.2M112.3,1251.6V1253.6M106.1,1252.6H112.3M117.0,1255.4H119.5M115.7,1255.4H117.0M117.7,1256.3H119.5M115.7,1256.3H117.7M115.7,1255.4V1256.3M111.8,1255.9H115.7M117.1,1257.2H119.5M114.2,1257.2H117.1M117.8,1258.3H119.5M116.5,1258.3H117.8M117.6,1259.3H119.5M116.5,1259.3H117.6M116.5,1258.3V1259.3M114.2,1258.8H116.5M114.2,1257.2V1258.8M111.8,1258.0H114.2M111.8,1255.9V1258.0M106.1,1256.9H111.8M106.1,1252.6V1256.9M95.4,1254.8H106.1M117.6,1260.1H119.5M115.6,1260.1H117.6M116.9,1261.1H119.5M115.6,1261.1H116.9M115.6,1260.1V1261.1M111.8,1260.6H115.6M116.8,1262.3H119.5M115.6,1262.3H116.8M117.4,1263.5H119.5M116.4,1263.5H117.4M117.4,1264.6H119.5M116.4,1264.6H117.4M116.4,1263.5V1264.6M115.6,1264.0H116.4M115.6,1262.3V1264.0M111.8,1263.2H115.6M111.8,1260.6V1263.2M105.4,1261.9H111.8M117.7,1265.6H119.5M115.7,1265.6H117.7M117.5,1266.5H119.5M115.7,1266.5H117.5M115.7,1265.6V1266.5M112.2,1266.1H115.7M116.6,1267.8H119.5M114.9,1267.8H116.6M117.1,1268.9H119.5M114.9,1268.9H117.1M114.9,1267.8V1268.9M112.2,1268.4H114.9M112.2,1266.1V1268.4M105.4,1267.2H112.2M105.4,1261.9V1267.2M95.4,1264.5H105.4M95.4,1254.8V1264.5M80.0,1259.7H95.4M80.0,1236.3V1259.7M68.5,1248.0H80.0M117.7,1270.1H119.5M116.4,1270.1H117.7M117.6,1271.1H119.5M116.4,1271.1H117.6M116.4,1270.1V1271.1M114.4,1270.6H116.4M117.3,1272.0H119.5M116.4,1272.0H117.3M117.2,1273.1H119.5M116.4,1273.1H117.2M116.4,1272.0V1273.1M114.4,1272.6H116.4M114.4,1270.6V1272.6M109.8,1271.6H114.4M116.5,1274.6H119.5M114.3,1274.6H116.5M116.8,1275.9H119.5M114.3,1275.9H116.8M114.3,1274.6V1275.9M109.8,1275.3H114.3M109.8,1271.6V1275.3M103.3,1273.4H109.8M117.4,1277.0H119.5M115.2,1277.0H117.4M116.5,1278.2H119.5M115.2,1278.2H116.5M115.2,1277.0V1278.2M111.7,1277.6H115.2M117.4,1279.3H119.5M115.1,1279.3H117.4M116.6,1280.4H119.5M115.1,1280.4H116.6M115.1,1279.3V1280.4M111.7,1279.9H115.1M111.7,1277.6V1279.9M103.3,1278.7H111.7M103.3,1273.4V1278.7M91.3,1276.1H103.3M117.2,1281.6H119.5M116.0,1281.6H117.2M117.8,1282.5H119.5M116.0,1282.5H117.8M116.0,1281.6V1282.5M111.4,1282.1H116.0M116.9,1283.4H119.5M115.3,1283.4H116.9M117.7,1284.4H119.5M116.1,1284.4H117.7M117.5,1285.4H119.5M116.1,1285.4H117.5M116.1,1284.4V1285.4M115.3,1284.9H116.1M115.3,1283.4V1284.9M111.4,1284.1H115.3M111.4,1282.1V1284.1M102.6,1283.1H111.4M117.3,1286.4H119.5M115.5,1286.4H117.3M116.8,1287.6H119.5M115.5,1287.6H116.8M115.5,1286.4V1287.6M113.1,1287.0H115.5M116.5,1289.0H119.5M113.1,1289.0H116.5M113.1,1287.0V1289.0M108.0,1288.0H113.1M116.6,1290.3H119.5M115.1,1290.3H116.6M117.4,1291.4H119.5M115.1,1291.4H117.4M115.1,1290.3V1291.4M112.9,1290.9H115.1M116.3,1292.7H119.5M112.9,1292.7H116.3M112.9,1290.9V1292.7M108.0,1291.8H112.9M108.0,1288.0V1291.8M102.6,1289.9H108.0M102.6,1283.1V1289.9M91.3,1286.5H102.6M91.3,1276.1V1286.5M78.6,1281.3H91.3M117.6,1293.8H119.5M115.8,1293.8H117.6M117.2,1294.7H119.5M115.8,1294.7H117.2M115.8,1293.8V1294.7M112.5,1294.3H115.8M117.0,1295.8H119.5M115.5,1295.8H117.0M117.1,1296.9H119.5M115.5,1296.9H117.1M115.5,1295.8V1296.9M112.5,1296.3H115.5M112.5,1294.3V1296.3M104.3,1295.3H112.5M117.5,1297.8H119.5M115.4,1297.8H117.5M116.8,1298.8H119.5M115.4,1298.8H116.8M115.4,1297.8V1298.8M113.1,1298.3H115.4M117.7,1299.9H119.5M115.4,1299.9H117.7M116.7,1300.9H119.5M115.4,1300.9H116.7M115.4,1299.9V1300.9M113.1,1300.4H115.4M113.1,1298.3V1300.4M109.1,1299.3H113.1M117.1,1302.0H119.5M114.8,1302.0H117.1M116.5,1303.3H119.5M114.8,1303.3H116.5M114.8,1302.0V1303.3M109.1,1302.7H114.8M109.1,1299.3V1302.7M104.3,1301.0H109.1M104.3,1295.3V1301.0M88.9,1298.1H104.3M117.3,1304.4H119.5M115.6,1304.4H117.3M117.4,1305.4H119.5M115.6,1305.4H117.4M115.6,1304.4V1305.4M112.4,1304.9H115.6M117.1,1306.4H119.5M115.2,1306.4H117.1M116.7,1307.6H119.5M115.2,1307.6H116.7M115.2,1306.4V1307.6M112.4,1307.0H115.2M112.4,1304.9V1307.0M105.8,1306.0H112.4M116.6,1308.9H119.5M113.8,1308.9H116.6M117.4,1310.0H119.5M116.3,1310.0H117.4M117.4,1310.9H119.5M116.3,1310.9H117.4M116.3,1310.0V1310.9M113.8,1310.4H116.3M113.8,1308.9V1310.4M111.0,1309.7H113.8M117.0,1311.9H119.5M115.5,1311.9H117.0M117.6,1312.9H119.5M115.5,1312.9H117.6M115.5,1311.9V1312.9M111.0,1312.4H115.5M111.0,1309.7V1312.4M105.8,1311.0H111.0M105.8,1306.0V1311.0M100.2,1308.5H105.8M116.4,1314.0H119.5M114.0,1314.0H116.4M116.2,1315.5H119.5M114.0,1315.5H116.2M114.0,1314.0V1315.5M110.5,1314.8H114.0M116.3,1317.1H119.5M114.7,1317.1H116.3M117.3,1318.3H119.5M114.7,1318.3H117.3M114.7,1317.1V1318.3M110.5,1317.7H114.7M110.5,1314.8V1317.7M100.2,1316.2H110.5M100.2,1308.5V1316.2M88.9,1312.4H100.2M88.9,1298.1V1312.4M78.6,1305.3H88.9M78.6,1281.3V1305.3M68.5,1293.3H78.6M68.5,1248.0V1293.3M58.3,1064.5H80.1M58.3,1128.9H72.8M58.3,1189.7H77.2M58.3,1270.6H68.5M58.3,1064.5V1270.6" fill="none" stroke="#1a1a1a" stroke-width="0.85"/>
<rect x="34.4" y="1124" width="11.6" height="5.07" fill="#a61a28" shape-rendering="crispEdges"/>
<rect x="34.4" y="1128.77" width="11.6" height="5.07" fill="#aa2431" shape-rendering="crispEdges"/>
<rect x="34.4" y="1133.53" width="11.6" height="5.07" fill="#ad2e3a" shape-rendering="crispEdges"/>
<rect x="34.4" y="1138.3" width="11.6" height="5.07" fill="#b13843" shape-rendering="crispEdges"/>
<rect x="34.4" y="1143.06" width="11.6" height="5.07" fill="#b5424c" shape-rendering="crispEdges"/>
<rect x="34.4" y="1147.83" width="11.6" height="5.07" fill="#b84c55" shape-rendering="crispEdges"/>
<rect x="34.4" y="1152.59" width="11.6" height="5.07" fill="#bc565e" shape-rendering="crispEdges"/>
<rect x="34.4" y="1157.36" width="11.6" height="5.07" fill="#c05f67" shape-rendering="crispEdges"/>
<rect x="34.4" y="1162.12" width="11.6" height="5.07" fill="#c36970" shape-rendering="crispEdges"/>
<rect x="34.4" y="1166.89" width="11.6" height="5.07" fill="#c77379" shape-rendering="crispEdges"/>
<rect x="34.4" y="1171.65" width="11.6" height="5.07" fill="#cb7d82" shape-rendering="crispEdges"/>
<rect x="34.4" y="1176.42" width="11.6" height="5.07" fill="#ce878b" shape-rendering="crispEdges"/>
<rect x="34.4" y="1181.18" width="11.6" height="5.07" fill="#d29194" shape-rendering="crispEdges"/>
<rect x="34.4" y="1185.95" width="11.6" height="5.07" fill="#d69a9c" shape-rendering="crispEdges"/>
<rect x="34.4" y="1190.72" width="11.6" height="5.07" fill="#d9a3a4" shape-rendering="crispEdges"/>
<rect x="34.4" y="1195.48" width="11.6" height="5.07" fill="#ddabad" shape-rendering="crispEdges"/>
<rect x="34.4" y="1200.25" width="11.6" height="5.07" fill="#e0b3b5" shape-rendering="crispEdges"/>
<rect x="34.4" y="1205.01" width="11.6" height="5.07" fill="#e3bcbd" shape-rendering="crispEdges"/>
<rect x="34.4" y="1209.78" width="11.6" height="5.07" fill="#e7c4c5" shape-rendering="crispEdges"/>
<rect x="34.4" y="1214.54" width="11.6" height="5.07" fill="#eacdce" shape-rendering="crispEdges"/>
<rect x="34.4" y="1219.31" width="11.6" height="5.07" fill="#eed5d6" shape-rendering="crispEdges"/>
<rect x="34.4" y="1224.07" width="11.6" height="5.07" fill="#f1ddde" shape-rendering="crispEdges"/>
<rect x="34.4" y="1228.84" width="11.6" height="5.07" fill="#f5e6e6" shape-rendering="crispEdges"/>
<rect x="34.4" y="1233.6" width="11.6" height="5.07" fill="#f8eeef" shape-rendering="crispEdges"/>
<rect x="34.4" y="1238.37" width="11.6" height="5.07" fill="#fcf7f7" shape-rendering="crispEdges"/>
<rect x="34.4" y="1243.13" width="11.6" height="5.07" fill="#ffffff" shape-rendering="crispEdges"/>
<text x="23.3" y="1101.6" font-size="15.4" fill="#383838" text-anchor="middle">Scaled</text>
<text x="23.3" y="1119.1" font-size="15.4" fill="#383838" text-anchor="middle">TE</text>
<text x="27.1" y="1137.1" font-size="13.4" fill="#333" text-anchor="end">1.5</text>
<text x="27.1" y="1155.5" font-size="13.4" fill="#333" text-anchor="end">1</text>
<text x="27.1" y="1174.2" font-size="13.4" fill="#333" text-anchor="end">0.5</text>
<text x="27.1" y="1193.1" font-size="13.4" fill="#333" text-anchor="end">0</text>
<text x="27.1" y="1212" font-size="13.4" fill="#333" text-anchor="end">−0.5</text>
<text x="27.1" y="1231" font-size="13.4" fill="#333" text-anchor="end">−1</text>
<text x="27.1" y="1249.9" font-size="13.4" fill="#333" text-anchor="end">−1.5</text>
<text x="52.4" y="1333.2" font-size="12.8" fill="#383838"><tspan font-style="italic">n</tspan> = 8,238</text>
<use href="#human" x="124.5" y="1322" width="6" height="13.5"/>
<use href="#chimpR" x="141.5" y="1323.5" width="13.5" height="11.5"/>
<use href="#rhesusR" x="165" y="1322" width="11.5" height="13.5"/>
<path d="M202.7,1032.8 L779,1032.8 L779,1368.3 L202.7,1368.3 L184,1318.7 L184,1046.7 Z" fill="#EFEFEF"/>
<g shape-rendering="crispEdges"><rect x="228.5" y="1070.7" width="52.3" height="1.6" fill="#ae303c"/><rect x="228.5" y="1072.0" width="52.3" height="1.6" fill="#ae2f3b"/><rect x="228.5" y="1073.3" width="52.3" height="2.9" fill="#af333e"/><rect x="228.5" y="1075.9" width="52.3" height="1.6" fill="#b33c47"/><rect x="228.5" y="1077.2" width="52.3" height="1.6" fill="#b13742"/><rect x="228.5" y="1078.5" width="52.3" height="1.6" fill="#ad2d39"/><rect x="228.5" y="1079.8" width="52.3" height="2.9" fill="#b03641"/><rect x="228.5" y="1082.4" width="52.3" height="2.9" fill="#b13843"/><rect x="228.5" y="1085.0" width="52.3" height="4.2" fill="#ae313c"/><rect x="228.5" y="1088.9" width="52.3" height="4.2" fill="#b03641"/><rect x="228.5" y="1092.8" width="52.3" height="4.2" fill="#ab2834"/><rect x="228.5" y="1096.7" width="52.3" height="4.2" fill="#b33d48"/><rect x="228.5" y="1100.6" width="52.3" height="1.6" fill="#b33d47"/><rect x="228.5" y="1101.9" width="52.3" height="2.9" fill="#b23944"/><rect x="228.5" y="1104.5" width="52.3" height="1.6" fill="#af323d"/><rect x="228.5" y="1105.8" width="52.3" height="1.6" fill="#b13843"/><rect x="228.5" y="1107.1" width="52.3" height="2.9" fill="#ae313c"/><rect x="228.5" y="1109.7" width="52.3" height="1.6" fill="#b33e49"/><rect x="228.5" y="1111.0" width="52.3" height="2.9" fill="#ac2936"/><rect x="228.5" y="1113.6" width="52.3" height="1.6" fill="#ac2a37"/><rect x="228.5" y="1114.9" width="52.3" height="4.2" fill="#ab2835"/><rect x="228.5" y="1118.8" width="52.3" height="2.9" fill="#b0343f"/><rect x="228.5" y="1121.4" width="52.3" height="4.2" fill="#ae2e3a"/><rect x="228.5" y="1125.3" width="52.3" height="1.6" fill="#ad2c38"/><rect x="228.5" y="1126.6" width="52.3" height="2.9" fill="#b03641"/><rect x="228.5" y="1129.2" width="52.3" height="1.6" fill="#b13944"/><rect x="228.5" y="1130.5" width="52.3" height="4.2" fill="#b13843"/><rect x="228.5" y="1134.4" width="52.3" height="1.6" fill="#af333f"/><rect x="228.5" y="1135.7" width="52.3" height="1.6" fill="#ae313d"/><rect x="228.5" y="1137.0" width="52.3" height="4.2" fill="#af323e"/><rect x="228.5" y="1140.9" width="52.3" height="1.6" fill="#ac2a36"/><rect x="228.5" y="1142.2" width="52.3" height="1.6" fill="#af323d"/><rect x="228.5" y="1143.5" width="52.3" height="2.9" fill="#b23944"/><rect x="228.5" y="1146.1" width="52.3" height="2.9" fill="#b03641"/><rect x="228.5" y="1148.7" width="52.3" height="1.6" fill="#b03641"/><rect x="228.5" y="1150.0" width="52.3" height="1.6" fill="#af323e"/><rect x="228.5" y="1151.3" width="52.3" height="4.2" fill="#af313d"/><rect x="228.5" y="1155.2" width="52.3" height="1.6" fill="#ad2e3a"/><rect x="228.5" y="1156.5" width="52.3" height="2.9" fill="#af313d"/><rect x="228.5" y="1159.1" width="52.3" height="2.9" fill="#af313d"/><rect x="228.5" y="1161.7" width="52.3" height="1.6" fill="#ac2b37"/><rect x="228.5" y="1163.0" width="52.3" height="1.6" fill="#af333e"/><rect x="228.5" y="1164.3" width="52.3" height="2.9" fill="#b13642"/><rect x="228.5" y="1166.9" width="52.3" height="1.6" fill="#af333e"/><rect x="228.5" y="1168.2" width="52.3" height="1.6" fill="#ae303c"/><rect x="228.5" y="1169.5" width="52.3" height="2.9" fill="#af323d"/><rect x="228.5" y="1172.1" width="52.3" height="1.6" fill="#b13844"/><rect x="228.5" y="1173.4" width="52.3" height="2.9" fill="#b03541"/><rect x="228.5" y="1176.0" width="52.3" height="1.6" fill="#ad2c38"/><rect x="228.5" y="1177.3" width="52.3" height="4.2" fill="#ad2c38"/><rect x="228.5" y="1181.2" width="52.3" height="4.2" fill="#b33e48"/><rect x="228.5" y="1185.1" width="52.3" height="1.6" fill="#ad2c38"/><rect x="228.5" y="1186.4" width="52.3" height="1.6" fill="#b33d47"/><rect x="228.5" y="1187.7" width="52.3" height="2.2" fill="#b03540"/></g>
<g shape-rendering="crispEdges"><rect x="280.8" y="1070.7" width="52.8" height="4.2" fill="#c8767b"/><rect x="280.8" y="1074.6" width="52.8" height="1.6" fill="#c67177"/><rect x="280.8" y="1075.9" width="52.8" height="1.6" fill="#c77277"/><rect x="280.8" y="1077.2" width="52.8" height="1.6" fill="#c77278"/><rect x="280.8" y="1078.5" width="52.8" height="2.9" fill="#d18e91"/><rect x="280.8" y="1081.1" width="52.8" height="2.9" fill="#c67076"/><rect x="280.8" y="1083.7" width="52.8" height="0.6" fill="#c05f66"/><rect x="280.8" y="1084.0" width="52.8" height="1.6" fill="#f8efef"/><rect x="280.8" y="1085.3" width="52.8" height="4.2" fill="#f8eded"/><rect x="280.8" y="1089.2" width="52.8" height="2.9" fill="#f8eeee"/><rect x="280.8" y="1091.8" width="52.8" height="2.9" fill="#f3e2e2"/><rect x="280.8" y="1094.4" width="52.8" height="4.2" fill="#f6e9ea"/><rect x="280.8" y="1098.3" width="52.8" height="1.6" fill="#f6e9ea"/><rect x="280.8" y="1099.6" width="52.8" height="1.6" fill="#f4e3e4"/><rect x="280.8" y="1100.9" width="52.8" height="1.6" fill="#f8eeef"/><rect x="280.8" y="1102.2" width="52.8" height="1.6" fill="#f6e9ea"/><rect x="280.8" y="1103.5" width="52.8" height="1.6" fill="#f4e4e4"/><rect x="280.8" y="1104.8" width="52.8" height="2.9" fill="#f6e8e9"/><rect x="280.8" y="1107.4" width="52.8" height="0.9" fill="#f8eded"/><rect x="280.8" y="1108.0" width="52.8" height="1.6" fill="#eacbcc"/><rect x="280.8" y="1109.3" width="52.8" height="4.2" fill="#e9c9ca"/><rect x="280.8" y="1113.2" width="52.8" height="1.6" fill="#e1b6b7"/><rect x="280.8" y="1114.5" width="52.8" height="2.9" fill="#e9cacb"/><rect x="280.8" y="1117.1" width="52.8" height="1.6" fill="#eacbcc"/><rect x="280.8" y="1118.4" width="52.8" height="1.6" fill="#e8c8c9"/><rect x="280.8" y="1119.7" width="52.8" height="2.9" fill="#eed7d7"/><rect x="280.8" y="1122.3" width="52.8" height="1.6" fill="#e9cacb"/><rect x="280.8" y="1123.6" width="52.8" height="2.9" fill="#e3babb"/><rect x="280.8" y="1126.2" width="52.8" height="1.6" fill="#e5bfc1"/><rect x="280.8" y="1127.5" width="52.8" height="2.9" fill="#ebcecf"/><rect x="280.8" y="1130.1" width="52.8" height="2.9" fill="#e0b3b4"/><rect x="280.8" y="1132.7" width="52.8" height="1.6" fill="#e3bcbd"/><rect x="280.8" y="1134.0" width="52.8" height="1.6" fill="#e0b4b5"/><rect x="280.8" y="1135.3" width="52.8" height="1.6" fill="#ebcfd0"/><rect x="280.8" y="1136.6" width="52.8" height="4.2" fill="#eacdce"/><rect x="280.8" y="1140.5" width="52.8" height="1.6" fill="#e5c1c2"/><rect x="280.8" y="1141.8" width="52.8" height="2.9" fill="#e4bebf"/><rect x="280.8" y="1144.4" width="52.8" height="0.9" fill="#e7c3c4"/><rect x="280.8" y="1145.0" width="52.8" height="2.9" fill="#d49698"/><rect x="280.8" y="1147.6" width="52.8" height="1.6" fill="#dfb2b3"/><rect x="280.8" y="1148.9" width="52.8" height="1.6" fill="#e0b3b5"/><rect x="280.8" y="1150.2" width="52.8" height="1.6" fill="#daa4a6"/><rect x="280.8" y="1151.5" width="52.8" height="2.9" fill="#ddabad"/><rect x="280.8" y="1154.1" width="52.8" height="4.2" fill="#e1b5b7"/><rect x="280.8" y="1158.0" width="52.8" height="4.2" fill="#ddabad"/><rect x="280.8" y="1161.9" width="52.8" height="4.2" fill="#e1b5b7"/><rect x="280.8" y="1165.8" width="52.8" height="4.2" fill="#deafb1"/><rect x="280.8" y="1169.7" width="52.8" height="1.6" fill="#deadaf"/><rect x="280.8" y="1171.0" width="52.8" height="1.6" fill="#eacccd"/><rect x="280.8" y="1172.3" width="52.8" height="1.6" fill="#e6c2c3"/><rect x="280.8" y="1173.6" width="52.8" height="2.9" fill="#e0b2b4"/><rect x="280.8" y="1176.2" width="52.8" height="1.6" fill="#e4bdbe"/><rect x="280.8" y="1177.5" width="52.8" height="1.6" fill="#dba7a9"/><rect x="280.8" y="1178.8" width="52.8" height="4.2" fill="#e2b7b9"/><rect x="280.8" y="1182.7" width="52.8" height="1.6" fill="#e7c4c6"/><rect x="280.8" y="1184.0" width="52.8" height="1.6" fill="#e3babc"/><rect x="280.8" y="1185.3" width="52.8" height="4.2" fill="#d49799"/><rect x="280.8" y="1189.2" width="52.8" height="0.7" fill="#e9cacb"/></g>
<g shape-rendering="crispEdges"><rect x="333.6" y="1070.7" width="52.3" height="1.6" fill="#fcf8f8"/><rect x="333.6" y="1072.0" width="52.3" height="4.2" fill="#fffefe"/><rect x="333.6" y="1075.9" width="52.3" height="1.6" fill="#fcf8f8"/><rect x="333.6" y="1077.2" width="52.3" height="1.6" fill="#fefcfc"/><rect x="333.6" y="1078.5" width="52.3" height="1.6" fill="#faf2f3"/><rect x="333.6" y="1079.8" width="52.3" height="1.6" fill="#fbf5f5"/><rect x="333.6" y="1081.1" width="52.3" height="3.2" fill="#fbf5f6"/><rect x="333.6" y="1084.0" width="52.3" height="1.6" fill="#d29194"/><rect x="333.6" y="1085.3" width="52.3" height="4.2" fill="#d69b9d"/><rect x="333.6" y="1089.2" width="52.3" height="1.6" fill="#cc7f84"/><rect x="333.6" y="1090.5" width="52.3" height="1.6" fill="#d79d9e"/><rect x="333.6" y="1091.8" width="52.3" height="4.2" fill="#d79ea0"/><rect x="333.6" y="1095.7" width="52.3" height="1.6" fill="#d49597"/><rect x="333.6" y="1097.0" width="52.3" height="1.6" fill="#d9a2a4"/><rect x="333.6" y="1098.3" width="52.3" height="2.9" fill="#ce8588"/><rect x="333.6" y="1100.9" width="52.3" height="1.6" fill="#d08a8d"/><rect x="333.6" y="1102.2" width="52.3" height="4.2" fill="#d69c9e"/><rect x="333.6" y="1106.1" width="52.3" height="2.9" fill="#ca7a7f"/><rect x="333.6" y="1108.7" width="52.3" height="2.9" fill="#d29193"/><rect x="333.6" y="1111.3" width="52.3" height="1.6" fill="#d79ea0"/><rect x="333.6" y="1112.6" width="52.3" height="1.6" fill="#d69b9d"/><rect x="333.6" y="1113.9" width="52.3" height="2.9" fill="#d79d9f"/><rect x="333.6" y="1116.5" width="52.3" height="1.6" fill="#d29294"/><rect x="333.6" y="1117.8" width="52.3" height="4.2" fill="#daa3a5"/><rect x="333.6" y="1121.7" width="52.3" height="4.2" fill="#dcaaab"/><rect x="333.6" y="1125.6" width="52.3" height="1.6" fill="#d9a2a3"/><rect x="333.6" y="1126.9" width="52.3" height="2.9" fill="#d49698"/><rect x="333.6" y="1129.5" width="52.3" height="4.2" fill="#d5989a"/><rect x="333.6" y="1133.4" width="52.3" height="1.6" fill="#d89fa1"/><rect x="333.6" y="1134.7" width="52.3" height="1.6" fill="#dba7a9"/><rect x="333.6" y="1136.0" width="52.3" height="2.9" fill="#d08c8f"/><rect x="333.6" y="1138.6" width="52.3" height="1.6" fill="#d69a9c"/><rect x="333.6" y="1139.9" width="52.3" height="3.1" fill="#d8a0a2"/><rect x="333.6" y="1142.7" width="52.3" height="2.9" fill="#ebcdce"/><rect x="333.6" y="1145.3" width="52.3" height="2.9" fill="#ebcfcf"/><rect x="333.6" y="1147.9" width="52.3" height="1.6" fill="#eacdce"/><rect x="333.6" y="1149.2" width="52.3" height="1.6" fill="#eacbcc"/><rect x="333.6" y="1150.5" width="52.3" height="1.6" fill="#f4e4e5"/><rect x="333.6" y="1151.8" width="52.3" height="1.6" fill="#ecd2d3"/><rect x="333.6" y="1153.1" width="52.3" height="2.9" fill="#f0dadb"/><rect x="333.6" y="1155.7" width="52.3" height="4.2" fill="#edd3d4"/><rect x="333.6" y="1159.6" width="52.3" height="4.2" fill="#f1dcdc"/><rect x="333.6" y="1163.5" width="52.3" height="4.2" fill="#efd7d8"/><rect x="333.6" y="1167.4" width="52.3" height="1.6" fill="#f0dadb"/><rect x="333.6" y="1168.7" width="52.3" height="2.9" fill="#f1dcdc"/><rect x="333.6" y="1171.3" width="52.3" height="4.2" fill="#edd3d4"/><rect x="333.6" y="1175.2" width="52.3" height="1.6" fill="#edd3d3"/><rect x="333.6" y="1176.5" width="52.3" height="2.9" fill="#edd3d3"/><rect x="333.6" y="1179.1" width="52.3" height="2.9" fill="#f1dedf"/><rect x="333.6" y="1181.7" width="52.3" height="2.9" fill="#eed7d7"/><rect x="333.6" y="1184.3" width="52.3" height="1.6" fill="#f0dadb"/><rect x="333.6" y="1185.6" width="52.3" height="4.2" fill="#f7ebeb"/><rect x="333.6" y="1189.5" width="52.3" height="0.4" fill="#f1dedf"/></g>
<rect x="228.5" y="1070.7" width="52.3" height="118.9" fill="none" stroke="#2a2a2a" stroke-width="1.6"/>
<g shape-rendering="crispEdges"><rect x="228.5" y="1192.8" width="52.3" height="1.6" fill="#fcf8f8"/><rect x="228.5" y="1194.1" width="52.3" height="1.6" fill="#f7eced"/><rect x="228.5" y="1195.4" width="52.3" height="4.2" fill="#f9eff0"/><rect x="228.5" y="1199.3" width="52.3" height="4.2" fill="#f9f0f0"/><rect x="228.5" y="1203.2" width="52.3" height="1.6" fill="#fcf7f8"/><rect x="228.5" y="1204.5" width="52.3" height="2.9" fill="#fdfbfb"/><rect x="228.5" y="1207.1" width="52.3" height="1.6" fill="#faf3f3"/><rect x="228.5" y="1208.4" width="52.3" height="1.6" fill="#faf3f3"/><rect x="228.5" y="1209.7" width="52.3" height="4.2" fill="#ffffff"/><rect x="228.5" y="1213.6" width="52.3" height="4.2" fill="#f7eded"/><rect x="228.5" y="1217.5" width="52.3" height="2.9" fill="#fefdfd"/><rect x="228.5" y="1220.1" width="52.3" height="4.2" fill="#fcf7f7"/><rect x="228.5" y="1224.0" width="52.3" height="2.9" fill="#f9f0f1"/><rect x="228.5" y="1226.6" width="52.3" height="4.2" fill="#f6e9e9"/><rect x="228.5" y="1230.5" width="52.3" height="2.9" fill="#f9f0f1"/><rect x="228.5" y="1233.1" width="52.3" height="2.9" fill="#f9f1f2"/><rect x="228.5" y="1235.7" width="52.3" height="4.2" fill="#f5e8e8"/><rect x="228.5" y="1239.6" width="52.3" height="1.6" fill="#f8efef"/><rect x="228.5" y="1240.9" width="52.3" height="1.6" fill="#f7eded"/><rect x="228.5" y="1242.2" width="52.3" height="1.6" fill="#f9f0f0"/><rect x="228.5" y="1243.5" width="52.3" height="1.6" fill="#fcf7f7"/><rect x="228.5" y="1244.8" width="52.3" height="4.2" fill="#f7ebec"/><rect x="228.5" y="1248.7" width="52.3" height="1.6" fill="#f9eff0"/><rect x="228.5" y="1250.0" width="52.3" height="4.2" fill="#f4e5e5"/><rect x="228.5" y="1253.9" width="52.3" height="1.6" fill="#fbf4f5"/><rect x="228.5" y="1255.2" width="52.3" height="2.9" fill="#f9f0f0"/><rect x="228.5" y="1257.8" width="52.3" height="4.2" fill="#f7eced"/><rect x="228.5" y="1261.7" width="52.3" height="1.6" fill="#f8eded"/><rect x="228.5" y="1263.0" width="52.3" height="4.2" fill="#fbf6f6"/><rect x="228.5" y="1266.9" width="52.3" height="1.6" fill="#f4e5e6"/><rect x="228.5" y="1268.2" width="52.3" height="1.6" fill="#fcf9f9"/><rect x="228.5" y="1269.5" width="52.3" height="2.9" fill="#f9f1f2"/><rect x="228.5" y="1272.1" width="52.3" height="2.9" fill="#f9f1f1"/><rect x="228.5" y="1274.7" width="52.3" height="2.9" fill="#faf2f2"/><rect x="228.5" y="1277.3" width="52.3" height="2.9" fill="#faf2f2"/><rect x="228.5" y="1279.9" width="52.3" height="1.6" fill="#f8eded"/><rect x="228.5" y="1281.2" width="52.3" height="4.2" fill="#fbf5f5"/><rect x="228.5" y="1285.1" width="52.3" height="2.9" fill="#f9f0f0"/><rect x="228.5" y="1287.7" width="52.3" height="4.2" fill="#fdfbfb"/><rect x="228.5" y="1291.6" width="52.3" height="1.6" fill="#f6e8e8"/><rect x="228.5" y="1292.9" width="52.3" height="1.6" fill="#f9f0f0"/><rect x="228.5" y="1294.2" width="52.3" height="1.6" fill="#f8eeee"/><rect x="228.5" y="1295.5" width="52.3" height="4.2" fill="#f8efef"/><rect x="228.5" y="1299.4" width="52.3" height="4.2" fill="#fcf7f7"/><rect x="228.5" y="1303.3" width="52.3" height="1.6" fill="#faf2f2"/><rect x="228.5" y="1304.6" width="52.3" height="1.6" fill="#f8eded"/><rect x="228.5" y="1305.9" width="52.3" height="4.2" fill="#f8edee"/><rect x="228.5" y="1309.8" width="52.3" height="2.9" fill="#f8edee"/><rect x="228.5" y="1312.4" width="52.3" height="0.4" fill="#faf2f2"/></g>
<g shape-rendering="crispEdges"><rect x="280.8" y="1192.8" width="52.8" height="2.9" fill="#ad2c39"/><rect x="280.8" y="1195.4" width="52.8" height="2.9" fill="#b13843"/><rect x="280.8" y="1198.0" width="52.8" height="1.6" fill="#b0343f"/><rect x="280.8" y="1199.3" width="52.8" height="4.2" fill="#b03641"/><rect x="280.8" y="1203.2" width="52.8" height="4.2" fill="#af323e"/><rect x="280.8" y="1207.1" width="52.8" height="2.9" fill="#af333e"/><rect x="280.8" y="1209.7" width="52.8" height="1.6" fill="#b13742"/><rect x="280.8" y="1211.0" width="52.8" height="2.9" fill="#b4404a"/><rect x="280.8" y="1213.6" width="52.8" height="1.6" fill="#b13843"/><rect x="280.8" y="1214.9" width="52.8" height="4.2" fill="#b03540"/><rect x="280.8" y="1218.8" width="52.8" height="2.9" fill="#ae313d"/><rect x="280.8" y="1221.4" width="52.8" height="1.6" fill="#b03641"/><rect x="280.8" y="1222.7" width="52.8" height="1.6" fill="#b64650"/><rect x="280.8" y="1224.0" width="52.8" height="1.6" fill="#b33e48"/><rect x="280.8" y="1225.3" width="52.8" height="1.6" fill="#b13743"/><rect x="280.8" y="1226.6" width="52.8" height="2.9" fill="#b43f49"/><rect x="280.8" y="1229.2" width="52.8" height="1.6" fill="#b74952"/><rect x="280.8" y="1230.5" width="52.8" height="2.9" fill="#ae2f3b"/><rect x="280.8" y="1233.1" width="52.8" height="1.6" fill="#b4404b"/><rect x="280.8" y="1234.4" width="52.8" height="1.6" fill="#b5434d"/><rect x="280.8" y="1235.7" width="52.8" height="2.9" fill="#b74952"/><rect x="280.8" y="1238.3" width="52.8" height="2.9" fill="#b43f49"/><rect x="280.8" y="1240.9" width="52.8" height="4.2" fill="#b5434d"/><rect x="280.8" y="1244.8" width="52.8" height="1.6" fill="#af333f"/><rect x="280.8" y="1246.1" width="52.8" height="2.9" fill="#af323d"/><rect x="280.8" y="1248.7" width="52.8" height="0.9" fill="#b4404a"/><rect x="280.8" y="1249.3" width="52.8" height="2.9" fill="#cf898c"/><rect x="280.8" y="1251.9" width="52.8" height="2.9" fill="#d28f92"/><rect x="280.8" y="1254.5" width="52.8" height="4.2" fill="#bf5e65"/><rect x="280.8" y="1258.4" width="52.8" height="4.2" fill="#d29193"/><rect x="280.8" y="1262.3" width="52.8" height="1.6" fill="#d18e91"/><rect x="280.8" y="1263.6" width="52.8" height="2.9" fill="#ca7b7f"/><rect x="280.8" y="1266.2" width="52.8" height="1.6" fill="#d5989a"/><rect x="280.8" y="1267.5" width="52.8" height="1.6" fill="#d79d9f"/><rect x="280.8" y="1268.8" width="52.8" height="1.6" fill="#d49698"/><rect x="280.8" y="1270.1" width="52.8" height="2.9" fill="#c77277"/><rect x="280.8" y="1272.7" width="52.8" height="4.2" fill="#cd8387"/><rect x="280.8" y="1276.6" width="52.8" height="1.6" fill="#d28f92"/><rect x="280.8" y="1277.9" width="52.8" height="2.9" fill="#cc8085"/><rect x="280.8" y="1280.5" width="52.8" height="1.6" fill="#c46c72"/><rect x="280.8" y="1281.8" width="52.8" height="1.6" fill="#d9a3a5"/><rect x="280.8" y="1283.1" width="52.8" height="1.6" fill="#d89fa1"/><rect x="280.8" y="1284.4" width="52.8" height="1.6" fill="#cd8387"/><rect x="280.8" y="1285.7" width="52.8" height="2.9" fill="#cf888b"/><rect x="280.8" y="1288.3" width="52.8" height="1.6" fill="#c77278"/><rect x="280.8" y="1289.6" width="52.8" height="1.6" fill="#d08b8e"/><rect x="280.8" y="1290.9" width="52.8" height="1.6" fill="#cc8185"/><rect x="280.8" y="1292.2" width="52.8" height="1.6" fill="#c9797e"/><rect x="280.8" y="1293.5" width="52.8" height="1.6" fill="#d18e91"/><rect x="280.8" y="1294.8" width="52.8" height="2.9" fill="#ce868a"/><rect x="280.8" y="1297.4" width="52.8" height="1.6" fill="#d18d90"/><rect x="280.8" y="1298.7" width="52.8" height="1.6" fill="#d79ea0"/><rect x="280.8" y="1300.0" width="52.8" height="4.2" fill="#d49597"/><rect x="280.8" y="1303.9" width="52.8" height="2.9" fill="#cd8286"/><rect x="280.8" y="1306.5" width="52.8" height="4.2" fill="#cd8487"/><rect x="280.8" y="1310.4" width="52.8" height="2.4" fill="#c97a7e"/></g>
<g shape-rendering="crispEdges"><rect x="333.6" y="1192.8" width="52.3" height="4.2" fill="#ce878a"/><rect x="333.6" y="1196.7" width="52.3" height="1.6" fill="#cf878b"/><rect x="333.6" y="1198.0" width="52.3" height="4.2" fill="#d08b8e"/><rect x="333.6" y="1201.9" width="52.3" height="2.9" fill="#c9797e"/><rect x="333.6" y="1204.5" width="52.3" height="1.6" fill="#c9787d"/><rect x="333.6" y="1205.8" width="52.3" height="4.2" fill="#c8747a"/><rect x="333.6" y="1209.7" width="52.3" height="4.2" fill="#c56f74"/><rect x="333.6" y="1213.6" width="52.3" height="4.2" fill="#d29193"/><rect x="333.6" y="1217.5" width="52.3" height="2.9" fill="#c8767b"/><rect x="333.6" y="1220.1" width="52.3" height="2.9" fill="#d49698"/><rect x="333.6" y="1222.7" width="52.3" height="4.2" fill="#c77277"/><rect x="333.6" y="1226.6" width="52.3" height="1.6" fill="#c77379"/><rect x="333.6" y="1227.9" width="52.3" height="1.6" fill="#c9777c"/><rect x="333.6" y="1229.2" width="52.3" height="1.6" fill="#cb7f83"/><rect x="333.6" y="1230.5" width="52.3" height="4.2" fill="#ce878b"/><rect x="333.6" y="1234.4" width="52.3" height="1.6" fill="#cb7d81"/><rect x="333.6" y="1235.7" width="52.3" height="4.2" fill="#c1636a"/><rect x="333.6" y="1239.6" width="52.3" height="1.6" fill="#ca7a7e"/><rect x="333.6" y="1240.9" width="52.3" height="1.6" fill="#c3686e"/><rect x="333.6" y="1242.2" width="52.3" height="1.6" fill="#c8747a"/><rect x="333.6" y="1243.5" width="52.3" height="1.6" fill="#c8777c"/><rect x="333.6" y="1244.8" width="52.3" height="1.6" fill="#c2666d"/><rect x="333.6" y="1246.1" width="52.3" height="3.5" fill="#bc545d"/><rect x="333.6" y="1249.3" width="52.3" height="4.2" fill="#af333e"/><rect x="333.6" y="1253.2" width="52.3" height="1.6" fill="#b23a45"/><rect x="333.6" y="1254.5" width="52.3" height="2.9" fill="#ab2835"/><rect x="333.6" y="1257.1" width="52.3" height="1.6" fill="#a61a28"/><rect x="333.6" y="1258.4" width="52.3" height="2.9" fill="#b0343f"/><rect x="333.6" y="1261.0" width="52.3" height="4.2" fill="#ab2733"/><rect x="333.6" y="1264.9" width="52.3" height="1.6" fill="#ad2e3a"/><rect x="333.6" y="1266.2" width="52.3" height="1.6" fill="#b13743"/><rect x="333.6" y="1267.5" width="52.3" height="1.6" fill="#ac2b37"/><rect x="333.6" y="1268.8" width="52.3" height="1.6" fill="#af323e"/><rect x="333.6" y="1270.1" width="52.3" height="1.6" fill="#ad2d39"/><rect x="333.6" y="1271.4" width="52.3" height="2.9" fill="#b33c47"/><rect x="333.6" y="1274.0" width="52.3" height="4.2" fill="#b03641"/><rect x="333.6" y="1277.9" width="52.3" height="1.6" fill="#af333e"/><rect x="333.6" y="1279.2" width="52.3" height="2.9" fill="#ad2d39"/><rect x="333.6" y="1281.8" width="52.3" height="1.6" fill="#ab2733"/><rect x="333.6" y="1283.1" width="52.3" height="1.6" fill="#b23944"/><rect x="333.6" y="1284.4" width="52.3" height="1.6" fill="#b23a45"/><rect x="333.6" y="1285.7" width="52.3" height="1.6" fill="#b5434d"/><rect x="333.6" y="1287.0" width="52.3" height="1.6" fill="#ae303c"/><rect x="333.6" y="1288.3" width="52.3" height="1.6" fill="#b33e49"/><rect x="333.6" y="1289.6" width="52.3" height="1.6" fill="#b33c47"/><rect x="333.6" y="1290.9" width="52.3" height="4.2" fill="#b03440"/><rect x="333.6" y="1294.8" width="52.3" height="1.6" fill="#af313d"/><rect x="333.6" y="1296.1" width="52.3" height="1.6" fill="#b13944"/><rect x="333.6" y="1297.4" width="52.3" height="2.9" fill="#af323d"/><rect x="333.6" y="1300.0" width="52.3" height="4.2" fill="#b13743"/><rect x="333.6" y="1303.9" width="52.3" height="1.6" fill="#b03641"/><rect x="333.6" y="1305.2" width="52.3" height="1.6" fill="#ae303c"/><rect x="333.6" y="1306.5" width="52.3" height="4.2" fill="#b03541"/><rect x="333.6" y="1310.4" width="52.3" height="2.4" fill="#aa2331"/></g>
<rect x="228.5" y="1192.8" width="52.3" height="119.7" fill="none" stroke="#2a2a2a" stroke-width="1.6"/>
<text x="225.3" y="1056.8" font-size="15.6" fill="#383838">Human versus primates</text>
<g shape-rendering="crispEdges"><rect x="416" y="1071.0" width="53" height="4.2" fill="#d79ea0"/><rect x="416" y="1074.9" width="53" height="1.6" fill="#d79ea0"/><rect x="416" y="1076.2" width="53" height="4.2" fill="#d8a0a2"/><rect x="416" y="1080.1" width="53" height="1.6" fill="#d29092"/><rect x="416" y="1081.4" width="53" height="2.9" fill="#d08b8e"/><rect x="416" y="1084.0" width="53" height="1.6" fill="#daa3a5"/><rect x="416" y="1085.3" width="53" height="2.9" fill="#d69c9e"/><rect x="416" y="1087.9" width="53" height="2.9" fill="#d49698"/><rect x="416" y="1090.5" width="53" height="2.9" fill="#d9a2a4"/><rect x="416" y="1093.1" width="53" height="1.6" fill="#d89fa1"/><rect x="416" y="1094.4" width="53" height="4.2" fill="#e0b3b4"/><rect x="416" y="1098.3" width="53" height="1.6" fill="#d89fa1"/><rect x="416" y="1099.6" width="53" height="2.9" fill="#daa4a6"/><rect x="416" y="1102.2" width="53" height="2.9" fill="#d49799"/><rect x="416" y="1104.8" width="53" height="4.2" fill="#e4bebf"/><rect x="416" y="1108.7" width="53" height="1.6" fill="#d79c9e"/><rect x="416" y="1110.0" width="53" height="2.9" fill="#d79c9e"/><rect x="416" y="1112.6" width="53" height="2.9" fill="#d49597"/><rect x="416" y="1115.2" width="53" height="1.6" fill="#d79c9e"/><rect x="416" y="1116.5" width="53" height="4.2" fill="#d89fa1"/><rect x="416" y="1120.4" width="53" height="1.6" fill="#dca9aa"/><rect x="416" y="1121.7" width="53" height="1.6" fill="#d9a2a3"/><rect x="416" y="1123.0" width="53" height="1.3" fill="#d08c8f"/><rect x="416" y="1124.0" width="53" height="1.6" fill="#ffffff"/><rect x="416" y="1125.3" width="53" height="0.5" fill="#ffffff"/><rect x="416" y="1125.5" width="53" height="1.6" fill="#e7c5c7"/><rect x="416" y="1126.8" width="53" height="2.9" fill="#e3bbbc"/><rect x="416" y="1129.4" width="53" height="1.6" fill="#e8c7c8"/><rect x="416" y="1130.7" width="53" height="4.2" fill="#e8c8c9"/><rect x="416" y="1134.6" width="53" height="2.9" fill="#ebcfd0"/><rect x="416" y="1137.2" width="53" height="1.6" fill="#efd8d9"/><rect x="416" y="1138.5" width="53" height="2.9" fill="#e9c9ca"/><rect x="416" y="1141.1" width="53" height="4.2" fill="#efd7d8"/><rect x="416" y="1145.0" width="53" height="4.2" fill="#e7c5c6"/><rect x="416" y="1148.9" width="53" height="2.9" fill="#eed6d7"/><rect x="416" y="1151.5" width="53" height="4.2" fill="#ecd1d2"/><rect x="416" y="1155.4" width="53" height="4.2" fill="#f0dbdc"/><rect x="416" y="1159.3" width="53" height="2.9" fill="#eed6d6"/><rect x="416" y="1161.9" width="53" height="1.6" fill="#f0dadb"/><rect x="416" y="1163.2" width="53" height="2.9" fill="#f3e2e3"/><rect x="416" y="1165.8" width="53" height="2.9" fill="#ebcfd0"/><rect x="416" y="1168.4" width="53" height="1.6" fill="#efd9d9"/><rect x="416" y="1169.7" width="53" height="1.6" fill="#f0dbdb"/><rect x="416" y="1171.0" width="53" height="2.9" fill="#efd7d8"/><rect x="416" y="1173.6" width="53" height="1.6" fill="#eed7d7"/><rect x="416" y="1174.9" width="53" height="1.6" fill="#f1dcdd"/><rect x="416" y="1176.2" width="53" height="1.6" fill="#efd9da"/><rect x="416" y="1177.5" width="53" height="2.9" fill="#f4e4e5"/><rect x="416" y="1180.1" width="53" height="2.9" fill="#f9f0f0"/><rect x="416" y="1182.7" width="53" height="4.2" fill="#f3e2e2"/><rect x="416" y="1186.6" width="53" height="3.7" fill="#f4e4e5"/></g>
<g shape-rendering="crispEdges"><rect x="469" y="1071.0" width="53.7" height="4.2" fill="#af323e"/><rect x="469" y="1074.9" width="53.7" height="1.6" fill="#a81f2d"/><rect x="469" y="1076.2" width="53.7" height="1.6" fill="#ae303c"/><rect x="469" y="1077.5" width="53.7" height="1.6" fill="#ac2936"/><rect x="469" y="1078.8" width="53.7" height="1.6" fill="#af333f"/><rect x="469" y="1080.1" width="53.7" height="2.9" fill="#ae2e3a"/><rect x="469" y="1082.7" width="53.7" height="4.2" fill="#ae2f3b"/><rect x="469" y="1086.6" width="53.7" height="1.6" fill="#b23944"/><rect x="469" y="1087.9" width="53.7" height="2.9" fill="#b0343f"/><rect x="469" y="1090.5" width="53.7" height="2.9" fill="#b03641"/><rect x="469" y="1093.1" width="53.7" height="1.6" fill="#b23a45"/><rect x="469" y="1094.4" width="53.7" height="4.2" fill="#b43f49"/><rect x="469" y="1098.3" width="53.7" height="1.6" fill="#b33c46"/><rect x="469" y="1099.6" width="53.7" height="1.6" fill="#b13642"/><rect x="469" y="1100.9" width="53.7" height="1.6" fill="#b23b46"/><rect x="469" y="1102.2" width="53.7" height="1.6" fill="#b03540"/><rect x="469" y="1103.5" width="53.7" height="1.6" fill="#b4404b"/><rect x="469" y="1104.8" width="53.7" height="2.9" fill="#ad2e3a"/><rect x="469" y="1107.4" width="53.7" height="2.9" fill="#ac2936"/><rect x="469" y="1110.0" width="53.7" height="4.2" fill="#aa2532"/><rect x="469" y="1113.9" width="53.7" height="1.6" fill="#b03541"/><rect x="469" y="1115.2" width="53.7" height="4.2" fill="#ac2b37"/><rect x="469" y="1119.1" width="53.7" height="2.9" fill="#ad2e3a"/><rect x="469" y="1121.7" width="53.7" height="1.6" fill="#b13843"/><rect x="469" y="1123.0" width="53.7" height="2.9" fill="#af333e"/><rect x="469" y="1125.6" width="53.7" height="1.6" fill="#ad2d39"/><rect x="469" y="1126.9" width="53.7" height="1.6" fill="#af333f"/><rect x="469" y="1128.2" width="53.7" height="4.2" fill="#ac2a37"/><rect x="469" y="1132.1" width="53.7" height="1.6" fill="#ac2b37"/><rect x="469" y="1133.4" width="53.7" height="1.6" fill="#b0343f"/><rect x="469" y="1134.7" width="53.7" height="1.6" fill="#ad2d39"/><rect x="469" y="1136.0" width="53.7" height="1.6" fill="#ab2734"/><rect x="469" y="1137.3" width="53.7" height="1.6" fill="#ae2f3b"/><rect x="469" y="1138.6" width="53.7" height="1.6" fill="#b74851"/><rect x="469" y="1139.9" width="53.7" height="4.2" fill="#b5424c"/><rect x="469" y="1143.8" width="53.7" height="1.6" fill="#b5414c"/><rect x="469" y="1145.1" width="53.7" height="1.6" fill="#b13742"/><rect x="469" y="1146.4" width="53.7" height="1.6" fill="#b13742"/><rect x="469" y="1147.7" width="53.7" height="1.6" fill="#b03440"/><rect x="469" y="1149.0" width="53.7" height="2.9" fill="#b23b46"/><rect x="469" y="1151.6" width="53.7" height="1.6" fill="#ab2835"/><rect x="469" y="1152.9" width="53.7" height="1.6" fill="#ae2e3a"/><rect x="469" y="1154.2" width="53.7" height="4.2" fill="#ae2f3b"/><rect x="469" y="1158.1" width="53.7" height="2.9" fill="#ab2835"/><rect x="469" y="1160.7" width="53.7" height="4.2" fill="#b33c47"/><rect x="469" y="1164.6" width="53.7" height="2.9" fill="#ae303c"/><rect x="469" y="1167.2" width="53.7" height="1.6" fill="#ae2f3b"/><rect x="469" y="1168.5" width="53.7" height="1.6" fill="#b03440"/><rect x="469" y="1169.8" width="53.7" height="1.6" fill="#b03641"/><rect x="469" y="1171.1" width="53.7" height="4.2" fill="#b23a45"/><rect x="469" y="1175.0" width="53.7" height="1.6" fill="#af313d"/><rect x="469" y="1176.3" width="53.7" height="4.2" fill="#aa2633"/><rect x="469" y="1180.2" width="53.7" height="4.2" fill="#af323d"/><rect x="469" y="1184.1" width="53.7" height="4.2" fill="#b03541"/><rect x="469" y="1188.0" width="53.7" height="2.3" fill="#b13742"/></g>
<g shape-rendering="crispEdges"><rect x="522.7" y="1071.0" width="52.3" height="1.6" fill="#eacccd"/><rect x="522.7" y="1072.3" width="52.3" height="1.6" fill="#f1dddd"/><rect x="522.7" y="1073.6" width="52.3" height="2.9" fill="#f4e3e4"/><rect x="522.7" y="1076.2" width="52.3" height="1.6" fill="#f2dfe0"/><rect x="522.7" y="1077.5" width="52.3" height="1.6" fill="#ecd2d2"/><rect x="522.7" y="1078.8" width="52.3" height="4.2" fill="#eacccc"/><rect x="522.7" y="1082.7" width="52.3" height="4.2" fill="#eccfd0"/><rect x="522.7" y="1086.6" width="52.3" height="1.6" fill="#f0dada"/><rect x="522.7" y="1087.9" width="52.3" height="1.6" fill="#ebcdce"/><rect x="522.7" y="1089.2" width="52.3" height="1.6" fill="#f0dada"/><rect x="522.7" y="1090.5" width="52.3" height="1.6" fill="#ebcfd0"/><rect x="522.7" y="1091.8" width="52.3" height="1.6" fill="#f3e2e2"/><rect x="522.7" y="1093.1" width="52.3" height="2.9" fill="#eed4d5"/><rect x="522.7" y="1095.7" width="52.3" height="4.2" fill="#f1dcdc"/><rect x="522.7" y="1099.6" width="52.3" height="2.9" fill="#efd7d8"/><rect x="522.7" y="1102.2" width="52.3" height="2.9" fill="#eed6d7"/><rect x="522.7" y="1104.8" width="52.3" height="2.9" fill="#e8c8c9"/><rect x="522.7" y="1107.4" width="52.3" height="1.6" fill="#efd9da"/><rect x="522.7" y="1108.7" width="52.3" height="4.2" fill="#f1dcdd"/><rect x="522.7" y="1112.6" width="52.3" height="2.9" fill="#edd4d5"/><rect x="522.7" y="1115.2" width="52.3" height="2.9" fill="#eed6d7"/><rect x="522.7" y="1117.8" width="52.3" height="1.6" fill="#e8c6c7"/><rect x="522.7" y="1119.1" width="52.3" height="2.9" fill="#e6c3c4"/><rect x="522.7" y="1121.7" width="52.3" height="1.6" fill="#edd4d5"/><rect x="522.7" y="1123.0" width="52.3" height="2.2" fill="#bc555d"/><rect x="522.7" y="1125.0" width="52.3" height="1.6" fill="#deafb0"/><rect x="522.7" y="1126.3" width="52.3" height="4.2" fill="#daa5a7"/><rect x="522.7" y="1130.2" width="52.3" height="1.6" fill="#e4bdbe"/><rect x="522.7" y="1131.5" width="52.3" height="1.6" fill="#deafb1"/><rect x="522.7" y="1132.8" width="52.3" height="1.6" fill="#deafb1"/><rect x="522.7" y="1134.1" width="52.3" height="4.2" fill="#e2b9ba"/><rect x="522.7" y="1138.0" width="52.3" height="1.6" fill="#deafb0"/><rect x="522.7" y="1139.3" width="52.3" height="2.9" fill="#dfb2b3"/><rect x="522.7" y="1141.9" width="52.3" height="1.6" fill="#d8a1a2"/><rect x="522.7" y="1143.2" width="52.3" height="1.6" fill="#dfb1b2"/><rect x="522.7" y="1144.5" width="52.3" height="4.2" fill="#dba7a9"/><rect x="522.7" y="1148.4" width="52.3" height="1.6" fill="#dfb1b2"/><rect x="522.7" y="1149.7" width="52.3" height="2.9" fill="#e2b7b9"/><rect x="522.7" y="1152.3" width="52.3" height="1.6" fill="#d49698"/><rect x="522.7" y="1153.6" width="52.3" height="2.9" fill="#d08c8f"/><rect x="522.7" y="1156.2" width="52.3" height="1.6" fill="#ddabad"/><rect x="522.7" y="1157.5" width="52.3" height="1.6" fill="#d8a0a2"/><rect x="522.7" y="1158.8" width="52.3" height="1.6" fill="#d79d9f"/><rect x="522.7" y="1160.1" width="52.3" height="1.6" fill="#ddabad"/><rect x="522.7" y="1161.4" width="52.3" height="4.2" fill="#d29193"/><rect x="522.7" y="1165.3" width="52.3" height="2.9" fill="#dcaaac"/><rect x="522.7" y="1167.9" width="52.3" height="4.2" fill="#d89fa1"/><rect x="522.7" y="1171.8" width="52.3" height="1.6" fill="#d59a9c"/><rect x="522.7" y="1173.1" width="52.3" height="1.6" fill="#daa5a7"/><rect x="522.7" y="1174.4" width="52.3" height="1.6" fill="#d49698"/><rect x="522.7" y="1175.7" width="52.3" height="2.9" fill="#ce8689"/><rect x="522.7" y="1178.3" width="52.3" height="1.6" fill="#d69a9c"/><rect x="522.7" y="1179.6" width="52.3" height="1.6" fill="#d8a1a2"/><rect x="522.7" y="1180.9" width="52.3" height="1.6" fill="#d69b9c"/><rect x="522.7" y="1182.2" width="52.3" height="2.9" fill="#cd8286"/><rect x="522.7" y="1184.8" width="52.3" height="4.2" fill="#ca7b7f"/><rect x="522.7" y="1188.7" width="52.3" height="1.6" fill="#d8a1a3"/></g>
<rect x="469" y="1071" width="53.7" height="119" fill="none" stroke="#2a2a2a" stroke-width="1.6"/>
<g shape-rendering="crispEdges"><rect x="416" y="1194.0" width="53" height="4.2" fill="#b33c47"/><rect x="416" y="1197.9" width="53" height="2.9" fill="#b6454e"/><rect x="416" y="1200.5" width="53" height="1.6" fill="#ac2936"/><rect x="416" y="1201.8" width="53" height="1.6" fill="#bc555d"/><rect x="416" y="1203.1" width="53" height="1.6" fill="#b5434d"/><rect x="416" y="1204.4" width="53" height="1.6" fill="#ba5058"/><rect x="416" y="1205.7" width="53" height="4.2" fill="#b43f49"/><rect x="416" y="1209.6" width="53" height="1.6" fill="#b94d56"/><rect x="416" y="1210.9" width="53" height="1.6" fill="#b4404a"/><rect x="416" y="1212.2" width="53" height="1.6" fill="#ae313c"/><rect x="416" y="1213.5" width="53" height="2.9" fill="#b84a53"/><rect x="416" y="1216.1" width="53" height="2.9" fill="#b6454f"/><rect x="416" y="1218.7" width="53" height="4.2" fill="#b74750"/><rect x="416" y="1222.6" width="53" height="1.6" fill="#b6454f"/><rect x="416" y="1223.9" width="53" height="2.9" fill="#ba5059"/><rect x="416" y="1226.5" width="53" height="2.9" fill="#b6454f"/><rect x="416" y="1229.1" width="53" height="2.9" fill="#be5b63"/><rect x="416" y="1231.7" width="53" height="1.6" fill="#b6454f"/><rect x="416" y="1233.0" width="53" height="1.6" fill="#b84a53"/><rect x="416" y="1234.3" width="53" height="1.6" fill="#bd575f"/><rect x="416" y="1235.6" width="53" height="1.6" fill="#ba4f58"/><rect x="416" y="1236.9" width="53" height="1.6" fill="#b74751"/><rect x="416" y="1238.2" width="53" height="1.6" fill="#b5414c"/><rect x="416" y="1239.5" width="53" height="2.9" fill="#b84b54"/><rect x="416" y="1242.1" width="53" height="1.6" fill="#b84b54"/><rect x="416" y="1243.4" width="53" height="1.6" fill="#b74852"/><rect x="416" y="1244.7" width="53" height="1.6" fill="#bb535c"/><rect x="416" y="1246.0" width="53" height="2.9" fill="#bc565e"/><rect x="416" y="1248.6" width="53" height="4.2" fill="#b5434d"/><rect x="416" y="1252.5" width="53" height="1.6" fill="#b33e49"/><rect x="416" y="1253.8" width="53" height="1.5" fill="#b94c56"/><rect x="416" y="1255.0" width="53" height="1.6" fill="#c1646b"/><rect x="416" y="1256.3" width="53" height="1.6" fill="#c2666d"/><rect x="416" y="1257.6" width="53" height="1.6" fill="#c1646b"/><rect x="416" y="1258.9" width="53" height="1.6" fill="#ca7b7f"/><rect x="416" y="1260.2" width="53" height="4.2" fill="#ca7c81"/><rect x="416" y="1264.1" width="53" height="4.2" fill="#bb535c"/><rect x="416" y="1268.0" width="53" height="1.6" fill="#c9797e"/><rect x="416" y="1269.3" width="53" height="1.6" fill="#c46c72"/><rect x="416" y="1270.6" width="53" height="2.9" fill="#ce8589"/><rect x="416" y="1273.2" width="53" height="1.6" fill="#c9787d"/><rect x="416" y="1274.5" width="53" height="2.9" fill="#cb7f83"/><rect x="416" y="1277.1" width="53" height="4.2" fill="#c9797e"/><rect x="416" y="1281.0" width="53" height="2.9" fill="#c9797d"/><rect x="416" y="1283.6" width="53" height="2.9" fill="#c97a7e"/><rect x="416" y="1286.2" width="53" height="1.6" fill="#c77278"/><rect x="416" y="1287.5" width="53" height="2.9" fill="#be5a62"/><rect x="416" y="1290.1" width="53" height="1.6" fill="#ca7c80"/><rect x="416" y="1291.4" width="53" height="1.6" fill="#c67076"/><rect x="416" y="1292.7" width="53" height="1.6" fill="#c8767c"/><rect x="416" y="1294.0" width="53" height="2.9" fill="#c9797e"/><rect x="416" y="1296.6" width="53" height="1.6" fill="#ca7c81"/><rect x="416" y="1297.9" width="53" height="1.6" fill="#cc8084"/><rect x="416" y="1299.2" width="53" height="2.9" fill="#c77278"/><rect x="416" y="1301.8" width="53" height="1.6" fill="#c3686f"/><rect x="416" y="1303.1" width="53" height="2.9" fill="#ca7b7f"/><rect x="416" y="1305.7" width="53" height="1.6" fill="#cf898d"/><rect x="416" y="1307.0" width="53" height="1.6" fill="#cf898c"/><rect x="416" y="1308.3" width="53" height="2.9" fill="#d18d90"/><rect x="416" y="1310.9" width="53" height="1.6" fill="#c46b71"/><rect x="416" y="1312.2" width="53" height="1.4" fill="#cf888b"/></g>
<g shape-rendering="crispEdges"><rect x="469" y="1194.0" width="53.7" height="2.9" fill="#faf4f4"/><rect x="469" y="1196.6" width="53.7" height="1.6" fill="#ffffff"/><rect x="469" y="1197.9" width="53.7" height="2.9" fill="#fdfbfb"/><rect x="469" y="1200.5" width="53.7" height="1.6" fill="#fffefe"/><rect x="469" y="1201.8" width="53.7" height="1.6" fill="#ffffff"/><rect x="469" y="1203.1" width="53.7" height="4.2" fill="#fcf9f9"/><rect x="469" y="1207.0" width="53.7" height="4.2" fill="#faf4f4"/><rect x="469" y="1210.9" width="53.7" height="2.9" fill="#fdfbfb"/><rect x="469" y="1213.5" width="53.7" height="2.9" fill="#fefefe"/><rect x="469" y="1216.1" width="53.7" height="1.6" fill="#fcf8f8"/><rect x="469" y="1217.4" width="53.7" height="1.6" fill="#ffffff"/><rect x="469" y="1218.7" width="53.7" height="4.2" fill="#fcf6f7"/><rect x="469" y="1222.6" width="53.7" height="2.9" fill="#faf3f3"/><rect x="469" y="1225.2" width="53.7" height="2.9" fill="#faf4f4"/><rect x="469" y="1227.8" width="53.7" height="4.2" fill="#fefcfc"/><rect x="469" y="1231.7" width="53.7" height="2.9" fill="#fefdfd"/><rect x="469" y="1234.3" width="53.7" height="4.2" fill="#fefdfd"/><rect x="469" y="1238.2" width="53.7" height="2.1" fill="#fffefe"/><rect x="469" y="1240.0" width="53.7" height="2.9" fill="#f3e1e2"/><rect x="469" y="1242.6" width="53.7" height="2.9" fill="#eed5d6"/><rect x="469" y="1245.2" width="53.7" height="4.2" fill="#f7ebeb"/><rect x="469" y="1249.1" width="53.7" height="4.2" fill="#f4e5e5"/><rect x="469" y="1253.0" width="53.7" height="2.2" fill="#f4e3e4"/><rect x="469" y="1255.0" width="53.7" height="4.2" fill="#ffffff"/><rect x="469" y="1258.9" width="53.7" height="4.2" fill="#ffffff"/><rect x="469" y="1262.8" width="53.7" height="1.6" fill="#fbf4f4"/><rect x="469" y="1264.1" width="53.7" height="1.6" fill="#ffffff"/><rect x="469" y="1265.4" width="53.7" height="1.6" fill="#fcf7f7"/><rect x="469" y="1266.7" width="53.7" height="1.6" fill="#fbf6f6"/><rect x="469" y="1268.0" width="53.7" height="2.9" fill="#fcf9f9"/><rect x="469" y="1270.6" width="53.7" height="4.2" fill="#fbf5f5"/><rect x="469" y="1274.5" width="53.7" height="1.6" fill="#fdf9f9"/><rect x="469" y="1275.8" width="53.7" height="1.6" fill="#fdfbfb"/><rect x="469" y="1277.1" width="53.7" height="1.6" fill="#fefdfd"/><rect x="469" y="1278.4" width="53.7" height="4.2" fill="#fcf8f8"/><rect x="469" y="1282.3" width="53.7" height="4.2" fill="#fcf7f8"/><rect x="469" y="1286.2" width="53.7" height="4.2" fill="#fbf5f5"/><rect x="469" y="1290.1" width="53.7" height="1.6" fill="#faf2f3"/><rect x="469" y="1291.4" width="53.7" height="1.6" fill="#f7ecec"/><rect x="469" y="1292.7" width="53.7" height="2.9" fill="#fcf7f8"/><rect x="469" y="1295.3" width="53.7" height="1.6" fill="#fdfafa"/><rect x="469" y="1296.6" width="53.7" height="1.6" fill="#faf2f2"/><rect x="469" y="1297.9" width="53.7" height="1.6" fill="#fdfafa"/><rect x="469" y="1299.2" width="53.7" height="4.2" fill="#fcf7f7"/><rect x="469" y="1303.1" width="53.7" height="4.2" fill="#fbf6f7"/><rect x="469" y="1307.0" width="53.7" height="1.6" fill="#fdfafa"/><rect x="469" y="1308.3" width="53.7" height="1.6" fill="#f8eeee"/><rect x="469" y="1309.6" width="53.7" height="1.6" fill="#faf4f4"/><rect x="469" y="1310.9" width="53.7" height="1.6" fill="#faf2f2"/><rect x="469" y="1312.2" width="53.7" height="1.4" fill="#fcf9f9"/></g>
<g shape-rendering="crispEdges"><rect x="522.7" y="1194.0" width="52.3" height="1.6" fill="#c06067"/><rect x="522.7" y="1195.3" width="52.3" height="1.6" fill="#ca7c81"/><rect x="522.7" y="1196.6" width="52.3" height="1.6" fill="#c77277"/><rect x="522.7" y="1197.9" width="52.3" height="1.6" fill="#c67176"/><rect x="522.7" y="1199.2" width="52.3" height="4.2" fill="#bd5961"/><rect x="522.7" y="1203.1" width="52.3" height="1.6" fill="#c9787d"/><rect x="522.7" y="1204.4" width="52.3" height="1.6" fill="#c05f66"/><rect x="522.7" y="1205.7" width="52.3" height="1.6" fill="#bf5e65"/><rect x="522.7" y="1207.0" width="52.3" height="1.6" fill="#c66f75"/><rect x="522.7" y="1208.3" width="52.3" height="4.2" fill="#c46b71"/><rect x="522.7" y="1212.2" width="52.3" height="2.9" fill="#c06067"/><rect x="522.7" y="1214.8" width="52.3" height="4.2" fill="#c2656c"/><rect x="522.7" y="1218.7" width="52.3" height="4.2" fill="#be5b63"/><rect x="522.7" y="1222.6" width="52.3" height="1.6" fill="#be5a62"/><rect x="522.7" y="1223.9" width="52.3" height="2.9" fill="#bd5860"/><rect x="522.7" y="1226.5" width="52.3" height="1.6" fill="#c06168"/><rect x="522.7" y="1227.8" width="52.3" height="1.6" fill="#c06067"/><rect x="522.7" y="1229.1" width="52.3" height="1.6" fill="#c9787c"/><rect x="522.7" y="1230.4" width="52.3" height="1.6" fill="#bd5961"/><rect x="522.7" y="1231.7" width="52.3" height="2.9" fill="#bd5860"/><rect x="522.7" y="1234.3" width="52.3" height="1.6" fill="#be5b62"/><rect x="522.7" y="1235.6" width="52.3" height="2.9" fill="#bb525b"/><rect x="522.7" y="1238.2" width="52.3" height="2.1" fill="#c46b72"/><rect x="522.7" y="1240.0" width="52.3" height="4.2" fill="#d29093"/><rect x="522.7" y="1243.9" width="52.3" height="2.9" fill="#d29194"/><rect x="522.7" y="1246.5" width="52.3" height="2.9" fill="#d39396"/><rect x="522.7" y="1249.1" width="52.3" height="1.6" fill="#d9a3a4"/><rect x="522.7" y="1250.4" width="52.3" height="1.6" fill="#d69b9d"/><rect x="522.7" y="1251.7" width="52.3" height="2.9" fill="#d5989a"/><rect x="522.7" y="1254.3" width="52.3" height="1.0" fill="#d69a9c"/><rect x="522.7" y="1255.0" width="52.3" height="2.9" fill="#b33c47"/><rect x="522.7" y="1257.6" width="52.3" height="4.2" fill="#af323e"/><rect x="522.7" y="1261.5" width="52.3" height="1.6" fill="#b33c47"/><rect x="522.7" y="1262.8" width="52.3" height="4.2" fill="#ab2835"/><rect x="522.7" y="1266.7" width="52.3" height="1.6" fill="#ad2e3a"/><rect x="522.7" y="1268.0" width="52.3" height="4.2" fill="#ab2835"/><rect x="522.7" y="1271.9" width="52.3" height="1.6" fill="#b43f49"/><rect x="522.7" y="1273.2" width="52.3" height="2.9" fill="#b23a45"/><rect x="522.7" y="1275.8" width="52.3" height="1.6" fill="#ab2733"/><rect x="522.7" y="1277.1" width="52.3" height="1.6" fill="#b13742"/><rect x="522.7" y="1278.4" width="52.3" height="4.2" fill="#ad2d39"/><rect x="522.7" y="1282.3" width="52.3" height="1.6" fill="#ae2f3b"/><rect x="522.7" y="1283.6" width="52.3" height="1.6" fill="#ae2e3a"/><rect x="522.7" y="1284.9" width="52.3" height="1.6" fill="#b33d48"/><rect x="522.7" y="1286.2" width="52.3" height="4.2" fill="#b5444e"/><rect x="522.7" y="1290.1" width="52.3" height="1.6" fill="#ad2d39"/><rect x="522.7" y="1291.4" width="52.3" height="2.9" fill="#ae303c"/><rect x="522.7" y="1294.0" width="52.3" height="1.6" fill="#ae303c"/><rect x="522.7" y="1295.3" width="52.3" height="1.6" fill="#af323d"/><rect x="522.7" y="1296.6" width="52.3" height="2.9" fill="#ae313d"/><rect x="522.7" y="1299.2" width="52.3" height="1.6" fill="#ae303c"/><rect x="522.7" y="1300.5" width="52.3" height="2.9" fill="#b4404a"/><rect x="522.7" y="1303.1" width="52.3" height="1.6" fill="#ad2e3a"/><rect x="522.7" y="1304.4" width="52.3" height="1.6" fill="#af323e"/><rect x="522.7" y="1305.7" width="52.3" height="1.6" fill="#b13944"/><rect x="522.7" y="1307.0" width="52.3" height="4.2" fill="#b33c47"/><rect x="522.7" y="1310.9" width="52.3" height="1.6" fill="#b03641"/><rect x="522.7" y="1312.2" width="52.3" height="1.4" fill="#ac2b38"/></g>
<rect x="469" y="1194" width="53.7" height="119.3" fill="none" stroke="#2a2a2a" stroke-width="1.6"/>
<text x="414.7" y="1056.8" font-size="15.7" fill="#383838">Chimp versus primates</text>
<g shape-rendering="crispEdges"><rect x="606" y="1071.0" width="52.7" height="1.6" fill="#f1ddde"/><rect x="606" y="1072.3" width="52.7" height="1.6" fill="#f6eaea"/><rect x="606" y="1073.6" width="52.7" height="2.9" fill="#efd7d8"/><rect x="606" y="1076.2" width="52.7" height="1.6" fill="#f6eaeb"/><rect x="606" y="1077.5" width="52.7" height="4.2" fill="#f4e5e5"/><rect x="606" y="1081.4" width="52.7" height="4.2" fill="#f4e5e5"/><rect x="606" y="1085.3" width="52.7" height="4.2" fill="#efd7d8"/><rect x="606" y="1089.2" width="52.7" height="4.2" fill="#f4e5e5"/><rect x="606" y="1093.1" width="52.7" height="1.6" fill="#f6e9e9"/><rect x="606" y="1094.4" width="52.7" height="1.6" fill="#f5e7e8"/><rect x="606" y="1095.7" width="52.7" height="1.6" fill="#f3e3e3"/><rect x="606" y="1097.0" width="52.7" height="2.9" fill="#f4e4e4"/><rect x="606" y="1099.6" width="52.7" height="1.6" fill="#f3e1e2"/><rect x="606" y="1100.9" width="52.7" height="1.6" fill="#f6e8e8"/><rect x="606" y="1102.2" width="52.7" height="1.6" fill="#f4e4e4"/><rect x="606" y="1103.5" width="52.7" height="2.9" fill="#f2e0e0"/><rect x="606" y="1106.1" width="52.7" height="1.6" fill="#f2dfe0"/><rect x="606" y="1107.4" width="52.7" height="2.9" fill="#f5e6e7"/><rect x="606" y="1110.0" width="52.7" height="1.6" fill="#e2b8ba"/><rect x="606" y="1111.3" width="52.7" height="1.6" fill="#ddabad"/><rect x="606" y="1112.6" width="52.7" height="1.6" fill="#e2b9ba"/><rect x="606" y="1113.9" width="52.7" height="2.9" fill="#e8c6c7"/><rect x="606" y="1116.5" width="52.7" height="1.6" fill="#e1b6b7"/><rect x="606" y="1117.8" width="52.7" height="1.6" fill="#dba7a8"/><rect x="606" y="1119.1" width="52.7" height="1.6" fill="#e2b7b8"/><rect x="606" y="1120.4" width="52.7" height="4.2" fill="#e5c0c1"/><rect x="606" y="1124.3" width="52.7" height="4.2" fill="#e5c0c1"/><rect x="606" y="1128.2" width="52.7" height="2.9" fill="#e4bdbe"/><rect x="606" y="1130.8" width="52.7" height="1.6" fill="#edd3d4"/><rect x="606" y="1132.1" width="52.7" height="4.2" fill="#e2b9bb"/><rect x="606" y="1136.0" width="52.7" height="1.6" fill="#e6c1c2"/><rect x="606" y="1137.3" width="52.7" height="2.9" fill="#dfb1b2"/><rect x="606" y="1139.9" width="52.7" height="2.9" fill="#dfb1b2"/><rect x="606" y="1142.5" width="52.7" height="1.6" fill="#deafb1"/><rect x="606" y="1143.8" width="52.7" height="2.9" fill="#e9cacb"/><rect x="606" y="1146.4" width="52.7" height="3.9" fill="#e3bbbc"/><rect x="606" y="1150.0" width="52.7" height="2.9" fill="#d08b8e"/><rect x="606" y="1152.6" width="52.7" height="2.9" fill="#d9a1a3"/><rect x="606" y="1155.2" width="52.7" height="1.6" fill="#d9a2a4"/><rect x="606" y="1156.5" width="52.7" height="2.9" fill="#dcabac"/><rect x="606" y="1159.1" width="52.7" height="1.6" fill="#d8a1a3"/><rect x="606" y="1160.4" width="52.7" height="4.2" fill="#cd8286"/><rect x="606" y="1164.3" width="52.7" height="2.9" fill="#c56e74"/><rect x="606" y="1166.9" width="52.7" height="4.2" fill="#d9a3a5"/><rect x="606" y="1170.8" width="52.7" height="4.2" fill="#deafb0"/><rect x="606" y="1174.7" width="52.7" height="4.2" fill="#deafb0"/><rect x="606" y="1178.6" width="52.7" height="1.6" fill="#dca9aa"/><rect x="606" y="1179.9" width="52.7" height="1.6" fill="#d49698"/><rect x="606" y="1181.2" width="52.7" height="1.6" fill="#d08b8e"/><rect x="606" y="1182.5" width="52.7" height="4.2" fill="#dba7a8"/><rect x="606" y="1186.4" width="52.7" height="2.9" fill="#cf898c"/><rect x="606" y="1189.0" width="52.7" height="1.3" fill="#d79ea0"/></g>
<g shape-rendering="crispEdges"><rect x="658.7" y="1071.0" width="52.3" height="1.6" fill="#d49799"/><rect x="658.7" y="1072.3" width="52.3" height="1.6" fill="#cd8386"/><rect x="658.7" y="1073.6" width="52.3" height="1.6" fill="#d08c8f"/><rect x="658.7" y="1074.9" width="52.3" height="2.9" fill="#cb7e83"/><rect x="658.7" y="1077.5" width="52.3" height="1.6" fill="#cf898d"/><rect x="658.7" y="1078.8" width="52.3" height="1.6" fill="#d18f91"/><rect x="658.7" y="1080.1" width="52.3" height="1.6" fill="#d49799"/><rect x="658.7" y="1081.4" width="52.3" height="1.6" fill="#d08c8f"/><rect x="658.7" y="1082.7" width="52.3" height="1.6" fill="#d08b8e"/><rect x="658.7" y="1084.0" width="52.3" height="1.6" fill="#ce868a"/><rect x="658.7" y="1085.3" width="52.3" height="2.9" fill="#cb7f83"/><rect x="658.7" y="1087.9" width="52.3" height="1.6" fill="#d79d9e"/><rect x="658.7" y="1089.2" width="52.3" height="2.9" fill="#c8757a"/><rect x="658.7" y="1091.8" width="52.3" height="2.9" fill="#d9a2a4"/><rect x="658.7" y="1094.4" width="52.3" height="2.9" fill="#d9a2a4"/><rect x="658.7" y="1097.0" width="52.3" height="1.6" fill="#d5999b"/><rect x="658.7" y="1098.3" width="52.3" height="1.6" fill="#d49698"/><rect x="658.7" y="1099.6" width="52.3" height="1.6" fill="#d89fa0"/><rect x="658.7" y="1100.9" width="52.3" height="4.2" fill="#d29193"/><rect x="658.7" y="1104.8" width="52.3" height="4.2" fill="#daa4a5"/><rect x="658.7" y="1108.7" width="52.3" height="1.6" fill="#cf898c"/><rect x="658.7" y="1110.0" width="52.3" height="2.9" fill="#e5bfc0"/><rect x="658.7" y="1112.6" width="52.3" height="4.2" fill="#e1b5b6"/><rect x="658.7" y="1116.5" width="52.3" height="2.9" fill="#dfb2b3"/><rect x="658.7" y="1119.1" width="52.3" height="1.6" fill="#e5bfc0"/><rect x="658.7" y="1120.4" width="52.3" height="4.2" fill="#e7c5c6"/><rect x="658.7" y="1124.3" width="52.3" height="2.9" fill="#eacdce"/><rect x="658.7" y="1126.9" width="52.3" height="1.6" fill="#ebcecf"/><rect x="658.7" y="1128.2" width="52.3" height="1.6" fill="#e4bdbe"/><rect x="658.7" y="1129.5" width="52.3" height="1.6" fill="#e2b8ba"/><rect x="658.7" y="1130.8" width="52.3" height="2.9" fill="#e4bcbd"/><rect x="658.7" y="1133.4" width="52.3" height="1.6" fill="#deaeb0"/><rect x="658.7" y="1134.7" width="52.3" height="1.6" fill="#e1b5b7"/><rect x="658.7" y="1136.0" width="52.3" height="4.2" fill="#e1b6b7"/><rect x="658.7" y="1139.9" width="52.3" height="1.6" fill="#edd3d4"/><rect x="658.7" y="1141.2" width="52.3" height="1.6" fill="#e4bdbe"/><rect x="658.7" y="1142.5" width="52.3" height="1.6" fill="#deb0b1"/><rect x="658.7" y="1143.8" width="52.3" height="2.9" fill="#eed6d7"/><rect x="658.7" y="1146.4" width="52.3" height="2.9" fill="#deaeb0"/><rect x="658.7" y="1149.0" width="52.3" height="1.3" fill="#eed6d6"/><rect x="658.7" y="1150.0" width="52.3" height="2.9" fill="#f5e6e7"/><rect x="658.7" y="1152.6" width="52.3" height="2.9" fill="#f2dfe0"/><rect x="658.7" y="1155.2" width="52.3" height="1.6" fill="#f2dfdf"/><rect x="658.7" y="1156.5" width="52.3" height="2.9" fill="#f0dadb"/><rect x="658.7" y="1159.1" width="52.3" height="2.9" fill="#f4e5e5"/><rect x="658.7" y="1161.7" width="52.3" height="2.9" fill="#f7ebec"/><rect x="658.7" y="1164.3" width="52.3" height="2.9" fill="#f6e8e9"/><rect x="658.7" y="1166.9" width="52.3" height="4.2" fill="#faf2f2"/><rect x="658.7" y="1170.8" width="52.3" height="4.2" fill="#f5e6e7"/><rect x="658.7" y="1174.7" width="52.3" height="2.9" fill="#f5e7e8"/><rect x="658.7" y="1177.3" width="52.3" height="1.6" fill="#f8eeee"/><rect x="658.7" y="1178.6" width="52.3" height="4.2" fill="#f1dcdd"/><rect x="658.7" y="1182.5" width="52.3" height="4.2" fill="#f1dcdd"/><rect x="658.7" y="1186.4" width="52.3" height="1.6" fill="#f6e9ea"/><rect x="658.7" y="1187.7" width="52.3" height="2.6" fill="#f4e4e5"/></g>
<g shape-rendering="crispEdges"><rect x="711" y="1071.0" width="54" height="4.2" fill="#ad2d39"/><rect x="711" y="1074.9" width="54" height="4.2" fill="#b13843"/><rect x="711" y="1078.8" width="54" height="1.6" fill="#ad2e3a"/><rect x="711" y="1080.1" width="54" height="2.9" fill="#ae303c"/><rect x="711" y="1082.7" width="54" height="1.6" fill="#aa2431"/><rect x="711" y="1084.0" width="54" height="4.2" fill="#af323e"/><rect x="711" y="1087.9" width="54" height="4.2" fill="#ad2c38"/><rect x="711" y="1091.8" width="54" height="2.9" fill="#b13642"/><rect x="711" y="1094.4" width="54" height="1.6" fill="#ab2734"/><rect x="711" y="1095.7" width="54" height="4.2" fill="#b23b46"/><rect x="711" y="1099.6" width="54" height="1.6" fill="#b13742"/><rect x="711" y="1100.9" width="54" height="1.6" fill="#ab2733"/><rect x="711" y="1102.2" width="54" height="4.2" fill="#ac2a36"/><rect x="711" y="1106.1" width="54" height="1.6" fill="#aa2632"/><rect x="711" y="1107.4" width="54" height="1.6" fill="#ac2b37"/><rect x="711" y="1108.7" width="54" height="2.9" fill="#aa2633"/><rect x="711" y="1111.3" width="54" height="1.6" fill="#b03541"/><rect x="711" y="1112.6" width="54" height="1.6" fill="#b03540"/><rect x="711" y="1113.9" width="54" height="4.2" fill="#a71c2a"/><rect x="711" y="1117.8" width="54" height="1.6" fill="#ad2c39"/><rect x="711" y="1119.1" width="54" height="1.6" fill="#a71e2c"/><rect x="711" y="1120.4" width="54" height="1.6" fill="#ae2f3b"/><rect x="711" y="1121.7" width="54" height="1.6" fill="#ac2b38"/><rect x="711" y="1123.0" width="54" height="4.2" fill="#ae303c"/><rect x="711" y="1126.9" width="54" height="1.6" fill="#ab2734"/><rect x="711" y="1128.2" width="54" height="2.9" fill="#a71d2b"/><rect x="711" y="1130.8" width="54" height="4.2" fill="#a92330"/><rect x="711" y="1134.7" width="54" height="4.2" fill="#ad2c38"/><rect x="711" y="1138.6" width="54" height="1.6" fill="#af333f"/><rect x="711" y="1139.9" width="54" height="1.6" fill="#ae313c"/><rect x="711" y="1141.2" width="54" height="1.6" fill="#a9222f"/><rect x="711" y="1142.5" width="54" height="1.6" fill="#b03641"/><rect x="711" y="1143.8" width="54" height="2.9" fill="#ac2936"/><rect x="711" y="1146.4" width="54" height="4.2" fill="#a81f2c"/><rect x="711" y="1150.3" width="54" height="1.6" fill="#ad2d39"/><rect x="711" y="1151.6" width="54" height="2.9" fill="#ab2834"/><rect x="711" y="1154.2" width="54" height="1.6" fill="#ae303c"/><rect x="711" y="1155.5" width="54" height="4.2" fill="#ad2d39"/><rect x="711" y="1159.4" width="54" height="4.2" fill="#b33e48"/><rect x="711" y="1163.3" width="54" height="4.2" fill="#b13944"/><rect x="711" y="1167.2" width="54" height="4.2" fill="#ab2734"/><rect x="711" y="1171.1" width="54" height="1.6" fill="#af313d"/><rect x="711" y="1172.4" width="54" height="1.6" fill="#af333e"/><rect x="711" y="1173.7" width="54" height="2.9" fill="#af313d"/><rect x="711" y="1176.3" width="54" height="2.9" fill="#ac2b37"/><rect x="711" y="1178.9" width="54" height="2.9" fill="#ab2835"/><rect x="711" y="1181.5" width="54" height="1.6" fill="#ab2734"/><rect x="711" y="1182.8" width="54" height="2.9" fill="#af333e"/><rect x="711" y="1185.4" width="54" height="1.6" fill="#b03641"/><rect x="711" y="1186.7" width="54" height="1.6" fill="#b03540"/><rect x="711" y="1188.0" width="54" height="1.6" fill="#af333e"/><rect x="711" y="1189.3" width="54" height="1.0" fill="#aa2632"/></g>
<rect x="711" y="1071" width="54" height="119" fill="none" stroke="#2a2a2a" stroke-width="1.6"/>
<g shape-rendering="crispEdges"><rect x="606" y="1194.0" width="52.7" height="4.2" fill="#b13742"/><rect x="606" y="1197.9" width="52.7" height="1.6" fill="#b6444e"/><rect x="606" y="1199.2" width="52.7" height="1.6" fill="#b13843"/><rect x="606" y="1200.5" width="52.7" height="2.9" fill="#b5424c"/><rect x="606" y="1203.1" width="52.7" height="1.6" fill="#b23b46"/><rect x="606" y="1204.4" width="52.7" height="2.9" fill="#b23b46"/><rect x="606" y="1207.0" width="52.7" height="1.6" fill="#b6444e"/><rect x="606" y="1208.3" width="52.7" height="2.9" fill="#b5424c"/><rect x="606" y="1210.9" width="52.7" height="4.2" fill="#b33d47"/><rect x="606" y="1214.8" width="52.7" height="1.6" fill="#b74852"/><rect x="606" y="1216.1" width="52.7" height="4.2" fill="#b64650"/><rect x="606" y="1220.0" width="52.7" height="2.9" fill="#bb525b"/><rect x="606" y="1222.6" width="52.7" height="1.6" fill="#b33d48"/><rect x="606" y="1223.9" width="52.7" height="2.9" fill="#ba5159"/><rect x="606" y="1226.5" width="52.7" height="1.6" fill="#ae303b"/><rect x="606" y="1227.8" width="52.7" height="1.6" fill="#b6464f"/><rect x="606" y="1229.1" width="52.7" height="1.6" fill="#b74852"/><rect x="606" y="1230.4" width="52.7" height="2.9" fill="#b4414b"/><rect x="606" y="1233.0" width="52.7" height="1.6" fill="#b4404b"/><rect x="606" y="1234.3" width="52.7" height="2.9" fill="#b84b54"/><rect x="606" y="1236.9" width="52.7" height="2.9" fill="#b23a45"/><rect x="606" y="1239.5" width="52.7" height="1.6" fill="#ba5059"/><rect x="606" y="1240.8" width="52.7" height="1.6" fill="#b5424c"/><rect x="606" y="1242.1" width="52.7" height="1.6" fill="#b5424c"/><rect x="606" y="1243.4" width="52.7" height="4.2" fill="#b84c55"/><rect x="606" y="1247.3" width="52.7" height="1.6" fill="#b5434d"/><rect x="606" y="1248.6" width="52.7" height="1.6" fill="#b23c46"/><rect x="606" y="1249.9" width="52.7" height="1.6" fill="#b84b54"/><rect x="606" y="1251.2" width="52.7" height="1.6" fill="#ba5059"/><rect x="606" y="1252.5" width="52.7" height="1.6" fill="#b6454f"/><rect x="606" y="1253.8" width="52.7" height="1.6" fill="#ba5059"/><rect x="606" y="1255.1" width="52.7" height="4.2" fill="#b33e48"/><rect x="606" y="1259.0" width="52.7" height="1.6" fill="#b94e57"/><rect x="606" y="1260.3" width="52.7" height="2.9" fill="#b74952"/><rect x="606" y="1262.9" width="52.7" height="1.6" fill="#b74852"/><rect x="606" y="1264.2" width="52.7" height="4.2" fill="#af333f"/><rect x="606" y="1268.1" width="52.7" height="4.2" fill="#ba5159"/><rect x="606" y="1272.0" width="52.7" height="4.2" fill="#bb535b"/><rect x="606" y="1275.9" width="52.7" height="1.6" fill="#b13944"/><rect x="606" y="1277.2" width="52.7" height="2.9" fill="#b5434d"/><rect x="606" y="1279.8" width="52.7" height="1.6" fill="#b84a54"/><rect x="606" y="1281.1" width="52.7" height="1.6" fill="#b94e57"/><rect x="606" y="1282.4" width="52.7" height="1.6" fill="#bb535c"/><rect x="606" y="1283.7" width="52.7" height="4.2" fill="#b4414b"/><rect x="606" y="1287.6" width="52.7" height="1.6" fill="#ba4f58"/><rect x="606" y="1288.9" width="52.7" height="2.9" fill="#b84b54"/><rect x="606" y="1291.5" width="52.7" height="1.6" fill="#b74852"/><rect x="606" y="1292.8" width="52.7" height="1.6" fill="#bd5860"/><rect x="606" y="1294.1" width="52.7" height="1.6" fill="#b94c56"/><rect x="606" y="1295.4" width="52.7" height="2.9" fill="#b74751"/><rect x="606" y="1298.0" width="52.7" height="1.6" fill="#d39395"/><rect x="606" y="1299.3" width="52.7" height="1.6" fill="#d79d9e"/><rect x="606" y="1300.6" width="52.7" height="2.9" fill="#d79ea0"/><rect x="606" y="1303.2" width="52.7" height="1.6" fill="#d69b9d"/><rect x="606" y="1304.5" width="52.7" height="1.6" fill="#d39496"/><rect x="606" y="1305.8" width="52.7" height="2.9" fill="#d39395"/><rect x="606" y="1308.4" width="52.7" height="4.2" fill="#d18d90"/><rect x="606" y="1312.3" width="52.7" height="1.3" fill="#d39295"/></g>
<g shape-rendering="crispEdges"><rect x="658.7" y="1194.0" width="52.3" height="1.6" fill="#c56c72"/><rect x="658.7" y="1195.3" width="52.3" height="4.2" fill="#bf5d65"/><rect x="658.7" y="1199.2" width="52.3" height="4.2" fill="#b74751"/><rect x="658.7" y="1203.1" width="52.3" height="4.2" fill="#ba5059"/><rect x="658.7" y="1207.0" width="52.3" height="1.6" fill="#bf5e65"/><rect x="658.7" y="1208.3" width="52.3" height="1.6" fill="#c2666d"/><rect x="658.7" y="1209.6" width="52.3" height="1.6" fill="#bf5d65"/><rect x="658.7" y="1210.9" width="52.3" height="4.2" fill="#bf5d65"/><rect x="658.7" y="1214.8" width="52.3" height="2.9" fill="#bf5e65"/><rect x="658.7" y="1217.4" width="52.3" height="4.2" fill="#be5c63"/><rect x="658.7" y="1221.3" width="52.3" height="2.9" fill="#c2656c"/><rect x="658.7" y="1223.9" width="52.3" height="4.2" fill="#ba5059"/><rect x="658.7" y="1227.8" width="52.3" height="1.6" fill="#bc545d"/><rect x="658.7" y="1229.1" width="52.3" height="1.6" fill="#c16169"/><rect x="658.7" y="1230.4" width="52.3" height="2.9" fill="#c3676e"/><rect x="658.7" y="1233.0" width="52.3" height="1.6" fill="#bf5f66"/><rect x="658.7" y="1234.3" width="52.3" height="1.6" fill="#c2666c"/><rect x="658.7" y="1235.6" width="52.3" height="4.2" fill="#b5434d"/><rect x="658.7" y="1239.5" width="52.3" height="1.6" fill="#c67075"/><rect x="658.7" y="1240.8" width="52.3" height="1.6" fill="#c56f74"/><rect x="658.7" y="1242.1" width="52.3" height="2.9" fill="#c16269"/><rect x="658.7" y="1244.7" width="52.3" height="4.2" fill="#bc565e"/><rect x="658.7" y="1248.6" width="52.3" height="2.9" fill="#c06067"/><rect x="658.7" y="1251.2" width="52.3" height="2.9" fill="#c3696f"/><rect x="658.7" y="1253.8" width="52.3" height="1.6" fill="#c1636a"/><rect x="658.7" y="1255.1" width="52.3" height="1.6" fill="#bf5e66"/><rect x="658.7" y="1256.4" width="52.3" height="4.2" fill="#ca7b80"/><rect x="658.7" y="1260.3" width="52.3" height="4.2" fill="#c2666d"/><rect x="658.7" y="1264.2" width="52.3" height="1.6" fill="#c46c72"/><rect x="658.7" y="1265.5" width="52.3" height="4.2" fill="#c1636a"/><rect x="658.7" y="1269.4" width="52.3" height="4.2" fill="#c8757a"/><rect x="658.7" y="1273.3" width="52.3" height="1.6" fill="#c2656c"/><rect x="658.7" y="1274.6" width="52.3" height="1.6" fill="#c9787d"/><rect x="658.7" y="1275.9" width="52.3" height="2.9" fill="#cc7f83"/><rect x="658.7" y="1278.5" width="52.3" height="1.6" fill="#bc565f"/><rect x="658.7" y="1279.8" width="52.3" height="1.6" fill="#c77378"/><rect x="658.7" y="1281.1" width="52.3" height="1.6" fill="#c3696f"/><rect x="658.7" y="1282.4" width="52.3" height="2.9" fill="#c06067"/><rect x="658.7" y="1285.0" width="52.3" height="4.2" fill="#c06067"/><rect x="658.7" y="1288.9" width="52.3" height="1.6" fill="#cb7e83"/><rect x="658.7" y="1290.2" width="52.3" height="2.9" fill="#c3696f"/><rect x="658.7" y="1292.8" width="52.3" height="1.6" fill="#c2666c"/><rect x="658.7" y="1294.1" width="52.3" height="2.9" fill="#bd5860"/><rect x="658.7" y="1296.7" width="52.3" height="1.6" fill="#c56c72"/><rect x="658.7" y="1298.0" width="52.3" height="2.9" fill="#bf5f66"/><rect x="658.7" y="1300.6" width="52.3" height="2.9" fill="#bb535c"/><rect x="658.7" y="1303.2" width="52.3" height="1.6" fill="#bf5e66"/><rect x="658.7" y="1304.5" width="52.3" height="1.6" fill="#bf5f66"/><rect x="658.7" y="1305.8" width="52.3" height="1.6" fill="#c3696f"/><rect x="658.7" y="1307.1" width="52.3" height="2.9" fill="#c46a70"/><rect x="658.7" y="1309.7" width="52.3" height="1.6" fill="#b84b54"/><rect x="658.7" y="1311.0" width="52.3" height="2.6" fill="#c77278"/></g>
<g shape-rendering="crispEdges"><rect x="711" y="1194.0" width="54" height="1.6" fill="#fffefe"/><rect x="711" y="1195.3" width="54" height="1.6" fill="#fcf9f9"/><rect x="711" y="1196.6" width="54" height="1.6" fill="#fefcfc"/><rect x="711" y="1197.9" width="54" height="2.9" fill="#fdf9f9"/><rect x="711" y="1200.5" width="54" height="1.6" fill="#fffefe"/><rect x="711" y="1201.8" width="54" height="4.2" fill="#ffffff"/><rect x="711" y="1205.7" width="54" height="4.2" fill="#fbf6f6"/><rect x="711" y="1209.6" width="54" height="1.6" fill="#fcf7f7"/><rect x="711" y="1210.9" width="54" height="4.2" fill="#fbf6f6"/><rect x="711" y="1214.8" width="54" height="1.6" fill="#ffffff"/><rect x="711" y="1216.1" width="54" height="1.6" fill="#fcf9f9"/><rect x="711" y="1217.4" width="54" height="1.6" fill="#fcf8f8"/><rect x="711" y="1218.7" width="54" height="1.6" fill="#fdfafa"/><rect x="711" y="1220.0" width="54" height="1.6" fill="#fcf8f8"/><rect x="711" y="1221.3" width="54" height="4.2" fill="#fcf8f8"/><rect x="711" y="1225.2" width="54" height="1.6" fill="#fcf9f9"/><rect x="711" y="1226.5" width="54" height="1.6" fill="#fdfbfb"/><rect x="711" y="1227.8" width="54" height="1.6" fill="#ffffff"/><rect x="711" y="1229.1" width="54" height="1.6" fill="#fdf9f9"/><rect x="711" y="1230.4" width="54" height="2.9" fill="#fdfafa"/><rect x="711" y="1233.0" width="54" height="1.6" fill="#fefcfc"/><rect x="711" y="1234.3" width="54" height="2.9" fill="#fcf8f8"/><rect x="711" y="1236.9" width="54" height="4.2" fill="#fefdfd"/><rect x="711" y="1240.8" width="54" height="1.6" fill="#f9f0f1"/><rect x="711" y="1242.1" width="54" height="1.6" fill="#faf4f4"/><rect x="711" y="1243.4" width="54" height="1.6" fill="#fefcfc"/><rect x="711" y="1244.7" width="54" height="1.6" fill="#fdf9f9"/><rect x="711" y="1246.0" width="54" height="4.2" fill="#fcf8f8"/><rect x="711" y="1249.9" width="54" height="4.2" fill="#fdf9f9"/><rect x="711" y="1253.8" width="54" height="2.9" fill="#fcf8f8"/><rect x="711" y="1256.4" width="54" height="1.6" fill="#ffffff"/><rect x="711" y="1257.7" width="54" height="1.6" fill="#fcf7f8"/><rect x="711" y="1259.0" width="54" height="1.6" fill="#fdfafa"/><rect x="711" y="1260.3" width="54" height="2.9" fill="#faf2f2"/><rect x="711" y="1262.9" width="54" height="4.2" fill="#fdf9f9"/><rect x="711" y="1266.8" width="54" height="2.9" fill="#fbf4f4"/><rect x="711" y="1269.4" width="54" height="2.9" fill="#fcf9f9"/><rect x="711" y="1272.0" width="54" height="1.6" fill="#faf2f2"/><rect x="711" y="1273.3" width="54" height="1.6" fill="#fbf5f5"/><rect x="711" y="1274.6" width="54" height="2.9" fill="#fdf9f9"/><rect x="711" y="1277.2" width="54" height="2.9" fill="#f9f1f2"/><rect x="711" y="1279.8" width="54" height="2.9" fill="#fcf7f7"/><rect x="711" y="1282.4" width="54" height="1.6" fill="#ffffff"/><rect x="711" y="1283.7" width="54" height="1.6" fill="#fffefe"/><rect x="711" y="1285.0" width="54" height="2.9" fill="#faf3f3"/><rect x="711" y="1287.6" width="54" height="4.2" fill="#fefdfd"/><rect x="711" y="1291.5" width="54" height="1.6" fill="#fffefe"/><rect x="711" y="1292.8" width="54" height="1.6" fill="#fdfafb"/><rect x="711" y="1294.1" width="54" height="1.6" fill="#fefdfd"/><rect x="711" y="1295.4" width="54" height="1.6" fill="#fdfafa"/><rect x="711" y="1296.7" width="54" height="1.6" fill="#fdfafa"/><rect x="711" y="1298.0" width="54" height="1.6" fill="#fefcfc"/><rect x="711" y="1299.3" width="54" height="1.6" fill="#fdfbfb"/><rect x="711" y="1300.6" width="54" height="1.6" fill="#fcf9f9"/><rect x="711" y="1301.9" width="54" height="1.6" fill="#fcf7f7"/><rect x="711" y="1303.2" width="54" height="1.6" fill="#ffffff"/><rect x="711" y="1304.5" width="54" height="1.6" fill="#fcf7f7"/><rect x="711" y="1305.8" width="54" height="4.2" fill="#fbf6f6"/><rect x="711" y="1309.7" width="54" height="3.9" fill="#fdfbfb"/></g>
<rect x="711" y="1194" width="54" height="119.3" fill="none" stroke="#2a2a2a" stroke-width="1.6"/>
<text x="596" y="1057.7" font-size="15.4" fill="#383838">Rhesus versus primates</text>
<text font-size="13.4" fill="#383838" text-anchor="middle" transform="translate(224,1130.7) rotate(-90)"><tspan font-style="italic">n</tspan> = 185</text>
<text font-size="13.4" fill="#383838" text-anchor="middle" transform="translate(224,1252) rotate(-90)"><tspan font-style="italic">n</tspan> = 280</text>
<text font-size="13.4" fill="#383838" text-anchor="middle" transform="translate(411.2,1130.7) rotate(-90)"><tspan font-style="italic">n</tspan> = 396</text>
<text font-size="13.4" fill="#383838" text-anchor="middle" transform="translate(411.2,1253.3) rotate(-90)"><tspan font-style="italic">n</tspan> = 239</text>
<text font-size="13.4" fill="#383838" text-anchor="middle" transform="translate(601.2,1130) rotate(-90)"><tspan font-style="italic">n</tspan> = 237</text>
<text font-size="13.4" fill="#383838" text-anchor="middle" transform="translate(601.2,1253.3) rotate(-90)"><tspan font-style="italic">n</tspan> = 289</text>
<text font-size="14.3" fill="#383838" text-anchor="end" textLength="48" lengthAdjust="spacingAndGlyphs" transform="translate(266.15,1329.5) rotate(-35)">Human</text>
<text font-size="14.3" fill="#383838" text-anchor="end" textLength="43" lengthAdjust="spacingAndGlyphs" transform="translate(316.2,1329.5) rotate(-35)">Chimp</text>
<text font-size="14.3" fill="#383838" text-anchor="end" textLength="48.5" lengthAdjust="spacingAndGlyphs" transform="translate(365.75,1329.5) rotate(-35)">Rhesus</text>
<text font-size="14.3" fill="#383838" text-anchor="end" textLength="48" lengthAdjust="spacingAndGlyphs" transform="translate(454,1329.5) rotate(-35)">Human</text>
<text font-size="14.3" fill="#383838" text-anchor="end" textLength="43" lengthAdjust="spacingAndGlyphs" transform="translate(504.85,1329.5) rotate(-35)">Chimp</text>
<text font-size="14.3" fill="#383838" text-anchor="end" textLength="48.5" lengthAdjust="spacingAndGlyphs" transform="translate(554.85,1329.5) rotate(-35)">Rhesus</text>
<text font-size="14.3" fill="#383838" text-anchor="end" textLength="48" lengthAdjust="spacingAndGlyphs" transform="translate(643.85,1329.5) rotate(-35)">Human</text>
<text font-size="14.3" fill="#383838" text-anchor="end" textLength="43" lengthAdjust="spacingAndGlyphs" transform="translate(693.85,1329.5) rotate(-35)">Chimp</text>
<text font-size="14.3" fill="#383838" text-anchor="end" textLength="48.5" lengthAdjust="spacingAndGlyphs" transform="translate(744,1329.5) rotate(-35)">Rhesus</text>
<text x="804" y="834" font-size="21.5" fill="#111" font-weight="bold">f</text>
<path d="M1126.9 897.5h0M1097.5 943.6h0M1119.2 892.5h0M1120.1 941.6h0M1097.9 929.0h0M1130.4 918.9h0M1105.7 929.7h0M1115.7 935.6h0M1112.6 919.3h0M1143.4 916.0h0M1130.7 936.1h0M1128.7 916.5h0M1102.4 927.2h0M1129.5 924.5h0M1131.9 892.5h0M1143.1 887.6h0M1088.7 924.9h0M1099.8 911.4h0M1114.0 919.6h0M1121.3 931.3h0M1114.4 935.5h0M1151.8 920.3h0M1112.9 953.7h0M1084.8 946.0h0M1127.6 906.4h0M1117.9 933.1h0M1147.5 931.2h0M1096.5 920.1h0M1093.9 924.6h0M1130.9 919.7h0M1120.3 920.9h0M1099.9 981.3h0M1089.6 930.5h0M1081.7 942.2h0M1116.6 899.9h0M1086.8 940.2h0M1116.9 913.6h0M1086.5 899.6h0M1097.2 909.6h0M1108.8 917.9h0M1144.2 902.6h0M1115.1 940.2h0M1100.2 951.7h0M1150.9 939.3h0M1063.8 909.7h0M1136.9 923.0h0M1128.5 933.3h0M1101.7 918.3h0M1120.1 929.5h0M1143.4 902.3h0M1115.3 943.3h0M1115.2 928.5h0M1111.2 910.5h0M1101.7 922.4h0M1127.8 913.4h0M1156.3 941.2h0M1111.4 944.5h0M1111.3 881.0h0M1081.4 937.8h0M1125.0 918.7h0M1130.0 945.6h0M1131.1 935.0h0M1089.3 920.8h0M1121.6 933.9h0M1096.9 931.9h0M1112.3 927.0h0M1093.1 969.4h0M1137.4 913.8h0M1088.8 957.8h0M1099.2 935.0h0M1071.8 911.7h0M1120.5 927.3h0M1119.0 918.2h0M1132.6 915.7h0M1136.4 890.6h0M1106.4 933.6h0M1095.5 933.0h0M1098.4 928.0h0M1118.1 913.3h0M1090.2 911.9h0M1106.3 927.8h0M1102.4 961.5h0M1117.1 953.4h0M1133.4 917.5h0M1142.0 904.5h0M1125.6 896.3h0M1111.4 898.0h0M1109.8 920.5h0M1099.3 918.6h0M1125.0 929.3h0M1087.7 932.0h0M1120.2 924.7h0M1093.6 942.1h0M1107.1 971.0h0M1101.0 902.8h0M1087.7 935.1h0M1144.4 902.9h0M1129.7 921.8h0M1086.8 882.0h0M1117.9 918.6h0M1143.5 901.4h0M1113.3 943.0h0M1109.2 927.8h0M1099.2 943.0h0M1093.0 931.9h0M1100.8 920.6h0M1131.5 913.4h0M1112.5 897.4h0M1124.6 946.3h0M1098.4 925.0h0M1095.3 916.2h0M1078.6 966.9h0M1130.8 909.0h0M1081.5 931.9h0M1137.7 936.3h0M1089.3 951.9h0M1093.2 959.8h0M1102.8 952.1h0M1113.2 885.6h0M1092.0 914.6h0M1134.3 957.9h0M1114.1 924.1h0M1105.6 912.6h0M1103.6 920.8h0M1104.6 929.0h0M1097.0 889.6h0M1110.9 944.1h0M1149.3 886.7h0M1108.2 936.9h0M1097.9 907.3h0M1105.7 938.6h0M1128.1 924.5h0M1111.0 891.4h0M1128.5 898.3h0M1120.0 900.0h0M1108.7 908.8h0M1132.0 925.9h0M1087.4 922.3h0M1109.7 914.7h0M1100.5 918.7h0M1130.4 878.5h0M1146.1 908.0h0M1139.4 927.5h0M1134.4 915.7h0M1137.4 911.5h0M1107.6 938.0h0M1136.0 916.6h0M1125.6 912.3h0M1072.9 925.3h0M1104.9 919.8h0M1121.2 953.0h0M1106.0 927.3h0M1119.4 906.2h0M1099.0 932.3h0M1123.9 952.7h0M1147.4 930.7h0M1137.2 914.8h0M1148.0 896.3h0M1111.3 954.0h0M1114.5 918.2h0M1122.4 943.3h0M1096.2 942.5h0M1117.4 938.0h0M1109.7 909.2h0M1103.9 903.6h0M1117.6 927.2h0M1132.9 910.0h0M1106.5 936.2h0M1111.1 918.8h0M1133.8 913.6h0M1100.2 950.8h0M1116.9 916.4h0M1133.6 927.4h0M1087.3 917.2h0M1108.7 946.4h0M1143.7 900.1h0M1113.2 919.4h0M1097.8 911.6h0M1103.7 934.7h0M1106.3 945.7h0M1131.6 890.2h0M1126.5 955.7h0M1106.2 937.2h0M1119.1 959.3h0M1070.9 944.2h0M1130.7 922.4h0M1154.1 927.0h0M1112.7 926.9h0M1096.1 910.0h0M1086.8 949.9h0M1105.1 934.7h0M1133.5 927.4h0M1121.6 929.8h0M1136.4 917.8h0M1117.0 951.2h0M1125.4 931.7h0M1128.9 910.9h0M1122.4 902.2h0M1119.2 937.6h0M1115.0 920.7h0M1089.6 920.4h0M1140.0 912.3h0M1114.2 915.9h0M1132.9 927.8h0M1130.2 932.1h0M1122.1 912.7h0M1087.5 920.2h0M1116.1 952.0h0M1103.4 937.8h0M1095.0 922.3h0M1096.9 928.0h0M1091.3 935.0h0M1146.8 907.4h0M1082.3 949.2h0M1109.3 953.3h0M1130.6 919.9h0M1110.6 924.0h0M1099.0 947.9h0M1052.7 969.4h0M1116.5 911.5h0M1108.5 957.1h0M1105.5 925.8h0M1087.3 908.1h0M1090.6 930.7h0M1091.2 914.9h0M1087.9 946.9h0M1133.2 940.1h0M1101.7 918.2h0M1118.7 952.7h0M1123.5 926.3h0M1135.2 947.7h0M1126.5 913.5h0M1104.8 933.9h0M1119.3 934.3h0M1105.3 939.7h0M1114.5 912.3h0M1081.6 932.9h0M1117.8 897.1h0M1097.8 907.1h0M1103.4 918.7h0M1116.1 918.7h0M1105.4 943.3h0M1140.2 891.5h0M1109.7 928.2h0M1107.9 948.7h0M1090.7 923.6h0M1130.0 923.3h0M1094.1 948.3h0M1100.2 916.0h0M1112.8 948.9h0M1089.7 925.4h0M1117.6 892.8h0M1139.3 913.6h0M1098.9 924.9h0M1090.2 942.7h0M1131.0 908.7h0M1129.4 892.8h0M1104.0 913.2h0M1113.3 918.9h0M1116.2 914.2h0M1085.5 955.8h0M1113.6 915.8h0M1102.7 929.1h0M1085.1 915.9h0M1120.6 896.4h0M1104.1 928.6h0M1113.2 900.8h0M1122.6 914.9h0M1080.6 948.4h0M1083.9 935.9h0M1128.2 919.1h0M1094.3 894.8h0M1090.9 906.9h0M1134.0 913.9h0M1137.5 936.0h0M1101.3 932.9h0M1119.0 925.7h0M1144.4 921.9h0M1107.5 946.8h0M1121.0 908.4h0M1097.5 950.4h0M1085.5 912.2h0M1126.9 915.6h0M1126.3 912.2h0M1120.5 950.0h0M1121.7 909.8h0M1133.5 901.9h0M1098.9 923.9h0M1084.9 907.7h0M1085.7 920.1h0M1096.8 943.0h0M1094.8 935.2h0M1119.1 903.4h0M1106.2 911.6h0M1128.4 884.6h0M1100.5 922.6h0M1125.0 918.4h0M1123.7 932.7h0M1105.0 937.4h0M1099.7 943.5h0M1109.9 946.3h0M1100.9 917.8h0M1081.9 951.5h0M1104.1 945.3h0M1092.8 897.9h0M1118.1 930.8h0M1097.8 955.5h0M1089.7 970.9h0M1122.4 930.5h0M1129.1 920.0h0M1073.7 903.1h0M1121.5 906.8h0M1101.2 937.5h0M1108.3 895.0h0M1087.9 950.0h0M1121.6 955.8h0M1140.0 936.5h0M1134.3 920.9h0M1105.0 946.4h0M1139.4 921.5h0M1086.3 921.1h0M1109.1 916.6h0M1104.1 920.7h0M1120.4 922.0h0M1080.7 925.2h0M1138.0 909.7h0M1129.5 906.2h0M1106.0 908.2h0M1107.3 943.3h0M1087.9 913.9h0M1125.2 910.1h0M1101.1 959.1h0M1126.6 922.1h0M1100.2 938.6h0M1100.9 959.7h0M1123.6 909.3h0M1128.4 926.1h0M1088.0 955.1h0M1105.9 896.5h0M1129.5 919.2h0M1120.8 908.2h0M1113.0 920.5h0M1115.8 933.6h0M1090.1 940.6h0M1133.7 945.5h0M1103.5 934.3h0M1112.5 932.2h0M1126.8 926.8h0M1111.7 912.5h0M1085.0 913.7h0M1131.4 941.7h0M1110.1 938.0h0M1104.9 913.3h0M1076.2 920.5h0M1120.0 922.5h0M1153.9 921.1h0M1083.3 926.3h0M1114.6 934.7h0M1071.4 968.8h0M1142.8 941.8h0M1138.1 903.1h0M1070.1 933.4h0M1124.0 902.2h0M1137.1 895.8h0M1111.1 929.1h0M1108.1 916.8h0M1094.1 948.1h0M1155.5 895.8h0M1132.2 922.8h0M1095.7 936.6h0M1096.8 939.7h0M1082.2 922.6h0M1118.2 909.3h0M1113.1 936.6h0M1150.3 897.6h0M1122.6 906.5h0M1106.1 913.8h0M1097.7 911.5h0M1129.6 905.3h0M1119.3 920.2h0M1116.2 911.1h0M1103.3 915.0h0M1126.5 942.1h0M1079.4 928.9h0M1105.4 940.3h0M1088.3 950.4h0M1080.6 939.8h0M1082.4 962.5h0M1109.4 899.6h0M1135.2 921.0h0M1119.0 926.9h0M1109.5 938.7h0M1112.0 942.7h0M1097.8 931.5h0M1110.3 890.4h0M1095.2 948.5h0M1123.9 911.6h0M1124.6 923.3h0M1083.1 939.1h0M1087.6 933.0h0M1144.8 920.8h0M1113.6 905.8h0M1086.5 919.2h0M1105.2 938.5h0M1104.7 943.8h0M1127.8 918.6h0M1102.9 919.2h0M1083.3 980.3h0M1136.5 927.7h0M1125.9 936.3h0M1077.2 953.5h0M1128.9 913.7h0M1099.6 916.9h0M1106.0 923.7h0M1091.2 969.7h0M1113.2 913.2h0M1094.6 902.9h0M1116.8 893.8h0M1124.0 900.5h0M1106.8 951.6h0M1153.4 890.7h0M1124.6 937.1h0M1128.5 938.0h0M1121.4 906.7h0M1121.2 939.4h0M1123.1 918.7h0M1121.9 900.5h0M1099.0 943.1h0M1071.4 910.9h0M1096.2 907.5h0M1118.4 902.8h0M1116.0 915.7h0M1107.0 918.7h0M1091.5 913.4h0M1079.4 943.3h0M1104.0 925.8h0M1109.2 942.7h0M1112.4 971.6h0M1097.5 930.7h0M1097.8 912.8h0M1108.2 918.4h0M1089.4 916.0h0M1125.1 947.6h0M1137.7 937.9h0M1088.5 918.1h0M1144.1 905.1h0M1108.0 938.8h0M1096.9 926.5h0M1117.6 940.5h0M1120.4 960.7h0M1115.2 940.3h0M1086.5 896.9h0M1122.2 928.0h0M1090.0 907.6h0M1112.6 938.5h0M1065.7 923.2h0M1124.9 913.4h0M1090.5 963.2h0M1132.4 925.1h0M1124.8 965.8h0M1105.4 915.5h0M1109.9 895.0h0M1127.4 903.4h0M1123.6 926.2h0M1095.7 944.6h0M1134.5 922.5h0M1070.5 934.3h0M1112.1 934.2h0M1118.4 939.2h0M1160.3 919.4h0M1092.1 929.5h0M1114.2 910.2h0M1115.1 913.6h0M1111.2 930.4h0M1090.9 944.2h0M1109.7 947.5h0M1126.0 926.8h0M1133.1 905.9h0M1105.0 875.4h0M1137.8 929.6h0M1119.2 933.7h0M1093.2 928.4h0M1101.5 913.7h0M1084.3 929.0h0M1135.6 914.4h0M1147.0 881.7h0M1087.7 938.9h0M1100.0 903.1h0M1101.5 964.4h0M1098.6 935.1h0M1107.7 929.8h0M1111.3 939.6h0M1110.0 934.2h0M1102.4 933.4h0M1126.6 917.3h0M1123.0 935.4h0M1078.4 938.6h0M1126.7 922.2h0M1100.4 956.2h0M1116.8 938.6h0M1078.8 929.2h0M1111.8 904.6h0M1086.9 956.9h0M1113.1 898.7h0M1114.3 914.0h0M1084.5 928.9h0M1082.2 965.6h0M1124.1 902.8h0M1097.2 927.1h0M1121.3 926.7h0M1111.6 919.7h0M1094.5 949.5h0M1119.1 884.0h0M1103.4 935.7h0M1147.1 926.7h0M1097.0 897.0h0M1124.1 909.4h0M1070.2 915.5h0M1106.2 909.9h0M1121.4 891.0h0M1127.1 889.5h0M1098.8 909.9h0M1122.7 931.0h0M1085.1 936.7h0M1094.6 937.9h0M1101.8 939.4h0M1113.4 922.2h0M1092.2 944.2h0M1115.4 933.2h0M1102.1 944.2h0M1076.2 940.0h0M1091.6 932.6h0M1105.3 934.2h0M1128.1 934.9h0M1133.2 913.3h0M1162.1 926.3h0M1098.5 922.4h0M1126.4 925.9h0M1126.3 919.0h0M1083.7 927.9h0M1127.8 913.7h0M1109.5 941.0h0M1125.6 896.3h0M1084.7 922.0h0M1077.0 931.5h0M1060.0 943.1h0M1123.8 946.7h0M1085.7 930.7h0M1106.5 921.3h0M1138.0 937.9h0M1116.0 957.5h0M1053.2 959.0h0M1058.8 931.7h0M1128.3 911.7h0M1080.0 947.6h0M1078.3 938.2h0M1091.7 911.8h0M1119.5 944.9h0M1139.8 913.3h0M1128.3 919.9h0M1136.4 898.1h0M1127.0 896.2h0M1123.7 916.0h0M1097.2 965.9h0M1135.8 907.3h0M1090.6 916.2h0M1115.1 922.2h0M1147.5 897.1h0M1085.6 930.7h0M1131.5 899.4h0M1122.3 928.3h0M1119.1 955.5h0M1136.7 918.6h0M1101.1 940.3h0M1115.1 938.3h0M1092.7 947.1h0M1145.6 916.9h0M1121.8 915.6h0M1099.9 914.4h0M1108.9 938.6h0M1092.3 937.1h0M1102.6 903.9h0M1062.9 919.2h0M1140.2 889.6h0M1098.1 943.1h0M1136.4 905.8h0M1117.8 938.1h0M1106.4 946.9h0M1144.0 896.9h0M1103.6 908.6h0M1114.8 959.0h0M1123.1 934.5h0M1118.3 930.9h0M1092.6 936.0h0M1132.4 939.4h0M1093.0 956.6h0M1100.0 912.7h0M1126.2 910.8h0M1121.7 895.1h0M1141.2 888.2h0M1095.1 940.5h0M1127.2 907.4h0M1102.1 931.2h0M1129.9 921.8h0M1097.5 923.0h0M1101.2 917.7h0M1116.5 928.6h0M1094.9 911.9h0M1095.1 927.4h0M1105.1 925.9h0M1104.7 909.3h0M1114.1 942.2h0M1087.9 918.7h0M1107.9 904.2h0M1121.0 899.4h0M1084.8 938.5h0M1136.1 939.5h0M1125.9 921.5h0M1131.9 924.2h0M1097.8 914.4h0M1153.9 933.0h0M1117.5 936.8h0M1121.5 913.9h0M1097.9 952.4h0M1113.5 923.6h0M1129.4 920.1h0M1132.7 913.6h0M1140.8 898.0h0M1086.0 936.4h0M1120.8 926.0h0M1119.3 892.8h0M1095.8 940.8h0M1095.5 910.4h0M1155.9 926.3h0M1158.1 935.1h0M1115.1 920.6h0M1118.9 934.1h0M1090.6 933.4h0M1132.4 921.8h0M1120.6 913.3h0M1141.0 934.4h0M1143.5 881.2h0M1090.5 910.6h0M1077.1 948.1h0M1107.3 925.6h0M1076.9 946.6h0M1081.5 916.1h0M1094.9 924.1h0M1103.2 917.4h0M1063.4 938.7h0M1084.3 948.5h0M1119.9 907.3h0M1095.4 937.5h0M1150.5 911.6h0M1131.3 900.6h0M1127.7 921.8h0M1109.8 909.8h0M1060.2 952.1h0M1120.8 911.8h0M1124.2 929.5h0M1096.7 953.0h0M1116.5 923.3h0M1114.4 962.6h0M1104.6 944.9h0M1130.9 906.6h0M1125.1 911.1h0M1134.5 913.5h0M1096.6 926.1h0M1113.2 917.9h0M1121.8 920.2h0M1116.9 923.6h0M1107.5 944.5h0M1098.0 936.3h0M1146.6 918.4h0M1095.1 919.0h0M1121.7 926.8h0M1130.7 936.3h0M1090.3 939.5h0M1104.9 930.7h0M1112.0 908.4h0M1113.4 916.9h0M1107.3 943.5h0M1110.9 942.1h0M1125.4 925.4h0M1091.9 931.7h0M1114.6 932.7h0M1091.7 935.8h0M1102.0 936.3h0M1058.3 953.3h0M1152.9 885.0h0M1132.4 922.6h0M1131.6 909.0h0M1112.8 924.5h0M1112.5 954.5h0M1131.5 903.3h0M1117.2 916.7h0M1096.0 931.1h0M1099.3 946.0h0M1117.5 884.4h0M1146.5 913.5h0M1103.7 890.6h0M1095.3 941.3h0M1120.0 888.9h0M1142.6 950.1h0M1075.0 956.2h0M1134.4 933.9h0M1098.1 908.6h0M1092.5 903.7h0M1075.5 946.4h0M1137.0 935.6h0M1117.0 908.2h0M1126.9 912.3h0M1120.9 909.8h0M1114.6 932.2h0M1149.6 933.1h0M1113.8 936.7h0M1106.6 907.6h0M1079.8 960.6h0M1120.0 921.3h0M1113.7 927.4h0M1121.6 928.7h0M1133.4 921.3h0M1083.8 952.6h0M1120.8 938.1h0M1079.2 926.4h0M1111.3 910.0h0M1139.3 942.7h0M1120.2 936.2h0M1107.0 919.2h0M1115.0 928.5h0M1113.7 920.6h0M1051.0 927.0h0M1125.2 915.1h0M1108.5 898.8h0M1104.6 918.3h0M1097.2 963.5h0M1115.5 918.2h0M1074.5 913.1h0M1121.7 918.3h0M1092.1 953.5h0M1106.4 924.6h0M1103.6 929.5h0M1117.8 920.2h0M1120.2 925.3h0M1076.8 929.7h0M1117.8 906.5h0M1118.7 944.1h0M1120.1 902.1h0M1147.4 915.5h0M1116.0 924.3h0M1133.1 911.2h0M1160.9 907.0h0M1105.6 905.3h0M1126.5 933.1h0M1113.0 934.3h0M1082.9 923.5h0M1099.9 925.8h0M1123.4 933.9h0M1126.2 928.3h0M1116.6 931.1h0M1090.5 968.7h0M1098.2 941.4h0M1161.6 915.8h0M1117.9 933.9h0M1134.4 905.5h0M1116.5 918.7h0M1068.6 951.2h0M1107.3 894.1h0M1156.3 921.9h0M1120.9 917.4h0M1159.7 923.3h0M1117.7 913.3h0M1109.9 932.8h0M1121.0 915.8h0M1095.7 937.1h0M1118.0 931.2h0M1138.9 935.2h0M1093.5 913.1h0M1107.6 933.7h0M1130.8 926.9h0M1074.6 938.5h0M1127.0 918.5h0M1142.7 910.3h0M1117.9 895.8h0M1099.2 984.3h0M1120.4 905.9h0M1116.9 941.4h0M1124.9 897.7h0M1117.7 941.0h0M1104.4 920.5h0M1081.4 914.9h0M1082.9 898.9h0M1098.3 913.2h0M1119.6 959.9h0M1123.2 936.4h0M1102.3 924.6h0M1077.5 942.1h0M1118.0 908.8h0M1131.3 911.4h0M1054.2 934.9h0M1091.3 964.4h0M1118.3 905.1h0M1109.7 931.7h0M1087.7 942.0h0M1124.7 918.9h0M1114.4 933.9h0M1098.9 942.1h0M1081.8 910.6h0M1080.5 912.0h0M1122.4 941.4h0M1125.8 911.3h0M1126.4 924.2h0M1101.1 933.9h0M1108.7 951.8h0M1131.8 933.7h0M1138.3 897.3h0M1071.1 955.4h0M1095.1 931.3h0M1088.9 923.4h0M1103.3 950.3h0M1127.3 936.5h0M1122.6 888.6h0M1109.2 935.2h0M1075.6 926.8h0M1103.3 931.2h0M1132.6 939.6h0M1121.6 896.6h0M1128.4 937.0h0M1134.6 925.0h0M1140.0 914.6h0M1132.6 952.4h0M1113.5 965.4h0M1119.1 941.1h0M1122.8 917.6h0M1153.6 900.6h0M1126.7 955.6h0M1115.5 942.3h0M1107.9 927.3h0M1122.3 906.8h0M1127.8 915.0h0M1100.6 929.0h0M1115.5 917.0h0M1076.7 925.9h0M1083.6 923.9h0M1104.6 957.2h0M1118.4 942.3h0M1123.1 918.4h0M1108.9 910.0h0M1093.6 941.7h0M1109.2 915.2h0M1107.4 982.7h0M1108.8 934.6h0M1100.3 957.1h0M1085.5 937.9h0M1126.1 935.6h0M1108.8 935.6h0M1124.8 940.2h0M1121.7 899.2h0M1121.4 938.6h0M1100.4 902.7h0M1160.8 911.9h0M1103.8 908.3h0M1104.3 920.1h0M1096.8 933.0h0M1076.2 930.3h0M1057.3 958.2h0M1115.5 912.9h0M1139.6 906.0h0M1108.9 913.6h0M1074.6 974.4h0M1112.9 967.7h0M1133.3 927.2h0M1118.1 893.9h0M1113.4 917.7h0M1089.9 910.7h0M1098.7 941.6h0M1120.3 914.6h0M1093.9 941.7h0M1081.5 940.9h0M1077.3 950.0h0M1132.3 928.9h0M1097.4 913.0h0M1112.0 913.8h0M1108.1 944.0h0M1130.9 916.7h0M1109.0 919.9h0M1138.2 913.7h0M1124.4 952.1h0M1100.7 934.9h0M1102.1 937.9h0M1114.0 908.6h0M1118.1 916.5h0M1120.0 922.9h0M1140.9 921.1h0M1111.5 933.1h0M1106.5 936.6h0M1090.9 931.6h0M1119.2 927.1h0M1137.4 916.2h0M1084.5 936.4h0M1127.8 911.4h0M1106.1 948.8h0M1111.0 922.8h0M1150.9 903.4h0M1110.8 918.3h0M1108.5 914.0h0M1106.1 927.7h0M1085.1 938.5h0M1086.7 937.1h0M1113.0 907.1h0M1111.8 938.8h0M1117.7 932.9h0M1071.4 931.1h0M1104.0 938.8h0M1101.6 917.0h0M1112.1 941.0h0M1127.4 942.9h0M1123.4 939.9h0M1106.1 900.4h0M1106.2 924.0h0M1100.2 924.5h0M1125.5 914.6h0M1139.4 923.9h0M1088.7 922.0h0M1093.2 915.4h0M1109.5 891.3h0M1117.6 941.0h0M1094.6 935.3h0M1116.7 955.8h0M1120.1 925.9h0M1123.2 928.0h0M1127.2 908.7h0M1106.2 933.1h0M1080.9 969.0h0M1118.5 954.6h0M1121.4 908.7h0M1112.3 907.8h0M1159.9 949.3h0M1109.7 903.1h0M1072.1 965.1h0M1102.8 924.5h0M1120.7 916.4h0M1103.6 925.8h0M1107.5 936.5h0M1141.5 908.8h0M1080.6 926.8h0M1095.3 937.3h0M1145.9 900.3h0M1105.5 938.6h0M1135.5 905.8h0M1140.6 928.5h0M1165.8 934.9h0M1120.5 914.2h0M1102.8 925.4h0M1076.8 931.5h0M1109.6 893.4h0M1110.9 893.0h0M1120.5 918.1h0M1136.2 911.1h0M1141.2 912.4h0M1075.8 916.4h0M1084.7 910.7h0M1112.2 941.3h0M1116.7 946.3h0M1095.1 939.5h0M1125.2 903.4h0M1091.7 932.6h0M1123.7 922.4h0M1132.8 930.3h0M1132.1 905.9h0M1120.5 903.4h0M1079.2 930.2h0M1118.2 926.4h0M1144.3 943.8h0M1116.5 917.5h0M1107.2 925.0h0M1128.2 905.3h0M1118.6 900.0h0M1119.4 897.7h0M1106.5 931.0h0M1094.6 965.5h0M1117.6 923.2h0M1105.6 940.5h0M1093.5 920.3h0M1137.7 909.8h0M1137.8 892.3h0M1133.5 904.0h0M1107.3 927.4h0M1128.9 906.4h0M1103.4 920.6h0M1123.2 913.9h0M1116.0 932.1h0M1112.4 933.0h0M1125.4 947.9h0M1126.0 932.2h0M1131.6 921.8h0M1087.4 955.4h0M1115.4 919.3h0M1107.2 937.6h0M1116.3 903.5h0M1119.1 910.4h0M1114.4 916.6h0M1126.8 950.9h0M1109.6 943.8h0M1133.2 928.6h0M1108.2 926.9h0M1103.7 917.4h0M1085.0 969.5h0M1100.2 938.9h0M1115.8 929.6h0M1113.9 928.8h0M1143.3 922.0h0M1133.9 920.1h0M1101.3 942.2h0M1112.1 946.1h0M1078.6 925.7h0M1126.4 925.6h0M1109.0 870.0h0M1102.4 913.2h0M1096.8 933.1h0M1097.1 925.0h0M1079.9 922.7h0M1115.7 963.2h0M1125.8 926.2h0M1117.2 949.2h0M1096.3 943.3h0M1133.6 929.0h0M1120.3 925.3h0M1105.5 919.2h0M1108.0 944.6h0M1104.5 912.5h0M1095.6 927.8h0M1085.2 931.2h0M1125.4 919.2h0M1084.0 936.5h0M1085.9 947.5h0M1073.2 920.2h0M1114.5 944.2h0M1080.6 947.0h0M1108.9 911.6h0M1089.2 931.0h0M1133.5 911.8h0M1145.5 931.9h0M1083.1 939.5h0M1106.8 921.2h0M1122.5 940.9h0M1091.6 945.7h0M1128.0 922.3h0M1083.7 944.8h0M1095.7 964.3h0M1145.1 907.2h0M1128.3 916.3h0M1091.2 905.7h0M1130.7 933.4h0M1085.3 941.0h0M1130.2 916.6h0M1106.2 924.6h0M1106.3 913.1h0M1120.5 914.0h0M1092.5 911.7h0M1122.0 933.9h0M1118.8 949.2h0M1122.2 914.7h0M1119.6 929.0h0M1094.2 946.1h0M1123.5 949.4h0M1116.2 931.9h0M1105.0 962.9h0M1087.5 969.2h0M1130.6 909.6h0M1127.9 922.9h0M1102.9 915.2h0M1097.6 915.7h0M1097.2 929.3h0M1067.7 937.3h0M1103.5 916.3h0M1138.1 930.7h0M1123.1 958.6h0M1128.2 921.4h0M1143.4 915.4h0M1101.8 942.0h0M1140.5 934.0h0M1088.1 941.7h0M1101.3 922.2h0M1103.5 900.1h0M1088.7 930.5h0M1086.5 965.5h0M1118.2 917.6h0M1113.6 936.1h0M1091.2 939.2h0M1098.8 950.0h0M1090.9 916.7h0M1145.7 928.1h0M1082.0 925.6h0M1101.0 889.6h0M1136.8 917.0h0M1116.3 961.3h0M1089.7 936.3h0M1086.7 950.0h0M1093.0 912.3h0M1111.7 917.6h0M1122.6 916.4h0M1103.5 921.9h0M1117.6 948.8h0M1103.0 919.9h0M1078.4 916.4h0M1127.1 942.9h0M1084.6 910.7h0M1094.5 930.4h0M1135.1 933.1h0M1118.7 920.4h0M1079.2 929.1h0M1090.1 922.7h0M1129.1 901.8h0M1096.7 920.1h0M1118.1 900.3h0M1123.3 940.1h0M1092.7 943.8h0M1104.5 952.6h0M1161.7 907.4h0M1105.8 926.1h0M1106.6 955.0h0M1094.6 912.1h0M1142.4 908.9h0M1095.9 957.0h0M1069.4 930.4h0M1110.3 924.2h0M1126.3 912.3h0M1114.2 911.6h0M1135.3 904.3h0M1145.7 940.6h0M1098.3 912.3h0M1086.3 935.7h0M1109.2 943.6h0M1128.6 918.0h0M1140.9 914.3h0M1136.5 922.0h0M1103.0 948.1h0M1123.4 923.1h0M1096.4 935.8h0M1099.0 925.1h0M1115.4 938.9h0M1107.6 891.9h0M1124.2 919.8h0M1137.5 928.5h0M1115.0 914.9h0M1095.0 958.4h0M1157.8 912.1h0M1112.0 931.8h0M1116.8 941.2h0M1107.8 926.5h0M1135.1 916.2h0M1102.6 938.2h0M1119.0 923.9h0M1143.4 944.0h0M1142.6 898.6h0M1096.6 941.2h0M1089.7 922.6h0M1140.9 929.2h0M1091.0 927.3h0M1122.8 902.0h0M1129.4 938.5h0M1094.8 940.5h0M1149.3 917.2h0M1083.9 935.4h0M1117.1 935.6h0M1101.1 938.0h0M1113.4 938.9h0M1140.6 922.6h0M1087.4 935.6h0M1098.9 935.2h0M1132.8 915.7h0M1106.0 907.5h0M1115.2 912.2h0M1130.5 921.4h0M1111.9 934.1h0M1137.0 903.5h0M1080.2 921.5h0M1134.2 915.5h0M1100.8 934.8h0M1109.2 936.5h0M1120.6 915.7h0M1130.7 914.1h0M1114.4 934.3h0M1108.3 910.3h0M1119.0 888.2h0M1116.8 930.7h0M1089.5 962.8h0M1131.4 917.7h0M1128.5 917.3h0M1127.2 906.8h0M1120.8 895.0h0M1106.1 921.4h0M1091.8 936.6h0M1110.0 953.7h0M1112.2 907.4h0M1102.7 971.9h0M1087.0 939.4h0M1101.6 911.5h0M1102.8 908.7h0M1108.2 910.8h0M1120.0 920.9h0M1123.8 933.1h0M1126.0 923.5h0M1085.3 904.6h0M1084.8 923.5h0M1115.0 940.6h0M1112.8 922.0h0M1128.3 937.0h0M1122.7 969.5h0M1129.7 936.2h0M1131.2 904.4h0M1103.1 926.3h0M1129.5 917.7h0M1084.7 907.0h0M1155.2 913.8h0M1095.6 898.8h0M1098.6 917.2h0M1107.0 928.4h0M1108.8 931.0h0M1084.9 947.5h0M1137.7 907.9h0M1094.2 930.6h0M1115.3 938.4h0M1119.0 905.9h0M1088.3 907.4h0M1117.2 906.3h0M1115.9 942.4h0M1106.2 917.9h0M1097.9 911.5h0M1124.3 980.6h0M1089.9 935.2h0M1113.1 943.6h0M1111.1 898.0h0M1118.6 933.3h0M1116.3 928.1h0M1118.8 906.9h0M1130.1 930.5h0M1103.9 916.2h0M1087.9 927.0h0M1078.8 955.2h0M1133.7 899.1h0M1137.5 922.8h0M1103.3 957.4h0M1124.7 930.9h0M1076.7 925.0h0M1123.2 905.4h0M1130.8 922.9h0M1093.5 922.4h0M1079.4 930.3h0M1128.4 907.7h0M1068.3 917.5h0M1121.7 933.2h0M1087.2 883.2h0M1141.6 914.0h0M1127.8 918.5h0M1094.5 950.3h0M1103.0 936.5h0M1081.2 913.7h0M1107.9 904.6h0M1076.6 947.0h0M1123.3 950.1h0M1095.6 905.2h0M1117.9 927.1h0M1108.7 944.6h0M1091.3 914.1h0M1126.9 955.3h0M1125.0 959.3h0M1126.9 936.0h0M1096.8 964.7h0M1105.7 929.9h0M1088.5 915.9h0M1121.2 920.8h0M1128.0 941.9h0M1145.2 911.6h0M1097.6 939.6h0M1106.8 932.1h0M1130.6 898.9h0M1100.9 949.6h0M1100.3 923.5h0M1142.9 886.3h0M1107.0 908.6h0M1110.4 925.1h0M1106.4 915.8h0M1147.0 890.2h0M1119.2 909.6h0M1107.8 895.6h0M1130.4 937.5h0M1094.3 946.9h0M1139.8 911.8h0M1149.9 923.9h0M1120.5 926.8h0M1098.4 981.1h0M1112.5 910.1h0M1126.1 922.3h0M1128.5 898.4h0M1100.1 906.3h0M1111.6 912.2h0M1094.5 939.4h0M1099.9 947.2h0M1112.6 912.7h0M1118.7 919.3h0M1107.8 940.8h0M1116.7 923.1h0M1128.6 939.0h0M1119.6 892.6h0M1117.0 926.7h0M1123.6 897.5h0M1114.3 937.3h0M1094.7 927.7h0M1084.9 910.3h0M1087.9 942.8h0M1147.6 935.6h0M1109.5 929.3h0M1077.2 901.0h0M1107.2 925.3h0M1100.3 947.3h0M1108.4 947.4h0M1108.2 909.2h0M1125.4 907.4h0M1101.8 928.0h0M1137.7 909.4h0M1090.5 953.4h0M1103.9 925.3h0M1096.0 931.0h0M1123.1 928.1h0M1122.0 944.9h0M1104.6 904.3h0M1125.9 915.0h0M1110.5 929.8h0M1073.1 949.2h0M1144.0 922.2h0M1119.7 935.7h0M1102.5 916.9h0M1119.3 919.6h0M1124.6 916.8h0M1102.8 912.5h0M1075.7 931.2h0M1097.6 914.2h0M1118.9 940.4h0M1103.4 972.1h0M1124.3 929.5h0M1135.5 951.1h0M1113.0 914.6h0M1108.2 951.0h0M1126.9 873.3h0M1059.4 929.1h0M1081.3 933.4h0M1134.8 894.1h0M1099.3 923.9h0M1086.8 920.4h0M1136.7 936.5h0M1140.1 931.1h0M1103.7 919.4h0M1129.1 929.8h0M1139.6 923.6h0M1118.3 945.0h0M1118.8 903.6h0M1107.2 933.1h0M1088.1 909.1h0M1112.6 921.7h0M1115.5 905.3h0M1107.4 905.2h0M1109.4 907.0h0M1143.5 931.6h0M1113.1 942.9h0M1079.4 944.2h0M1116.8 907.5h0M1125.7 906.1h0M1101.5 903.5h0M1093.8 910.7h0M1089.2 941.7h0M1093.9 922.0h0M1131.5 901.3h0M1105.1 913.8h0M1127.9 930.8h0M1132.8 903.4h0M1096.6 918.9h0M1094.0 942.2h0M1124.9 929.7h0M1126.3 951.3h0M1111.8 921.6h0M1125.2 903.1h0M1126.4 934.8h0M1113.7 901.0h0M1122.7 959.7h0M1100.2 931.8h0M1090.7 937.6h0M1114.1 916.3h0M1123.0 931.4h0M1129.1 935.8h0M1153.4 912.1h0M1124.0 922.4h0M1110.0 929.9h0M1120.3 928.1h0M1088.3 950.6h0M1078.2 953.2h0M1134.4 876.2h0M1106.5 933.0h0M1124.8 918.0h0M1125.8 909.0h0M1123.4 911.2h0M1130.0 940.8h0M1110.0 916.6h0M1125.9 912.5h0M1121.6 918.0h0M1129.0 920.4h0M1115.1 928.8h0M1115.4 918.9h0M1073.8 943.0h0M1122.8 934.7h0M1117.5 939.5h0M1096.4 931.0h0M1098.6 906.8h0M1102.3 919.9h0M1109.1 921.2h0M1081.1 906.3h0M1097.8 933.6h0M1088.7 927.6h0M1126.7 903.2h0M1110.7 916.7h0M1114.5 908.2h0M1110.7 930.3h0M1086.8 929.4h0M1118.0 930.7h0M1115.3 939.1h0M1132.0 900.4h0M1097.9 982.1h0M1110.8 897.9h0M1133.9 926.1h0M1108.5 933.9h0M1107.1 909.1h0M1115.7 915.5h0M1093.4 911.6h0M1088.7 932.0h0M1080.2 936.6h0M1110.6 940.4h0M1120.2 916.4h0M1099.5 914.0h0M1109.2 932.9h0M1119.1 894.7h0M1120.8 933.0h0M1089.1 938.6h0M1111.2 904.5h0M1154.4 898.2h0M1113.4 886.5h0M1127.3 931.4h0M1119.8 909.9h0M1117.8 925.5h0M1110.6 911.4h0M1077.7 895.9h0M1072.1 921.6h0M1110.6 926.7h0M1101.2 915.5h0M1117.3 911.3h0M1119.7 886.9h0M1092.6 937.2h0M1104.5 903.3h0M1109.4 922.1h0M1130.0 892.5h0M1100.6 952.5h0M1087.7 921.6h0M1138.9 913.5h0M1125.7 941.2h0M1082.8 936.8h0M1116.0 940.9h0M1132.7 902.6h0M1084.2 965.1h0M1136.8 913.8h0M1116.8 926.0h0M1100.0 950.5h0M1122.9 940.6h0M1097.7 956.3h0M1112.6 921.7h0M1109.1 935.4h0M1118.8 917.0h0M1143.1 938.0h0M1081.3 929.0h0M1109.6 916.9h0M1100.3 937.0h0M1141.1 907.4h0M1140.1 916.0h0M1118.2 909.7h0M1091.7 908.5h0M1107.0 931.5h0M1102.2 907.6h0M1131.8 923.7h0M1125.3 950.5h0M1112.6 937.4h0M1132.9 894.4h0M1115.8 903.6h0M1088.9 919.8h0M1124.8 925.0h0M1141.7 903.0h0M1115.6 901.6h0M1107.5 891.6h0M1088.1 955.0h0M1104.1 917.7h0M1106.0 936.0h0M1164.6 889.0h0M1116.9 929.5h0M1105.2 922.9h0M1135.9 908.9h0M1125.5 962.9h0M1127.7 929.9h0M1139.7 911.5h0M1102.1 926.7h0M1112.8 914.0h0M1127.4 926.4h0M1136.6 920.8h0M1105.8 955.8h0M1117.7 889.8h0M1119.6 925.7h0M1106.0 913.8h0M1085.1 950.5h0M1127.0 934.6h0M1139.5 917.9h0M1108.5 944.1h0M1093.4 945.7h0M1119.2 942.3h0M1104.7 914.3h0M1102.5 916.4h0M1059.0 957.1h0M1126.9 920.9h0M1090.9 918.5h0M1108.0 920.1h0M1121.6 888.1h0M1106.1 924.7h0M1100.1 935.3h0M1136.7 934.5h0M1128.4 917.4h0M1125.4 912.8h0M1123.4 952.3h0M1128.3 932.6h0M1089.6 941.2h0M1106.2 883.5h0M1133.1 882.7h0M1120.2 893.0h0M1105.9 925.7h0M1117.9 944.6h0M1169.1 866.3h0M1129.1 938.5h0M1145.7 896.4h0M1158.2 900.0h0M1117.0 953.4h0M1135.6 930.7h0M1097.2 916.2h0M1093.3 917.8h0M1101.0 950.4h0M1079.6 931.6h0M1153.3 907.4h0M1112.1 909.7h0M1109.1 945.4h0M1106.7 920.1h0M1107.1 945.0h0M1104.5 910.4h0M1066.5 958.2h0M1100.4 939.0h0M1123.1 911.4h0M1117.1 912.8h0M1111.8 941.6h0M1107.1 916.6h0M1108.1 962.3h0M1107.3 938.6h0M1102.8 924.8h0M1109.6 916.5h0M1083.2 932.3h0M1080.0 937.9h0M1132.8 942.2h0M1087.5 920.5h0M1088.5 947.5h0M1116.6 956.0h0M1079.1 926.2h0M1076.5 924.7h0M1076.6 923.5h0M1143.9 884.7h0M1166.2 891.4h0M1111.9 932.4h0M1107.6 912.7h0M1099.3 923.1h0M1123.2 902.9h0M1109.4 941.0h0M1117.7 920.9h0M1164.5 905.2h0M1107.5 937.9h0M1114.4 925.6h0M1116.1 924.6h0M1114.3 917.7h0M1113.8 936.1h0M1097.1 918.7h0M1081.5 949.4h0M1103.2 932.0h0M1138.7 906.9h0M1090.8 923.6h0M1122.8 912.8h0M1154.2 935.2h0M1101.9 911.8h0M1138.6 936.0h0M1098.2 904.4h0M1109.3 916.4h0M1127.8 928.9h0M1149.9 921.9h0M1070.6 946.2h0M1092.3 920.0h0M1113.3 922.3h0M1102.6 923.1h0M1096.5 914.7h0M1093.3 906.2h0M1117.0 942.4h0M1057.6 952.5h0M1090.8 930.7h0M1111.0 929.4h0M1110.5 913.5h0M1107.9 926.0h0M1115.6 952.8h0M1070.5 927.5h0M1093.3 928.3h0M1127.7 909.5h0M1093.4 908.1h0M1116.3 930.6h0M1088.5 933.7h0M1095.6 917.4h0M1130.8 922.8h0M1091.2 918.4h0M1133.3 932.6h0M1130.0 921.3h0M1119.9 953.8h0M1166.3 937.4h0M1097.0 931.8h0M1084.8 937.5h0M1136.1 901.6h0M1110.1 938.5h0M1102.5 902.0h0M1153.9 911.4h0M1109.4 946.1h0M1095.8 933.8h0M1117.4 934.9h0M1111.2 926.5h0M1154.2 903.6h0M1119.8 922.1h0M1112.2 945.9h0M1136.6 890.8h0M1128.2 907.9h0M1094.2 956.9h0M1103.0 945.9h0M1122.1 912.7h0M1090.5 937.9h0M1096.2 881.9h0M1113.7 963.6h0M1120.1 881.5h0M1134.5 924.5h0M1159.1 929.1h0M1124.8 926.4h0M1113.5 918.7h0M1120.0 928.3h0M1108.3 925.7h0M1118.7 957.0h0M1124.9 927.8h0M1122.5 896.4h0M1102.4 929.2h0M1097.6 940.0h0M1104.4 953.6h0M1103.3 918.8h0M1154.3 903.1h0M1138.5 916.5h0M1091.5 967.3h0M1080.4 975.0h0M1138.8 921.8h0M1104.1 926.8h0M1108.0 920.2h0M1094.4 935.7h0M1146.6 932.2h0M1101.8 929.7h0M1078.5 939.4h0M1122.0 931.2h0M1141.9 912.6h0M1110.1 920.1h0M1107.2 906.8h0M1125.1 894.7h0M1101.5 946.8h0M1096.5 920.2h0M1095.3 928.7h0M1108.9 938.6h0M1090.2 924.3h0M1103.9 924.0h0M1116.9 936.3h0M1105.3 896.0h0M1128.5 938.8h0M1115.7 928.1h0M1148.5 895.2h0M1108.6 939.3h0M1143.6 921.0h0M1123.6 934.7h0M1114.2 929.4h0M1072.2 909.6h0M1121.3 922.4h0M1110.1 911.0h0M1126.4 935.5h0M1146.7 919.1h0M1124.3 906.1h0M1116.2 913.4h0M1107.9 903.6h0M1147.3 917.4h0M1099.8 914.5h0M1098.6 921.4h0M1105.7 943.0h0M1099.6 920.2h0M1119.5 876.9h0M1165.4 902.2h0M1102.7 949.1h0M1100.0 953.8h0M1112.3 918.3h0M1136.7 921.7h0M1116.6 959.3h0M1112.5 918.6h0M1133.3 936.7h0M1103.3 925.4h0M1112.9 927.6h0M1122.1 961.9h0M1100.1 916.9h0M1114.9 931.0h0M1112.9 890.4h0M1105.8 902.3h0M1087.3 946.2h0M1115.2 909.0h0M1079.0 904.1h0M1130.3 899.1h0M1122.3 968.1h0M1118.1 916.1h0M1080.6 946.9h0M1092.7 951.0h0M1075.0 923.0h0M1084.4 932.4h0M1138.6 911.0h0M1120.9 914.6h0M1125.2 925.7h0M1145.1 936.7h0M1128.6 900.6h0M1119.9 920.7h0M1111.0 926.6h0M1092.0 963.5h0M1115.0 881.1h0M1109.4 928.6h0M1110.4 911.2h0M1116.0 905.0h0M1131.1 901.3h0M1111.0 942.2h0M1135.0 905.3h0M1103.6 914.9h0M1108.5 952.5h0M1138.9 902.2h0M1134.9 930.1h0M1106.9 913.8h0M1095.7 917.3h0M1072.4 949.6h0M1130.8 904.1h0M1094.3 946.2h0M1091.3 964.1h0M1109.2 924.7h0M1092.0 933.7h0M1143.7 900.7h0M1110.8 924.2h0M1092.8 942.1h0M1105.1 901.8h0M1092.7 896.3h0M1114.6 905.7h0M1092.7 931.6h0M1088.5 943.1h0M1118.4 937.9h0M1116.0 940.0h0M1107.4 924.1h0M1084.8 918.8h0M1121.2 941.0h0M1134.1 930.2h0M1090.4 928.8h0M1101.5 939.9h0M1119.9 891.9h0M1134.0 892.4h0M1092.5 962.0h0M1110.9 938.2h0M1095.8 945.3h0M1097.1 952.9h0M1089.1 926.3h0M1109.0 911.5h0M1131.5 914.5h0M1110.0 957.7h0M1102.7 940.5h0M1145.0 903.4h0M1138.3 925.4h0M1114.1 927.8h0M1127.4 939.1h0M1089.4 912.7h0M1156.7 904.5h0M1145.8 909.8h0M1156.4 891.5h0M1133.2 925.0h0M1113.5 941.9h0M1119.4 896.5h0M1083.6 929.5h0M1068.5 933.4h0M1100.8 919.8h0M1120.8 947.9h0M1106.6 926.9h0M1113.5 912.1h0M1156.6 920.8h0M1117.1 906.6h0M1110.5 915.9h0M1121.7 930.3h0M1113.5 943.5h0M1075.1 934.0h0M1101.4 922.3h0M1091.0 899.2h0M1117.4 912.6h0M1113.7 915.7h0M1109.2 935.2h0M1102.3 917.3h0M1101.8 917.9h0M1128.3 922.4h0M1131.2 924.4h0M1118.8 948.8h0M1125.7 919.9h0M1148.2 895.8h0M1075.5 937.1h0M1109.2 891.8h0M1131.2 908.2h0M1100.0 955.3h0M1100.2 917.4h0M1110.9 967.4h0M1110.2 922.0h0M1119.7 901.5h0M1100.9 913.3h0M1119.0 910.8h0M1095.6 941.0h0M1112.2 921.7h0M1089.8 919.6h0M1108.3 898.3h0M1106.1 933.9h0M1096.9 920.7h0M1067.5 961.2h0M1109.3 921.0h0M1071.7 947.5h0M1115.2 921.9h0M1079.7 914.3h0M1105.4 940.9h0M1128.6 928.8h0M1129.3 916.0h0M1117.6 920.8h0M1102.4 911.0h0M1069.2 918.2h0M1080.9 935.7h0M1153.0 908.9h0M1101.3 902.0h0M1129.4 904.4h0M1131.9 891.6h0M1070.4 912.7h0M1118.5 934.3h0M1108.8 896.1h0M1106.5 914.2h0M1148.6 908.6h0M1105.9 938.4h0M1125.2 921.5h0M1110.8 908.3h0M1113.6 921.3h0M1116.9 887.6h0M1120.1 904.5h0M1114.4 929.5h0M1079.7 943.9h0M1141.9 896.7h0M1101.6 941.2h0M1135.8 929.1h0M1141.5 935.0h0M1109.9 915.3h0M1121.6 919.5h0M1140.0 901.1h0M1119.5 898.2h0M1122.7 920.3h0M1121.5 915.8h0M1089.9 928.8h0M1123.4 881.0h0M1117.0 931.3h0M1099.0 940.3h0M1108.7 936.9h0M1108.9 915.3h0M1094.2 937.9h0M1082.5 912.6h0M1118.9 927.3h0M1133.6 906.0h0M1107.1 917.1h0M1088.6 951.1h0M1095.2 902.9h0M1136.6 891.5h0M1092.3 944.0h0M1106.5 948.0h0M1103.0 918.1h0M1090.0 943.8h0M1118.9 935.7h0M1099.7 927.2h0M1081.7 937.4h0M1110.3 914.3h0M1119.1 936.4h0M1097.5 909.5h0M1128.6 949.6h0M1088.1 958.7h0M1126.0 912.8h0M1116.8 939.0h0M1093.0 881.0h0M1102.1 916.1h0M1132.6 912.6h0M1133.0 874.3h0M1128.7 932.9h0M1098.1 926.3h0M1113.4 924.8h0M1121.0 921.2h0M1112.2 912.2h0M1119.2 932.6h0M1099.7 950.0h0M1111.5 927.5h0M1130.9 928.8h0M1139.4 900.9h0M1103.0 941.0h0M1109.5 943.9h0M1091.1 933.8h0M1120.5 953.4h0M1085.9 902.3h0M1125.2 944.8h0M1105.6 944.0h0M1082.8 948.2h0M1110.4 943.6h0M1135.7 914.8h0M1104.7 912.6h0M1098.9 913.1h0M1077.4 937.3h0M1110.8 942.2h0M1123.8 930.1h0M1092.4 950.6h0M1085.5 918.5h0M1138.6 930.2h0M1103.5 923.3h0M1105.4 949.2h0M1106.4 927.2h0M1121.2 920.2h0M1167.5 887.6h0M1075.6 919.2h0M1080.6 916.1h0M1124.1 918.7h0M1110.2 947.2h0M1109.6 918.2h0M1128.6 936.0h0M1089.4 936.8h0M1117.2 931.8h0M1108.2 910.3h0M1099.4 929.4h0M1108.8 918.6h0M1112.0 926.7h0M1119.6 916.7h0M1118.3 930.6h0M1093.7 914.0h0M1104.0 944.3h0M1103.2 925.8h0M1164.3 891.9h0M1080.2 936.7h0M1129.7 900.8h0M1114.0 945.6h0M1162.3 927.9h0M1120.5 911.5h0M1102.0 924.1h0M1096.9 929.7h0M1121.2 915.1h0M1127.0 917.1h0M1089.2 918.4h0M1146.3 901.8h0M1120.0 949.2h0M1103.5 924.4h0M1119.6 908.7h0M1068.4 984.0h0M1119.2 888.8h0M1140.8 933.1h0M1105.3 901.2h0M1117.4 954.4h0M1131.6 966.7h0M1116.0 941.5h0M1111.3 916.3h0M1087.4 909.4h0M1143.1 888.0h0M1114.9 932.4h0M1122.0 944.9h0M1112.1 904.7h0M1096.0 936.9h0M1104.5 926.3h0M1095.1 904.4h0M1095.8 966.1h0M1089.4 922.5h0M1089.9 897.9h0M1112.9 948.8h0M1106.7 900.5h0M1127.5 933.9h0M1128.3 913.6h0M1110.1 922.2h0M1122.6 910.2h0M1091.8 978.0h0M1135.3 922.1h0M1133.6 930.7h0M1113.2 900.4h0M1076.5 912.9h0M1110.1 921.8h0M1133.7 903.1h0M1092.9 939.3h0M1126.8 945.3h0M1108.6 939.4h0M1094.7 952.7h0M1116.6 921.0h0M1085.3 924.7h0M1112.5 910.4h0M1111.9 901.7h0M1117.2 926.1h0M1096.4 924.4h0M1105.1 925.4h0M1112.7 951.1h0M1106.5 928.5h0M1124.7 912.6h0M1125.6 915.8h0M1077.1 960.3h0M1121.8 917.7h0M1083.0 921.3h0M1124.5 906.5h0M1156.1 881.2h0M1090.1 925.5h0M1119.6 912.0h0M1100.1 931.4h0M1114.1 920.2h0M1127.3 902.1h0M1100.7 918.0h0M1106.5 921.0h0M1106.4 897.2h0M1077.8 942.2h0M1129.1 875.7h0M1122.6 923.5h0M1094.6 897.2h0M1116.3 901.5h0M1109.9 931.5h0M1072.1 933.6h0M1079.5 955.5h0M1122.6 938.8h0M1138.6 897.5h0M1139.1 931.4h0M1119.2 949.6h0M1099.1 920.5h0M1126.4 901.5h0M1111.3 960.6h0M1089.0 952.6h0M1104.1 918.9h0M1093.4 924.8h0M1102.8 905.0h0M1099.6 929.2h0M1138.6 932.4h0M1108.1 929.9h0M1069.4 963.6h0M1151.4 883.3h0M1129.3 906.5h0M1130.6 887.3h0M1081.3 910.4h0M1104.6 924.2h0M1102.1 930.2h0M1102.7 914.8h0M1123.1 909.7h0M1116.5 938.5h0M1159.1 919.4h0M1140.0 911.5h0M1112.2 936.6h0M1115.4 911.9h0M1114.1 931.7h0M1089.4 944.7h0M1140.7 913.2h0M1106.1 943.9h0M1086.5 918.0h0M1097.4 914.7h0M1146.3 915.8h0M1089.5 926.6h0M1130.7 918.5h0M1116.5 913.6h0M1075.7 922.8h0M1123.5 928.7h0M1114.7 921.3h0M1074.6 932.0h0M1144.2 923.1h0M1141.2 918.9h0M1099.4 920.6h0M1065.6 946.1h0M1106.9 916.3h0M1139.6 920.3h0M1109.7 948.2h0M1113.9 924.7h0M1073.3 926.5h0M1094.3 936.7h0M1122.7 931.7h0M1123.8 947.8h0M1117.3 953.1h0M1122.8 912.4h0M1087.6 894.2h0M1130.5 938.9h0M1129.8 913.7h0M1106.6 901.0h0M1124.2 930.8h0M1096.6 930.0h0M1137.1 914.2h0M1157.5 893.8h0M1096.7 905.5h0M1088.6 949.1h0M1108.3 923.6h0M1111.3 902.3h0M1103.2 938.5h0M1110.6 947.6h0M1099.7 964.0h0M1064.2 927.7h0M1127.6 916.4h0M1137.6 906.0h0M1131.3 912.7h0M1149.1 909.5h0M1087.3 950.3h0M1101.7 922.7h0M1111.8 899.8h0M1122.3 941.9h0M1101.2 913.2h0M1124.7 957.8h0M1107.1 932.1h0M1096.7 913.4h0M1102.2 911.0h0M1108.7 920.9h0M1087.0 900.9h0M1139.8 901.6h0M1121.7 898.1h0M1128.0 907.9h0M1095.3 910.6h0M1135.2 903.7h0M1106.0 938.1h0M1154.4 901.7h0M1095.1 926.8h0M1113.9 935.5h0M1142.1 922.0h0M1113.2 923.9h0M1104.0 922.5h0M1077.5 924.8h0M1088.6 923.8h0M1131.3 919.0h0M1129.5 939.0h0M1126.1 911.1h0M1106.9 919.3h0M1081.0 952.7h0M1127.0 958.2h0M1141.9 910.5h0M1097.8 935.8h0M1116.4 922.6h0M1118.5 902.5h0M1108.5 918.1h0M1120.5 947.0h0M1111.9 923.4h0M1089.6 947.7h0M1118.0 953.3h0M1076.8 910.9h0M1128.7 899.8h0M1133.0 886.7h0M1136.6 886.9h0M1114.0 932.9h0M1098.7 955.8h0M1108.8 948.3h0M1148.3 907.3h0M1111.6 913.3h0M1107.5 941.7h0M1119.6 916.6h0M1121.7 926.7h0M1120.0 895.5h0M1107.6 930.9h0M1097.6 944.2h0M1087.4 920.5h0M1115.6 911.2h0M1090.7 938.0h0M1106.9 931.5h0M1125.2 891.6h0M1096.3 943.0h0M1129.5 930.8h0M1110.1 907.5h0M1122.9 904.7h0M1113.4 932.8h0M1101.8 911.6h0M1109.8 913.6h0M1103.4 936.6h0M1153.1 893.2h0M1102.6 963.4h0M1127.2 915.9h0M1081.2 944.3h0M1145.8 907.4h0M1061.6 957.5h0M1108.4 925.5h0M1091.1 907.9h0M1090.5 921.7h0M1090.2 937.9h0M1122.5 915.2h0M1128.9 938.6h0M1105.4 920.5h0M1115.9 930.2h0M1123.5 898.1h0M1105.3 914.0h0M1107.6 912.0h0M1146.7 919.1h0M1132.0 919.0h0M1131.0 912.0h0M1092.7 915.9h0M1083.8 955.6h0M1105.5 925.2h0M1082.0 953.7h0M1126.0 903.3h0M1111.2 935.0h0M1091.1 925.3h0M1106.7 918.4h0M1118.0 902.1h0M1116.7 917.4h0M1141.5 919.1h0M1122.2 889.4h0M1129.1 953.6h0M1131.3 930.3h0M1115.6 903.6h0M1091.9 915.2h0M1095.6 906.7h0M1101.8 933.8h0M1113.5 916.1h0M1135.9 907.4h0M1120.5 924.6h0M1086.5 929.5h0M1108.9 882.9h0M1145.9 897.8h0M1091.4 973.0h0M1077.3 917.9h0M1124.0 905.5h0M1122.7 934.4h0M1088.8 923.4h0M1086.4 956.9h0M1092.3 928.6h0M1110.3 920.9h0M1116.0 928.1h0M1107.3 928.0h0M1108.4 940.1h0M1112.9 909.9h0M1082.8 911.1h0M1120.7 930.8h0M1109.7 892.9h0M1106.7 931.0h0M1108.5 925.0h0M1110.5 914.0h0M1113.5 916.2h0M1101.9 921.2h0M1133.4 928.1h0M1112.2 934.1h0M1124.0 905.8h0M1090.5 945.3h0M1119.2 921.8h0M1087.1 927.7h0M1080.2 936.9h0M1104.3 922.4h0M1118.3 943.3h0M1131.3 907.8h0M1102.1 929.9h0M1086.2 903.6h0M1088.5 955.2h0M1095.5 950.2h0M1128.4 945.0h0M1087.5 934.0h0M1103.3 931.3h0M1111.4 918.6h0M1126.1 903.2h0M1121.0 910.9h0M1105.4 920.7h0M1093.6 968.6h0M1097.9 920.1h0M1125.7 910.4h0M1141.8 937.6h0M1126.5 945.3h0M1131.9 917.1h0M1103.8 915.0h0M1134.5 935.8h0M1113.0 933.6h0M1075.7 942.4h0M1091.4 917.5h0M1138.0 912.6h0M1088.4 922.9h0M1098.4 948.6h0M1081.8 922.9h0M1117.3 922.3h0M1117.8 914.0h0M1095.6 918.8h0M1131.4 885.1h0M1104.4 934.8h0M1130.9 934.2h0M1122.0 930.6h0M1104.1 940.5h0M1105.2 966.4h0M1136.4 921.3h0M1136.5 897.1h0M1130.0 926.8h0M1102.0 910.7h0M1116.5 908.2h0M1099.1 910.2h0M1086.5 933.6h0M1076.2 939.5h0M1153.9 903.3h0M1145.1 905.2h0M1092.3 954.7h0M1100.2 932.5h0M1079.8 920.3h0M1104.0 921.6h0M1096.2 912.1h0M1124.5 916.6h0M1105.1 923.7h0M1110.5 921.2h0M1125.0 894.0h0M1134.5 912.2h0M1113.7 899.2h0M1116.1 899.3h0M1114.9 943.3h0M1111.8 919.3h0M1109.1 950.5h0M1112.0 917.7h0M1151.2 905.3h0M1106.4 942.3h0M1098.5 943.9h0M1126.9 929.7h0M1122.0 911.7h0M1111.8 926.9h0M1091.3 944.9h0M1104.4 904.9h0M1111.1 926.1h0M1111.3 915.0h0M1096.8 910.5h0M1114.1 889.0h0M1113.8 913.9h0M1136.6 924.4h0M1140.7 936.0h0M1093.9 912.3h0M1138.0 929.3h0M1119.4 916.2h0M1098.6 938.2h0M1104.3 930.9h0M1118.2 917.5h0M1073.2 957.0h0M1109.4 958.0h0M1085.1 931.8h0M1104.7 926.9h0M1116.9 897.1h0M1145.5 923.7h0M1109.8 901.6h0M1126.2 911.4h0M1149.7 900.0h0M1122.2 908.8h0M1129.3 924.1h0M1123.0 904.0h0M1101.1 925.3h0M1111.5 934.8h0M1129.9 913.7h0M1103.2 892.1h0M1077.6 914.1h0M1092.9 918.3h0M1119.8 940.1h0M1106.3 891.5h0M1130.3 940.7h0M1131.9 923.1h0M1113.6 929.7h0M1136.6 905.7h0M1111.3 931.2h0M1100.9 929.0h0M1127.4 903.0h0M1080.9 953.2h0M1130.3 897.8h0M1108.7 893.9h0M1092.0 926.8h0M1161.3 877.0h0M1089.5 927.2h0M1103.6 908.7h0M1119.7 904.5h0M1107.0 912.7h0M1111.1 927.9h0M1107.9 927.7h0M1092.6 934.7h0M1135.1 936.0h0M1101.8 925.5h0M1096.6 931.1h0M1065.1 931.3h0M1091.3 936.5h0M1127.3 915.8h0M1122.0 913.3h0M1093.7 942.1h0M1101.5 930.5h0M1136.1 893.5h0M1110.9 923.5h0M1094.5 924.5h0M1109.7 900.1h0M1112.5 954.5h0M1126.6 943.2h0M1116.2 955.0h0M1129.4 919.1h0M1091.5 962.9h0M1104.0 945.3h0M1141.9 902.6h0M1107.5 906.5h0M1091.0 905.7h0M1081.9 957.3h0M1118.0 952.4h0M1089.4 935.7h0M1116.6 915.1h0M1124.6 923.5h0M1082.7 896.2h0M1133.4 917.8h0M1153.9 921.2h0M1123.9 917.5h0M1131.1 934.3h0M1132.6 912.3h0M1134.6 905.5h0M1119.5 886.4h0M1138.1 941.9h0M1084.9 928.1h0M1104.4 920.0h0M1135.9 938.2h0M1120.8 940.2h0M1115.0 931.2h0M1098.7 934.5h0M1076.0 904.4h0M1097.6 922.5h0M1142.1 903.8h0M1079.4 921.9h0M1115.9 931.2h0M1117.7 928.7h0M1109.3 899.7h0M1134.0 913.7h0M1127.2 923.3h0M1146.0 911.1h0M1114.4 934.2h0M1124.9 906.1h0M1093.0 937.4h0M1114.9 919.6h0M1135.4 908.4h0M1113.8 926.2h0M1092.2 920.4h0M1099.7 930.5h0M1102.0 935.9h0M1116.1 918.6h0M1110.6 912.2h0M1062.6 931.7h0M1107.8 940.4h0M1089.1 938.7h0M1145.5 944.3h0M1116.5 920.8h0M1138.6 931.2h0M1114.1 909.8h0M1078.5 934.2h0M1090.3 907.8h0M1104.3 935.8h0M1093.4 921.9h0M1104.0 929.8h0M1109.7 921.9h0M1127.4 918.0h0M1081.2 935.3h0M1123.8 910.4h0M1082.5 912.8h0M1097.8 956.8h0M1098.0 925.5h0M1121.2 909.8h0M1147.9 899.1h0M1103.3 927.3h0M1115.9 906.6h0M1108.6 921.0h0M1131.3 922.7h0M1138.0 924.4h0M1121.8 953.1h0M1092.3 927.1h0M1116.4 915.0h0M1100.4 936.6h0M1105.0 912.9h0M1136.4 946.8h0M1097.9 912.9h0M1115.3 897.1h0M1107.9 928.8h0M1126.2 931.4h0M1118.1 910.5h0M1133.5 933.0h0M1106.3 904.3h0M1118.6 940.7h0M1107.2 935.7h0M1151.5 923.9h0M1126.4 914.6h0M1123.8 931.6h0M1127.4 927.3h0M1141.4 894.2h0M1089.3 897.9h0M1107.8 952.4h0M1122.7 932.2h0M1095.9 908.3h0M1119.6 913.2h0M1127.5 914.1h0M1101.1 888.1h0M1124.7 900.4h0M1103.6 906.5h0M1103.7 907.3h0M1131.1 909.5h0M1106.3 963.2h0M1083.2 929.8h0M1110.4 936.2h0M1115.8 952.4h0M1098.2 946.0h0M1146.1 949.8h0M1124.1 954.2h0M1106.8 920.5h0M1124.5 946.4h0M1118.3 932.6h0M1122.0 933.2h0M1103.2 932.6h0M1090.0 927.6h0M1077.9 915.0h0M1127.1 899.2h0M1137.0 944.9h0M1113.1 912.5h0M1136.7 915.1h0M1119.5 920.0h0M1117.6 927.2h0M1126.7 929.0h0M1125.6 916.6h0M1117.9 944.8h0M1132.7 911.9h0M1094.2 931.4h0M1117.7 917.5h0M1136.9 937.4h0M1102.7 955.9h0M1088.4 945.6h0M1124.6 946.3h0M1110.1 895.7h0M1110.5 939.0h0M1091.0 923.5h0M1132.8 937.4h0M1115.6 937.4h0M1147.8 925.2h0M1089.9 952.1h0M1127.3 939.3h0M1090.9 920.6h0M1122.7 915.0h0M1085.9 941.8h0M1133.4 921.9h0M1129.4 941.7h0M1085.2 963.3h0M1116.2 937.2h0M1125.5 927.3h0M1119.5 906.9h0M1073.2 922.5h0M1101.8 900.8h0M1117.2 931.6h0M1123.3 935.1h0M1108.0 916.4h0M1111.3 927.4h0M1118.8 953.1h0M1123.6 916.4h0M1110.7 942.4h0M1147.1 894.4h0M1129.9 923.4h0M1115.7 919.9h0M1096.9 963.8h0M1133.9 916.9h0M1102.0 915.2h0M1140.0 895.1h0M1080.7 934.0h0M1128.3 921.5h0M1142.2 919.0h0M1121.7 949.7h0M1090.5 927.1h0M1107.2 939.1h0M1083.9 906.6h0M1124.2 905.0h0M1103.0 918.7h0M1119.8 931.7h0M1108.5 941.6h0M1111.8 907.0h0M1126.2 908.4h0M1110.0 910.8h0M1126.8 931.7h0M1124.6 899.2h0M1090.4 953.9h0M1130.6 927.5h0M1092.0 961.5h0M1101.2 949.9h0M1087.8 933.1h0M1107.2 929.9h0M1125.9 971.0h0M1130.1 913.2h0M1109.0 949.0h0M1063.8 942.7h0M1145.1 949.7h0M1135.3 946.7h0M1114.6 908.1h0M1143.0 917.9h0M1123.6 920.6h0M1105.6 941.9h0M1089.1 945.4h0M1067.9 935.3h0M1126.7 904.4h0M1118.8 900.6h0M1055.6 941.4h0M1066.3 947.8h0M1081.4 959.2h0M1059.4 945.8h0M1060.8 953.7h0M1075.8 936.8h0M965.1 1027.6h0M910.0 1108.4h0M1028.2 965.4h0M993.2 1002.4h0M1088.6 942.5h0M981.5 1018.8h0M980.8 1042.7h0M1045.8 1046.1h0M1031.8 980.9h0M1075.1 983.5h0M1001.9 963.9h0M1053.9 976.2h0M1020.7 992.9h0M1062.9 937.5h0M1069.7 943.4h0M1023.1 992.0h0M1009.9 1039.5h0M1049.9 957.4h0M1060.9 921.6h0M1040.4 965.2h0M1032.7 957.0h0M1048.3 973.5h0M1063.6 941.3h0M982.4 1011.0h0M1049.0 976.5h0M983.0 1019.7h0M1050.2 973.6h0M1061.3 972.3h0M1046.3 981.2h0M1077.4 945.6h0M1052.9 949.0h0M955.0 1045.9h0M992.5 1010.4h0M1059.0 956.1h0M1078.3 1001.0h0M1004.9 997.1h0M1011.1 1013.5h0M1030.1 993.1h0M1020.1 993.6h0M1008.1 972.7h0M966.0 1024.3h0M1023.9 1011.8h0M983.2 1015.2h0M1031.5 1006.8h0M899.9 1088.8h0M1065.5 984.3h0M918.7 1084.3h0M1031.6 973.2h0M968.3 1046.7h0M1053.0 978.5h0M931.9 1100.3h0M1039.3 972.5h0M1023.5 994.9h0M1033.7 953.0h0M1027.6 974.7h0M1015.0 971.5h0M1063.0 947.1h0M991.9 1020.9h0M939.0 1086.6h0M1055.8 940.1h0M1021.4 976.8h0M1022.7 992.5h0M1049.7 931.9h0M1069.4 956.4h0M1074.4 943.0h0M1048.6 971.1h0M978.6 1055.0h0M959.3 1040.7h0M983.1 1003.5h0M996.3 991.2h0M1073.3 959.6h0M994.6 1008.5h0M1052.2 948.3h0M957.9 1088.5h0M1049.0 995.2h0M1104.1 966.5h0M1060.0 968.0h0M1073.1 961.7h0M1011.3 1010.2h0M1008.5 1011.1h0M1080.8 963.1h0M1074.8 960.4h0M1067.7 935.4h0M1003.4 1008.7h0M1063.6 948.9h0M1017.2 992.4h0M1037.5 989.4h0M1055.2 965.6h0M984.6 1038.3h0M1057.2 989.4h0M1038.7 983.2h0M989.4 985.7h0M1105.9 919.8h0M1026.5 971.2h0M1035.3 989.9h0M1025.8 1007.4h0M1066.5 963.2h0M955.4 1033.3h0M989.6 981.6h0M1068.1 964.6h0M1005.8 1017.4h0M1051.7 955.3h0M1059.3 960.8h0M1078.7 969.5h0M1015.3 1000.2h0M1038.0 944.1h0M950.8 1060.8h0M927.0 1096.2h0M980.1 1013.0h0M995.1 1012.0h0M992.6 1009.9h0M1025.8 977.7h0M940.0 1068.2h0M941.1 1076.2h0M918.8 1065.1h0M1023.6 974.9h0M1087.0 945.1h0M976.2 1038.0h0M1057.3 969.3h0M1019.9 1000.5h0M1053.4 969.0h0M994.7 1024.3h0M1072.5 928.9h0M1070.5 967.9h0M1056.5 957.1h0M1025.9 981.4h0M979.4 1040.1h0M977.2 1039.9h0M886.1 1081.2h0M1011.8 1012.3h0M930.1 1079.0h0M916.8 1106.6h0M1068.7 962.7h0M1037.2 996.6h0M974.8 1019.6h0M1067.2 971.2h0M1044.7 966.4h0M1067.9 949.2h0M1035.0 988.6h0M899.9 1085.1h0M1087.5 960.2h0M1039.7 975.1h0M990.0 1006.8h0M1058.2 991.8h0M1012.2 1022.9h0M957.7 1051.1h0M1069.6 958.1h0M1029.6 981.3h0M895.6 1065.2h0M935.8 1078.2h0M992.4 995.2h0M1062.6 947.1h0M1052.4 967.0h0M1055.4 931.2h0M1063.7 945.0h0M924.2 1117.2h0M1049.1 970.4h0M971.4 1038.1h0M1040.8 964.0h0M1071.7 969.5h0M1052.5 980.4h0M994.4 1036.2h0M1073.4 973.5h0M918.4 1073.2h0M1060.5 959.4h0M1032.4 1004.9h0M1055.5 938.7h0M960.0 1024.0h0M994.2 986.7h0M1033.2 962.5h0M1029.7 954.6h0M984.3 1040.6h0M968.4 1058.4h0M1030.4 974.9h0M1086.5 921.5h0M1055.6 974.1h0M1053.3 977.0h0M1007.6 1005.1h0M1036.6 988.8h0M1066.0 957.6h0M1074.2 943.9h0M1027.0 974.6h0M1066.5 959.5h0M1082.8 920.5h0M1005.4 984.7h0M1027.3 1000.6h0M937.0 1096.9h0M1057.4 984.6h0M1081.8 983.4h0M1076.5 951.9h0M1039.7 934.0h0M1073.4 945.9h0M1082.7 967.6h0M1032.3 986.4h0M1040.4 960.4h0M1021.9 1011.5h0M1025.0 991.6h0M1066.4 945.2h0M1055.2 964.4h0M1014.7 1001.8h0M1056.0 947.4h0M1080.4 945.3h0M997.4 1018.1h0M1069.3 961.5h0M1004.8 1009.7h0M1058.3 955.4h0M983.8 1036.3h0M1000.3 1024.3h0M974.8 1045.9h0M993.6 1023.3h0M995.7 1036.6h0M1059.5 956.7h0M906.2 1106.3h0M1077.2 950.7h0M1017.9 998.5h0M946.8 1067.7h0M1068.3 937.6h0M977.0 1017.1h0M1052.8 982.0h0M956.3 1020.6h0M1072.4 968.8h0M1146.1 878.7h0M1156.9 889.4h0M1127.8 895.4h0M1151.9 897.6h0M1148.2 869.5h0M1126.6 880.2h0M1163.1 858.2h0M1149.9 906.8h0M1133.4 887.9h0M1163.8 864.7h0M1142.8 899.5h0M1149.8 914.4h0M1105.7 905.4h0M1152.8 874.7h0M1132.0 884.0h0M1132.5 887.2h0M1141.0 883.4h0M1171.2 863.3h0M1144.6 898.9h0M1119.5 894.4h0M1165.6 865.2h0M1126.0 890.5h0M1135.6 885.1h0M1127.3 902.6h0M1150.2 869.7h0M1119.5 907.4h0M1144.9 897.5h0M1145.6 904.2h0M1140.5 895.4h0M1143.4 905.0h0M1161.2 858.5h0M1125.2 894.9h0M1131.1 888.3h0M1150.2 886.2h0M1170.2 858.6h0M1168.2 887.4h0M1174.0 891.8h0M1142.1 899.5h0M1152.3 894.4h0M1158.4 880.3h0M1127.3 885.8h0M1147.6 880.1h0M1145.4 873.5h0M1120.5 888.1h0M1148.4 891.2h0M1149.7 885.4h0M1148.2 883.4h0M1155.1 873.1h0M1142.7 876.7h0M1123.3 884.9h0M1140.3 901.2h0M1126.4 906.7h0M1173.4 880.1h0M1147.0 896.0h0M1166.8 889.4h0M1160.0 882.6h0M1165.8 867.6h0M1144.9 902.6h0M1133.4 893.8h0M1127.1 889.0h0M1137.9 890.6h0M1141.3 893.9h0M1167.2 870.3h0M1152.0 883.8h0M1140.8 903.7h0M1124.7 895.8h0M1160.1 871.8h0M1166.1 887.2h0M1154.9 872.6h0M1168.9 869.6h0" stroke="#bdbdbd" stroke-width="3.2" stroke-linecap="round" stroke-opacity="0.65" fill="none"/>
<path d="M1109.3 944.9h0M1112.7 925.7h0M1128.3 931.3h0M1120.7 939.3h0M1132.2 938.1h0M1121.2 923.8h0M1109.3 959.5h0M1117.4 946.9h0M1107.9 934.2h0M1113.2 956.7h0M1137.6 942.6h0M1128.0 930.2h0M1108.2 932.4h0M1109.8 941.7h0M1118.8 954.3h0M1119.0 951.2h0M1108.3 932.6h0M1108.1 939.5h0M1113.0 943.0h0M1117.2 926.4h0M1112.9 941.9h0M1119.7 950.6h0M1133.7 928.9h0M1116.9 950.1h0M1130.7 941.4h0M1115.6 943.1h0M1133.8 929.2h0M1122.5 929.2h0M1126.7 936.0h0M1136.2 934.5h0M1126.4 921.6h0M1111.5 941.2h0M1110.7 934.8h0M1114.1 922.1h0M1118.8 945.1h0M1107.8 940.0h0M1119.7 934.5h0M1122.0 948.0h0M1114.4 933.3h0M1123.5 931.3h0M1113.1 931.8h0M1118.9 948.4h0M1115.2 929.8h0M1115.5 923.2h0M1114.9 924.5h0M1121.8 934.8h0M1124.7 937.3h0M1114.6 944.6h0M1113.2 941.6h0M1123.6 945.7h0M1108.6 947.9h0M1126.5 938.9h0M1115.1 949.1h0M1109.4 931.7h0M1112.3 938.5h0M1116.9 948.9h0M1115.9 935.4h0M1113.6 943.2h0M1110.0 931.0h0M1110.7 933.0h0M1110.0 943.3h0M1110.4 945.8h0M1112.0 943.5h0M1126.1 945.8h0M1115.3 923.7h0M1116.7 940.5h0M1107.5 939.4h0M1126.8 958.1h0M1110.5 932.0h0M1108.7 943.2h0M1126.1 938.5h0M1124.5 942.9h0M1113.3 945.3h0M1125.0 947.5h0M1118.6 945.0h0M1107.6 936.3h0M1112.0 950.4h0M1109.3 926.9h0M1121.6 952.5h0M1115.6 946.7h0M1124.5 928.0h0M1132.5 922.8h0M1120.5 935.3h0M1115.2 939.1h0M1119.3 932.6h0M1108.4 943.1h0M1113.1 938.5h0M1112.0 944.2h0M1112.7 939.2h0M1117.1 944.0h0M1114.6 934.9h0M1123.2 936.2h0M1118.9 935.3h0M1110.4 955.8h0M1117.0 943.4h0M1119.9 940.6h0M1111.6 937.0h0M1123.3 946.1h0M1121.9 946.7h0M1110.8 944.9h0M1107.9 940.9h0M1125.1 924.3h0M1113.5 938.0h0M1114.0 940.5h0M1119.2 959.2h0M1117.7 932.3h0M1108.0 933.6h0M1136.8 924.4h0M1108.8 928.0h0M1109.2 936.1h0M1138.9 931.6h0M1112.4 944.2h0M1119.1 937.9h0M1117.8 945.5h0M1114.8 933.4h0M1126.8 935.4h0M1110.0 959.9h0M1133.4 933.8h0M1120.8 943.5h0M1123.5 925.3h0M1129.0 934.5h0M1129.6 946.8h0M1118.1 939.0h0M1112.0 938.4h0M1122.0 944.5h0M1134.2 935.2h0M1120.7 927.4h0M1124.1 928.0h0M1119.9 944.1h0M1129.2 931.2h0M1123.7 939.4h0M1113.5 951.5h0M1114.1 927.2h0M1124.1 949.3h0M1120.5 933.2h0M1118.6 944.3h0M1118.9 936.7h0M1109.0 940.9h0M1113.3 956.7h0M1109.2 943.8h0M1115.1 948.3h0M1128.4 940.9h0M1125.3 935.6h0M1132.8 943.6h0M1111.4 954.0h0M1124.3 956.9h0M1114.7 950.3h0M1113.0 949.0h0M1107.5 925.7h0M1115.3 930.7h0M1110.4 941.5h0M1108.3 944.4h0M1114.5 947.5h0M1116.9 942.5h0M1110.5 931.0h0M1110.1 955.1h0M1109.5 951.3h0M1131.6 929.7h0M1109.4 941.9h0M1137.5 931.2h0M1131.4 948.1h0M1136.3 946.3h0M1110.7 937.9h0M1119.6 936.3h0M1124.0 927.9h0M1118.8 951.3h0M1123.8 934.3h0M1112.8 956.6h0M1128.8 939.5h0M1119.9 936.1h0M1111.1 947.9h0M1113.4 942.3h0M1111.1 953.3h0M1130.5 930.4h0M1115.2 956.3h0M1130.8 959.3h0M1117.1 925.1h0M1124.0 939.7h0M1111.6 927.1h0M1109.1 937.3h0M1113.8 944.3h0M1122.0 936.6h0M1123.4 954.0h0M1113.6 946.6h0M1125.4 946.6h0M1111.1 949.2h0M1118.7 953.5h0M1129.8 959.4h0M1129.7 933.3h0M1124.3 948.3h0M1109.1 940.2h0M1110.9 948.5h0M1110.1 933.1h0M1108.8 940.6h0M1112.4 947.4h0M1135.8 936.0h0M1117.0 922.7h0M1118.9 950.4h0M1112.9 946.8h0M1116.9 950.4h0M1118.9 938.5h0M1127.3 932.8h0M1120.4 932.7h0M1118.2 951.9h0M1126.5 934.4h0M1115.5 929.5h0M1111.2 942.2h0M1108.3 938.3h0M1107.5 931.0h0M1121.3 962.5h0M1107.6 931.4h0M1109.6 929.7h0M1115.5 944.6h0M1111.9 953.8h0M1109.4 948.2h0M1125.7 928.7h0M1127.8 939.1h0M1107.5 951.7h0M1129.0 935.0h0M1071.7 920.5h0M1084.2 916.1h0M1086.8 917.1h0M1098.9 914.7h0M1091.4 915.9h0M1088.9 900.6h0M1080.7 904.0h0M1096.1 921.0h0M1096.0 900.9h0M1077.0 913.3h0M1082.7 905.3h0M1081.1 914.1h0M1083.0 908.4h0M1088.6 914.9h0M1081.6 913.9h0M1079.7 921.6h0M1074.5 916.1h0M1083.3 908.5h0M1090.7 911.9h0M1095.4 914.4h0M1087.1 919.7h0M1084.7 917.4h0M1087.2 919.8h0M1093.0 916.4h0M1089.0 918.6h0M1094.4 906.4h0M1094.7 914.5h0M1085.4 915.9h0M1088.3 908.0h0M1088.4 921.9h0M1096.0 917.6h0M1090.7 915.6h0M1076.6 909.2h0M1093.3 919.3h0M1084.1 913.9h0M1080.1 908.2h0M1096.3 915.7h0M1097.4 919.9h0M1069.9 905.6h0M1084.5 914.6h0M1087.6 920.9h0M1087.3 908.5h0M1081.3 899.9h0M1091.6 913.7h0M1090.7 919.5h0M1089.2 915.9h0M1093.7 913.6h0M1074.7 916.4h0M1098.6 919.5h0M1085.7 920.7h0M1099.1 914.9h0M1097.8 911.6h0M1092.3 912.2h0M1066.5 918.9h0M1092.2 915.0h0M1082.7 917.2h0M1084.9 917.5h0M1098.7 909.6h0M1088.4 907.0h0M1092.8 911.7h0M1084.8 922.0h0M1092.6 921.7h0M1093.9 920.7h0M1092.5 915.3h0M1094.3 909.4h0M1099.0 921.3h0M1093.7 922.8h0M1097.9 921.3h0M1098.6 920.7h0M1098.7 908.2h0M968.7 1009.1h0M971.1 1011.8h0M976.2 1000.5h0M981.3 1003.3h0M1011.4 983.5h0M1028.5 958.9h0M1044.5 956.1h0M1062.3 901.5h0M1063.3 925.7h0M1070.2 928.1h0M1145.3 909.3h0M1150.4 912.7h0M1153.9 916.8h0M1143.6 921.3h0M1147.0 926.4h0M1141.9 929.8h0M1152.2 940.1h0M1148.1 935.0h0M1145.3 943.5h0M1138.5 957.2h0M1128.2 957.2h0M1119.7 960.6h0M1114.6 964.0h0M1135.0 935.0h0M1138.0 925.0h0M1132.0 945.0h0M1125.0 950.0h0M1140.0 915.0h0M1130.0 918.0h0M1122.0 905.0h0M1075.0 918.0h0M1078.0 910.0h0M1082.0 926.0h0M1148.0 906.0h0M1152.0 920.0h0M1144.0 950.0h0M1153.0 945.0h0" stroke="#EC7B6E" stroke-width="5.2" stroke-linecap="round" fill="none"/>
<path d="M1100.3 922.7h0M1102.4 885.4h0M1101.3 895.4h0M1106.9 960.8h0M1105.3 923.8h0M1105.4 900.8h0M1101.5 933.0h0M1100.3 894.0h0M1104.0 923.1h0M1103.3 942.6h0M1100.5 891.0h0M1093.1 956.1h0M1108.4 913.4h0M1104.5 916.8h0M1100.7 939.5h0M1104.2 892.7h0M1104.8 913.0h0M1101.1 944.0h0M1098.6 935.1h0M1101.8 960.6h0M1102.2 962.4h0M1103.3 906.9h0M1099.3 938.9h0M1100.1 902.7h0M1099.7 965.2h0M1100.2 903.6h0M1104.3 940.9h0M1101.4 912.8h0M1097.5 894.9h0M1099.9 954.6h0M1101.7 915.0h0M1101.0 945.6h0M1093.2 899.6h0M1104.9 921.9h0M1102.1 903.9h0M1107.6 914.5h0M1101.5 900.8h0M1103.4 926.9h0M1102.0 940.3h0M1099.1 928.1h0M1102.5 926.5h0M1102.5 893.0h0M1101.2 942.8h0M1104.7 916.8h0M1105.1 957.9h0M1101.1 908.4h0M1104.7 935.0h0M1099.2 899.0h0M1098.8 903.8h0M1101.4 945.7h0M1098.6 911.7h0M1103.3 916.4h0M1100.1 953.3h0M1101.1 906.9h0M1101.3 928.0h0M1100.5 882.3h0M1098.9 898.9h0M1104.2 946.8h0M1100.7 942.7h0M1103.3 961.6h0M1100.7 956.4h0M1098.9 894.8h0M1101.6 944.7h0M1100.1 904.1h0M1101.6 936.5h0M1101.0 885.9h0M1096.3 965.4h0M1099.0 906.2h0M1103.0 960.1h0M1103.5 896.8h0M1103.1 958.5h0M1104.3 913.5h0M1102.5 919.1h0M1103.2 928.3h0M1100.6 889.4h0M1105.1 943.1h0M1105.2 908.9h0M1100.2 914.1h0M1103.8 917.6h0M1097.7 912.9h0M1099.5 938.4h0M1106.0 944.3h0M1100.6 892.3h0M1103.6 949.6h0M1103.3 937.9h0M1100.3 951.1h0M1099.9 918.5h0M1103.8 944.4h0M1102.5 915.8h0M1107.2 922.5h0M1101.5 934.1h0M1098.5 951.9h0M1102.9 932.4h0M1098.7 947.9h0M1104.9 892.0h0M1103.2 896.6h0M1103.4 954.1h0M1096.7 905.1h0M1100.3 918.9h0M1103.5 938.8h0M1104.0 926.8h0M1103.4 911.5h0M1101.0 948.1h0M1100.6 904.7h0M1104.6 917.3h0M1103.8 942.3h0M1101.2 932.7h0M1100.3 909.6h0M1102.7 891.0h0M1100.2 906.4h0M1101.4 961.7h0M1106.0 943.5h0M1101.7 899.2h0M1099.1 884.6h0" stroke="#3DAA55" stroke-width="5.2" stroke-linecap="round" fill="none"/>
<path d="M928.4 1120.1h0M973.5 1094.8h0M952.3 1085.3h0M962.5 1064.8h0M973.5 1050.4h0M976.2 1046.0h0M990.9 1060.3h0M1003.5 1046.0h0M1019.6 1026.2h0M1027.4 1020.4h0M1032.6 1021.4h0M1030.9 1017.6h0M1036.0 1013.5h0M1049.0 1015.9h0M1080.4 1024.8h0M1061.6 1006.0h0M1067.8 1000.9h0M1069.1 993.0h0M1059.9 987.9h0M1067.4 978.7h0M1072.9 987.9h0M1059.9 977.0h0M1070.8 970.1h0M1085.5 970.8h0M1090.6 967.4h0M1093.4 995.8h0M1082.1 964.0h0M1094.1 957.2h0M1088.9 950.3h0M1092.4 943.5h0M1153.2 839.3h0M1161.4 851.2h0M1170.9 847.8h0M1109.4 866.6h0M1123.8 868.3h0M1125.8 878.6h0M1108.4 881.3h0M1112.9 883.7h0M1117.3 884.7h0M1113.9 890.5h0M1112.9 895.7h0M1096.0 950.0h0M1091.0 958.0h0M1118.0 892.0h0M1110.0 885.0h0M1114.0 898.0h0M1108.0 902.0h0M1090.0 945.0h0M1094.0 962.0h0M1086.0 956.0h0M1112.0 889.0h0" stroke="#7F9BD8" stroke-width="5.2" stroke-linecap="round" fill="none"/>
<circle cx="1080.4" cy="909.3" r="3.1" fill="#222" stroke="#e03040" stroke-width="0.8"/>
<circle cx="1085.5" cy="904.2" r="3.1" fill="#222" stroke="#e03040" stroke-width="0.8"/>
<circle cx="1090.6" cy="905.9" r="3.1" fill="#222" stroke="#e03040" stroke-width="0.8"/>
<circle cx="1096.8" cy="908.6" r="3.1" fill="#222" stroke="#e03040" stroke-width="0.8"/>
<circle cx="1101.6" cy="902.5" r="3.1" fill="#222" stroke="#e03040" stroke-width="0.8"/>
<circle cx="1081.1" cy="920.6" r="3.1" fill="#222" stroke="#e03040" stroke-width="0.8"/>
<circle cx="1087.2" cy="916.2" r="3.1" fill="#222" stroke="#e03040" stroke-width="0.8"/>
<circle cx="1068.4" cy="937.7" r="3.1" fill="#222" stroke="#e03040" stroke-width="0.8"/>
<circle cx="1101.6" cy="899.1" r="3.1" fill="#222" stroke="#e03040" stroke-width="0.8"/>
<circle cx="1081.1" cy="920.6" r="1.3" fill="#111"/>
<rect x="877.1" y="824.6" width="317.1" height="301" fill="none" stroke="#333" stroke-width="1"/>
<line x1="1101.9" y1="824.6" x2="1101.9" y2="1125.6" stroke="#333" stroke-width="0.9"/>
<line x1="877.1" y1="923" x2="1194.2" y2="923" stroke="#333" stroke-width="0.9"/>
<line x1="872.6" y1="844.3" x2="877.1" y2="844.3" stroke="#333" stroke-width="0.9"/>
<text x="869.1" y="849.1" font-size="13.8" fill="#333" text-anchor="end">5</text>
<line x1="872.6" y1="923" x2="877.1" y2="923" stroke="#333" stroke-width="0.9"/>
<text x="869.1" y="927.8" font-size="13.8" fill="#333" text-anchor="end">0</text>
<line x1="872.6" y1="1001.7" x2="877.1" y2="1001.7" stroke="#333" stroke-width="0.9"/>
<text x="869.1" y="1006.5" font-size="13.8" fill="#333" text-anchor="end">−5</text>
<line x1="872.6" y1="1080.4" x2="877.1" y2="1080.4" stroke="#333" stroke-width="0.9"/>
<text x="869.1" y="1085.2" font-size="13.8" fill="#333" text-anchor="end">−10</text>
<line x1="919.1" y1="1125.6" x2="919.1" y2="1130.1" stroke="#333" stroke-width="0.9"/>
<text x="919.1" y="1147.3" font-size="13.8" fill="#333" text-anchor="middle">−10</text>
<line x1="1010.5" y1="1125.6" x2="1010.5" y2="1130.1" stroke="#333" stroke-width="0.9"/>
<text x="1010.5" y="1147.3" font-size="13.8" fill="#333" text-anchor="middle">−5</text>
<line x1="1101.9" y1="1125.6" x2="1101.9" y2="1130.1" stroke="#333" stroke-width="0.9"/>
<text x="1101.9" y="1147.3" font-size="13.8" fill="#333" text-anchor="middle">0</text>
<circle cx="889.8" cy="840.3" r="5" fill="#F0A096"/>
<text x="902.7" y="844.6" font-size="13.2" fill="#383838">Buffered (53.6%)</text>
<circle cx="889.8" cy="860.8" r="5" fill="#80C590"/>
<text x="902.7" y="865.1" font-size="13.2" fill="#383838">Exclusive (30.1%)</text>
<circle cx="889.8" cy="881" r="5" fill="#98ACDC"/>
<text x="902.7" y="885.3" font-size="13.2" fill="#383838">Intensified (16.3%)</text>
<text x="1055.8" y="847.1" font-size="13.2" fill="#E0283C" font-style="italic">MYL2</text>
<text x="1107" y="849.5" font-size="13.2" fill="#1E8A44" font-style="italic">TRDN</text>
<text x="1034.6" y="872.8" font-size="13.2" fill="#E0283C" font-style="italic">EEF1A2</text>
<text x="1028.1" y="891.6" font-size="13.2" fill="#E0283C" font-style="italic">ENO3</text>
<text x="1009.7" y="915.1" font-size="13.2" fill="#8a8a8a" font-style="italic">MYH7</text>
<text x="959.8" y="953" font-size="13.2" fill="#E0283C" font-style="italic">MYH6</text>
<text x="1137.8" y="965.7" font-size="13.2" fill="#1E8A44" font-style="italic">MYOZ2</text>
<text x="1120.4" y="1001.6" font-size="13.2" fill="#8a8a8a" font-style="italic">MYL7</text>
<line x1="1084.5" y1="849.5" x2="1090" y2="900.8" stroke="#E0283C" stroke-width="0.9"/>
<line x1="1120.7" y1="853" x2="1104.3" y2="895.7" stroke="#1E8A44" stroke-width="0.9"/>
<line x1="1067.4" y1="876.9" x2="1084.5" y2="902.5" stroke="#E0283C" stroke-width="0.9"/>
<line x1="1061.6" y1="891.6" x2="1078.7" y2="910" stroke="#E0283C" stroke-width="0.9"/>
<line x1="1049" y1="910" x2="1080.4" y2="919.6" stroke="#8a8a8a" stroke-width="0.9"/>
<line x1="996.7" y1="948.6" x2="1068.4" y2="937.7" stroke="#E0283C" stroke-width="0.9"/>
<line x1="1154.9" y1="951.3" x2="1099.2" y2="909.3" stroke="#1E8A44" stroke-width="0.9"/>
<line x1="1126.5" y1="989.6" x2="1089" y2="917.9" stroke="#8a8a8a" stroke-width="0.9"/>
<text x="940.3" y="1170.7" font-size="15.4" fill="#383838">log<tspan font-size="10.5" dy="4">2</tspan><tspan dy="-4">fold change (RNA-seq)</tspan></text>
<text font-size="15.4" fill="#383838" text-anchor="middle" transform="translate(826.5,977.5) rotate(-90)">log<tspan font-size="10.5" dy="4">2</tspan><tspan dy="-4">fold change (Ribo-seq)</tspan></text>
<text x="803.5" y="1213" font-size="21.5" fill="#111" font-weight="bold">g</text>
<rect x="873.7" y="1226.8" width="140.1" height="128.1" fill="none" stroke="#444" stroke-width="0.9"/>
<line x1="899.3" y1="1354.9" x2="899.3" y2="1360" stroke="#444" stroke-width="0.9"/>
<line x1="942.7" y1="1354.9" x2="942.7" y2="1360" stroke="#444" stroke-width="0.9"/>
<line x1="987.5" y1="1354.9" x2="987.5" y2="1360" stroke="#444" stroke-width="0.9"/>
<rect x="1053.1" y="1226.8" width="140.7" height="128.1" fill="none" stroke="#444" stroke-width="0.9"/>
<line x1="1079.4" y1="1354.9" x2="1079.4" y2="1360" stroke="#444" stroke-width="0.9"/>
<line x1="1122.1" y1="1354.9" x2="1122.1" y2="1360" stroke="#444" stroke-width="0.9"/>
<line x1="1167.5" y1="1354.9" x2="1167.5" y2="1360" stroke="#444" stroke-width="0.9"/>
<line x1="869" y1="1232.3" x2="873.7" y2="1232.3" stroke="#444" stroke-width="0.9"/>
<text x="862.4" y="1237.1" font-size="13.8" fill="#333" text-anchor="end">80</text>
<line x1="869" y1="1261.3" x2="873.7" y2="1261.3" stroke="#444" stroke-width="0.9"/>
<text x="862.4" y="1266.1" font-size="13.8" fill="#333" text-anchor="end">60</text>
<line x1="869" y1="1290.4" x2="873.7" y2="1290.4" stroke="#444" stroke-width="0.9"/>
<text x="862.4" y="1295.2" font-size="13.8" fill="#333" text-anchor="end">40</text>
<line x1="869" y1="1320.1" x2="873.7" y2="1320.1" stroke="#444" stroke-width="0.9"/>
<text x="862.4" y="1324.9" font-size="13.8" fill="#333" text-anchor="end">20</text>
<line x1="869" y1="1349.1" x2="873.7" y2="1349.1" stroke="#444" stroke-width="0.9"/>
<text x="862.4" y="1353.9" font-size="13.8" fill="#333" text-anchor="end">0</text>
<line x1="1048.4" y1="1251.1" x2="1053.1" y2="1251.1" stroke="#444" stroke-width="0.9"/>
<text x="1042.1" y="1255.9" font-size="13.8" fill="#333" text-anchor="end">40</text>
<line x1="1048.4" y1="1276.3" x2="1053.1" y2="1276.3" stroke="#444" stroke-width="0.9"/>
<text x="1042.1" y="1281.1" font-size="13.8" fill="#333" text-anchor="end">30</text>
<line x1="1048.4" y1="1302" x2="1053.1" y2="1302" stroke="#444" stroke-width="0.9"/>
<text x="1042.1" y="1306.8" font-size="13.8" fill="#333" text-anchor="end">20</text>
<line x1="1048.4" y1="1326.9" x2="1053.1" y2="1326.9" stroke="#444" stroke-width="0.9"/>
<text x="1042.1" y="1331.7" font-size="13.8" fill="#333" text-anchor="end">10</text>
<line x1="1048.4" y1="1352.5" x2="1053.1" y2="1352.5" stroke="#444" stroke-width="0.9"/>
<text x="1042.1" y="1357.3" font-size="13.8" fill="#333" text-anchor="end">0</text>
<line x1="899.85" y1="1276.3" x2="899.85" y2="1347.4" stroke="#555" stroke-width="0.8"/>
<rect x="883.3" y="1302" width="33.1" height="30.7" fill="#F5A033" stroke="#333" stroke-width="0.8"/>
<line x1="883.3" y1="1325.2" x2="916.4" y2="1325.2" stroke="#222" stroke-width="1.3"/>
<line x1="943.55" y1="1283" x2="943.55" y2="1345" stroke="#555" stroke-width="0.8"/>
<rect x="927.3" y="1286.9" width="32.5" height="57.1" fill="#F5A033" stroke="#333" stroke-width="0.8"/>
<line x1="927.3" y1="1340.6" x2="959.8" y2="1340.6" stroke="#222" stroke-width="1.3"/>
<line x1="986.95" y1="1323.5" x2="986.95" y2="1342.3" stroke="#555" stroke-width="0.8"/>
<rect x="970.4" y="1323.5" width="33.1" height="7.9" fill="#F5A033" stroke="#333" stroke-width="0.8"/>
<line x1="970.4" y1="1326.2" x2="1003.5" y2="1326.2" stroke="#222" stroke-width="1.3"/>
<line x1="1079.55" y1="1233" x2="1079.55" y2="1344" stroke="#555" stroke-width="0.8"/>
<rect x="1063.3" y="1290.4" width="32.5" height="41" fill="#7B5323" stroke="#333" stroke-width="0.8"/>
<line x1="1063.3" y1="1314.3" x2="1095.8" y2="1314.3" stroke="#222" stroke-width="1.3"/>
<line x1="1123.25" y1="1245.9" x2="1123.25" y2="1349.1" stroke="#555" stroke-width="0.8"/>
<rect x="1107" y="1291" width="32.5" height="43.4" fill="#7B5323" stroke="#333" stroke-width="0.8"/>
<line x1="1107" y1="1333.7" x2="1139.5" y2="1333.7" stroke="#222" stroke-width="1.3"/>
<line x1="1167.35" y1="1261.3" x2="1167.35" y2="1346.4" stroke="#555" stroke-width="0.8"/>
<rect x="1151.1" y="1292.1" width="32.5" height="54.3" fill="#7B5323" stroke="#333" stroke-width="0.8"/>
<line x1="1151.1" y1="1324.5" x2="1183.6" y2="1324.5" stroke="#222" stroke-width="1.3"/>
<circle cx="889.76" cy="1275.66" r="2.4" fill="#111"/>
<circle cx="891.81" cy="1284.2" r="2.4" fill="#111"/>
<circle cx="887.37" cy="1302.31" r="2.4" fill="#111"/>
<circle cx="888.39" cy="1326.22" r="2.4" fill="#111"/>
<circle cx="890.1" cy="1332.72" r="2.4" fill="#111"/>
<circle cx="883.95" cy="1339.55" r="2.4" fill="#111"/>
<circle cx="888.39" cy="1347.41" r="2.4" fill="#111"/>
<circle cx="911.97" cy="1299.58" r="2.4" fill="#111"/>
<circle cx="916.41" cy="1321.78" r="2.4" fill="#111"/>
<circle cx="917.09" cy="1324.17" r="2.4" fill="#111"/>
<circle cx="911.97" cy="1332.03" r="2.4" fill="#111"/>
<circle cx="901.04" cy="1332.72" r="2.4" fill="#111"/>
<circle cx="941.01" cy="1281.13" r="2.4" fill="#111"/>
<circle cx="951.26" cy="1286.59" r="2.4" fill="#111"/>
<circle cx="939.3" cy="1340.57" r="2.4" fill="#111"/>
<circle cx="940.32" cy="1343.31" r="2.4" fill="#111"/>
<circle cx="958.77" cy="1346.38" r="2.4" fill="#111"/>
<circle cx="982.35" cy="1321.1" r="2.4" fill="#111"/>
<circle cx="990.89" cy="1324.17" r="2.4" fill="#111"/>
<circle cx="993.28" cy="1327.93" r="2.4" fill="#111"/>
<circle cx="994.3" cy="1342.62" r="2.4" fill="#111"/>
<circle cx="1061.95" cy="1232.27" r="2.4" fill="#111"/>
<circle cx="1068.44" cy="1264.39" r="2.4" fill="#111"/>
<circle cx="1078.01" cy="1263.7" r="2.4" fill="#111"/>
<circle cx="1079.72" cy="1285.57" r="2.4" fill="#111"/>
<circle cx="1083.13" cy="1295.48" r="2.4" fill="#111"/>
<circle cx="1084.5" cy="1309.83" r="2.4" fill="#111"/>
<circle cx="1071.86" cy="1311.19" r="2.4" fill="#111"/>
<circle cx="1066.05" cy="1314.27" r="2.4" fill="#111"/>
<circle cx="1061.95" cy="1321.1" r="2.4" fill="#111"/>
<circle cx="1086.55" cy="1325.88" r="2.4" fill="#111"/>
<circle cx="1082.11" cy="1327.59" r="2.4" fill="#111"/>
<circle cx="1078.01" cy="1334.77" r="2.4" fill="#111"/>
<circle cx="1073.57" cy="1338.18" r="2.4" fill="#111"/>
<circle cx="1083.13" cy="1343.31" r="2.4" fill="#111"/>
<circle cx="1086.21" cy="1345.02" r="2.4" fill="#111"/>
<circle cx="1138.48" cy="1245.94" r="2.4" fill="#111"/>
<circle cx="1122.08" cy="1291.04" r="2.4" fill="#111"/>
<circle cx="1119.01" cy="1332.72" r="2.4" fill="#111"/>
<circle cx="1140.19" cy="1334.42" r="2.4" fill="#111"/>
<circle cx="1135.75" cy="1349.12" r="2.4" fill="#111"/>
<circle cx="1180.5" cy="1262" r="2.4" fill="#111"/>
<circle cx="1165.81" cy="1302.99" r="2.4" fill="#111"/>
<circle cx="1161.71" cy="1347.41" r="2.4" fill="#111"/>
<circle cx="1183.58" cy="1346.04" r="2.4" fill="#111"/>
<text x="943.7" y="1223.4" font-size="15.4" fill="#383838" text-anchor="middle" font-style="italic">MYH7:MYH6</text>
<text x="1123.1" y="1223.4" font-size="15.4" fill="#383838" text-anchor="middle" font-style="italic">MYL2:MYL7</text>
<text font-size="14.3" fill="#383838" text-anchor="end" textLength="50.4" lengthAdjust="spacingAndGlyphs" transform="translate(903.8,1376.5) rotate(-35)">Human</text>
<text font-size="14.3" fill="#383838" text-anchor="end" textLength="46.8" lengthAdjust="spacingAndGlyphs" transform="translate(947.2,1376.5) rotate(-35)">Chimp</text>
<text font-size="14.3" fill="#383838" text-anchor="end" textLength="48.9" lengthAdjust="spacingAndGlyphs" transform="translate(992,1376.5) rotate(-35)">Rhesus</text>
<text font-size="14.3" fill="#383838" text-anchor="end" textLength="50.4" lengthAdjust="spacingAndGlyphs" transform="translate(1083.9,1376.5) rotate(-35)">Human</text>
<text font-size="14.3" fill="#383838" text-anchor="end" textLength="46.8" lengthAdjust="spacingAndGlyphs" transform="translate(1126.6,1376.5) rotate(-35)">Chimp</text>
<text font-size="14.3" fill="#383838" text-anchor="end" textLength="48.9" lengthAdjust="spacingAndGlyphs" transform="translate(1172,1376.5) rotate(-35)">Rhesus</text>
<text font-size="15.6" fill="#383838" text-anchor="middle" transform="translate(817.5,1290) rotate(-90)">Ratio normalized</text>
<text font-size="15.6" fill="#383838" text-anchor="middle" transform="translate(831.5,1290) rotate(-90)">Ribo-seq counts</text>
</svg></body></html>
